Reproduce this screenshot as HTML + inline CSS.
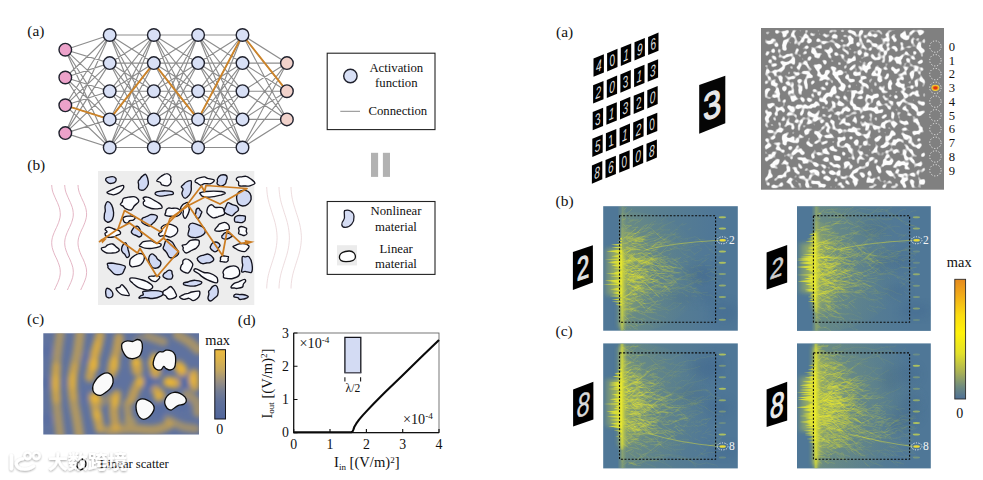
<!DOCTYPE html>
<html lang="en"><head><meta charset="utf-8"><title>Figure</title>
<style>
html,body{margin:0;padding:0;background:#fff;overflow:hidden}
svg{display:block;font-family:'Liberation Serif', 'DejaVu Serif', serif;fill:#111}
</style></head>
<body>
<svg width="983" height="480" viewBox="0 0 983 480">
<rect x="0" y="0" width="983" height="480" fill="#fff"/>
<text x="27.3" y="36.2" font-size="15.4">(a)</text>
<text x="27.3" y="170" font-size="15.4">(b)</text>
<text x="27" y="323.5" font-size="15.4">(c)</text>
<text x="237.8" y="324.9" font-size="15.4">(d)</text>
<text x="556" y="37" font-size="15.4">(a)</text>
<text x="555.6" y="205.6" font-size="15.4">(b)</text>
<text x="555.6" y="336.4" font-size="15.4">(c)</text>
<g id="net">
<path d="M65.3 49.7L109.7 35M65.3 49.7L109.7 63.1M65.3 49.7L109.7 91.2M65.3 49.7L109.7 119.4M65.3 49.7L109.7 147.5M65.3 77.5L109.7 35M65.3 77.5L109.7 63.1M65.3 77.5L109.7 91.2M65.3 77.5L109.7 119.4M65.3 77.5L109.7 147.5M65.3 105.3L109.7 35M65.3 105.3L109.7 63.1M65.3 105.3L109.7 91.2M65.3 105.3L109.7 119.4M65.3 105.3L109.7 147.5M65.3 133.1L109.7 35M65.3 133.1L109.7 63.1M65.3 133.1L109.7 91.2M65.3 133.1L109.7 119.4M65.3 133.1L109.7 147.5M109.7 35L153.8 35M109.7 35L153.8 63.1M109.7 35L153.8 91.2M109.7 35L153.8 119.4M109.7 35L153.8 147.5M109.7 63.1L153.8 35M109.7 63.1L153.8 63.1M109.7 63.1L153.8 91.2M109.7 63.1L153.8 119.4M109.7 63.1L153.8 147.5M109.7 91.2L153.8 35M109.7 91.2L153.8 63.1M109.7 91.2L153.8 91.2M109.7 91.2L153.8 119.4M109.7 91.2L153.8 147.5M109.7 119.4L153.8 35M109.7 119.4L153.8 63.1M109.7 119.4L153.8 91.2M109.7 119.4L153.8 119.4M109.7 119.4L153.8 147.5M109.7 147.5L153.8 35M109.7 147.5L153.8 63.1M109.7 147.5L153.8 91.2M109.7 147.5L153.8 119.4M109.7 147.5L153.8 147.5M153.8 35L198.1 35M153.8 35L198.1 63.1M153.8 35L198.1 91.2M153.8 35L198.1 119.4M153.8 35L198.1 147.5M153.8 63.1L198.1 35M153.8 63.1L198.1 63.1M153.8 63.1L198.1 91.2M153.8 63.1L198.1 119.4M153.8 63.1L198.1 147.5M153.8 91.2L198.1 35M153.8 91.2L198.1 63.1M153.8 91.2L198.1 91.2M153.8 91.2L198.1 119.4M153.8 91.2L198.1 147.5M153.8 119.4L198.1 35M153.8 119.4L198.1 63.1M153.8 119.4L198.1 91.2M153.8 119.4L198.1 119.4M153.8 119.4L198.1 147.5M153.8 147.5L198.1 35M153.8 147.5L198.1 63.1M153.8 147.5L198.1 91.2M153.8 147.5L198.1 119.4M153.8 147.5L198.1 147.5M198.1 35L242.5 35M198.1 35L242.5 63.1M198.1 35L242.5 91.2M198.1 35L242.5 119.4M198.1 35L242.5 147.5M198.1 63.1L242.5 35M198.1 63.1L242.5 63.1M198.1 63.1L242.5 91.2M198.1 63.1L242.5 119.4M198.1 63.1L242.5 147.5M198.1 91.2L242.5 35M198.1 91.2L242.5 63.1M198.1 91.2L242.5 91.2M198.1 91.2L242.5 119.4M198.1 91.2L242.5 147.5M198.1 119.4L242.5 35M198.1 119.4L242.5 63.1M198.1 119.4L242.5 91.2M198.1 119.4L242.5 119.4M198.1 119.4L242.5 147.5M198.1 147.5L242.5 35M198.1 147.5L242.5 63.1M198.1 147.5L242.5 91.2M198.1 147.5L242.5 119.4M198.1 147.5L242.5 147.5M242.5 35L286.9 63.1M242.5 35L286.9 91.2M242.5 35L286.9 119.4M242.5 63.1L286.9 63.1M242.5 63.1L286.9 91.2M242.5 63.1L286.9 119.4M242.5 91.2L286.9 63.1M242.5 91.2L286.9 91.2M242.5 91.2L286.9 119.4M242.5 119.4L286.9 63.1M242.5 119.4L286.9 91.2M242.5 119.4L286.9 119.4M242.5 147.5L286.9 63.1M242.5 147.5L286.9 91.2M242.5 147.5L286.9 119.4" stroke="#8d8d8d" stroke-width="1.15" fill="none"/>
<polyline points="65.3,105.3 109.7,119.4 153.8,63.1 198.1,119.4 242.5,35 286.9,91.2" stroke="#cc842a" stroke-width="1.9" fill="none" stroke-linejoin="round"/>
<circle cx="65.3" cy="49.7" r="6.3" fill="#eca2ca" stroke="#20222e" stroke-width="1.4"/>
<circle cx="65.3" cy="77.5" r="6.3" fill="#eca2ca" stroke="#20222e" stroke-width="1.4"/>
<circle cx="65.3" cy="105.3" r="6.3" fill="#eca2ca" stroke="#20222e" stroke-width="1.4"/>
<circle cx="65.3" cy="133.1" r="6.3" fill="#eca2ca" stroke="#20222e" stroke-width="1.4"/>
<circle cx="109.7" cy="35" r="6.3" fill="#d8e0f6" stroke="#20222e" stroke-width="1.4"/>
<circle cx="109.7" cy="63.1" r="6.3" fill="#d8e0f6" stroke="#20222e" stroke-width="1.4"/>
<circle cx="109.7" cy="91.2" r="6.3" fill="#d8e0f6" stroke="#20222e" stroke-width="1.4"/>
<circle cx="109.7" cy="119.4" r="6.3" fill="#d8e0f6" stroke="#20222e" stroke-width="1.4"/>
<circle cx="109.7" cy="147.5" r="6.3" fill="#d8e0f6" stroke="#20222e" stroke-width="1.4"/>
<circle cx="153.8" cy="35" r="6.3" fill="#d8e0f6" stroke="#20222e" stroke-width="1.4"/>
<circle cx="153.8" cy="63.1" r="6.3" fill="#d8e0f6" stroke="#20222e" stroke-width="1.4"/>
<circle cx="153.8" cy="91.2" r="6.3" fill="#d8e0f6" stroke="#20222e" stroke-width="1.4"/>
<circle cx="153.8" cy="119.4" r="6.3" fill="#d8e0f6" stroke="#20222e" stroke-width="1.4"/>
<circle cx="153.8" cy="147.5" r="6.3" fill="#d8e0f6" stroke="#20222e" stroke-width="1.4"/>
<circle cx="198.1" cy="35" r="6.3" fill="#d8e0f6" stroke="#20222e" stroke-width="1.4"/>
<circle cx="198.1" cy="63.1" r="6.3" fill="#d8e0f6" stroke="#20222e" stroke-width="1.4"/>
<circle cx="198.1" cy="91.2" r="6.3" fill="#d8e0f6" stroke="#20222e" stroke-width="1.4"/>
<circle cx="198.1" cy="119.4" r="6.3" fill="#d8e0f6" stroke="#20222e" stroke-width="1.4"/>
<circle cx="198.1" cy="147.5" r="6.3" fill="#d8e0f6" stroke="#20222e" stroke-width="1.4"/>
<circle cx="242.5" cy="35" r="6.3" fill="#d8e0f6" stroke="#20222e" stroke-width="1.4"/>
<circle cx="242.5" cy="63.1" r="6.3" fill="#d8e0f6" stroke="#20222e" stroke-width="1.4"/>
<circle cx="242.5" cy="91.2" r="6.3" fill="#d8e0f6" stroke="#20222e" stroke-width="1.4"/>
<circle cx="242.5" cy="119.4" r="6.3" fill="#d8e0f6" stroke="#20222e" stroke-width="1.4"/>
<circle cx="242.5" cy="147.5" r="6.3" fill="#d8e0f6" stroke="#20222e" stroke-width="1.4"/>
<circle cx="286.9" cy="63.1" r="6.3" fill="#f1d2cb" stroke="#20222e" stroke-width="1.4"/>
<circle cx="286.9" cy="91.2" r="6.3" fill="#f1d2cb" stroke="#20222e" stroke-width="1.4"/>
<circle cx="286.9" cy="119.4" r="6.3" fill="#f1d2cb" stroke="#20222e" stroke-width="1.4"/>
</g>
<g id="lega">
<rect x="327.2" y="53.2" width="107.8" height="76.4" fill="#fff" stroke="#222" stroke-width="1.1"/>
<circle cx="350.4" cy="76" r="6.7" fill="#d8e0f6" stroke="#20222e" stroke-width="1.4"/>
<text x="396.3" y="72.2" font-size="12.75" text-anchor="middle">Activation</text>
<text x="396.3" y="86.6" font-size="12.75" text-anchor="middle">function</text>
<line x1="340.3" y1="111.3" x2="360" y2="111.3" stroke="#8a8a8a" stroke-width="1"/>
<text x="397.8" y="114.8" font-size="12.75" text-anchor="middle">Connection</text>
<rect x="371" y="152.8" width="7.1" height="24.1" fill="#b2b2b2"/>
<rect x="382.9" y="152.8" width="7.1" height="24.1" fill="#b2b2b2"/>
</g>
<g id="legb">
<rect x="327.2" y="201.5" width="107.8" height="72.9" fill="#fff" stroke="#222" stroke-width="1.1"/>
<path d="M344.6 210.6C348.5 209.2 353.6 211.2 354 216.6C354.4 222.4 350.4 227.4 345.4 227.4C340.6 227.4 341.2 223 343.6 220.2C346 217.4 343.2 213.4 344.6 210.6Z" fill="#d5dcf3" stroke="#1c1c28" stroke-width="1.3"/>
<rect x="337" y="245.2" width="20" height="20.2" fill="#ebebeb"/>
<path d="M339.4 257.2C339.4 253.2 344 251.2 349 251C353.4 250.8 355.6 254.2 355.4 257.2C355.2 260.4 350.4 261.6 346 261.6C342.4 261.6 339.4 260.4 339.4 257.2Z" fill="#fff" stroke="#111" stroke-width="1.3"/>
<text x="396" y="215.4" font-size="12.75" text-anchor="middle">Nonlinear</text>
<text x="396" y="230.7" font-size="12.75" text-anchor="middle">material</text>
<text x="396.2" y="252.6" font-size="12.75" text-anchor="middle">Linear</text>
<text x="396" y="267.6" font-size="12.75" text-anchor="middle">material</text>
</g>
<g id="scat">
<rect x="98" y="171" width="156.3" height="134" fill="#ededed"/>
<polyline points="51.7,185 51.9,187.5 52.3,190 53,192.5 54,195 55.1,197.5 56.2,200 57.4,202.5 58.4,205 59.3,207.5 59.9,210 60.2,212.5 60.3,215 60,217.5 59.4,220 58.6,222.5 57.6,225 56.5,227.5 55.3,230 54.2,232.5 53.2,235 52.4,237.5 51.9,240 51.7,242.5 51.8,245 52.2,247.5 52.9,250 53.8,252.5 54.8,255 56,257.5 57.2,260 58.2,262.5 59.1,265 59.8,267.5 60.2,270 60.3,272.5 60.1,275 59.6,277.5 58.8,280 57.8,282.5 56.7,285 55.5,287.5 54.4,290" fill="none" stroke="#dfa9bb" stroke-width="0.85"/>
<polyline points="64.7,185 64.9,187.5 65.3,190 66,192.5 67,195 68.1,197.5 69.2,200 70.4,202.5 71.4,205 72.3,207.5 72.9,210 73.2,212.5 73.3,215 73,217.5 72.4,220 71.6,222.5 70.6,225 69.5,227.5 68.3,230 67.2,232.5 66.2,235 65.4,237.5 64.9,240 64.7,242.5 64.8,245 65.2,247.5 65.9,250 66.8,252.5 67.8,255 69,257.5 70.2,260 71.2,262.5 72.1,265 72.8,267.5 73.2,270 73.3,272.5 73.1,275 72.6,277.5 71.8,280 70.8,282.5 69.7,285 68.5,287.5 67.4,290" fill="none" stroke="#dfa9bb" stroke-width="0.85"/>
<polyline points="78,185 78.2,187.5 78.6,190 79.3,192.5 80.3,195 81.4,197.5 82.5,200 83.7,202.5 84.7,205 85.6,207.5 86.2,210 86.5,212.5 86.6,215 86.3,217.5 85.7,220 84.9,222.5 83.9,225 82.8,227.5 81.6,230 80.5,232.5 79.5,235 78.7,237.5 78.2,240 78,242.5 78.1,245 78.5,247.5 79.2,250 80.1,252.5 81.1,255 82.3,257.5 83.5,260 84.5,262.5 85.4,265 86.1,267.5 86.5,270 86.6,272.5 86.4,275 85.9,277.5 85.1,280 84.1,282.5 83,285 81.8,287.5 80.7,290" fill="none" stroke="#dfa9bb" stroke-width="0.85"/>
<polyline points="266.7,187 266.8,189.5 267,192.1 267.3,194.6 267.7,197.2 268.2,199.7 268.8,202.2 269.5,204.8 270.3,207.3 271.1,209.8 271.9,212.4 272.7,214.9 273.5,217.4 274.3,220 275,222.5 275.6,225.1 276.1,227.6 276.5,230.1 276.8,232.7 277,235.2 277.1,237.8 277,240.3 276.8,242.8 276.5,245.4 276.1,247.9 275.6,250.4 275,253 274.3,255.5 273.5,258.1 272.7,260.6 271.9,263.1 271.1,265.7 270.3,268.2 269.5,270.7 268.8,273.3 268.2,275.8 267.7,278.4 267.3,280.9 267,283.4 266.8,286 266.7,288.5" fill="none" stroke="#e9d3d6" stroke-width="0.8"/>
<polyline points="279,187 279.1,189.5 279.3,192.1 279.6,194.6 280,197.2 280.5,199.7 281.1,202.2 281.8,204.8 282.6,207.3 283.4,209.8 284.2,212.4 285,214.9 285.8,217.4 286.6,220 287.3,222.5 287.9,225.1 288.4,227.6 288.8,230.1 289.1,232.7 289.3,235.2 289.4,237.8 289.3,240.3 289.1,242.8 288.8,245.4 288.4,247.9 287.9,250.4 287.3,253 286.6,255.5 285.8,258.1 285,260.6 284.2,263.1 283.4,265.7 282.6,268.2 281.8,270.7 281.1,273.3 280.5,275.8 280,278.4 279.6,280.9 279.3,283.4 279.1,286 279,288.5" fill="none" stroke="#e9d3d6" stroke-width="0.8"/>
<polyline points="291,187 291.1,189.5 291.3,192.1 291.6,194.6 292,197.2 292.5,199.7 293.1,202.2 293.8,204.8 294.6,207.3 295.4,209.8 296.2,212.4 297,214.9 297.8,217.4 298.6,220 299.3,222.5 299.9,225.1 300.4,227.6 300.8,230.1 301.1,232.7 301.3,235.2 301.4,237.8 301.3,240.3 301.1,242.8 300.8,245.4 300.4,247.9 299.9,250.4 299.3,253 298.6,255.5 297.8,258.1 297,260.6 296.2,263.1 295.4,265.7 294.6,268.2 293.8,270.7 293.1,273.3 292.5,275.8 292,278.4 291.6,280.9 291.3,283.4 291.1,286 291,288.5" fill="none" stroke="#e9d3d6" stroke-width="0.8"/>
<path d="M116.1 180C116.1 180.7 115.7 181.3 115.1 181.9C114.5 182.4 113.7 183 112.7 183.2C111.7 183.5 110.2 183.6 109.2 183.4C108.3 183.2 107.6 182.4 107 181.8C106.4 181.3 105.7 180.6 105.6 180C105.6 179.4 105.9 178.5 106.5 178C107.2 177.5 108.4 177.3 109.5 177.1C110.5 176.9 111.7 176.5 112.7 176.7C113.7 176.8 114.9 177.4 115.5 178C116.1 178.5 116.2 179.3 116.1 180Z" fill="#d0d9f4" stroke="#12121e" stroke-width="1.35"/>
<path d="M148.3 184.1C147.8 185.9 146.1 188.2 144.9 189.2C143.7 190.2 142.2 190.3 141.1 190.2C140.1 190.1 139.1 189.3 138.7 188.4C138.3 187.4 138.7 185.6 138.6 184.5C138.5 183.3 137.9 182.3 138.2 181.4C138.4 180.5 139.4 179.8 140.1 178.9C140.7 178.1 141.1 177.2 142.1 176.4C143 175.6 144.7 174 145.6 174.3C146.5 174.6 147.1 176.6 147.6 178.2C148 179.8 148.7 182.3 148.3 184.1Z" fill="#d0d9f4" stroke="#12121e" stroke-width="1.35"/>
<path d="M170.6 179.1C170.7 180 171.6 180.8 171.2 181.9C170.8 183 169.7 185.1 168.2 185.6C166.7 186.1 163.5 185.4 162.1 184.9C160.8 184.3 161.1 182.9 160.2 182.3C159.4 181.6 157 181.6 156.7 181C156.5 180.4 157.8 179.3 158.5 178.5C159.3 177.7 159.9 177.1 161.2 176.3C162.5 175.5 164.9 173.6 166.5 173.6C168 173.5 169.9 175.1 170.6 176.1C171.3 177 170.5 178.1 170.6 179.1Z" fill="#fbfcfe" stroke="#12121e" stroke-width="1.35"/>
<path d="M214.3 180C214.8 180.9 212.3 183 210.7 183.6C209.1 184.2 206.2 183.4 204.5 183.7C202.9 184 201.9 185.2 200.8 185.2C199.7 185.2 198.9 184.1 197.9 183.5C197 182.9 195.3 182.4 195.1 181.7C194.9 180.9 195.6 179.7 196.5 179C197.3 178.3 199 178 200.3 177.6C201.7 177.2 203.3 176.8 204.5 176.9C205.7 177 206.1 177.8 207.7 178.4C209.3 178.9 213.8 179.1 214.3 180Z" fill="#fbfcfe" stroke="#12121e" stroke-width="1.35"/>
<path d="M227.2 177.4C227.4 178.3 226.7 179.4 226.4 180.4C226 181.4 226.2 182.7 225.4 183.7C224.5 184.6 222.3 185.9 221.1 186.1C219.9 186.3 218.9 185.3 218.2 184.8C217.5 184.4 217.1 183.9 217 183.3C216.9 182.7 217.4 182.1 217.5 181.4C217.6 180.7 216.9 179.9 217.5 178.8C218 177.8 219.5 175.9 220.8 175.2C222.2 174.6 224.3 174.7 225.4 175C226.5 175.4 227.1 176.5 227.2 177.4Z" fill="#d0d9f4" stroke="#12121e" stroke-width="1.35"/>
<path d="M255 183.2C254.8 184.3 251.6 185.3 249.9 185.8C248.1 186.3 246.1 186 244.3 186C242.5 186 239.9 186.3 239 185.6C238 185 239 182.9 238.6 182C238.1 181 236.6 180.6 236.4 179.9C236.2 179.1 236.6 178 237.4 177.5C238.2 177 239.8 177 241.3 176.8C242.8 176.6 244.7 176 246.3 176.4C247.9 176.7 249.4 177.9 250.9 179C252.3 180.2 255.1 182 255 183.2Z" fill="#fbfcfe" stroke="#12121e" stroke-width="1.35"/>
<path d="M123.7 187.5C123.6 188.3 122.9 189.1 122.1 190C121.4 190.9 120.5 192.1 119 192.9C117.6 193.7 114.9 194.6 113.5 194.8C112.1 195 111.5 194.4 110.6 194.2C109.8 194 109.1 194 108.5 193.6C107.9 193.3 106.6 192.7 107.2 192.1C107.8 191.4 110.6 190.4 112.1 189.7C113.6 188.9 114.6 188.3 116.3 187.5C118.1 186.8 121.6 185.3 122.8 185.3C124 185.3 123.8 186.7 123.7 187.5Z" fill="#fbfcfe" stroke="#12121e" stroke-width="1.35"/>
<path d="M173 194.2C172.3 194.8 169.2 194.9 167.8 195.1C166.4 195.4 165.9 195.6 164.5 195.7C163.2 195.9 161.2 196.3 159.7 196.1C158.2 195.9 156.2 195.1 155.5 194.5C154.8 194 155.1 193.2 155.5 192.7C155.9 192.2 157 191.9 157.9 191.6C158.8 191.4 159.8 191.4 161 191.2C162.3 191.1 163.6 190.7 165.4 190.8C167.3 190.9 170.9 191.2 172.2 191.7C173.5 192.3 173.8 193.7 173 194.2Z" fill="#d0d9f4" stroke="#12121e" stroke-width="1.35"/>
<path d="M191.2 190.4C190.9 191.8 190.5 193.6 189.4 194.9C188.3 196.2 186.1 198.4 184.9 198.2C183.6 198 182.2 195.1 181.9 193.6C181.6 192.1 183.2 190.4 183.1 189.3C183 188.1 181.3 187.6 181.3 186.8C181.4 185.9 182.7 185.3 183.5 184.5C184.3 183.7 184.9 182.6 186.2 182C187.4 181.4 190.2 180 191.1 180.8C191.9 181.5 191.2 184.7 191.2 186.3C191.2 187.9 191.5 188.9 191.2 190.4Z" fill="#d0d9f4" stroke="#12121e" stroke-width="1.35"/>
<path d="M225.2 193.2C225 193.8 222.4 194.6 220.6 195.2C218.7 195.7 216.7 196.2 214.2 196.6C211.7 196.9 207.9 197.4 205.8 197.2C203.7 197.1 202.6 196.2 201.8 195.8C200.9 195.3 201 195 200.7 194.5C200.4 194 199.2 193.4 200 192.9C200.9 192.4 203.7 191.8 206 191.5C208.2 191.2 211.1 191.1 213.7 191.1C216.3 191.1 219.6 191.2 221.5 191.5C223.4 191.9 225.3 192.6 225.2 193.2Z" fill="#fbfcfe" stroke="#12121e" stroke-width="1.35"/>
<path d="M251.1 199.3C250.7 201.2 249.2 203.2 247.8 204.3C246.5 205.4 244.3 206 242.7 206C241.1 205.9 239.4 205 238.4 204C237.4 203.1 237.2 201.3 236.9 200.1C236.6 198.9 236.5 197.9 236.6 196.8C236.8 195.6 237 194.3 237.7 193.4C238.4 192.4 239.5 191.5 240.8 191C242.1 190.5 243.9 189.9 245.5 190.3C247 190.7 249.1 191.9 250 193.4C250.9 194.9 251.4 197.5 251.1 199.3Z" fill="#d0d9f4" stroke="#12121e" stroke-width="1.35"/>
<path d="M138.8 201.2C138.7 202.7 135.7 204.3 134.4 205.8C133.1 207.3 132.7 209.6 131.2 210C129.7 210.5 126.7 209.1 125.4 208.5C124 207.8 123.9 206.8 123 206.1C122.2 205.5 120.5 205.2 120.3 204.4C120.2 203.7 121.7 202.9 122.2 201.9C122.7 200.9 122.4 199.3 123.4 198.5C124.4 197.7 126.3 197.5 128.2 197.2C130.2 197 133.3 196.2 135 196.9C136.8 197.5 139 199.7 138.8 201.2Z" fill="#fbfcfe" stroke="#12121e" stroke-width="1.35"/>
<path d="M162 207.8C161.5 208.6 159.2 208.6 157.5 208.8C155.7 208.9 153.7 209.1 151.4 208.5C149.2 207.9 145.3 206.4 144 205.3C142.7 204.2 143.3 202.7 143.4 201.9C143.6 201.2 144.8 201.5 144.7 200.8C144.7 200.2 142.7 198.6 143.1 198C143.6 197.4 145.5 196.8 147.4 197.2C149.2 197.5 152 199.1 154.2 200.3C156.3 201.4 158.9 202.8 160.2 204C161.5 205.3 162.4 207 162 207.8Z" fill="#fbfcfe" stroke="#12121e" stroke-width="1.35"/>
<path d="M113.6 212.5C113.8 214.8 113.1 217.5 112.5 219C111.9 220.5 110.8 221.2 109.9 221.7C109 222.2 108.1 222.4 107.1 222C106.2 221.6 104.8 220.7 104.4 219.3C103.9 217.9 104.4 215.1 104.5 213.7C104.7 212.4 105.2 212.4 105.3 211.1C105.4 209.8 104.7 207.6 105.1 206C105.5 204.5 106.5 201.8 107.6 201.6C108.7 201.4 110.6 203 111.6 204.8C112.6 206.6 113.4 210.1 113.6 212.5Z" fill="#d0d9f4" stroke="#12121e" stroke-width="1.35"/>
<path d="M189.3 210.1C189.1 211.5 188.5 213 187.9 214.4C187.2 215.8 186 218.3 185.2 218.3C184.3 218.4 183.3 215.9 183 214.6C182.7 213.4 183.7 211.8 183.3 210.8C182.9 209.8 180.7 209.5 180.6 208.6C180.5 207.6 181.8 205.8 182.5 205C183.2 204.1 184 203.9 184.9 203.5C185.7 203.1 187 202.1 187.6 202.6C188.2 203 188.4 204.9 188.7 206.2C189 207.4 189.4 208.7 189.3 210.1Z" fill="#fbfcfe" stroke="#12121e" stroke-width="1.35"/>
<path d="M181.3 212.3C181.3 213.6 178.8 215.6 177.2 216.2C175.6 216.9 173.2 216.2 171.7 216.2C170.2 216.2 169.4 216.4 168.3 216.2C167.2 216 165.5 215.7 165 215C164.6 214.4 165.6 213.1 165.7 212.3C165.9 211.5 165.7 210.9 166.1 210.2C166.5 209.5 167.2 208.4 168.2 208.1C169.1 207.7 170.3 208.2 171.8 208.3C173.3 208.3 175.6 207.8 177.2 208.4C178.7 209.1 181.3 211 181.3 212.3Z" fill="#fbfcfe" stroke="#12121e" stroke-width="1.35"/>
<path d="M224.4 214.1C223.6 215.6 219.7 216.1 217.9 216.8C216 217.4 214.7 218.1 213.3 217.9C211.9 217.7 210.6 216.3 209.5 215.5C208.5 214.6 207.4 213.8 207 212.8C206.6 211.8 206.9 210.6 207.2 209.5C207.4 208.4 207.6 207.2 208.5 206.4C209.3 205.6 211 204.6 212.1 204.8C213.2 204.9 213.5 206.8 215.2 207.3C217 207.9 221 206.7 222.5 207.8C224 209 225.2 212.7 224.4 214.1Z" fill="#fbfcfe" stroke="#12121e" stroke-width="1.35"/>
<path d="M238.5 210.1C238.2 211.2 236.2 212 235.1 213C234 213.9 233.2 215.6 232 215.8C230.7 216 228.7 214.9 227.5 214.3C226.2 213.6 224.9 212.9 224.4 212C224 211.1 224.6 209.8 224.8 208.9C225 207.9 225.3 207.4 225.9 206.4C226.4 205.3 226.9 202.9 228 202.6C229.1 202.4 230.9 204.1 232.4 204.6C233.8 205.2 235.8 205.2 236.8 206.1C237.8 207 238.7 208.9 238.5 210.1Z" fill="#d0d9f4" stroke="#12121e" stroke-width="1.35"/>
<path d="M200.9 214.3C200.6 215.1 200.5 216 200 216.7C199.5 217.4 198.4 218.6 197.8 218.6C197.1 218.6 196.4 217.4 196 216.8C195.6 216.1 195.3 215.4 195.3 214.6C195.3 213.9 195.8 213.3 195.9 212.5C196.1 211.6 195.8 210 196.3 209.3C196.8 208.6 198.2 208.1 198.9 208.3C199.5 208.5 199.8 209.9 200.3 210.4C200.8 211 201.8 211.1 201.9 211.8C202 212.4 201.2 213.5 200.9 214.3Z" fill="#d0d9f4" stroke="#12121e" stroke-width="1.35"/>
<path d="M245.3 218.5C245.3 219.3 245.4 220.1 244.9 220.7C244.4 221.4 243.2 222.2 242.2 222.5C241.2 222.7 239.8 222.5 238.6 222.3C237.4 222.2 235.8 222.2 235.1 221.8C234.4 221.3 234.4 220.2 234.4 219.5C234.4 218.7 234.4 217.9 235 217.2C235.6 216.6 236.9 216 237.9 215.7C239 215.4 240.2 215.5 241.4 215.6C242.6 215.7 244.4 215.6 245.1 216.1C245.8 216.6 245.4 217.8 245.3 218.5Z" fill="#d0d9f4" stroke="#12121e" stroke-width="1.35"/>
<path d="M135.1 217.2C135.4 217.9 134.1 219.5 133.2 220.1C132.3 220.7 130.6 220.2 129.7 220.7C128.8 221.2 128.5 222.7 127.7 223C126.9 223.3 125.4 222.8 124.7 222.4C124 222 123.7 221.1 123.4 220.3C123.2 219.5 122.7 218.5 123.1 217.8C123.6 217.1 125.2 216.6 126.1 216.3C127.1 216 127.9 216.1 128.8 216.1C129.7 216.1 130.4 215.9 131.4 216.1C132.5 216.3 134.8 216.5 135.1 217.2Z" fill="#fbfcfe" stroke="#12121e" stroke-width="1.35"/>
<path d="M155.1 221.2C154.3 222.4 153.4 222.9 152.5 223.7C151.5 224.5 150.6 225.8 149.5 226C148.3 226.2 146.8 225.3 145.5 224.7C144.3 224.1 142.6 223.5 142 222.5C141.4 221.5 141.5 219.8 142 218.9C142.5 218 144.1 217.6 145.1 217.1C146 216.6 146.5 216.5 147.6 216.1C148.7 215.6 150.1 214.3 151.7 214.3C153.3 214.4 156.7 215.3 157.3 216.4C157.8 217.6 155.9 220 155.1 221.2Z" fill="#d0d9f4" stroke="#12121e" stroke-width="1.35"/>
<path d="M120.5 233.7C120.1 234.5 118 234.8 116.8 235.4C115.6 236 114.8 236.8 113.2 237C111.6 237.3 108.5 237.4 107.1 236.8C105.7 236.2 104.9 234.5 104.9 233.6C104.9 232.8 107.1 232.5 107.1 231.8C107.2 231 104.8 229.9 105 229.2C105.3 228.4 107.1 227.2 108.6 227.1C110.1 227.1 112.2 228.4 113.9 229C115.7 229.6 118 229.8 119.1 230.6C120.2 231.4 120.9 232.9 120.5 233.7Z" fill="#fbfcfe" stroke="#12121e" stroke-width="1.35"/>
<path d="M141.9 234.7C141.7 235.6 140.2 236.9 139.3 237C138.3 237.1 136.9 235.8 136 235.3C135 234.9 134.2 235 133.4 234.5C132.6 233.9 131.4 232.9 131.3 232.1C131.2 231.2 132.1 230.1 132.6 229.3C133.1 228.5 133.6 227.6 134.5 227.1C135.3 226.6 136.8 225.9 137.7 226.3C138.6 226.6 139.3 228.1 139.8 229C140.2 229.9 140 230.5 140.4 231.4C140.7 232.3 142 233.7 141.9 234.7Z" fill="#d0d9f4" stroke="#12121e" stroke-width="1.35"/>
<path d="M177.5 228.5C178 229.8 177.8 231.9 176.7 233.4C175.6 234.8 172.8 236.8 170.8 237.1C168.8 237.5 166.6 235.6 164.8 235.5C163 235.3 161 236.5 160 236.2C159 235.9 158.4 234.4 158.7 233.5C159.1 232.7 161.6 232.2 162 231.1C162.4 230 160.5 228.2 161.4 227.1C162.3 225.9 165.4 224.5 167.4 224.2C169.4 223.9 171.8 224.7 173.4 225.4C175.1 226.1 176.9 227.2 177.5 228.5Z" fill="#fbfcfe" stroke="#12121e" stroke-width="1.35"/>
<path d="M204.8 233.1C204.3 234.4 202.6 235.4 201 236.2C199.4 236.9 197.3 237.8 195.1 237.7C193 237.6 189.3 236.6 188.2 235.5C187.2 234.3 188.7 231.8 188.9 230.7C189 229.6 189.3 229.6 189.3 228.9C189.2 228.2 188.3 227.2 188.7 226.3C189.1 225.3 190.2 223.4 191.7 223.2C193.3 222.9 196.1 223.9 198.2 224.8C200.3 225.6 203.3 226.9 204.4 228.3C205.5 229.7 205.4 231.8 204.8 233.1Z" fill="#d0d9f4" stroke="#12121e" stroke-width="1.35"/>
<path d="M229.2 226.7C229.3 227.5 229.9 228.6 229 229.2C228.2 229.8 225.7 229.9 224.1 230.3C222.5 230.6 221 231.2 219.5 231.2C218 231.2 215.5 230.9 214.9 230.4C214.3 229.8 215.6 228.5 216.1 227.8C216.5 227.2 217.2 226.9 217.7 226.3C218.2 225.7 218 224.9 219.1 224.2C220.3 223.6 222.9 222.3 224.5 222.3C226 222.3 227.5 223.6 228.3 224.4C229.1 225.1 229.1 225.9 229.2 226.7Z" fill="#fbfcfe" stroke="#12121e" stroke-width="1.35"/>
<path d="M246.2 231C246.2 231.9 247.2 233 246.9 233.7C246.5 234.5 245.2 235.3 244.3 235.5C243.4 235.7 242.3 235 241.3 234.7C240.4 234.4 239 234.2 238.6 233.6C238.3 233 239.1 231.9 239.1 231C239.1 230.1 238.3 229.1 238.6 228.3C238.9 227.6 240.1 226.7 241 226.5C241.9 226.3 243.1 226.9 244.1 227.2C245 227.5 246.3 227.8 246.6 228.4C247 229.1 246.1 230.1 246.2 231Z" fill="#fbfcfe" stroke="#12121e" stroke-width="1.35"/>
<path d="M232.4 236C232.3 236.5 230.9 237.1 230.2 237.5C229.5 238 229 238.4 228.1 238.7C227.2 238.9 226 239.2 225 239.1C224 238.9 222.8 238.4 222.2 237.9C221.7 237.4 221.7 236.6 221.9 236C222 235.4 222.7 235 223.2 234.5C223.7 233.9 224.1 233 224.9 232.8C225.8 232.6 227.2 233 228.2 233.2C229.1 233.5 229.9 233.8 230.6 234.3C231.3 234.7 232.5 235.5 232.4 236Z" fill="#d0d9f4" stroke="#12121e" stroke-width="1.35"/>
<path d="M119.3 249.9C119.3 250.8 117.2 252.1 115.9 252.6C114.5 253.1 112.6 253 111.1 253.1C109.5 253.1 108 253.3 106.7 253C105.4 252.7 104 251.9 103.1 251.1C102.2 250.3 101 249 101.4 248.3C101.7 247.6 104.4 247.4 105.4 246.9C106.5 246.3 106.4 245.4 107.6 245C108.8 244.5 111.2 243.7 112.6 244C114 244.3 114.8 245.8 116 246.7C117.1 247.7 119.3 248.9 119.3 249.9Z" fill="#fbfcfe" stroke="#12121e" stroke-width="1.35"/>
<path d="M128.1 249.7C128.5 251.3 129.6 254 129.4 255.3C129.2 256.6 127.7 257.8 126.9 257.6C126.2 257.4 125.3 255 124.7 254.2C124.1 253.4 123.8 253.7 123.3 253.1C122.7 252.4 121.8 251.4 121.6 250.3C121.4 249.2 121.8 247.6 122.2 246.6C122.5 245.6 123 245 123.6 244.3C124.1 243.7 124.9 242.4 125.5 242.7C126.2 242.9 126.8 244.8 127.3 246C127.7 247.2 127.8 248.2 128.1 249.7Z" fill="#d0d9f4" stroke="#12121e" stroke-width="1.35"/>
<path d="M160.8 243.9C161.6 244.5 161.2 245.8 159.7 246.6C158.2 247.3 154.4 248.1 151.9 248.3C149.5 248.6 146.6 248.4 144.9 248.1C143.1 247.9 142.5 247.3 141.6 246.9C140.7 246.5 139.5 246.2 139.3 245.7C139.2 245.3 140.1 244.8 140.8 244.1C141.5 243.4 141.7 242.3 143.5 241.7C145.2 241.2 149.4 240.8 151.3 240.9C153.3 241.1 153.6 242.2 155.1 242.7C156.7 243.1 160 243.2 160.8 243.9Z" fill="#fbfcfe" stroke="#12121e" stroke-width="1.35"/>
<path d="M175.1 246.8C176.2 248.6 178.8 251 178.7 252.8C178.6 254.5 176.1 256.4 174.5 257.2C173 258 170.8 258.1 169.5 257.4C168.3 256.7 167.6 254 166.9 253C166.3 252 166.2 252 165.6 251.3C165 250.5 163.4 249.6 163.2 248.6C162.9 247.6 163.6 246.7 164.2 245.2C164.7 243.7 165.3 240.1 166.6 239.6C168 239.1 170.7 240.8 172.1 242C173.5 243.2 174 245 175.1 246.8Z" fill="#d0d9f4" stroke="#12121e" stroke-width="1.35"/>
<path d="M198.9 244.8C198.4 246.2 197.1 247.4 195.9 248.4C194.6 249.3 193.1 249.7 191.5 250.5C189.9 251.3 187.5 253.1 186.1 253C184.7 252.9 183.6 250.9 183.1 250C182.6 249.1 183.4 248.4 183.3 247.6C183.1 246.8 181.7 245.8 182.2 245.3C182.7 244.7 185 245 186.3 244.2C187.7 243.4 188.5 241.1 190.5 240.4C192.5 239.8 197.1 239.4 198.5 240.2C199.8 240.9 199.3 243.4 198.9 244.8Z" fill="#fbfcfe" stroke="#12121e" stroke-width="1.35"/>
<path d="M218.5 247.9C218.1 248.7 218.4 249.6 217.8 250.3C217.2 250.9 216 251.8 215 251.8C214.1 251.8 212.8 250.8 212 250.1C211.2 249.5 210.4 248.5 210.2 247.7C210 246.9 210.6 246 211 245.2C211.3 244.4 211.6 243.7 212.3 243.2C213 242.6 214 242 215 242C215.9 241.9 217.4 242.3 218.2 242.9C219.1 243.5 220 244.7 220.1 245.6C220.1 246.4 218.8 247.1 218.5 247.9Z" fill="#d0d9f4" stroke="#12121e" stroke-width="1.35"/>
<path d="M248.5 247.9C248.2 248.5 247.8 248.8 247.1 249.5C246.5 250.1 245.9 251.4 244.5 251.6C243.1 251.7 240.2 250.9 238.7 250.4C237.2 249.9 236.5 249.2 235.6 248.5C234.6 247.9 232.8 247.1 232.9 246.6C233 246 235 245.6 236 245.1C237.1 244.7 237.9 244.1 239.4 243.9C240.9 243.7 243.4 243.5 245 243.9C246.6 244.2 248.3 245.2 248.9 245.9C249.5 246.6 248.8 247.3 248.5 247.9Z" fill="#fbfcfe" stroke="#12121e" stroke-width="1.35"/>
<path d="M124 270.4C123.5 271.6 123.4 273.1 121.9 273.8C120.4 274.4 116.9 275 114.9 274.3C113 273.6 111.2 270.8 110 269.7C108.9 268.6 108.3 268.3 108 267.7C107.6 267.1 108.1 266.8 108 266.1C107.9 265.4 106.8 264.1 107.4 263.6C107.9 263.1 109.7 263 111.3 263C112.8 263.1 114.2 263.4 116.5 263.9C118.8 264.4 123.8 265.2 125.1 266.3C126.3 267.3 124.5 269.1 124 270.4Z" fill="#d0d9f4" stroke="#12121e" stroke-width="1.35"/>
<path d="M143.9 255.4C144.6 256.6 144.4 258.5 143.9 260.1C143.4 261.6 142 263.6 140.7 264.7C139.3 265.7 137.1 266.1 135.7 266.4C134.2 266.8 133 267 132 266.8C131.1 266.6 130.4 265.9 130 265.2C129.6 264.5 129.6 263.6 129.7 262.6C129.8 261.6 129.7 260.4 130.4 259.2C131.1 258.1 132.6 256.7 134.2 255.8C135.7 254.8 138.2 253.4 139.8 253.3C141.4 253.3 143.2 254.3 143.9 255.4Z" fill="#fbfcfe" stroke="#12121e" stroke-width="1.35"/>
<path d="M160.7 261.7C161.1 262.8 160.6 265 159.9 266C159.1 267.1 157.5 268 156.3 268.2C155.1 268.4 153.6 268 152.6 267.5C151.6 266.9 151.1 265.7 150.5 264.7C149.9 263.7 149.4 262.9 149.1 261.7C148.8 260.4 148.4 258.6 148.9 257.4C149.3 256.1 150.8 254 152 253.9C153.2 253.8 154.9 255.7 155.9 256.6C156.8 257.4 156.7 258.3 157.5 259.1C158.3 260 160.3 260.5 160.7 261.7Z" fill="#d0d9f4" stroke="#12121e" stroke-width="1.35"/>
<path d="M191.3 268.7C190.6 270.1 189.7 272.4 188.4 272.9C187.1 273.4 184.8 272.5 183.5 271.9C182.2 271.2 180.8 270.2 180.5 269.2C180.1 268.1 181 266.3 181.3 265.4C181.7 264.5 182.4 264.5 182.7 263.7C183 262.9 182.4 261.3 183.1 260.5C183.7 259.7 185.2 258.8 186.4 258.9C187.5 258.9 188.8 259.7 189.9 260.5C190.9 261.4 192.5 262.7 192.8 264.1C193 265.4 192.1 267.2 191.3 268.7Z" fill="#fbfcfe" stroke="#12121e" stroke-width="1.35"/>
<path d="M213.7 259.8C213.5 260.9 211.3 262.1 210.1 262.6C208.9 263.1 207.5 262.8 206.2 263C205 263.2 203.8 263.9 202.6 263.7C201.4 263.5 200 262.7 199.1 261.8C198.2 260.9 197 259.3 197.3 258.3C197.5 257.3 199.5 256.4 200.6 255.9C201.7 255.4 202.7 255.5 203.8 255.2C205 254.9 206.3 253.9 207.6 254C208.8 254.1 210.4 255 211.5 256C212.5 256.9 213.9 258.7 213.7 259.8Z" fill="#d0d9f4" stroke="#12121e" stroke-width="1.35"/>
<path d="M228 258.7C228 259.3 228.5 259.8 228.2 260.4C227.9 261 227.1 261.9 226.3 262.1C225.5 262.4 224.2 261.9 223.2 261.8C222.2 261.6 220.7 261.8 220.2 261.4C219.8 261 220.6 260 220.6 259.3C220.7 258.7 220.2 258.2 220.5 257.6C220.8 257 221.5 256.1 222.4 255.8C223.2 255.6 224.4 256.1 225.4 256.2C226.4 256.4 228 256.2 228.4 256.6C228.8 257.1 228.1 258 228 258.7Z" fill="#fbfcfe" stroke="#12121e" stroke-width="1.35"/>
<path d="M252 264C252.4 266.6 252.4 270.8 251.6 272.1C250.7 273.5 248.2 272 247.1 271.9C246 271.8 245.8 271.4 244.9 271.4C243.9 271.4 242 272.8 241.6 271.8C241.2 270.8 242.6 267 242.7 265.3C242.8 263.7 242.2 263.4 242.2 261.9C242.1 260.5 241.9 257.5 242.4 256.7C242.9 255.8 244.1 256.7 245.2 256.8C246.3 256.8 247.9 255.6 249.1 256.9C250.2 258.1 251.6 261.5 252 264Z" fill="#d0d9f4" stroke="#12121e" stroke-width="1.35"/>
<path d="M172.1 273.6C172.3 274.4 172.9 275 172.8 275.9C172.7 276.7 172.4 278.2 171.6 278.7C170.9 279.3 169.2 279.2 168.2 279.1C167.3 279.1 166.5 278.7 165.7 278.3C164.9 277.9 163.6 277.5 163.3 276.8C162.9 276.1 163.1 274.8 163.6 274.1C164 273.3 165.1 272.8 165.9 272.2C166.7 271.6 167.5 270.5 168.4 270.3C169.4 270.1 171 270.4 171.6 270.9C172.2 271.5 171.9 272.8 172.1 273.6Z" fill="#d0d9f4" stroke="#12121e" stroke-width="1.35"/>
<path d="M158.7 279.1C158.3 279.7 157.9 279.9 157.4 280.3C156.8 280.8 156.3 281.5 155.4 281.6C154.6 281.7 153.2 281.3 152.3 280.9C151.4 280.6 150.8 280 150.1 279.3C149.5 278.7 148.4 277.9 148.5 277.3C148.6 276.8 150.1 276.2 150.9 276.1C151.8 275.9 152.7 276.3 153.6 276.2C154.6 276.1 155.6 275.3 156.6 275.4C157.7 275.6 159.5 276.4 159.8 277C160.1 277.6 159.1 278.5 158.7 279.1Z" fill="#fbfcfe" stroke="#12121e" stroke-width="1.35"/>
<path d="M152.7 286.6C153 288 150.7 290 148.3 290.1C146 290.3 140.9 288.5 138.6 287.6C136.2 286.7 135.2 285.3 134.1 284.5C133 283.7 132.8 283.3 132.1 282.6C131.4 282 130.3 281.3 130 280.6C129.7 279.8 129.5 278.5 130.3 278.1C131.2 277.7 133.5 277.9 135.1 278.1C136.8 278.3 138.3 278.7 140.3 279.3C142.2 279.9 144.8 280.4 146.9 281.7C149 282.9 152.5 285.2 152.7 286.6Z" fill="#fbfcfe" stroke="#12121e" stroke-width="1.35"/>
<path d="M217.7 280.1C217.7 281.2 217.9 283 216.2 282.9C214.4 282.8 209.4 280.7 207 279.6C204.5 278.5 202.9 277.3 201.7 276.4C200.4 275.5 200.5 275.1 199.2 274.1C198 273.1 194.5 271.5 194 270.6C193.5 269.7 194.5 268.5 196.2 268.8C197.8 269.1 201.7 271.8 203.9 272.5C206.2 273.2 207.5 272.3 209.6 273.1C211.7 273.8 215 275.6 216.3 276.8C217.7 277.9 217.7 279.1 217.7 280.1Z" fill="#fbfcfe" stroke="#12121e" stroke-width="1.35"/>
<path d="M239.4 270.4C239.8 271.9 240 274.2 238.9 275.5C237.8 276.9 234.6 278 232.7 278.5C230.8 279 228.9 278.6 227.4 278.5C225.9 278.3 224.3 278.2 223.6 277.5C223 276.9 223.7 275.5 223.6 274.6C223.5 273.7 222.8 273.1 223 272.2C223.2 271.3 223.7 270 224.8 269.1C225.9 268.1 227.6 267 229.6 266.5C231.5 266 234.6 265.6 236.2 266.3C237.9 266.9 238.9 268.8 239.4 270.4Z" fill="#fbfcfe" stroke="#12121e" stroke-width="1.35"/>
<path d="M200.7 284.1C200 284.7 198.5 284.9 197.3 285.3C196.2 285.6 195.3 286 193.9 286.1C192.4 286.2 190.4 286.2 188.7 285.9C187 285.7 184.6 285.1 183.8 284.6C183 284 183.5 283.1 184.2 282.7C184.8 282.3 186.9 282.3 187.8 282C188.8 281.8 188.7 281.5 189.9 281.2C191.1 280.9 193.2 280.2 195.2 280.3C197.1 280.4 200.6 281.2 201.5 281.8C202.4 282.4 201.3 283.5 200.7 284.1Z" fill="#d0d9f4" stroke="#12121e" stroke-width="1.35"/>
<path d="M245.6 281.3C245.4 282.1 243.9 283 243.4 284C242.8 285 243.5 286.4 242.4 287.1C241.3 287.9 238 288.3 236.7 288.5C235.3 288.6 235 288.1 234.2 288C233.3 287.9 231.8 288.2 231.4 287.9C230.9 287.6 230.9 286.8 231.4 286.1C231.9 285.3 233 284.2 234.2 283.4C235.4 282.7 236.9 282.4 238.6 281.8C240.3 281.1 243.2 279.4 244.3 279.4C245.5 279.3 245.8 280.5 245.6 281.3Z" fill="#fbfcfe" stroke="#12121e" stroke-width="1.35"/>
<path d="M112.6 292.7C112.9 293.6 113 294.9 112.7 295.7C112.4 296.5 111.6 297.2 110.9 297.5C110.2 297.8 109.4 297.9 108.7 297.8C107.9 297.6 106.9 297.4 106.4 296.7C106 296.1 105.9 294.8 105.8 293.9C105.7 293 105.5 292.1 105.7 291.2C105.8 290.3 106.2 288.8 106.8 288.4C107.4 288 108.6 288.6 109.3 288.9C110.1 289.3 110.6 289.9 111.1 290.5C111.7 291.2 112.4 291.8 112.6 292.7Z" fill="#d0d9f4" stroke="#12121e" stroke-width="1.35"/>
<path d="M129.3 295.3C128.9 296 126.5 295.4 125.2 295.3C123.9 295.1 122.6 295.1 121.4 294.5C120.2 293.9 118.8 292.6 117.9 291.6C117 290.6 115.9 289.2 116 288.6C116.1 287.9 117.6 287.8 118.2 287.6C118.8 287.4 119.1 287.7 119.8 287.2C120.4 286.7 121 284.4 122 284.6C122.9 284.8 124.6 287.2 125.6 288.3C126.6 289.5 127.1 290.4 127.7 291.5C128.4 292.7 129.7 294.7 129.3 295.3Z" fill="#fbfcfe" stroke="#12121e" stroke-width="1.35"/>
<path d="M163.2 292.8C163.6 293.7 162.8 295.2 161 296.1C159.2 297.1 155.1 298.3 152.5 298.5C150 298.8 147.9 297.5 145.7 297.5C143.5 297.4 140.1 298.5 139.2 298.2C138.3 298 139.8 296.6 140.5 296C141.2 295.4 142.9 295.4 143.3 294.6C143.7 293.9 141.8 292.3 143 291.6C144.3 291 148.4 290.9 151 290.7C153.6 290.6 156.7 290.4 158.8 290.8C160.8 291.1 162.8 291.9 163.2 292.8Z" fill="#d0d9f4" stroke="#12121e" stroke-width="1.35"/>
<path d="M175.2 292.2C175.7 293.4 176.9 295 176.5 296.1C176 297.2 173.8 298.3 172.4 298.7C170.9 299.2 168.9 299.2 167.9 298.7C166.8 298.2 166.7 296.6 165.9 295.9C165.2 295.2 163.6 295.1 163.2 294.4C162.8 293.6 162.8 292.1 163.3 291.2C163.9 290.4 165.3 290.1 166.5 289.3C167.7 288.5 169.3 286.5 170.5 286.5C171.7 286.5 172.8 288.5 173.6 289.4C174.4 290.4 174.7 291.1 175.2 292.2Z" fill="#fbfcfe" stroke="#12121e" stroke-width="1.35"/>
<path d="M199.6 295.2C199.3 296.4 198.5 297.5 197.4 298.4C196.3 299.3 194.5 300.6 193.1 300.6C191.7 300.6 190.5 298.5 189 298.3C187.4 298.1 185.3 299.6 183.7 299.3C182.2 299.1 179.5 297.8 179.6 296.9C179.7 296 183 294.8 184.4 294.2C185.8 293.6 187 293.7 188.2 293.4C189.5 293 190 292.4 191.8 292C193.6 291.6 197.8 290.7 199.1 291.2C200.4 291.7 199.9 294 199.6 295.2Z" fill="#fbfcfe" stroke="#12121e" stroke-width="1.35"/>
<path d="M217.7 294.9C217.1 296.4 215.3 297.5 214.1 298.5C212.9 299.5 211.5 301 210.5 301C209.5 301 208.3 299.6 208 298.5C207.7 297.3 208.8 295.3 208.9 294.1C209 293 208.4 292.3 208.6 291.6C208.9 290.8 209.7 290.4 210.4 289.6C211 288.7 211.5 287.3 212.5 286.6C213.4 286 215.2 285.1 216.1 285.6C217 286 217.7 287.8 218 289.4C218.3 290.9 218.4 293.3 217.7 294.9Z" fill="#d0d9f4" stroke="#12121e" stroke-width="1.35"/>
<path d="M248.3 296.7C248.3 297.2 246.5 298.1 245.5 298.5C244.5 298.9 243.5 299.1 242.5 299.2C241.5 299.4 240.1 299.6 239.4 299.4C238.7 299.1 239.1 298.3 238.2 297.8C237.3 297.4 234.4 297.3 233.9 296.7C233.4 296.1 234.2 294.6 235.2 294.3C236.1 293.9 238.6 294.5 239.8 294.6C241 294.6 241.3 294.5 242.2 294.5C243.1 294.6 244.1 294.7 245.1 295C246.1 295.4 248.2 296.1 248.3 296.7Z" fill="#d0d9f4" stroke="#12121e" stroke-width="1.35"/>
<polyline points="99,242 118,229 124.5,210.5 160,231.5 188,203.5 201.5,186 204.5,191.5 206,185.5 247,188.5 220,204 205,197 188.5,205.5 222.5,255.5 227.2,230.3 241,243.3 250,242.2" fill="none" stroke="#cc7d22" stroke-width="1.75" stroke-linejoin="round"/>
<polyline points="114.5,236.5 137.5,253 140,248.5 157,276.5 178.5,251.5 163.5,238 157,243.5 129.5,223 119,228.5" fill="none" stroke="#cc7d22" stroke-width="1.75" stroke-linejoin="round"/>
<polyline points="188.5,205.5 170,218.5 163.5,238" fill="none" stroke="#cc7d22" stroke-width="1.75" stroke-linejoin="round"/>
<path d="M107 238.6L100.6 239L102.2 243.4Z" fill="#cc7d22"/>
<path d="M254.6 241.7L244.6 239.9L245.4 244.9Z" fill="#cc7d22"/>
</g>
<g id="field">
<defs><clipPath id="fc"><rect x="43.3" y="333.2" width="155.7" height="101.3"/></clipPath>
<filter id="fb" x="-20%" y="-20%" width="140%" height="140%"><feGaussianBlur stdDeviation="2.7"/></filter></defs>
<g clip-path="url(#fc)">
<rect x="37.3" y="327.2" width="167.7" height="113.3" fill="#5f729f"/>
<g filter="url(#fb)" fill="none" stroke-linecap="round">
<circle cx="184.3" cy="379.5" r="8.4" fill="#4f68a6" opacity="0.8"/>
<circle cx="149.9" cy="383" r="7.8" fill="#4f68a6" opacity="0.6"/>
<circle cx="164.8" cy="365.8" r="6" fill="#4f68a6" opacity="0.5"/>
<circle cx="67.5" cy="383" r="5.4" fill="#4f68a6" opacity="0.35"/>
<circle cx="46.9" cy="383" r="6" fill="#4f68a6" opacity="0.4"/>
<circle cx="46.9" cy="350.9" r="6" fill="#4f68a6" opacity="0.3"/>
<circle cx="46.9" cy="419.6" r="6" fill="#4f68a6" opacity="0.3"/>
<circle cx="87" cy="396.7" r="5.4" fill="#4f68a6" opacity="0.35"/>
<circle cx="85.8" cy="357.8" r="5.4" fill="#4f68a6" opacity="0.3"/>
<circle cx="182" cy="403.6" r="7.2" fill="#4f68a6" opacity="0.4"/>
<circle cx="108.7" cy="383" r="4.8" fill="#4f68a6" opacity="0.3"/>
<circle cx="159.1" cy="410.5" r="6" fill="#4f68a6" opacity="0.4"/>
<path d="M60.2 332.6C59.9 334.9 58.9 341.4 58.3 346.3C57.7 351.3 56.9 356.2 56.5 362.4C56 368.5 55.6 376.5 55.6 383C55.6 389.5 56 395.2 56.5 401.3C56.9 407.4 57.7 413.9 58.3 419.6C58.9 425.3 59.9 433 60.2 435.7" stroke="#e8b036" stroke-width="9" opacity="0.5225"/>
<path d="M56.5 366.9C56.3 369.6 55.6 377.6 55.6 383C55.6 388.3 56.3 396.3 56.5 399" stroke="#e8b036" stroke-width="9" opacity="0.475"/>
<path d="M80.1 332.6C79.7 335.6 78.7 345.2 77.8 350.9C76.8 356.6 75.3 361.8 74.4 366.9C73.4 372.1 72.2 376.1 72.1 381.8C72 387.6 72.9 395.4 73.7 401.3C74.4 407.2 75.7 411.6 76.6 417.3C77.6 423.1 78.9 432.6 79.4 435.7" stroke="#e8b036" stroke-width="9.6" opacity="0.589"/>
<path d="M74.8 366.9C74.4 369.4 72.3 376.9 72.1 381.8C71.9 386.8 73.4 394.2 73.7 396.7" stroke="#e8b036" stroke-width="8.4" opacity="0.38"/>
<path d="M100 334.9C99.5 337.2 98 343.7 96.8 348.6C95.6 353.6 93.8 359.9 92.7 364.6C91.5 369.4 90.4 375.1 89.9 377.2" stroke="#e8b036" stroke-width="9.6" opacity="0.7124999999999999"/>
<path d="M93.1 396.7C93.6 399 95 405.1 96.1 410.5C97.3 415.8 99.4 425.7 100 428.8" stroke="#e8b036" stroke-width="9.6" opacity="0.7124999999999999"/>
<path d="M119 337.2C118.6 339.5 117.8 346.3 116.7 350.9C115.7 355.5 113.7 360.8 112.8 364.6C112 368.5 111.7 372.3 111.5 373.8" stroke="#e8b036" stroke-width="9.6" opacity="0.6649999999999999"/>
<path d="M116.7 394.4C116.2 396.7 113.9 402.8 113.8 408.2C113.6 413.5 115.3 423.4 115.6 426.5" stroke="#e8b036" stroke-width="9.6" opacity="0.6649999999999999"/>
<path d="M97.3 344C96.7 345.6 94.6 351.7 94.1 353.2" stroke="#e8b036" stroke-width="8.4" opacity="0.475"/>
<path d="M136.2 362.4C136.4 363.7 137.2 369 137.3 370.4" stroke="#e8b036" stroke-width="10.8" opacity="0.76"/>
<path d="M153.4 362.4C153.8 364.1 155.3 370.9 155.7 372.7" stroke="#e8b036" stroke-width="10.8" opacity="0.8075"/>
<path d="M178.6 365.8C179.1 366.7 181.4 370.6 182 371.5" stroke="#e8b036" stroke-width="10.8" opacity="0.76"/>
<path d="M168.3 381.8C169.4 382 174 382.8 175.1 383" stroke="#e8b036" stroke-width="10.8" opacity="0.8075"/>
<path d="M155.7 389.8C156.6 390.8 160.4 394.6 161.4 395.6" stroke="#e8b036" stroke-width="9.6" opacity="0.6649999999999999"/>
<path d="M193.9 373.8C194 375.9 194.5 384.3 194.6 386.4" stroke="#e8b036" stroke-width="9.6" opacity="0.76"/>
<path d="M138.9 381.8C138.3 383.2 136.3 387 135.1 389.8C133.8 392.7 132.2 397.5 131.6 399" stroke="#e8b036" stroke-width="9.6" opacity="0.6649999999999999"/>
<path d="M108.7 430.6C112.5 430.3 124 428.9 131.6 428.8C139.3 428.7 148.4 430.5 154.5 429.9C160.6 429.4 166 426.1 168.3 425.3" stroke="#e8b036" stroke-width="9.6" opacity="0.57"/>
<path d="M177.4 334.9C179.3 336 185.4 339.3 188.9 341.7C192.3 344.2 196.5 348.4 198 349.8" stroke="#e8b036" stroke-width="9.6" opacity="0.5225"/>
<path d="M147.7 336C150.3 337 161 340.8 163.7 341.7" stroke="#e8b036" stroke-width="8.4" opacity="0.475"/>
<path d="M186.6 394.4C188.1 395.6 193.8 398.2 195.7 401.3C197.7 404.3 197.7 410.8 198 412.7" stroke="#e8b036" stroke-width="9.6" opacity="0.475"/>
<path d="M168.3 419.6C170.6 420.8 177.4 425 182 426.5C186.6 428 193.5 428.4 195.7 428.8" stroke="#e8b036" stroke-width="8.4" opacity="0.475"/>
<path d="M127 403.6C127.2 405.5 128 413.1 128.2 415" stroke="#e8b036" stroke-width="8.4" opacity="0.5225"/>
<path d="M101.8 403.6C103 402.4 107.6 397.9 108.7 396.7" stroke="#e8b036" stroke-width="7.2" opacity="0.38"/>
<path d="M136.2 341.7C137 341 140 337.9 140.8 337.2" stroke="#e8b036" stroke-width="7.2" opacity="0.285"/>
<ellipse cx="93.9" cy="364.6" rx="5" ry="7" fill="#efb834" opacity="0.7124999999999999"/>
<ellipse cx="114.7" cy="364.6" rx="4.5" ry="8" fill="#efb834" opacity="0.6649999999999999"/>
<ellipse cx="136.4" cy="361.7" rx="4.5" ry="4.5" fill="#efb834" opacity="0.76"/>
<ellipse cx="154.5" cy="360" rx="4" ry="8" fill="#efb834" opacity="0.76"/>
<ellipse cx="181.9" cy="368.6" rx="5" ry="4.5" fill="#efb834" opacity="0.76"/>
<ellipse cx="170.1" cy="382.4" rx="5" ry="4" fill="#efb834" opacity="0.8075"/>
<ellipse cx="192.5" cy="379.5" rx="4" ry="6" fill="#efb834" opacity="0.76"/>
<ellipse cx="95.9" cy="398.3" rx="5.5" ry="5" fill="#efb834" opacity="0.855"/>
<ellipse cx="115.7" cy="401" rx="4" ry="7" fill="#efb834" opacity="0.6649999999999999"/>
<ellipse cx="140.4" cy="381.5" rx="4" ry="6" fill="#efb834" opacity="0.6649999999999999"/>
<ellipse cx="157.7" cy="396" rx="4" ry="6" fill="#efb834" opacity="0.6649999999999999"/>
<ellipse cx="96.9" cy="415.1" rx="4.5" ry="5" fill="#efb834" opacity="0.57"/>
<ellipse cx="56" cy="383" rx="4" ry="9" fill="#efb834" opacity="0.475"/>
<ellipse cx="73" cy="381" rx="4" ry="9" fill="#efb834" opacity="0.475"/>
<ellipse cx="130" cy="421" rx="7" ry="4" fill="#efb834" opacity="0.475"/>
</g></g>
<path d="M122.6 342.9C123.6 342.1 125.8 341.1 127.5 340.9C129.2 340.7 130.8 341.7 132.5 341.5C134.2 341.3 135.9 339.5 137.4 339.5C138.9 339.5 140.6 340.1 141.4 341.5C142.2 342.9 142.6 345.6 142.4 347.8C142.2 350 141.3 353.1 140.4 354.7C139.5 356.3 138.3 357 136.8 357.7C135.3 358.4 133.2 358.9 131.5 358.7C129.8 358.5 128 358 126.5 356.7C125 355.4 123.4 352.6 122.6 350.8C121.8 349 121.6 347.1 121.6 345.8C121.6 344.5 121.6 343.7 122.6 342.9Z" fill="#fafafa" stroke="#0c0c0c" stroke-width="1.3"/>
<path d="M159.2 351.8C160.3 351.4 161.9 352.1 163.1 351.8C164.2 351.5 164.8 350.4 166.1 350.2C167.4 350 169.6 350.1 171.1 350.8C172.6 351.6 174.2 352.9 175 354.7C175.8 356.5 175.7 359.5 175.6 361.7C175.5 363.9 175.3 366.2 174.4 367.6C173.5 369 171.5 369.8 170.1 370C168.7 370.2 167.2 369.2 166.1 368.6C165 368 164.5 366.2 163.7 366.4C162.9 366.6 162.4 369.1 161.2 369.6C159.9 370.1 157.5 370 156.2 369.2C154.9 368.4 153.5 366.4 153.2 364.6C152.9 362.9 153.6 360.4 154.2 358.7C154.8 357 155.8 355.3 156.6 354.2C157.4 353.1 158.1 352.2 159.2 351.8Z" fill="#fafafa" stroke="#0c0c0c" stroke-width="1.3"/>
<path d="M104.8 373.1C106.1 372.8 107.5 372.5 108.7 373.1C110 373.7 111.6 374.9 112.3 376.5C113 378.1 113.4 380.4 113.1 382.4C112.8 384.4 111.5 386.8 110.3 388.4C109.1 390 107.4 391.1 105.8 392.3C104.2 393.5 102.4 395 100.8 395.3C99.2 395.6 97.2 395.1 95.9 394.3C94.6 393.5 93.3 392 92.9 390.4C92.5 388.8 92.6 386.4 93.3 384.4C94 382.4 95.7 380.1 96.9 378.5C98.2 376.9 99.5 376 100.8 375.1C102.1 374.2 103.5 373.4 104.8 373.1Z" fill="#fafafa" stroke="#0c0c0c" stroke-width="1.3"/>
<path d="M138.4 400.2C139.3 399.6 140.9 398.9 142.4 398.9C143.9 398.9 145.7 399.4 147.3 400.2C149 401 151.2 402.3 152.3 403.6C153.5 404.9 154.2 406.6 154.2 408.2C154.2 409.8 153.3 411.6 152.3 413.1C151.3 414.7 149.8 416.4 148.3 417.5C146.8 418.6 144.9 419.5 143.4 419.4C141.9 419.3 140.5 418.3 139.4 417.1C138.3 415.9 137.4 413.9 136.8 412.1C136.2 410.3 136 407.9 136 406.2C136 404.5 136.4 403.2 136.8 402.2C137.2 401.2 137.5 400.8 138.4 400.2Z" fill="#fafafa" stroke="#0c0c0c" stroke-width="1.3"/>
<path d="M169.1 394.3C170.5 393.3 172.2 392.5 174 392.3C175.8 392.1 178.2 392.5 180 393.3C181.8 394.1 183.8 395.6 184.9 396.9C186 398.2 186.5 400 186.3 401.2C186.1 402.4 185.3 403.5 183.9 404.2C182.5 404.9 179.7 404.9 178 405.6C176.3 406.3 175.2 407.4 174 408.2C172.8 408.9 172.2 410.1 171.1 410.1C169.9 410.1 168.2 409.4 167.1 408.2C166 407 164.9 404.8 164.7 403.2C164.5 401.6 165 399.8 165.7 398.3C166.4 396.8 167.7 395.3 169.1 394.3Z" fill="#fafafa" stroke="#0c0c0c" stroke-width="1.3"/>
<defs><linearGradient id="fcb" x1="0" y1="0" x2="0" y2="1">
<stop offset="0%" stop-color="rgb(236,186,62)"/>
<stop offset="15%" stop-color="rgb(218,178,77)"/>
<stop offset="30%" stop-color="rgb(194,166,97)"/>
<stop offset="45%" stop-color="rgb(154,144,129)"/>
<stop offset="60%" stop-color="rgb(117,125,147)"/>
<stop offset="75%" stop-color="rgb(95,112,154)"/>
<stop offset="90%" stop-color="rgb(86,106,155)"/>
<stop offset="100%" stop-color="rgb(80,101,156)"/>
</linearGradient></defs>
<rect x="214.8" y="349.7" width="10.7" height="69.3" fill="url(#fcb)" stroke="#15151c" stroke-width="1"/>
<text x="217.6" y="344.8" font-size="14.4" text-anchor="middle">max</text>
<text x="219.8" y="433.6" font-size="14" text-anchor="middle">0</text>
<path d="M85.8 465.4C85.5 466.5 84.7 467.5 83.8 468.3C82.9 469 81.6 469.8 80.6 469.8C79.5 469.7 78.1 468.7 77.5 467.7C76.9 466.7 76.8 464.9 77.1 463.8C77.4 462.7 78.4 461.8 79.3 461.1C80.2 460.3 81.4 459.2 82.4 459.3C83.5 459.4 84.9 460.5 85.5 461.5C86 462.5 86.1 464.2 85.8 465.4Z" fill="#fff" stroke="#0c0c0c" stroke-width="1.4"/>
<text x="99.8" y="467.6" font-size="12.6">Linear scatter</text>
</g>
<g id="plotd">
<rect x="293.7" y="333" width="145.3" height="99.7" fill="none" stroke="#555" stroke-width="0.8"/>
<path d="M293.7 333V432.7H439" fill="none" stroke="#111" stroke-width="1.2"/>
<path d="M293.7 432.7v-3.8M330 432.7v-3.8M366.4 432.7v-3.8M402.7 432.7v-3.8M439 432.7v-3.8M293.7 432.7h3.8M293.7 399.5h3.8M293.7 366.2h3.8M293.7 333h3.8" stroke="#111" stroke-width="1.15" fill="none"/>
<text x="293.7" y="449.1" font-size="13.8" text-anchor="middle">0</text>
<text x="330" y="449.1" font-size="13.8" text-anchor="middle">1</text>
<text x="366.4" y="449.1" font-size="13.8" text-anchor="middle">2</text>
<text x="402.7" y="449.1" font-size="13.8" text-anchor="middle">3</text>
<text x="439" y="449.1" font-size="13.8" text-anchor="middle">4</text>
<text x="289" y="437.3" font-size="13.8" text-anchor="end">0</text>
<text x="289" y="404.1" font-size="13.8" text-anchor="end">1</text>
<text x="289" y="370.8" font-size="13.8" text-anchor="end">2</text>
<text x="289" y="337.6" font-size="13.8" text-anchor="end">3</text>
<polyline points="293.7,432.3 351.1,432.3 352.5,431.7 353.5,429.4 354.4,426.7 356.2,423.7 359.1,419.7 362.7,415.4 366.4,411.4 373.6,403.8 384.5,392.8 402.7,375.2 420.8,357.6 439,340" fill="none" stroke="#0a0a0a" stroke-width="2.1" stroke-linejoin="round"/>
<text x="299.6" y="348.4" font-size="14.2">×10<tspan dy="-5" font-size="9.2">-4</tspan></text>
<text x="403" y="423.8" font-size="14.2">×10<tspan dy="-5" font-size="9.2">-4</tspan></text>
<rect x="344.9" y="337.1" width="15.7" height="35.7" fill="#d3dbf3"/>
<path d="M344.9 372.8V337.3H360.8V372.8" fill="none" stroke="#14141c" stroke-width="1.3"/>
<path d="M344.3 372.8H361.4" fill="none" stroke="#3c3c48" stroke-width="1.3"/>
<path d="M344.9 377.2V381.4M360.6 377.2V381.4" fill="none" stroke="#1a1a1a" stroke-width="1.1"/>
<text x="352.9" y="391.5" font-size="11.6" text-anchor="middle">λ/2</text>
<text x="366.8" y="467.2" font-size="14.6" text-anchor="middle">I<tspan dy="2.5" font-size="9">in</tspan><tspan dy="-2.5"> [(V/m)</tspan><tspan dy="-4.5" font-size="9">2</tspan><tspan dy="4.5">]</tspan></text>
<text transform="translate(271.8,383.6) rotate(-90)" font-size="14.6" text-anchor="middle">I<tspan dy="2.5" font-size="9">out</tspan><tspan dy="-2.5"> [(V/m)</tspan><tspan dy="-4.5" font-size="9">2</tspan><tspan dy="4.5">]</tspan></text>
</g>
<defs>
<radialGradient id="hg_cloud" cx="0.15" cy="0.5" r="0.85" fx="0.05" fy="0.5">
<stop offset="0" stop-color="#dede30" stop-opacity="0.7"/><stop offset="0.3" stop-color="#d2d838" stop-opacity="0.42"/><stop offset="0.65" stop-color="#b4c050" stop-opacity="0.17"/><stop offset="1" stop-color="#9ab060" stop-opacity="0"/>
</radialGradient>
<radialGradient id="hg_core" cx="0.1" cy="0.5" r="0.9">
<stop offset="0" stop-color="#e4e42c" stop-opacity="0.75"/><stop offset="0.4" stop-color="#d8dc34" stop-opacity="0.4"/><stop offset="1" stop-color="#b0c050" stop-opacity="0"/>
</radialGradient>
<linearGradient id="hg_tint" x1="0" y1="0" x2="1" y2="0"><stop offset="0" stop-color="#a8bc58" stop-opacity="0.2"/><stop offset="0.7" stop-color="#90ac68" stop-opacity="0.07"/><stop offset="1" stop-color="#90ac68" stop-opacity="0"/></linearGradient>
<linearGradient id="hg_comb" x1="0" y1="0" x2="1" y2="0"><stop offset="0" stop-color="#d8dc38" stop-opacity="0.15"/><stop offset="1" stop-color="#e4e430" stop-opacity="0.8"/></linearGradient>
<filter id="hblur2" x="-30%" y="-30%" width="160%" height="160%"><feGaussianBlur stdDeviation="2.2"/></filter>
<filter id="hblur3" x="-50%" y="-50%" width="200%" height="200%"><feGaussianBlur stdDeviation="4"/></filter>
<linearGradient id="hg_band" x1="0" y1="0" x2="1" y2="0">
<stop offset="0" stop-color="#e6e62e" stop-opacity="0"/><stop offset="0.5" stop-color="#ecec2c" stop-opacity="0.85"/><stop offset="1" stop-color="#e6e62e" stop-opacity="0"/>
</linearGradient>
<filter id="hblur1" x="-10%" y="-10%" width="120%" height="120%"><feGaussianBlur stdDeviation="0.5"/></filter>
<linearGradient id="cbar" x1="0" y1="0" x2="0" y2="1">
<stop offset="0" stop-color="#e58a1e"/><stop offset="0.12" stop-color="#f0a81a"/><stop offset="0.3" stop-color="#fbdc10"/><stop offset="0.45" stop-color="#fff20a"/><stop offset="0.62" stop-color="#e2e02a"/><stop offset="0.78" stop-color="#a8b056"/><stop offset="0.9" stop-color="#6e8a80"/><stop offset="1" stop-color="#4e7096"/>
</linearGradient>
</defs>
<g id="dgrid" font-family="'Liberation Sans', 'DejaVu Sans', sans-serif">
<path d="M593.5 58.6L603.9 54.2L603.9 72.4L593.5 76.8Z" fill="#000"/>
<text transform="matrix(0.900 -0.378 0 1.450 598.7 65.5)" x="0" y="4" font-size="11.2" text-anchor="middle" fill="#dedede" font-style="italic">4</text>
<path d="M607.1 53.2L617.5 48.8L617.5 67L607.1 71.4Z" fill="#000"/>
<text transform="matrix(0.900 -0.378 0 1.450 612.3 60.1)" x="0" y="4" font-size="11.2" text-anchor="middle" fill="#dedede">0</text>
<path d="M620.8 47.7L631.2 43.4L631.2 61.6L620.8 65.9Z" fill="#000"/>
<text transform="matrix(0.900 -0.378 0 1.450 626 54.7)" x="0" y="4" font-size="11.2" text-anchor="middle" fill="#dedede" font-style="italic">1</text>
<path d="M634.5 42.3L644.9 37.9L644.9 56.1L634.5 60.5Z" fill="#000"/>
<text transform="matrix(0.900 -0.378 0 1.450 639.7 49.2)" x="0" y="4" font-size="11.2" text-anchor="middle" fill="#dedede" font-style="italic">9</text>
<path d="M648.1 36.9L658.5 32.5L658.5 50.7L648.1 55.1Z" fill="#000"/>
<text transform="matrix(0.900 -0.378 0 1.450 653.3 43.8)" x="0" y="4" font-size="11.2" text-anchor="middle" fill="#dedede">6</text>
<path d="M593.1 85.3L603.5 81L603.5 99.2L593.1 103.5Z" fill="#000"/>
<text transform="matrix(0.900 -0.378 0 1.450 598.3 92.2)" x="0" y="4" font-size="11.2" text-anchor="middle" fill="#dedede" font-style="italic">2</text>
<path d="M606.8 79.9L617.1 75.5L617.1 93.7L606.8 98.1Z" fill="#000"/>
<text transform="matrix(0.900 -0.378 0 1.450 612 86.8)" x="0" y="4" font-size="11.2" text-anchor="middle" fill="#dedede" font-style="italic">0</text>
<path d="M620.4 74.5L630.8 70.1L630.8 88.3L620.4 92.7Z" fill="#000"/>
<text transform="matrix(0.900 -0.378 0 1.450 625.6 81.4)" x="0" y="4" font-size="11.2" text-anchor="middle" fill="#dedede">3</text>
<path d="M634.1 69L644.5 64.7L644.5 82.9L634.1 87.2Z" fill="#000"/>
<text transform="matrix(0.900 -0.378 0 1.450 639.2 75.9)" x="0" y="4" font-size="11.2" text-anchor="middle" fill="#dedede" font-style="italic">1</text>
<path d="M647.7 63.6L658.1 59.2L658.1 77.4L647.7 81.8Z" fill="#000"/>
<text transform="matrix(0.900 -0.378 0 1.450 652.9 70.5)" x="0" y="4" font-size="11.2" text-anchor="middle" fill="#dedede" font-style="italic">3</text>
<path d="M592.7 112L603.1 107.7L603.1 125.9L592.7 130.2Z" fill="#000"/>
<text transform="matrix(0.900 -0.378 0 1.450 597.9 119)" x="0" y="4" font-size="11.2" text-anchor="middle" fill="#dedede">3</text>
<path d="M606.4 106.6L616.8 102.2L616.8 120.4L606.4 124.8Z" fill="#000"/>
<text transform="matrix(0.900 -0.378 0 1.450 611.5 113.5)" x="0" y="4" font-size="11.2" text-anchor="middle" fill="#dedede" font-style="italic">1</text>
<path d="M620 101.2L630.4 96.8L630.4 115L620 119.4Z" fill="#000"/>
<text transform="matrix(0.900 -0.378 0 1.450 625.2 108.1)" x="0" y="4" font-size="11.2" text-anchor="middle" fill="#dedede" font-style="italic">3</text>
<path d="M633.7 95.7L644.1 91.4L644.1 109.6L633.7 113.9Z" fill="#000"/>
<text transform="matrix(0.900 -0.378 0 1.450 638.9 102.7)" x="0" y="4" font-size="11.2" text-anchor="middle" fill="#dedede">2</text>
<path d="M647.3 90.3L657.7 85.9L657.7 104.1L647.3 108.5Z" fill="#000"/>
<text transform="matrix(0.900 -0.378 0 1.450 652.5 97.2)" x="0" y="4" font-size="11.2" text-anchor="middle" fill="#dedede" font-style="italic">0</text>
<path d="M592.3 138.8L602.7 134.4L602.7 152.6L592.3 157Z" fill="#000"/>
<text transform="matrix(0.900 -0.378 0 1.450 597.5 145.7)" x="0" y="4" font-size="11.2" text-anchor="middle" fill="#dedede" font-style="italic">5</text>
<path d="M605.9 133.3L616.3 129L616.3 147.2L605.9 151.5Z" fill="#000"/>
<text transform="matrix(0.900 -0.378 0 1.450 611.1 140.2)" x="0" y="4" font-size="11.2" text-anchor="middle" fill="#dedede">1</text>
<path d="M619.6 127.9L630 123.5L630 141.7L619.6 146.1Z" fill="#000"/>
<text transform="matrix(0.900 -0.378 0 1.450 624.8 134.8)" x="0" y="4" font-size="11.2" text-anchor="middle" fill="#dedede" font-style="italic">1</text>
<path d="M633.2 122.5L643.6 118.1L643.6 136.3L633.2 140.7Z" fill="#000"/>
<text transform="matrix(0.900 -0.378 0 1.450 638.5 129.4)" x="0" y="4" font-size="11.2" text-anchor="middle" fill="#dedede" font-style="italic">2</text>
<path d="M646.9 117L657.3 112.7L657.3 130.9L646.9 135.2Z" fill="#000"/>
<text transform="matrix(0.900 -0.378 0 1.450 652.1 123.9)" x="0" y="4" font-size="11.2" text-anchor="middle" fill="#dedede">0</text>
<path d="M591.9 165.5L602.3 161.1L602.3 179.3L591.9 183.7Z" fill="#000"/>
<text transform="matrix(0.900 -0.378 0 1.450 597.1 172.4)" x="0" y="4" font-size="11.2" text-anchor="middle" fill="#dedede" font-style="italic">8</text>
<path d="M605.5 160L615.9 155.7L615.9 173.9L605.5 178.2Z" fill="#000"/>
<text transform="matrix(0.900 -0.378 0 1.450 610.8 167)" x="0" y="4" font-size="11.2" text-anchor="middle" fill="#dedede" font-style="italic">6</text>
<path d="M619.2 154.6L629.6 150.2L629.6 168.4L619.2 172.8Z" fill="#000"/>
<text transform="matrix(0.900 -0.378 0 1.450 624.4 161.5)" x="0" y="4" font-size="11.2" text-anchor="middle" fill="#dedede">0</text>
<path d="M632.9 149.2L643.2 144.8L643.2 163L632.9 167.4Z" fill="#000"/>
<text transform="matrix(0.900 -0.378 0 1.450 638 156.1)" x="0" y="4" font-size="11.2" text-anchor="middle" fill="#dedede" font-style="italic">0</text>
<path d="M646.5 143.7L656.9 139.4L656.9 157.6L646.5 161.9Z" fill="#000"/>
<text transform="matrix(0.900 -0.378 0 1.450 651.7 150.7)" x="0" y="4" font-size="11.2" text-anchor="middle" fill="#dedede" font-style="italic">8</text>
<path d="M699.2 85L725.3 75.8L725.3 123.3L699.2 133.7Z" fill="#050505"/>
<text transform="matrix(1.000 -0.352 0 1.150 712.2 104.5)" x="0" y="11.7" font-size="33" text-anchor="middle" fill="#e8e8e8" stroke="#e8e8e8" stroke-width="1.0">3</text>
</g>
<g id="mask">
<defs><filter id="mblur" x="-2%" y="-2%" width="104%" height="104%"><feGaussianBlur stdDeviation="0.8" result="b"/><feComponentTransfer in="b"><feFuncA type="linear" slope="2.4" intercept="-0.66"/></feComponentTransfer></filter></defs>
<rect x="761" y="28" width="183" height="161.7" fill="#808080"/>
<path d="M775 30.5h3M786 30.5h3M792 30.5h6M799 30.5h3M805 30.5h3M817 30.5h3M830 30.5h7M840 30.5h5M847 30.5h5M860 30.5h4M869 30.5h5M877 30.5h3M883 30.5h2M889 30.5h7M904 30.5h2M912 30.5h11M765 31.5h1M769 31.5h1M775 31.5h14M793 31.5h2M800 31.5h1M805 31.5h3M818 31.5h1M829 31.5h4M834 31.5h3M841 31.5h3M848 31.5h7M859 31.5h4M873 31.5h8M887 31.5h4M904 31.5h1M911 31.5h4M917 31.5h8M766 32.5h4M775 32.5h4M782 32.5h7M792 32.5h3M806 32.5h1M811 32.5h1M815 32.5h1M829 32.5h2M848 32.5h8M859 32.5h4M868 32.5h3M880 32.5h2M888 32.5h1M898 32.5h1M903 32.5h3M909 32.5h5M918 32.5h6M766 33.5h2M776 33.5h2M782 33.5h3M787 33.5h1M791 33.5h3M805 33.5h1M810 33.5h2M815 33.5h1M819 33.5h1M824 33.5h1M852 33.5h4M859 33.5h4M868 33.5h3M880 33.5h2M886 33.5h3M901 33.5h5M909 33.5h3M919 33.5h4M767 34.5h1M783 34.5h4M791 34.5h3M804 34.5h3M810 34.5h5M818 34.5h3M823 34.5h3M828 34.5h1M833 34.5h3M853 34.5h3M859 34.5h2M868 34.5h4M873 34.5h5M881 34.5h2M885 34.5h4M893 34.5h3M900 34.5h6M910 34.5h2M918 34.5h4M770 35.5h1M783 35.5h4M791 35.5h4M799 35.5h1M803 35.5h5M811 35.5h4M822 35.5h8M832 35.5h6M843 35.5h4M849 35.5h2M855 35.5h6M863 35.5h15M885 35.5h4M893 35.5h2M900 35.5h6M908 35.5h2M912 35.5h1M919 35.5h1M769 36.5h2M782 36.5h4M791 36.5h5M799 36.5h2M804 36.5h5M825 36.5h2M828 36.5h1M832 36.5h6M843 36.5h4M848 36.5h3M855 36.5h2M859 36.5h2M864 36.5h3M870 36.5h1M873 36.5h4M887 36.5h2M891 36.5h3M900 36.5h3M905 36.5h5M783 37.5h1M789 37.5h2M794 37.5h2M800 37.5h1M802 37.5h7M825 37.5h2M831 37.5h6M848 37.5h4M860 37.5h1M864 37.5h2M875 37.5h1M881 37.5h1M887 37.5h2M891 37.5h4M901 37.5h8M913 37.5h1M765 38.5h1M772 38.5h1M788 38.5h2M794 38.5h2M802 38.5h3M808 38.5h2M817 38.5h2M833 38.5h1M836 38.5h1M848 38.5h6M859 38.5h2M864 38.5h1M867 38.5h1M880 38.5h3M884 38.5h5M892 38.5h4M902 38.5h7M912 38.5h3M917 38.5h3M924 38.5h1M765 39.5h1M771 39.5h5M779 39.5h1M786 39.5h3M795 39.5h2M801 39.5h3M808 39.5h4M817 39.5h3M836 39.5h2M841 39.5h1M848 39.5h6M859 39.5h3M867 39.5h2M883 39.5h7M893 39.5h4M904 39.5h5M911 39.5h3M916 39.5h3M923 39.5h2M765 40.5h1M767 40.5h1M771 40.5h5M779 40.5h1M783 40.5h6M795 40.5h2M801 40.5h3M807 40.5h5M816 40.5h5M830 40.5h3M840 40.5h4M849 40.5h4M859 40.5h3M867 40.5h4M882 40.5h8M893 40.5h4M911 40.5h2M916 40.5h2M923 40.5h2M765 41.5h1M767 41.5h6M775 41.5h1M783 41.5h5M795 41.5h2M799 41.5h5M805 41.5h1M807 41.5h5M816 41.5h4M821 41.5h7M829 41.5h6M841 41.5h3M849 41.5h4M860 41.5h2M866 41.5h6M883 41.5h1M887 41.5h2M894 41.5h2M911 41.5h2M920 41.5h1M922 41.5h3M765 42.5h8M777 42.5h1M783 42.5h4M789 42.5h3M794 42.5h3M798 42.5h2M801 42.5h2M807 42.5h4M821 42.5h8M833 42.5h2M849 42.5h5M857 42.5h2M861 42.5h2M866 42.5h2M870 42.5h2M883 42.5h2M894 42.5h1M900 42.5h3M905 42.5h1M911 42.5h3M918 42.5h3M923 42.5h2M767 43.5h6M774 43.5h4M783 43.5h4M790 43.5h1M794 43.5h2M798 43.5h2M808 43.5h1M822 43.5h3M835 43.5h3M847 43.5h7M856 43.5h4M861 43.5h2M871 43.5h2M874 43.5h2M883 43.5h2M887 43.5h3M900 43.5h3M905 43.5h2M911 43.5h3M918 43.5h3M924 43.5h1M775 44.5h3M782 44.5h5M795 44.5h1M798 44.5h2M820 44.5h1M824 44.5h1M829 44.5h1M834 44.5h5M843 44.5h2M847 44.5h3M856 44.5h4M862 44.5h2M871 44.5h7M880 44.5h3M886 44.5h4M901 44.5h2M914 44.5h1M917 44.5h4M768 45.5h1M774 45.5h5M782 45.5h4M798 45.5h2M806 45.5h1M819 45.5h2M830 45.5h1M835 45.5h6M842 45.5h7M857 45.5h3M862 45.5h2M872 45.5h6M879 45.5h4M886 45.5h3M901 45.5h2M913 45.5h2M917 45.5h4M775 46.5h3M782 46.5h4M792 46.5h2M805 46.5h4M811 46.5h1M816 46.5h6M830 46.5h1M836 46.5h5M843 46.5h2M847 46.5h2M857 46.5h2M862 46.5h3M873 46.5h4M879 46.5h3M887 46.5h1M892 46.5h4M901 46.5h2M907 46.5h5M913 46.5h2M917 46.5h4M769 47.5h2M783 47.5h3M792 47.5h1M804 47.5h5M811 47.5h2M815 47.5h7M830 47.5h1M837 47.5h3M854 47.5h1M861 47.5h5M870 47.5h2M877 47.5h5M887 47.5h2M891 47.5h6M901 47.5h2M905 47.5h6M916 47.5h5M773 48.5h1M779 48.5h1M782 48.5h5M796 48.5h2M802 48.5h2M805 48.5h3M812 48.5h3M820 48.5h2M829 48.5h3M837 48.5h2M842 48.5h2M849 48.5h2M854 48.5h1M860 48.5h2M864 48.5h3M869 48.5h3M876 48.5h8M887 48.5h3M892 48.5h5M901 48.5h4M916 48.5h7M772 49.5h3M778 49.5h2M782 49.5h5M796 49.5h3M802 49.5h1M812 49.5h3M824 49.5h2M829 49.5h4M842 49.5h3M849 49.5h3M865 49.5h2M868 49.5h4M877 49.5h1M880 49.5h4M887 49.5h3M895 49.5h3M900 49.5h4M918 49.5h6M765 50.5h1M771 50.5h4M778 50.5h2M784 50.5h2M796 50.5h3M811 50.5h5M824 50.5h9M843 50.5h4M857 50.5h4M869 50.5h2M881 50.5h3M886 50.5h3M895 50.5h3M900 50.5h1M919 50.5h6M767 51.5h2M771 51.5h4M778 51.5h3M795 51.5h3M804 51.5h3M811 51.5h6M825 51.5h8M844 51.5h4M854 51.5h2M858 51.5h4M865 51.5h1M878 51.5h4M883 51.5h4M895 51.5h2M900 51.5h1M905 51.5h2M913 51.5h3M919 51.5h6M766 52.5h4M772 52.5h3M778 52.5h2M795 52.5h2M804 52.5h3M811 52.5h5M827 52.5h5M835 52.5h2M846 52.5h3M853 52.5h3M858 52.5h4M864 52.5h2M884 52.5h3M905 52.5h3M913 52.5h4M920 52.5h2M923 52.5h1M766 53.5h3M791 53.5h2M795 53.5h2M802 53.5h5M812 53.5h5M818 53.5h5M827 53.5h2M834 53.5h4M847 53.5h2M854 53.5h1M857 53.5h5M864 53.5h5M872 53.5h1M878 53.5h2M884 53.5h3M905 53.5h3M913 53.5h3M921 53.5h1M765 54.5h3M779 54.5h2M786 54.5h7M795 54.5h2M798 54.5h2M803 54.5h1M815 54.5h6M828 54.5h2M834 54.5h5M840 54.5h3M847 54.5h2M858 54.5h3M864 54.5h5M871 54.5h2M877 54.5h4M884 54.5h3M902 54.5h8M914 54.5h2M921 54.5h2M766 55.5h2M772 55.5h1M779 55.5h2M785 55.5h8M799 55.5h2M814 55.5h6M823 55.5h1M828 55.5h3M835 55.5h3M840 55.5h5M854 55.5h1M859 55.5h1M864 55.5h4M871 55.5h3M878 55.5h2M883 55.5h2M889 55.5h2M901 55.5h3M908 55.5h2M911 55.5h1M921 55.5h2M771 56.5h5M779 56.5h10M792 56.5h1M799 56.5h2M809 56.5h2M814 56.5h3M818 56.5h2M823 56.5h2M828 56.5h3M842 56.5h2M853 56.5h3M864 56.5h2M868 56.5h1M871 56.5h4M880 56.5h5M888 56.5h5M896 56.5h1M900 56.5h3M911 56.5h3M921 56.5h2M772 57.5h4M778 57.5h2M782 57.5h4M792 57.5h3M808 57.5h4M815 57.5h5M829 57.5h3M842 57.5h2M853 57.5h2M861 57.5h2M864 57.5h1M868 57.5h1M871 57.5h4M877 57.5h4M883 57.5h2M889 57.5h4M895 57.5h8M911 57.5h4M773 58.5h3M783 58.5h2M792 58.5h3M802 58.5h2M807 58.5h4M818 58.5h1M830 58.5h1M841 58.5h3M847 58.5h3M852 58.5h4M861 58.5h2M872 58.5h9M883 58.5h2M889 58.5h4M894 58.5h8M906 58.5h3M911 58.5h4M769 59.5h2M774 59.5h3M791 59.5h4M801 59.5h2M808 59.5h3M821 59.5h1M835 59.5h1M844 59.5h1M848 59.5h8M874 59.5h6M883 59.5h2M889 59.5h4M894 59.5h8M906 59.5h4M913 59.5h3M921 59.5h1M769 60.5h3M775 60.5h1M790 60.5h5M805 60.5h1M808 60.5h2M822 60.5h4M831 60.5h2M844 60.5h2M848 60.5h8M859 60.5h1M874 60.5h1M883 60.5h2M889 60.5h3M895 60.5h5M906 60.5h4M920 60.5h3M768 61.5h4M780 61.5h4M788 61.5h7M804 61.5h3M823 61.5h4M831 61.5h3M844 61.5h1M847 61.5h5M859 61.5h2M864 61.5h1M870 61.5h2M881 61.5h4M888 61.5h3M896 61.5h5M907 61.5h3M918 61.5h5M768 62.5h4M780 62.5h15M798 62.5h3M803 62.5h4M823 62.5h4M838 62.5h2M842 62.5h1M846 62.5h5M860 62.5h2M863 62.5h3M868 62.5h5M882 62.5h2M889 62.5h1M896 62.5h6M908 62.5h2M917 62.5h6M774 63.5h2M781 63.5h9M792 63.5h3M799 63.5h2M802 63.5h6M824 63.5h2M838 63.5h3M847 63.5h2M864 63.5h1M868 63.5h4M886 63.5h1M896 63.5h2M899 63.5h3M904 63.5h3M910 63.5h1M918 63.5h3M771 64.5h7M782 64.5h6M793 64.5h2M799 64.5h2M803 64.5h1M805 64.5h3M814 64.5h1M817 64.5h4M824 64.5h2M838 64.5h3M854 64.5h2M863 64.5h2M867 64.5h4M877 64.5h1M885 64.5h3M900 64.5h1M904 64.5h2M910 64.5h2M765 65.5h3M771 65.5h6M783 65.5h2M798 65.5h4M806 65.5h3M813 65.5h9M845 65.5h2M853 65.5h3M858 65.5h1M862 65.5h3M867 65.5h3M877 65.5h2M886 65.5h1M900 65.5h1M910 65.5h3M914 65.5h2M765 66.5h3M772 66.5h1M774 66.5h1M783 66.5h2M790 66.5h2M797 66.5h4M807 66.5h2M814 66.5h8M831 66.5h2M844 66.5h3M851 66.5h4M858 66.5h3M862 66.5h4M867 66.5h3M875 66.5h1M883 66.5h1M892 66.5h1M901 66.5h1M903 66.5h2M908 66.5h1M911 66.5h1M913 66.5h6M924 66.5h1M772 67.5h1M781 67.5h4M790 67.5h3M796 67.5h4M807 67.5h3M815 67.5h7M830 67.5h6M844 67.5h2M851 67.5h4M859 67.5h2M863 67.5h8M875 67.5h4M884 67.5h3M891 67.5h3M903 67.5h6M914 67.5h1M916 67.5h3M920 67.5h2M767 68.5h1M780 68.5h5M791 68.5h2M797 68.5h3M808 68.5h2M811 68.5h1M815 68.5h6M831 68.5h6M844 68.5h2M849 68.5h4M856 68.5h1M859 68.5h3M863 68.5h9M875 68.5h6M883 68.5h4M891 68.5h4M898 68.5h2M904 68.5h4M914 68.5h1M916 68.5h2M920 68.5h3M766 69.5h3M774 69.5h1M778 69.5h6M787 69.5h1M798 69.5h2M809 69.5h3M816 69.5h3M832 69.5h4M849 69.5h4M855 69.5h2M860 69.5h8M875 69.5h7M884 69.5h5M891 69.5h5M897 69.5h3M905 69.5h2M914 69.5h4M920 69.5h4M766 70.5h3M774 70.5h9M799 70.5h1M810 70.5h1M817 70.5h2M825 70.5h5M832 70.5h3M838 70.5h4M850 70.5h1M856 70.5h1M861 70.5h1M864 70.5h3M874 70.5h2M878 70.5h4M892 70.5h8M905 70.5h2M912 70.5h1M914 70.5h4M921 70.5h2M766 71.5h4M771 71.5h8M780 71.5h2M789 71.5h1M794 71.5h1M802 71.5h7M817 71.5h3M825 71.5h5M833 71.5h2M837 71.5h6M845 71.5h2M854 71.5h1M860 71.5h1M865 71.5h3M873 71.5h3M878 71.5h3M894 71.5h5M904 71.5h2M911 71.5h3M915 71.5h1M918 71.5h2M766 72.5h4M771 72.5h5M788 72.5h2M792 72.5h4M797 72.5h2M802 72.5h8M818 72.5h2M825 72.5h5M833 72.5h3M837 72.5h6M844 72.5h3M853 72.5h4M858 72.5h3M865 72.5h2M872 72.5h3M878 72.5h3M894 72.5h3M903 72.5h3M910 72.5h4M918 72.5h3M765 73.5h2M768 73.5h1M774 73.5h2M780 73.5h2M788 73.5h2M794 73.5h6M801 73.5h9M818 73.5h3M825 73.5h4M832 73.5h11M853 73.5h8M866 73.5h1M872 73.5h4M878 73.5h3M887 73.5h2M894 73.5h3M901 73.5h6M909 73.5h5M918 73.5h3M765 74.5h2M774 74.5h3M788 74.5h1M795 74.5h5M808 74.5h3M817 74.5h4M824 74.5h4M832 74.5h11M847 74.5h2M853 74.5h8M871 74.5h9M886 74.5h3M898 74.5h6M905 74.5h2M910 74.5h4M919 74.5h1M766 75.5h2M774 75.5h3M780 75.5h1M784 75.5h2M796 75.5h2M806 75.5h1M808 75.5h5M816 75.5h11M834 75.5h4M846 75.5h3M854 75.5h4M859 75.5h1M871 75.5h9M886 75.5h3M898 75.5h4M906 75.5h1M910 75.5h4M921 75.5h1M767 76.5h3M774 76.5h1M777 76.5h5M785 76.5h2M791 76.5h4M806 76.5h7M819 76.5h8M834 76.5h3M845 76.5h4M861 76.5h5M879 76.5h4M886 76.5h3M902 76.5h1M910 76.5h4M920 76.5h2M768 77.5h3M778 77.5h5M786 77.5h10M806 77.5h7M822 77.5h7M835 77.5h4M845 77.5h4M860 77.5h7M878 77.5h4M884 77.5h4M900 77.5h4M911 77.5h2M920 77.5h2M768 78.5h3M779 78.5h4M787 78.5h8M805 78.5h2M816 78.5h1M820 78.5h10M835 78.5h5M845 78.5h4M861 78.5h6M871 78.5h1M877 78.5h4M884 78.5h4M897 78.5h7M911 78.5h2M917 78.5h1M920 78.5h3M768 79.5h3M774 79.5h2M779 79.5h3M788 79.5h2M798 79.5h4M805 79.5h2M819 79.5h5M826 79.5h5M837 79.5h3M848 79.5h7M861 79.5h2M870 79.5h3M877 79.5h5M885 79.5h1M890 79.5h1M896 79.5h4M901 79.5h3M911 79.5h2M916 79.5h8M765 80.5h1M769 80.5h1M772 80.5h4M779 80.5h3M797 80.5h5M804 80.5h3M813 80.5h1M819 80.5h3M831 80.5h2M838 80.5h3M848 80.5h7M859 80.5h3M869 80.5h2M878 80.5h5M889 80.5h3M897 80.5h2M903 80.5h1M915 80.5h2M920 80.5h5M765 81.5h3M771 81.5h3M780 81.5h3M787 81.5h2M792 81.5h1M797 81.5h5M804 81.5h3M811 81.5h4M818 81.5h1M831 81.5h2M838 81.5h3M849 81.5h6M858 81.5h4M869 81.5h2M875 81.5h1M878 81.5h4M889 81.5h2M897 81.5h2M909 81.5h2M914 81.5h4M920 81.5h5M765 82.5h4M771 82.5h4M781 82.5h2M785 82.5h5M791 82.5h2M798 82.5h3M804 82.5h3M811 82.5h4M825 82.5h4M831 82.5h2M839 82.5h3M850 82.5h1M859 82.5h4M869 82.5h1M874 82.5h2M879 82.5h1M888 82.5h4M897 82.5h3M908 82.5h3M915 82.5h3M923 82.5h2M765 83.5h2M771 83.5h7M781 83.5h1M785 83.5h5M792 83.5h2M799 83.5h1M804 83.5h3M811 83.5h2M825 83.5h3M832 83.5h1M840 83.5h4M861 83.5h5M871 83.5h1M875 83.5h1M884 83.5h2M888 83.5h5M895 83.5h6M904 83.5h1M909 83.5h1M915 83.5h3M923 83.5h2M765 84.5h1M771 84.5h8M787 84.5h3M792 84.5h2M798 84.5h1M804 84.5h4M811 84.5h2M825 84.5h3M841 84.5h4M849 84.5h1M856 84.5h1M862 84.5h6M871 84.5h1M874 84.5h3M888 84.5h4M895 84.5h10M915 84.5h3M924 84.5h1M771 85.5h2M774 85.5h3M788 85.5h6M797 85.5h3M801 85.5h1M805 85.5h3M826 85.5h2M834 85.5h1M841 85.5h5M848 85.5h3M855 85.5h3M862 85.5h6M874 85.5h3M880 85.5h1M883 85.5h1M888 85.5h3M896 85.5h9M911 85.5h2M915 85.5h3M922 85.5h2M774 86.5h2M783 86.5h3M791 86.5h2M798 86.5h5M805 86.5h2M822 86.5h1M833 86.5h3M841 86.5h5M848 86.5h3M860 86.5h1M863 86.5h1M866 86.5h3M879 86.5h2M883 86.5h2M888 86.5h3M898 86.5h6M907 86.5h2M910 86.5h4M916 86.5h2M922 86.5h2M776 87.5h2M782 87.5h5M791 87.5h2M799 87.5h3M805 87.5h3M819 87.5h1M821 87.5h3M832 87.5h4M838 87.5h7M848 87.5h3M860 87.5h3M866 87.5h3M879 87.5h2M883 87.5h2M888 87.5h3M898 87.5h1M901 87.5h3M907 87.5h2M910 87.5h4M916 87.5h1M767 88.5h3M776 88.5h3M782 88.5h5M792 88.5h2M799 88.5h3M805 88.5h3M819 88.5h1M821 88.5h5M831 88.5h5M838 88.5h7M861 88.5h3M867 88.5h2M871 88.5h2M875 88.5h2M879 88.5h5M888 88.5h4M902 88.5h4M911 88.5h2M765 89.5h6M776 89.5h3M782 89.5h4M792 89.5h2M798 89.5h5M806 89.5h1M813 89.5h3M822 89.5h5M831 89.5h5M839 89.5h6M862 89.5h1M871 89.5h1M876 89.5h1M879 89.5h5M889 89.5h3M903 89.5h3M911 89.5h1M765 90.5h5M776 90.5h3M783 90.5h3M789 90.5h1M792 90.5h2M798 90.5h4M812 90.5h5M831 90.5h5M841 90.5h3M847 90.5h2M850 90.5h3M854 90.5h3M860 90.5h3M868 90.5h1M871 90.5h1M882 90.5h2M900 90.5h1M903 90.5h2M916 90.5h2M920 90.5h2M765 91.5h3M774 91.5h5M784 91.5h1M788 91.5h6M799 91.5h3M813 91.5h5M819 91.5h3M830 91.5h7M842 91.5h1M847 91.5h2M851 91.5h6M859 91.5h4M868 91.5h1M871 91.5h2M882 91.5h6M895 91.5h3M900 91.5h4M913 91.5h1M915 91.5h4M765 92.5h3M774 92.5h6M788 92.5h6M798 92.5h1M800 92.5h1M818 92.5h3M826 92.5h1M830 92.5h7M845 92.5h1M852 92.5h12M872 92.5h1M881 92.5h7M895 92.5h2M901 92.5h3M911 92.5h4M916 92.5h2M924 92.5h1M765 93.5h3M777 93.5h3M788 93.5h2M792 93.5h2M798 93.5h4M812 93.5h1M817 93.5h4M826 93.5h10M844 93.5h2M851 93.5h4M857 93.5h6M877 93.5h1M902 93.5h5M910 93.5h5M916 93.5h2M924 93.5h1M765 94.5h2M772 94.5h1M774 94.5h1M777 94.5h3M788 94.5h2M794 94.5h1M800 94.5h2M811 94.5h3M817 94.5h4M825 94.5h8M851 94.5h4M866 94.5h2M873 94.5h6M890 94.5h1M903 94.5h5M909 94.5h3M914 94.5h5M923 94.5h2M765 95.5h2M772 95.5h8M783 95.5h2M788 95.5h1M791 95.5h1M794 95.5h2M811 95.5h3M818 95.5h2M824 95.5h8M836 95.5h1M844 95.5h1M852 95.5h3M866 95.5h4M873 95.5h6M883 95.5h2M889 95.5h3M894 95.5h3M903 95.5h5M909 95.5h3M915 95.5h5M923 95.5h2M765 96.5h2M772 96.5h7M783 96.5h1M790 96.5h3M794 96.5h2M805 96.5h1M812 96.5h2M823 96.5h5M830 96.5h3M835 96.5h5M843 96.5h3M851 96.5h4M859 96.5h4M866 96.5h13M882 96.5h3M889 96.5h2M894 96.5h4M904 96.5h4M910 96.5h1M918 96.5h2M924 96.5h1M765 97.5h6M773 97.5h3M778 97.5h2M790 97.5h6M800 97.5h3M807 97.5h1M813 97.5h2M820 97.5h1M823 97.5h4M831 97.5h1M835 97.5h6M843 97.5h4M851 97.5h3M857 97.5h6M866 97.5h12M883 97.5h2M894 97.5h4M904 97.5h4M916 97.5h1M924 97.5h1M768 98.5h3M778 98.5h2M791 98.5h8M800 98.5h4M807 98.5h4M819 98.5h3M823 98.5h3M838 98.5h1M844 98.5h4M851 98.5h2M857 98.5h6M865 98.5h3M871 98.5h3M884 98.5h5M895 98.5h2M904 98.5h1M778 99.5h2M784 99.5h2M791 99.5h7M801 99.5h4M807 99.5h5M819 99.5h3M823 99.5h2M838 99.5h1M844 99.5h2M851 99.5h2M865 99.5h2M871 99.5h2M884 99.5h4M902 99.5h3M913 99.5h1M778 100.5h2M783 100.5h3M791 100.5h3M801 100.5h4M807 100.5h6M819 100.5h8M831 100.5h1M838 100.5h1M847 100.5h2M851 100.5h2M865 100.5h2M871 100.5h2M878 100.5h2M885 100.5h1M889 100.5h1M901 100.5h4M912 100.5h3M918 100.5h1M765 101.5h1M778 101.5h3M782 101.5h4M792 101.5h3M802 101.5h2M808 101.5h3M815 101.5h2M820 101.5h8M831 101.5h3M838 101.5h3M846 101.5h2M850 101.5h3M865 101.5h2M871 101.5h2M877 101.5h3M888 101.5h6M897 101.5h1M900 101.5h3M904 101.5h3M917 101.5h5M924 101.5h1M783 102.5h2M790 102.5h1M803 102.5h1M815 102.5h3M825 102.5h3M832 102.5h3M838 102.5h4M850 102.5h3M866 102.5h2M871 102.5h2M876 102.5h4M889 102.5h4M896 102.5h6M904 102.5h5M918 102.5h2M921 102.5h4M767 103.5h1M770 103.5h5M814 103.5h5M825 103.5h3M832 103.5h4M837 103.5h7M850 103.5h3M867 103.5h3M871 103.5h1M876 103.5h5M885 103.5h2M890 103.5h3M896 103.5h6M908 103.5h5M918 103.5h2M921 103.5h4M767 104.5h8M783 104.5h2M797 104.5h1M800 104.5h1M804 104.5h2M810 104.5h10M825 104.5h2M832 104.5h3M837 104.5h8M847 104.5h1M850 104.5h6M865 104.5h5M876 104.5h6M883 104.5h5M891 104.5h2M897 104.5h4M908 104.5h7M919 104.5h6M767 105.5h7M783 105.5h2M788 105.5h2M796 105.5h7M804 105.5h3M810 105.5h7M818 105.5h2M833 105.5h2M838 105.5h6M847 105.5h1M851 105.5h5M865 105.5h3M878 105.5h5M886 105.5h2M892 105.5h2M898 105.5h2M905 105.5h2M912 105.5h4M922 105.5h2M768 106.5h4M775 106.5h2M781 106.5h1M787 106.5h4M792 106.5h2M796 106.5h20M819 106.5h1M822 106.5h2M832 106.5h4M846 106.5h1M853 106.5h3M862 106.5h1M865 106.5h3M875 106.5h2M887 106.5h4M898 106.5h2M904 106.5h2M911 106.5h6M768 107.5h4M775 107.5h3M780 107.5h3M787 107.5h7M795 107.5h6M803 107.5h9M814 107.5h2M822 107.5h3M826 107.5h2M831 107.5h5M845 107.5h3M853 107.5h7M862 107.5h6M870 107.5h2M875 107.5h3M887 107.5h4M899 107.5h1M903 107.5h3M911 107.5h7M769 108.5h1M776 108.5h8M788 108.5h6M796 108.5h4M802 108.5h2M806 108.5h2M810 108.5h2M822 108.5h2M826 108.5h2M830 108.5h2M842 108.5h8M853 108.5h8M863 108.5h15M888 108.5h3M896 108.5h1M902 108.5h4M912 108.5h6M766 109.5h1M776 109.5h9M789 109.5h6M802 109.5h2M830 109.5h2M842 109.5h9M853 109.5h8M863 109.5h15M881 109.5h3M889 109.5h2M895 109.5h2M902 109.5h6M914 109.5h4M765 110.5h3M776 110.5h3M782 110.5h3M790 110.5h5M802 110.5h2M808 110.5h1M818 110.5h2M828 110.5h3M832 110.5h2M842 110.5h3M846 110.5h4M860 110.5h7M871 110.5h7M879 110.5h4M896 110.5h2M905 110.5h4M915 110.5h3M924 110.5h1M765 111.5h2M770 111.5h1M776 111.5h2M782 111.5h3M791 111.5h4M801 111.5h3M808 111.5h2M818 111.5h2M827 111.5h3M832 111.5h2M837 111.5h2M841 111.5h3M847 111.5h3M860 111.5h2M868 111.5h1M874 111.5h9M892 111.5h1M907 111.5h2M916 111.5h2M920 111.5h5M765 112.5h7M775 112.5h2M783 112.5h1M788 112.5h2M800 112.5h4M808 112.5h3M817 112.5h2M836 112.5h8M852 112.5h5M860 112.5h2M875 112.5h8M891 112.5h3M898 112.5h4M917 112.5h8M766 113.5h6M774 113.5h4M787 113.5h6M800 113.5h3M807 113.5h6M816 113.5h3M834 113.5h6M841 113.5h2M851 113.5h6M861 113.5h1M870 113.5h2M875 113.5h3M891 113.5h3M897 113.5h3M907 113.5h3M917 113.5h6M767 114.5h5M775 114.5h3M787 114.5h9M800 114.5h3M807 114.5h12M822 114.5h3M830 114.5h2M834 114.5h2M837 114.5h3M850 114.5h2M858 114.5h2M867 114.5h2M870 114.5h2M885 114.5h2M892 114.5h3M897 114.5h2M907 114.5h5M916 114.5h6M767 115.5h4M775 115.5h3M786 115.5h3M791 115.5h1M794 115.5h3M800 115.5h2M808 115.5h7M816 115.5h2M822 115.5h4M829 115.5h3M838 115.5h1M842 115.5h2M845 115.5h6M862 115.5h2M866 115.5h1M870 115.5h2M883 115.5h4M891 115.5h3M905 115.5h1M908 115.5h4M917 115.5h4M765 116.5h5M782 116.5h2M795 116.5h2M810 116.5h7M824 116.5h2M827 116.5h4M838 116.5h1M846 116.5h3M854 116.5h2M861 116.5h4M870 116.5h2M882 116.5h5M891 116.5h3M898 116.5h2M905 116.5h1M913 116.5h2M924 116.5h1M765 117.5h4M773 117.5h2M783 117.5h2M789 117.5h1M795 117.5h2M803 117.5h2M807 117.5h2M815 117.5h3M819 117.5h3M828 117.5h3M838 117.5h1M854 117.5h2M860 117.5h4M870 117.5h2M875 117.5h2M881 117.5h4M891 117.5h3M898 117.5h2M902 117.5h1M913 117.5h2M924 117.5h1M765 118.5h4M773 118.5h3M783 118.5h2M788 118.5h2M802 118.5h4M807 118.5h2M813 118.5h9M838 118.5h2M843 118.5h3M854 118.5h2M861 118.5h2M871 118.5h1M874 118.5h3M882 118.5h2M892 118.5h2M899 118.5h1M913 118.5h1M916 118.5h2M924 118.5h1M765 119.5h3M774 119.5h2M781 119.5h4M787 119.5h2M796 119.5h2M801 119.5h2M805 119.5h1M808 119.5h2M812 119.5h7M823 119.5h1M831 119.5h1M838 119.5h3M842 119.5h4M848 119.5h1M853 119.5h4M869 119.5h2M875 119.5h2M889 119.5h1M893 119.5h1M910 119.5h1M913 119.5h1M915 119.5h3M765 120.5h4M774 120.5h2M781 120.5h4M787 120.5h2M795 120.5h4M800 120.5h3M808 120.5h3M813 120.5h4M820 120.5h5M830 120.5h3M842 120.5h3M852 120.5h5M869 120.5h3M876 120.5h1M885 120.5h2M888 120.5h3M899 120.5h2M906 120.5h1M913 120.5h5M766 121.5h4M787 121.5h2M794 121.5h5M800 121.5h3M808 121.5h4M814 121.5h2M820 121.5h4M830 121.5h5M841 121.5h4M852 121.5h2M855 121.5h2M860 121.5h2M864 121.5h2M872 121.5h1M876 121.5h1M885 121.5h6M892 121.5h3M899 121.5h5M905 121.5h3M913 121.5h6M767 122.5h2M778 122.5h2M786 122.5h3M795 122.5h3M800 122.5h3M807 122.5h6M820 122.5h3M826 122.5h2M830 122.5h5M840 122.5h6M848 122.5h1M855 122.5h2M860 122.5h2M864 122.5h2M873 122.5h1M882 122.5h6M891 122.5h5M900 122.5h8M913 122.5h1M916 122.5h3M765 123.5h2M778 123.5h3M786 123.5h7M800 123.5h2M806 123.5h5M821 123.5h1M825 123.5h3M832 123.5h2M839 123.5h3M844 123.5h6M855 123.5h2M861 123.5h1M864 123.5h8M881 123.5h5M891 123.5h7M901 123.5h8M916 123.5h4M765 124.5h2M770 124.5h3M779 124.5h2M786 124.5h8M798 124.5h3M807 124.5h1M813 124.5h3M825 124.5h4M832 124.5h2M838 124.5h3M845 124.5h6M861 124.5h4M866 124.5h3M870 124.5h3M881 124.5h4M891 124.5h7M904 124.5h2M907 124.5h2M917 124.5h3M924 124.5h1M765 125.5h3M771 125.5h3M779 125.5h2M784 125.5h3M792 125.5h2M798 125.5h3M803 125.5h2M814 125.5h1M824 125.5h1M826 125.5h3M832 125.5h3M846 125.5h1M848 125.5h3M861 125.5h4M866 125.5h3M872 125.5h4M881 125.5h4M892 125.5h4M904 125.5h1M919 125.5h1M766 126.5h2M779 126.5h1M784 126.5h3M792 126.5h2M798 126.5h2M803 126.5h3M823 126.5h2M827 126.5h3M833 126.5h2M853 126.5h1M863 126.5h1M866 126.5h4M873 126.5h7M881 126.5h4M893 126.5h2M911 126.5h1M914 126.5h1M918 126.5h3M767 127.5h2M779 127.5h1M791 127.5h4M798 127.5h2M803 127.5h1M821 127.5h4M828 127.5h3M833 127.5h2M852 127.5h3M866 127.5h3M873 127.5h8M882 127.5h4M888 127.5h2M893 127.5h2M905 127.5h1M914 127.5h1M918 127.5h5M774 128.5h2M779 128.5h4M791 128.5h3M798 128.5h2M807 128.5h1M811 128.5h1M814 128.5h1M821 128.5h3M827 128.5h3M832 128.5h4M840 128.5h1M848 128.5h2M852 128.5h9M865 128.5h4M873 128.5h3M877 128.5h3M884 128.5h2M888 128.5h3M894 128.5h1M902 128.5h5M914 128.5h1M920 128.5h3M777 129.5h7M785 129.5h1M792 129.5h2M798 129.5h2M806 129.5h6M813 129.5h1M822 129.5h1M826 129.5h3M832 129.5h1M834 129.5h8M844 129.5h2M848 129.5h9M858 129.5h3M865 129.5h3M874 129.5h2M901 129.5h7M919 129.5h3M767 130.5h6M776 130.5h7M785 130.5h1M798 130.5h2M804 130.5h7M819 130.5h3M826 130.5h3M836 130.5h6M843 130.5h3M848 130.5h9M865 130.5h2M869 130.5h2M875 130.5h1M878 130.5h2M891 130.5h2M902 130.5h1M904 130.5h2M908 130.5h2M919 130.5h4M767 131.5h7M776 131.5h6M788 131.5h1M804 131.5h4M814 131.5h4M819 131.5h2M826 131.5h3M839 131.5h4M844 131.5h10M855 131.5h2M869 131.5h2M878 131.5h3M885 131.5h1M891 131.5h3M909 131.5h1M912 131.5h12M768 132.5h6M775 132.5h2M780 132.5h2M788 132.5h1M792 132.5h3M804 132.5h5M814 132.5h5M827 132.5h3M838 132.5h4M852 132.5h1M855 132.5h5M868 132.5h3M878 132.5h2M884 132.5h2M890 132.5h5M902 132.5h1M912 132.5h8M923 132.5h1M774 133.5h3M785 133.5h4M792 133.5h2M805 133.5h5M814 133.5h6M830 133.5h1M838 133.5h2M844 133.5h1M855 133.5h6M867 133.5h3M885 133.5h1M890 133.5h6M901 133.5h3M913 133.5h7M766 134.5h1M775 134.5h1M783 134.5h5M799 134.5h2M805 134.5h2M815 134.5h1M817 134.5h5M830 134.5h2M843 134.5h2M856 134.5h10M867 134.5h3M890 134.5h6M901 134.5h5M913 134.5h3M919 134.5h1M768 135.5h2M773 135.5h2M782 135.5h5M799 135.5h2M805 135.5h1M817 135.5h6M824 135.5h9M857 135.5h4M863 135.5h7M879 135.5h1M886 135.5h1M889 135.5h3M893 135.5h2M903 135.5h6M913 135.5h1M920 135.5h1M769 136.5h1M772 136.5h3M782 136.5h4M792 136.5h2M799 136.5h5M817 136.5h5M824 136.5h9M844 136.5h1M850 136.5h2M864 136.5h5M878 136.5h4M885 136.5h2M888 136.5h4M903 136.5h8M771 137.5h5M782 137.5h5M791 137.5h4M797 137.5h1M799 137.5h5M809 137.5h1M818 137.5h3M825 137.5h10M837 137.5h4M842 137.5h4M849 137.5h4M865 137.5h4M870 137.5h2M876 137.5h6M885 137.5h7M903 137.5h9M766 138.5h2M770 138.5h5M782 138.5h12M796 138.5h3M808 138.5h2M819 138.5h2M834 138.5h1M837 138.5h9M849 138.5h4M866 138.5h2M870 138.5h1M875 138.5h5M886 138.5h5M897 138.5h2M904 138.5h4M910 138.5h2M918 138.5h2M765 139.5h4M771 139.5h2M782 139.5h12M796 139.5h3M808 139.5h2M820 139.5h1M838 139.5h7M850 139.5h1M856 139.5h2M874 139.5h6M885 139.5h5M893 139.5h2M897 139.5h5M905 139.5h3M910 139.5h2M917 139.5h4M765 140.5h4M782 140.5h12M796 140.5h3M817 140.5h4M827 140.5h1M839 140.5h3M843 140.5h2M855 140.5h3M867 140.5h1M874 140.5h5M885 140.5h4M893 140.5h10M909 140.5h3M917 140.5h4M766 141.5h3M783 141.5h4M789 141.5h10M801 141.5h2M807 141.5h2M815 141.5h5M824 141.5h4M832 141.5h3M837 141.5h4M854 141.5h5M863 141.5h6M876 141.5h2M892 141.5h7M901 141.5h3M908 141.5h3M912 141.5h1M917 141.5h1M768 142.5h1M775 142.5h1M778 142.5h2M783 142.5h3M792 142.5h7M806 142.5h4M814 142.5h4M821 142.5h7M832 142.5h2M837 142.5h3M853 142.5h6M863 142.5h4M885 142.5h4M893 142.5h4M902 142.5h2M908 142.5h3M912 142.5h1M768 143.5h2M772 143.5h9M782 143.5h5M806 143.5h4M814 143.5h3M821 143.5h5M837 143.5h2M845 143.5h3M854 143.5h4M863 143.5h4M874 143.5h2M884 143.5h12M909 143.5h1M911 143.5h3M919 143.5h2M767 144.5h4M775 144.5h5M783 144.5h4M807 144.5h6M822 144.5h1M837 144.5h2M845 144.5h4M855 144.5h3M863 144.5h8M875 144.5h1M884 144.5h5M891 144.5h5M904 144.5h2M911 144.5h3M918 144.5h4M765 145.5h6M778 145.5h1M785 145.5h1M797 145.5h2M808 145.5h5M822 145.5h1M833 145.5h1M837 145.5h3M844 145.5h8M856 145.5h2M860 145.5h2M864 145.5h2M869 145.5h2M876 145.5h2M881 145.5h7M891 145.5h1M895 145.5h1M900 145.5h1M904 145.5h4M912 145.5h10M924 145.5h1M765 146.5h7M777 146.5h2M789 146.5h3M796 146.5h3M810 146.5h3M831 146.5h3M837 146.5h13M853 146.5h2M859 146.5h3M876 146.5h2M880 146.5h7M891 146.5h1M895 146.5h1M906 146.5h2M913 146.5h8M924 146.5h1M765 147.5h4M776 147.5h4M788 147.5h5M796 147.5h3M821 147.5h1M826 147.5h1M829 147.5h5M841 147.5h3M847 147.5h3M859 147.5h2M875 147.5h3M880 147.5h5M891 147.5h1M906 147.5h3M917 147.5h3M924 147.5h1M765 148.5h3M775 148.5h6M788 148.5h4M795 148.5h2M800 148.5h2M804 148.5h2M808 148.5h1M820 148.5h2M825 148.5h2M829 148.5h5M848 148.5h4M859 148.5h1M874 148.5h3M891 148.5h1M899 148.5h2M906 148.5h3M917 148.5h3M765 149.5h1M776 149.5h5M783 149.5h1M789 149.5h2M795 149.5h2M799 149.5h3M808 149.5h1M814 149.5h2M823 149.5h4M830 149.5h7M848 149.5h6M858 149.5h1M869 149.5h2M874 149.5h3M890 149.5h3M895 149.5h3M903 149.5h2M907 149.5h5M779 150.5h6M790 150.5h1M793 150.5h9M814 150.5h1M822 150.5h5M831 150.5h7M848 150.5h3M852 150.5h1M857 150.5h2M868 150.5h2M873 150.5h4M886 150.5h2M889 150.5h3M893 150.5h5M902 150.5h4M909 150.5h4M765 151.5h1M772 151.5h1M775 151.5h1M781 151.5h4M793 151.5h11M814 151.5h1M822 151.5h6M835 151.5h2M842 151.5h1M849 151.5h2M852 151.5h1M858 151.5h2M861 151.5h2M872 151.5h6M879 151.5h1M882 151.5h1M885 151.5h5M893 151.5h7M903 151.5h1M905 151.5h2M909 151.5h4M765 152.5h2M772 152.5h5M782 152.5h2M792 152.5h5M800 152.5h5M813 152.5h3M817 152.5h3M823 152.5h6M842 152.5h3M849 152.5h4M855 152.5h1M858 152.5h5M871 152.5h3M875 152.5h2M879 152.5h1M882 152.5h1M885 152.5h3M893 152.5h3M898 152.5h2M903 152.5h4M910 152.5h3M924 152.5h1M765 153.5h2M772 153.5h4M788 153.5h1M791 153.5h5M800 153.5h5M812 153.5h2M816 153.5h6M824 153.5h6M842 153.5h4M851 153.5h2M855 153.5h1M859 153.5h4M871 153.5h2M878 153.5h1M882 153.5h2M886 153.5h1M893 153.5h3M902 153.5h4M911 153.5h3M918 153.5h1M922 153.5h3M768 154.5h3M772 154.5h3M780 154.5h1M784 154.5h1M787 154.5h3M791 154.5h4M801 154.5h3M811 154.5h3M817 154.5h6M828 154.5h2M842 154.5h3M852 154.5h1M860 154.5h3M864 154.5h2M867 154.5h1M877 154.5h3M882 154.5h1M887 154.5h2M900 154.5h1M903 154.5h3M912 154.5h2M921 154.5h4M768 155.5h4M773 155.5h2M784 155.5h2M787 155.5h3M811 155.5h3M818 155.5h1M822 155.5h1M833 155.5h3M843 155.5h2M852 155.5h2M860 155.5h1M865 155.5h4M879 155.5h1M881 155.5h2M886 155.5h4M900 155.5h2M904 155.5h2M912 155.5h5M921 155.5h4M769 156.5h4M774 156.5h1M784 156.5h1M788 156.5h1M791 156.5h2M811 156.5h4M833 156.5h7M852 156.5h2M859 156.5h2M867 156.5h1M885 156.5h5M904 156.5h3M912 156.5h1M915 156.5h2M921 156.5h3M765 157.5h3M769 157.5h4M774 157.5h2M784 157.5h1M790 157.5h3M797 157.5h2M800 157.5h2M804 157.5h2M812 157.5h3M825 157.5h3M834 157.5h7M848 157.5h3M852 157.5h2M858 157.5h5M870 157.5h5M885 157.5h4M891 157.5h1M904 157.5h4M909 157.5h3M765 158.5h7M790 158.5h3M797 158.5h9M812 158.5h2M820 158.5h1M824 158.5h5M834 158.5h7M848 158.5h2M852 158.5h3M857 158.5h7M869 158.5h5M885 158.5h2M890 158.5h2M904 158.5h8M765 159.5h4M776 159.5h4M785 159.5h1M791 159.5h1M798 159.5h8M807 159.5h2M820 159.5h1M823 159.5h6M834 159.5h7M852 159.5h3M857 159.5h2M862 159.5h4M869 159.5h4M875 159.5h2M883 159.5h3M891 159.5h2M905 159.5h3M910 159.5h4M765 160.5h3M775 160.5h5M784 160.5h2M802 160.5h10M822 160.5h7M835 160.5h2M838 160.5h2M857 160.5h2M869 160.5h3M875 160.5h3M883 160.5h3M890 160.5h4M898 160.5h2M906 160.5h2M910 160.5h4M766 161.5h1M773 161.5h6M783 161.5h3M803 161.5h5M810 161.5h2M825 161.5h3M845 161.5h1M847 161.5h2M857 161.5h2M868 161.5h2M874 161.5h4M880 161.5h1M883 161.5h10M897 161.5h3M902 161.5h3M911 161.5h4M920 161.5h2M773 162.5h6M783 162.5h6M803 162.5h5M811 162.5h5M829 162.5h3M842 162.5h1M844 162.5h6M857 162.5h2M866 162.5h3M874 162.5h3M883 162.5h10M896 162.5h9M907 162.5h2M912 162.5h3M920 162.5h2M772 163.5h7M781 163.5h8M798 163.5h2M802 163.5h3M807 163.5h2M813 163.5h5M829 163.5h4M844 163.5h6M857 163.5h2M865 163.5h4M872 163.5h1M875 163.5h1M883 163.5h9M895 163.5h14M913 163.5h2M917 163.5h5M924 163.5h1M770 164.5h4M775 164.5h3M781 164.5h2M786 164.5h2M798 164.5h2M813 164.5h6M820 164.5h3M830 164.5h4M835 164.5h4M844 164.5h7M865 164.5h4M872 164.5h1M882 164.5h10M895 164.5h14M915 164.5h7M924 164.5h1M769 165.5h5M798 165.5h3M814 165.5h5M821 165.5h5M832 165.5h8M844 165.5h4M850 165.5h3M866 165.5h3M876 165.5h2M881 165.5h3M894 165.5h3M898 165.5h3M905 165.5h2M914 165.5h8M771 166.5h5M786 166.5h4M799 166.5h3M815 166.5h3M822 166.5h4M828 166.5h1M833 166.5h8M844 166.5h3M850 166.5h3M859 166.5h2M863 166.5h2M866 166.5h2M876 166.5h3M881 166.5h3M893 166.5h4M899 166.5h1M905 166.5h2M914 166.5h1M920 166.5h1M771 167.5h7M786 167.5h4M792 167.5h5M799 167.5h4M823 167.5h3M828 167.5h2M833 167.5h1M837 167.5h4M845 167.5h2M849 167.5h3M859 167.5h7M876 167.5h4M891 167.5h1M893 167.5h3M905 167.5h4M914 167.5h1M924 167.5h1M765 168.5h1M776 168.5h2M787 168.5h3M792 168.5h5M800 168.5h2M806 168.5h2M824 168.5h2M828 168.5h2M842 168.5h4M849 168.5h3M856 168.5h6M863 168.5h1M876 168.5h5M897 168.5h1M904 168.5h6M914 168.5h1M923 168.5h2M765 169.5h1M769 169.5h2M787 169.5h3M795 169.5h2M805 169.5h3M813 169.5h2M849 169.5h1M855 169.5h4M877 169.5h4M897 169.5h2M905 169.5h1M908 169.5h2M919 169.5h1M922 169.5h3M768 170.5h3M787 170.5h3M794 170.5h3M804 170.5h3M809 170.5h9M822 170.5h2M831 170.5h2M838 170.5h3M853 170.5h5M864 170.5h1M869 170.5h1M877 170.5h4M886 170.5h2M890 170.5h1M896 170.5h4M917 170.5h3M921 170.5h4M769 171.5h2M776 171.5h1M785 171.5h6M794 171.5h5M809 171.5h10M821 171.5h4M828 171.5h6M837 171.5h4M852 171.5h6M864 171.5h1M868 171.5h3M878 171.5h3M885 171.5h7M895 171.5h4M917 171.5h2M921 171.5h1M769 172.5h2M776 172.5h1M784 172.5h3M795 172.5h5M810 172.5h3M815 172.5h4M822 172.5h4M829 172.5h7M837 172.5h3M845 172.5h2M852 172.5h5M860 172.5h2M868 172.5h3M878 172.5h4M886 172.5h6M895 172.5h3M913 172.5h1M916 172.5h3M921 172.5h2M768 173.5h3M784 173.5h2M797 173.5h3M815 173.5h5M822 173.5h4M829 173.5h7M837 173.5h3M845 173.5h1M851 173.5h3M859 173.5h5M867 173.5h4M879 173.5h1M887 173.5h5M893 173.5h1M896 173.5h2M904 173.5h3M910 173.5h5M917 173.5h2M768 174.5h4M783 174.5h3M798 174.5h1M810 174.5h1M812 174.5h7M831 174.5h4M836 174.5h5M850 174.5h3M860 174.5h5M867 174.5h5M888 174.5h6M898 174.5h10M909 174.5h6M917 174.5h2M768 175.5h5M778 175.5h8M795 175.5h1M803 175.5h1M809 175.5h4M817 175.5h2M827 175.5h1M837 175.5h3M846 175.5h1M850 175.5h3M857 175.5h1M861 175.5h4M869 175.5h3M889 175.5h5M898 175.5h6M905 175.5h3M910 175.5h5M918 175.5h1M767 176.5h6M777 176.5h6M784 176.5h3M794 176.5h3M799 176.5h6M809 176.5h3M818 176.5h2M824 176.5h4M841 176.5h2M845 176.5h10M857 176.5h1M861 176.5h4M878 176.5h2M890 176.5h1M893 176.5h2M898 176.5h5M907 176.5h1M913 176.5h3M766 177.5h6M777 177.5h6M785 177.5h1M790 177.5h1M795 177.5h1M798 177.5h7M809 177.5h2M823 177.5h7M836 177.5h1M840 177.5h7M850 177.5h5M862 177.5h2M867 177.5h3M874 177.5h1M877 177.5h3M894 177.5h2M902 177.5h2M906 177.5h2M918 177.5h2M765 178.5h4M775 178.5h3M781 178.5h1M789 178.5h3M800 178.5h2M803 178.5h3M809 178.5h2M823 178.5h3M827 178.5h4M835 178.5h2M841 178.5h5M852 178.5h5M867 178.5h3M873 178.5h3M877 178.5h3M894 178.5h2M902 178.5h6M918 178.5h2M765 179.5h3M774 179.5h3M788 179.5h7M805 179.5h6M821 179.5h1M824 179.5h1M826 179.5h5M835 179.5h2M853 179.5h6M867 179.5h8M879 179.5h1M902 179.5h6M910 179.5h2M919 179.5h1M922 179.5h3M765 180.5h2M774 180.5h2M788 180.5h4M796 180.5h1M802 180.5h2M805 180.5h3M812 180.5h1M820 180.5h1M826 180.5h4M834 180.5h4M846 180.5h2M854 180.5h5M867 180.5h7M879 180.5h2M884 180.5h2M889 180.5h1M900 180.5h8M910 180.5h4M919 180.5h6M786 181.5h5M795 181.5h3M806 181.5h2M811 181.5h9M835 181.5h2M845 181.5h3M851 181.5h5M866 181.5h8M880 181.5h2M883 181.5h3M888 181.5h3M900 181.5h5M910 181.5h5M919 181.5h6M765 182.5h1M767 182.5h2M781 182.5h2M786 182.5h5M806 182.5h2M811 182.5h9M840 182.5h2M845 182.5h4M853 182.5h5M866 182.5h3M870 182.5h4M883 182.5h1M887 182.5h5M900 182.5h4M910 182.5h2M913 182.5h1M919 182.5h6M765 183.5h1M767 183.5h3M780 183.5h3M789 183.5h3M798 183.5h3M805 183.5h4M811 183.5h10M838 183.5h4M846 183.5h4M854 183.5h4M863 183.5h1M887 183.5h1M891 183.5h2M895 183.5h2M901 183.5h4M910 183.5h4M919 183.5h6M767 184.5h3M773 184.5h1M779 184.5h4M790 184.5h3M798 184.5h3M805 184.5h4M818 184.5h8M837 184.5h5M848 184.5h2M854 184.5h3M863 184.5h1M874 184.5h3M884 184.5h3M895 184.5h3M902 184.5h4M911 184.5h3M919 184.5h1M922 184.5h2M767 185.5h2M772 185.5h4M777 185.5h1M779 185.5h4M784 185.5h1M791 185.5h2M800 185.5h1M805 185.5h4M819 185.5h8M838 185.5h1M841 185.5h2M854 185.5h2M873 185.5h4M883 185.5h3M896 185.5h3M903 185.5h3M912 185.5h2M918 185.5h2M771 186.5h8M780 186.5h2M791 186.5h3M800 186.5h1M806 186.5h3M811 186.5h1M819 186.5h6M830 186.5h2M835 186.5h1M841 186.5h4M855 186.5h1M869 186.5h5M882 186.5h4M891 186.5h5M903 186.5h3M911 186.5h3M919 186.5h1M771 187.5h7M787 187.5h2M791 187.5h7M799 187.5h3M806 187.5h7M817 187.5h3M823 187.5h2M830 187.5h2M834 187.5h3M840 187.5h5M847 187.5h1M855 187.5h1M861 187.5h1M863 187.5h2M868 187.5h6M882 187.5h4M890 187.5h7M903 187.5h4M912 187.5h6M919 187.5h3" stroke="#fdfdfd" stroke-width="1.12" fill="none" filter="url(#mblur)"/>
<circle cx="935.4" cy="46.6" r="5.7" fill="none" stroke="#ececec" stroke-width="1" stroke-dasharray="1.2 1.75"/>
<text x="952" y="50.8" font-size="12.6" text-anchor="middle">0</text>
<circle cx="935.4" cy="60.3" r="5.7" fill="none" stroke="#ececec" stroke-width="1" stroke-dasharray="1.2 1.75"/>
<text x="952" y="64.5" font-size="12.6" text-anchor="middle">1</text>
<circle cx="935.4" cy="74.1" r="5.7" fill="none" stroke="#ececec" stroke-width="1" stroke-dasharray="1.2 1.75"/>
<text x="952" y="78.3" font-size="12.6" text-anchor="middle">2</text>
<circle cx="935.4" cy="87.8" r="5.7" fill="none" stroke="#ececec" stroke-width="1" stroke-dasharray="1.2 1.75"/>
<text x="952" y="92" font-size="12.6" text-anchor="middle">3</text>
<circle cx="935.4" cy="101.6" r="5.7" fill="none" stroke="#ececec" stroke-width="1" stroke-dasharray="1.2 1.75"/>
<text x="952" y="105.8" font-size="12.6" text-anchor="middle">4</text>
<circle cx="935.4" cy="115.3" r="5.7" fill="none" stroke="#ececec" stroke-width="1" stroke-dasharray="1.2 1.75"/>
<text x="952" y="119.5" font-size="12.6" text-anchor="middle">5</text>
<circle cx="935.4" cy="129" r="5.7" fill="none" stroke="#ececec" stroke-width="1" stroke-dasharray="1.2 1.75"/>
<text x="952" y="133.2" font-size="12.6" text-anchor="middle">6</text>
<circle cx="935.4" cy="142.8" r="5.7" fill="none" stroke="#ececec" stroke-width="1" stroke-dasharray="1.2 1.75"/>
<text x="952" y="147" font-size="12.6" text-anchor="middle">7</text>
<circle cx="935.4" cy="156.5" r="5.7" fill="none" stroke="#ececec" stroke-width="1" stroke-dasharray="1.2 1.75"/>
<text x="952" y="160.7" font-size="12.6" text-anchor="middle">8</text>
<circle cx="935.4" cy="170.3" r="5.7" fill="none" stroke="#ececec" stroke-width="1" stroke-dasharray="1.2 1.75"/>
<text x="952" y="174.5" font-size="12.6" text-anchor="middle">9</text>
<ellipse cx="935.4" cy="87.8" rx="4" ry="3.1" fill="#f4d23a"/>
<ellipse cx="935.4" cy="87.8" rx="3.1" ry="2.3" fill="#f09a20"/>
<ellipse cx="935.4" cy="87.8" rx="2.2" ry="1.6" fill="#df3410"/>
</g>
<g id="heat1">
<defs><clipPath id="hc1"><rect x="603.2" y="206.2" width="134.6" height="124.5"/></clipPath></defs>
<rect x="603.2" y="206.2" width="134.6" height="124.5" fill="#4f7797"/>
<g clip-path="url(#hc1)">
<ellipse cx="699" cy="274.1" rx="15.4" ry="8.8" fill="#456c92" opacity="0.55" filter="url(#hblur3)"/>
<ellipse cx="701.7" cy="276.7" rx="9.5" ry="9.1" fill="#456c92" opacity="0.55" filter="url(#hblur3)"/>
<ellipse cx="707.7" cy="296.1" rx="8.8" ry="7.8" fill="#456c92" opacity="0.55" filter="url(#hblur3)"/>
<ellipse cx="681.3" cy="297.7" rx="13.5" ry="6.3" fill="#456c92" opacity="0.55" filter="url(#hblur3)"/>
<ellipse cx="724.9" cy="312.4" rx="13.2" ry="9.7" fill="#456c92" opacity="0.55" filter="url(#hblur3)"/>
<rect x="621.9" y="206.2" width="93.7" height="124.5" fill="url(#hg_tint)"/>
<clipPath id="hr1"><rect x="620.9" y="206.2" width="116.9" height="124.5"/></clipPath>
<g clip-path="url(#hr1)">
<ellipse cx="632.1" cy="272" rx="71.4" ry="59.8" fill="url(#hg_cloud)" opacity="0.6"/>
<ellipse cx="619.9" cy="272" rx="32.3" ry="44.8" fill="url(#hg_core)" opacity="0.8"/>
</g>
<rect x="604.7" y="248.3" width="17.2" height="47.3" fill="url(#hg_comb)" opacity="0.9" filter="url(#hblur2)"/>
<path d="M621.9 237.6L619.1 238.7L621.9 239.9ZM621.9 240.8L617 241.5L621.9 242.2ZM621.9 243.5L611 244.7L621.9 246ZM621.9 246.4L611.4 247.5L621.9 248.7ZM621.9 249.6L606.3 251.3L621.9 253ZM621.9 251.6L614.4 252.5L621.9 253.4ZM621.9 254.5L611.3 256.2L621.9 257.8ZM621.9 258.5L604.3 259.3L621.9 260ZM621.9 260L609.5 261.9L621.9 263.7ZM621.9 261.2L607.3 262.7L621.9 264.3ZM621.9 263.3L611.4 265.5L621.9 267.6ZM621.9 267.5L612.6 268.2L621.9 269ZM621.9 270.8L613.5 272.4L621.9 274ZM621.9 272.4L605.9 273.8L621.9 275.1ZM621.9 275.2L610.2 276.3L621.9 277.3ZM621.9 279.3L604.9 280.8L621.9 282.4ZM621.9 280L610.6 281.9L621.9 283.8ZM621.9 283.3L602.3 284.3L621.9 285.3ZM621.9 287.5L612.4 288.5L621.9 289.4ZM621.9 288.5L609.7 289.7L621.9 290.8ZM621.9 291.2L612.3 293L621.9 294.7ZM621.9 295.3L609.3 296.1L621.9 296.9ZM621.9 298.6L611.4 299.5L621.9 300.4ZM621.9 300.9L611.5 301.8L621.9 302.7ZM621.9 303.8L615.2 304.8L621.9 305.8Z" fill="#ecec2e" opacity="0.8" filter="url(#hblur1)"/>
<rect x="617.4" y="206.2" width="9" height="124.5" fill="url(#hg_band)" opacity="0.2"/>
<rect x="616.9" y="252.8" width="10" height="74.9" fill="url(#hg_band)" opacity="0.6" filter="url(#hblur2)"/>
<rect x="619.6" y="249.8" width="4.6" height="80.9" fill="url(#hg_band)" opacity="0.4" filter="url(#hblur1)"/>
<path d="M654.6 232.8l1.9 -1.8l3 -1.8l2.6 -2.8l3.3 -1.5M665.4 224.9l3.5 -1.6l2.7 -1.3l3.4 -1.1M654.2 302.3l3.2 2.2l2.9 1.1l3.4 1.7l1.9 1.5M665.6 308.8l2.1 0.9l2.2 0.5l2 -0.9l2.8 -1.2M674.7 308.1l2.8 -1.7l2.6 -2.3l1.5 -1.7M680.6 273.1l2.4 -0.4l4 0M676.2 282.5l1.8 1.8M683.9 279.5l2.5 -1.8l2.5 -1.1l2.6 0l2.3 0M693.8 276.6l3.5 -0.9M673.7 278.4l3.7 0.6l4 -0.1l2.5 0.6l3.4 0.9M687.3 280.4l2.6 0.8l3.5 1.4M655.5 232.8l3.6 1.4l2.8 2.2l2.5 1.9l3.2 1.9M667.6 240.2l3.2 2M661.3 308l3.1 0.1l2.4 -0.4l3.3 -1.9l1.7 -1.5M671.8 304.3l2.2 -1.7M662.5 240.4l3.2 -2.3l2.6 -1.6l3.5 -1.6l3.7 -0.8M660.5 241.6l2 -1.2l2.7 -0.9l2.5 0.3l3.2 0.9M665.6 238.7l3.1 -1.5l2.3 -1.4l2.3 -1l3.1 -2.4M665.8 241.9l3.1 1.8l1.8 1.3l3.2 2.1l3 1.3M670.3 241.7l2.7 0.6l3.6 0.8l3.4 -0.8l2.4 -2.1M670.3 241.7l2.2 -1.1l2.7 -2l2.9 -1.9l3.2 -0.5M662.2 243.1l2.1 -0.9l3.2 -0.8l3.5 -1.2l2.1 -0.8M673.1 239.4l1.7 -1.8M670.4 285.2l3 0.3l2.6 0.6l3.8 0.1M675.5 230.1l1.8 -1.9l1.6 -1.7l2.4 -2.1l2.1 -1.6M668.3 236.2l2.1 -2.1l1.8 -1.9l3.3 -2.1l2.9 -1M665.5 242.5l3.3 1.5l2.7 1.1l2.6 1.1l3.2 1.8M677.3 248l3.3 0.8l3.1 1.2l3.5 0.6l3.7 -1.4M672.6 243l2.1 2.3l2.1 2l2.1 1.8l2.5 2.6M681.4 251.7l2 2.2l3 1.5l2.5 1.2l2.6 0.8M661.9 242.6l3.6 -0.1l3.6 0.6l3.5 -0.1l3.7 1.2M676.3 244.2l2.3 0.7M674.9 235.4l1.7 1.8l2.9 2.7l2.2 2.3l1.9 1.8M683.6 244l1.8 1.8l2.3 1.4l2.2 -0.1l3.8 -0.9M693.7 246.2l2.2 -0.7l2 -1l2.7 -1l2.5 -0.9M699.4 239.6l3.1 1.2l2.3 1l2.6 1.2l2.9 1.1M710.3 244.1l2.7 1l3.9 0.8M697.6 237.8l1.8 1.8l1.7 1.8l2.1 1.3l2 2.2M705.2 244.9l2.5 2.4l1.9 2l1.7 1.8l3.1 2.4M714.4 253.5l3.1 1.5l3.2 0.7M652.8 235l3.6 -0.5l3.8 -0.3l3.1 0.1l3.2 0M666.5 234.3l3.4 0.2l2.8 0.2l2.2 0.7l2.3 1.5M677.2 236.9l3.2 1.2l2.8 1.2l2.9 -0.6l2.4 -0.5M688.5 238.2l3.5 -0.6l3.1 -1l2.5 1.2l2.5 2.2M647.9 224.5l2.7 -0.4l3.1 0.3l3.6 -0.7M665.6 240.3l2.8 1.8l2.1 1.4l3.2 2M656.1 309.6l2.7 0.7l2.3 -0.1l2.1 -0.9l2.8 0.1M666 309.4l3.2 1.3M683.2 268.1l2.5 1.8l3.5 1.6M672 288.1l3.9 -0.7l2.8 0.6l2.2 0.6l3.4 1.1M684.3 289.7l2.4 1l3.1 1.8M668.9 288.6l3.1 -0.5l3.1 -0.3l2.1 -0.6l2.2 -0.5M674.4 283.5l2.3 -2.1l2.8 -1.4l2.6 -0.3l3.3 -0.4M685.4 279.3l3.1 0.4l3.8 1l3.6 0.5l3.6 0.6M691.1 287l2.6 2.8l1.7 1.6l2 1.8l1.9 1.7M699.3 294.9l2.1 2.2M675.9 283.2l2.9 0.3l3.2 1.4l2.6 0.6l3.9 0.4M688.5 285.9l2.6 1.1l3.5 1.4l2.2 0.9M681.9 276.6l2.8 -0.7l2.2 -0.9l3.8 -0.5M662.2 236.5l3.1 -1.2l3.7 -0.4M659.3 239.1l1.6 -1.7l2.8 -2.4l2.1 -1.9M710.4 295l2.4 1.6l2.3 2.4l2.1 1.4l2.3 2.5M683.2 287.7l3.3 1.3l3 0.5l3.8 0.7l2.2 0.8M695.5 291l3.5 1.2l3.5 1.9l3.3 1l2.3 0.2M708.1 295.3l2.3 -0.3M673.3 288.6l2.8 -0.3l3.3 0l3.8 -0.6l3.3 -0.4M686.5 287.3l3.2 -0.6l2.4 -0.3M668.1 245.8l2.3 -1.4l3.6 -1.7M680.1 243.9l2.8 1.5l2.4 1.5l2.4 2.5l2.2 0.8M689.9 250.2l2.6 2.3l2.4 1.8M675.2 247.4l2.8 -2.3l2.1 -1.2l3.6 -1.1l3 0.2M675.8 264.6l2.8 2.6l2.3 1.6l1.7 1.8l2.4 2.1M685 272.7l2.3 1.4l3.3 1l2.3 -0.5l3.8 -1.2M651 231.3l2.3 -0.7l2.2 -0.5l3.4 -0.7l2.8 -1.4M661.7 228l2.8 -1.9M655.3 319.3l2.4 0.3l3.7 1.7l1.8 1.5M691.2 292.2l3.9 0.3l2.2 0.6l3.1 -0.1l3.8 -0.4M704.2 292.6l3.7 -0.3M670.7 292.7l2 -2.1l1.7 -1.8l3.3 -1.5l3.9 0.1M681.6 287.4l2 1.3l2 1.5l3.2 1.1l2.4 0.9M691.2 292.2l3.2 -0.2l2.5 0.1l3.4 -0.1M688.9 285l2.3 -0.5l2.9 -1.4l2.1 -1.7l2.3 -1.9M698.5 279.5l3.1 -1.3M716.6 277.8l2.3 0.3l2.6 0.2M683.6 287.3l2.3 -0.5l3 -1.8l2.5 -2.1l2.8 -0.8M694.2 282.1l3.5 0.8l3.9 -0.6l2.8 -0.6l2.3 0M706.7 281.7l3.5 -1.2l2.9 -1l3.5 -1.7M664.2 298.5l1.6 -1.7l2.5 -2.4l2.4 -1.7l2.7 -1.5M673.4 291.2l3 -1.3l3.6 -1.2l3.6 -1.4l2.4 -1.3M686 286l3.2 -2.1l3.7 -0.8M689.6 287.7l2.2 0.4l2.7 0.4l3.7 0.8M681.5 225l2.5 -0.3l2.5 -1.3M672.9 290.9l2.4 1.3l3.7 -0.8M684.4 254.8l2.4 -1.7M686.7 300.4l2.3 2.4M684.9 295.7l3.4 0.4M692.8 277.2l2.6 1.4l3.6 1.3M693.5 254.9l3.2 -2l2.9 -2l2.1 -1.2M685.6 243.6l3.1 0.4l3.4 0.5M671.8 287l3.1 1.7l3 1.6M685.7 257.5l3.6 -0.6M700.1 279.8l2.3 0.5l2.1 -0.7M685.6 276.7l2.9 -0.6l3.3 -1l3.1 0.6M684.5 273.8l2.5 0.5l2.8 -0.3l3.9 -0.4M691.4 296.1l2.6 -0.2l2.9 0.6M690.9 259.3l3.8 -0.4M657.5 224.8l2.5 -1.1l2.9 -1M697.8 266.4l2.6 -2.6l3.1 -1.8l2.6 -2.1M672.6 238.1l3.5 -0.4M693 289l3.5 -1.5M678.9 262.8l3.9 -0.4l2.9 -1l2.5 0.1M706.3 275l2.7 1.3l3.6 1.2l3.6 0.5M670.5 249.7l2.3 -0.3l2.5 -0.4l2.7 -0.6M688.3 230l2.9 -2.1M716.1 248.7l1.9 -2M659.8 229.5l4 0.3l2.6 0.2l3.3 -0.3M714.2 267.7l3 2.1l2.5 2M680.2 248.2l2.8 0.4M660.9 221l1.9 -2l2.2 -1.6l3.3 -1.1M647.4 324l2.9 0.8l3 2.5M713.4 268.2l2.5 0.6l3 -0.7M701.3 262.3l3.5 -1.9l2.4 -1.2l2.1 -1.8M712.6 278l2.8 2.4l2.5 2.7M704.8 274.2l2.6 -1.1l3.2 -1.5M686.6 282.6l2.3 0.3M670 232.5l2 1l3 1l3.9 -0.8M683.1 271.3l1.7 1.6l2.7 2.9l3 1.7M668.3 230.8l1.7 -1.6M679.1 245.9l3.3 1.7l3.3 1.8M685.5 278l3.8 0.3l3.5 0.4M672.8 284.6l2.5 0.4l3.1 -0.1M695.4 280.3l3.4 0.6l3.1 0.6M696.2 267.8l1.6 1.6l2.4 2l2.4 2.6M683.4 260.2l2.6 1.4l2.4 1M674.3 305.1l1.9 1.3M710.2 271.1l3.1 1.4M715.5 264.8l3.2 0.2l3.5 0M690.5 267.7l3.9 -0.1M701 297.9l1.9 2M650 223.5l3.5 -1.7l2.5 -0.9M673.5 302.8l3.2 0.2l3 0.5l2.2 0.1M713.6 272.6l3.8 0.7l3.7 0.9M715.3 260.5l3.3 -0.2M656.1 314.6l3.4 1l3.2 0.5l3 1.5M697.3 247.8l2.8 0.3l2.2 1M706.8 269l3.5 0.3l3.1 0.2l3.1 0.3M678.1 292.5l2.5 0.1l2.4 -0.5M709.8 260.3l2.6 -0.2M682.7 245.7l3.1 -1.3M669.7 296.9l3.7 1l3.1 -0.6M710.3 243.1l3.7 -0.2M712.7 239.1l2.2 -2.3l2.4 -1.8l2.3 -1.7M685.7 264.4l2.9 0.2M705.1 265.5l3.9 -0.2l2.9 0.1M693.9 260.2l3.1 0.5l3.4 -0.8l3.1 -1.7M680.1 310.3l2.5 -1.9l2.3 -2.4M681.8 292.2l3 2.2l2.8 2.1M704.4 256l3.2 -1.1l2.2 -0.6M692.1 274.2l2.4 -0.1l2.5 0.1M693.1 266.2l3.9 -0.2l3.5 -0.5l2.3 -0.4M699.9 280.4l2.2 1.4M693.1 292.7l2 -1.7M685.6 240.8l2.6 -1.6M709 250.1l2.8 -1M680.6 266.9l3.2 0.4M690.7 243l2.7 1.1l3.3 0.7l3.3 1.1M669.4 294.9l3.3 -0.1l3 -0.3l2.6 -1.1M679.6 278.3l2.6 -1.1l2.9 -1.2l3.2 -1.2M665.5 312.1l2.8 1.4M697.2 283.2l3.7 0.9l1.5 1.6M704.7 258.9l2 -2M657.4 233.8l3.2 -2l3.5 -2M665.2 298.3l3.6 0.7l3.7 0.9M684.2 258.5l3 2.5M673.8 234.4l2.1 -2.3M711.2 270.9l3.2 1.6l2.4 1.5l2.8 1.7M664.2 242.6l3 -2.4l3 -2M658.4 228.3l2.8 -1.5l2.2 -1.7l2.3 -0.3M677.3 258.4l2.5 -0.1M694.2 272.7l3.1 -1.1l2.7 -0.2l3.8 -0.6M677.8 273.9l3.1 1.7M695 240l3.8 -0.4l2.3 -0.2l3.6 -0.2M682.5 245.3l2.7 -0.4l4 0.3M698.1 281.8l3.2 -0.4" fill="none" stroke="#e8e832" stroke-width="0.7" opacity="0.1"/>
<path d="M628.2 326.7l3 2.1M648.4 239.7l2.9 -0.7l2.5 -0.4l3 -1.1M642.4 238.5l3.3 -1.2l3.1 -2.3l2.9 -1.4l2.9 -0.8M634.6 328.6l3.2 0.5M625.2 318.8l2 2l2.2 2.3l2.5 2.6l2.7 2.9M642.6 294.7l1.7 1.5l3.2 2.1l3.5 1.9l3.2 2.1M649.6 280.3l2.7 2.5l2.3 1.9l1.9 1.1l3.8 1M654.7 277.8l2.4 -2.6l2.2 -1.2l2.1 -1.4l2.6 -1.9M661.4 291.9l1.9 -1.9l1.8 -1.9M648.6 286.3l2.4 2.5l2.6 1.7l3.9 1l3.9 0.4M655.3 293.1l2.4 2.6l1.6 1.7M650.7 288.3l2 2.1l2.6 2.7l2.1 2.3l2.4 1.9M655 292.8l2.5 2M652.4 257.4l1.8 -1.5l2 -1.3M654.4 259.6l2.5 1.2l3.3 1.1l2.4 0.5l2.8 0.1M665.4 262.5l2.5 -0.1M654.4 259.6l3.4 -0.3l3.6 1.5M658.8 267.9l2.3 0.8l3.2 1.6l2.4 0.8l3.6 0.6M670.3 271.7l2.8 -0.8M657.2 266.2l1.6 1.7l2.2 1.7l2.8 1.5l3.4 0.6M667.2 271.7l3.4 -0.6l3.6 0.2l2.9 1.6l3.5 0.2M668.3 274.9l1.8 1.8l1.9 1.8l2.4 2.1l1.8 1.9M663.2 269.5l2.7 2.8l2.4 2.6l2.5 2.6l2.9 0.9M653.9 264.7l3.3 1.5l2.6 1.3l3.4 2l2.7 0.1M665.9 269.6l2.1 -1.3l3.7 -0.3l2.4 -0.1l3 -0.2M658.9 266l2.9 0.5l2.6 0.2l3.9 0.3l2.6 0.2M670.9 267.2l3.2 0l2.7 0.6l2.6 0.3l2.8 -0.2M633 230.9l3 -2.6l1.9 -2.1M642.8 236.4l3.4 -0.7l2.4 -1l2.9 -1.2l4 -0.7M640.1 304.7l2.3 -1l2.4 -0.1l2.8 -0.1l2.3 0.1M649.9 303.6l3 1.8l2.3 0.7l3.5 1.5l2.6 0.4M651.3 247.4l2.2 -2.3l2.3 -1.4l2.1 -1.1l2.6 -1M654.6 245.5l2.2 -1.6l2.6 -2.7l2.7 -1l3.5 -1.5M659.8 243.9l2.5 -1l3.5 -1l2.2 0.1l2.3 -0.3M651.3 247.4l3.3 -1.9l2.2 -0.9l3 -0.7l2.4 -0.8M641.4 229l2.8 -1.7l2.8 -1.9M643.6 307.4l2.3 2.3l1.7 1.9M654.6 287.5l2.5 -0.2l2.9 -0.2l2.9 -0.2l3.7 -1M666.6 285.9l3.8 -0.7l3.2 -0.9M652.2 289.2l2.4 -1.7l2 -1.6l2.5 -1.5l3.3 -1.2M648.4 250.5l2.7 0.1l2.6 0.1l2.8 0.5l2.7 1.6M658.7 242.6l2.6 -0.5l2.3 -1l2 -2l2.7 -2.9M648.5 244.1l3.9 -0.3l2.5 -1l3.8 -0.2l3.2 0M640.7 237l2.9 -0.4l2.7 0.1l3.1 -1.3l3.4 -0.4M634.6 234l3 -1.1l3 -0.6l3.4 -0.8l2.9 -0.8M646.9 230.7l1.6 -1.8l2.6 -2.7l2.9 -2.5M637.9 231.9l1.9 -1.9l2.5 -2.8l2.2 -1.6l3.4 -1.1M656.5 233.5l2.5 2.7l2.1 1.6l2.3 1l2.2 1.5M637.9 231.9l1.9 -1.3l3.4 -1.6l2.8 -0.8l3.3 -0.5M649.3 227.7l2.3 1.2l2.7 2.5l2.2 2.1l2 1.8M658.5 235.3l2.4 2.2l1.7 1.6l2.2 2.1M659.4 264.1l1.9 1.7l2 1.3M659.4 264.1l3.8 1.2M659 259.9l3.4 2l1.9 1.6l2.6 1.2l2.6 1.4M669.5 266.1l3.7 1.4M661.4 262l1.7 1.6l2.2 1.5l1.6 1.7l2.7 1.3M669.6 268.1l2.1 1.1M655.4 259.9l3.6 0l2.4 2.1M644.3 311l3.7 -0.6l2.4 -0.4l3.5 -0.5l2.2 0.1M654.6 270.5l2.5 2.7l2.6 0.7M673.9 259.7l2.6 1.5l2.6 2.7l2.2 2.2l1.9 2M658.1 257.9l3.6 -0.3l3.9 0.5l2.8 0.7l2.9 0.3M671.3 259.1l2.6 0.6M653.2 281.6l2.1 -0.9l3.5 -1.7M655.9 285.3l4 0.4l3.3 0.6l2.2 1l3.5 1.3M650.9 289.6l2.9 0.7l3 0l3.9 0.6l3.7 0.1M664.4 291l2.2 -1.6l2.9 -2l3.1 -2.4l1.8 -1.5M670.6 266.2l3 1.6l3.7 0l2.4 0.9l2.5 0.6M657 265.3l3.8 0.7l3.5 1l2.5 -0.3l3.8 -0.5M651.9 282.5l3.7 -1.3l2.6 -1l1.8 -1.4l2.7 -1.7M662.7 277.1l2.2 -1.4M663.2 278.5l3.2 2.4l3.5 0.9l3.6 1.1l2.4 0.3M661.3 277.3l1.9 1.2l3.2 1l3.2 0.2l2 1.1M671.6 280.8l2.5 0.6l2.8 -1.2l1.9 -2l3.1 -1.6M654 240.8l3 -1.7l2.5 -1l2.7 -1.6M642.3 244.5l3.7 -1.2l2.1 -0.8l3 -1.2l2.9 -0.5M654 240.8l2.2 -0.6l3.1 -1.1l2.1 -1.6M656 258.3l2.2 0.6M668.5 283.2l2.3 -1l1.9 -1.5l3 -1.1l3.5 -0.4M654.1 285.7l3.5 -1.6l3.8 -0.8l3.1 -0.4l4 0.3M668.5 283.2l3.3 -0.1M651.7 293.1l2.3 0l2.3 -0.1l2.7 -0.6l3.2 -0.9M662.2 291.5l3.5 -1.1l2.2 -0.6l2.4 -0.7l3 -0.5M660.7 253.5l2.6 -2.7l1.7 -1.9l1.6 -1.6l1.5 -1.5M652.4 258.3l2.5 -2.1l2.4 -1.1l3.4 -1.6l3.1 -1.5M663.8 252l2.8 -1.4l2.9 -0.2l2.6 -1.5l3.1 -1.5M652.4 258.3l3.2 -0.2l2.4 0.2l3.6 0.9l2.9 0M664.5 259.2l3.3 0.8l2.4 1.3l2.4 1.4l3.2 1.9M652.5 270.4l2.1 2.3l2.5 1.9l2.4 2.1l2.2 1.3M661.7 278l2.6 1.3l3.5 0.8l2.4 0.6l2.9 1M658.2 271.2l3.3 0.2l3.2 -0.7l3.4 0.1l2.9 0M671 270.8l2.8 -0.5M646.3 245.9l3.3 -0.4l2.8 -0.5l3.6 -0.3l2.2 0M658.2 244.7l2.3 -0.4l2.7 -0.8l3.1 -2.1M634.9 317.6l2.2 1l2.3 0.8l3.9 -0.5M639.2 239.2l3.2 -2.2l2.6 -1.5l3 -2l3 -2.2M662.9 283.5l2.2 2.2l2.6 2.8l3.3 1M655.8 280.1l1.7 1.4l2.1 1.4l3.3 0.6l3.2 0M666.1 283.5l3.1 -0.6l3.5 -0.5l3.2 -0.6M653.5 279.6l2.3 0.5l2.6 1.2l2.3 1.1l2.4 1.9M663.1 284.3l1.9 2l2.4 2.6l2.7 2.4M643.2 314.2l2 0.8l3.3 1.9l3.5 1.6l3.3 0.8M640.8 305.8l2.9 -2.1l3.2 -0.5l2.7 -0.3l2.4 -0.7M652 302.2l3.4 -0.6l3.4 -0.4l3.7 -1.2l1.7 -1.5M648.8 308.1l1.9 -1.2l2.1 -2M653.8 304.3l1.7 -1.7l2.5 -2.7M644.5 312.6l2.4 -2.6l1.9 -1.9l2.9 -2.6l2.1 -1.2M653.8 304.3l2.6 -0.1M639.3 310.9l2.1 0.7l3.1 1l2.4 -0.1l3.1 0M650 312.5l2.5 0.2l2.2 -0.1l2.2 0.6M631.7 228.1l3.1 -0.7l3.7 0.2M650.9 298.5l2.6 2.7l2.7 2.1M668.6 283.5l2.8 0.1M654.7 247.2l3.4 -1.6l3.1 -1.3M652.3 246.8l1.7 -1.5l2.2 -2.1l2.9 -2.2M670.4 283.8l2.4 -0.2l2.7 -1.9M653.6 287.5l2 -1M656.3 304.8l2.6 -0.4l2.3 -1M670.9 274.7l2.8 -1.7l2.6 0l2.4 -0.3M662.1 290.7l3.2 -1.7M653.3 259.7l2.9 0.4l1.8 1.8l1.8 1.9M651.3 250.9l2.9 -1.5M635.4 324.5l2.4 1.9M654.9 268.3l2.2 -1.3l2.2 -2.2l2.1 -1.7M656.4 274l3 -0.5l2.9 0.2l3.6 -0.8M654.8 257.8l2.3 0.3l2.7 -0.2l2.4 -0.6M663.1 264l3.3 -1.2l2.1 -1.6M659.5 277l3.4 0.4M626.8 325.2l2.7 0.1l3.7 1l3.4 0.8M662.8 269.7l3.6 0.1l2.7 0.8M640.7 319.1l2.9 2.2l1.9 2M650 246.4l2.6 0l2.7 0.5l3.3 1.4M675.2 259.1l2.2 -1.6M658.4 265.6l2.7 1.2l3.2 1.3M651 246.1l3 0.2l2.6 -0.8M643.6 231.5l2.3 -2.3l2.7 -2.7l2.4 -2.6M652.2 281.8l3.7 -0.4l2.8 -0.5M646.5 295.2l3.2 0.9M671.6 276.4l2.9 1.3l3.6 1.3l3.3 0.3M660.6 258.7l1.9 1.7l2.8 0.9M661.5 273l2.5 0.7l3.2 0.1M673 272.2l3 0.6l2.5 -0.3l2.9 -0.7M657.7 267.3l3.3 -0.3l3.7 -0.2l3.7 0.1M665.4 279.8l2.8 2.8M633.1 322.5l1.7 1.7l2.9 1.9M659.7 289.8l2.6 -1.4l2.3 -1l2.9 -0.5M661.1 295.1l2.1 1.3M661.5 254.9l2.4 1.3l2.2 0.8M656.5 247.8l2.5 -2.6l3.1 -0.8M656.4 285.8l2.4 0M656.9 280.9l3.1 1.5M658.4 284l2.5 2.2l1.7 1.8M665.4 266.5l2.7 1.9l3.1 1l2.6 0.1M645.5 307.6l3.6 1.1l2.1 2.3M658.3 286.7l3.4 0.7l2.9 -0.2l2.7 0.4M655.2 291.9l2.3 0.5l3.4 1.9l2.1 1.4M629.4 220.6l3.2 -0.7l2.4 0.3l3.7 -0.3M665.1 284.6l2.4 0.2l2.3 0.2l3.4 1.2M667.3 292.5l1.6 1.6M642.8 318.2l3 1.8M634.7 224.6l2.2 -2.3l2.9 -1.1l2.6 -2.7M647 308.1l3 0.6l2.8 1.4M666.9 257.6l2.6 1.3M672.5 278.7l2.4 2.6l2.2 1.9M631.4 319.1l2.3 1.9l2.6 2.8l1.9 1.9M644.7 305.7l3.4 1.4l3.8 1.2l3.4 1.9M658.8 255.2l3.1 -0.9M664.6 288.4l2.9 1.2l2 1.5l2.5 1.6M669.4 248.1l2.2 1M654.6 276.2l3.9 -0.3l2.6 -0.3l3.4 -0.3M669.8 262.5l3.2 1.3l3.7 0.7M671.8 261.6l3.4 -1.3l2.9 -1.2l3.1 -1.9M628.1 218.2l2.3 1M654.1 262.7l2.1 -0.8l2.4 -0.9M641.7 237.7l2.9 -1.1l2.2 0.7l2.3 0.1M647 247.1l3.6 0.8l3.4 1.7l2.6 0.2M667 277.9l2.6 -2.8l1.6 -1.6M654.1 295.5l3.2 -1l3.2 -1.3M647.7 232.9l2.7 -0.5l3.9 -0.8M662.6 257.3l2.9 -0.7l2.9 0.3M661.5 293.1l3 1.1l3.4 1.3M627.7 222.5l3.4 -1l2.5 -1.5M663.1 275.5l2.8 1.3l2.5 0.5M646.5 299.1l3.5 -0.3l2.8 0.5M671.4 257.9l2.3 1.1l2.7 1.2M647.2 294.3l2.5 -1.1l3.1 -2.4M651.8 297.7l2.8 -0.6M647.5 308.4l2.3 1.2l1.8 1.4l2 1.8M624.5 215.8l2.8 -2.8l2.6 -1.8l2.3 -2.4M660.4 270.1l2.4 -0.7l3.8 -0.6M651.8 246.9l1.8 -1.4l2.7 -2.5M652.3 281.2l3.2 1l3.5 0.8l2.6 0.2M669.2 265.4l2.7 1.2l2.4 1.5M628 216l3.4 0M668.6 272.6l1.9 2.1l1.6 1.6M660.6 268.6l2 1M653.4 295.7l2.5 -0.1l3.2 0.6M648.8 257.5l3.9 -0.7l2.7 0l2.9 0.3M657.9 263.8l2.7 -1l2.6 -1.1M663.2 286.6l3.1 -0.5M651.7 255.8l3.3 0l3.2 -0.5l3.4 1.3M675.6 262.5l2.9 -1.5M667.7 264.4l2.3 1.7l2.2 1.2M663.5 285.1l2.4 1l2.9 1.3M650.9 253.8l3.2 -1.3l2.7 -1.3M662.4 267l2.3 2.4l3.2 1.3M659.6 258.8l3.2 1.8l2.9 1.6M670 275.8l3.6 0M662.9 292.1l3.7 -0.6l3.4 -0.3M646.5 311.6l2.3 0.1l3.5 0.4M651.3 248.2l1.6 -1.7l1.8 -1.8M641.1 310.6l2.8 2.9l1.6 1.5M668.5 261.2l2.3 -0.1M650 252.7l2.7 -1.9l2.8 -1.2l2.7 -0.2M656.9 234.4l2.3 -1.7M637 306.9l3.3 0.3l2.5 0.4l2.6 0M649.4 289.6l2.2 -0.1l4 -0.5M649.4 298.9l2.8 -0.4M660.4 267.6l1.8 -1.3l2.3 -0.8l2.3 -0.7M670.9 271.8l2.7 -0.5M672.7 268.6l3.1 -2l2.2 -2.2M666.2 271.1l2.4 0.6l3 0.5l3.6 1.1M659.6 273.2l2.7 0.6l2.9 -0.5M659.1 258.8l2.9 0.5l2.3 0.8l1.8 1.5M623.8 210l2.9 -2.7M664.1 286.4l2.7 -0.1M653.1 251.8l2.2 -2.4l2.9 -1.8l3.4 -0.8M631.6 323.2l2.3 1.2M658.9 263.1l2.2 -1.8M657 247.5l2.1 -1l3.1 -1.2l2.3 -1.7M654.3 272.3l3 1l3.7 0.5l2.7 -0.1M664.7 275.8l3.2 0.5l2.9 -0.4l2.9 -0.4M662 277.8l2.6 -0.6l3.9 -0.6M668.5 254.7l2.1 -1M638.6 324.9l3.7 -0.4l2.7 -1M658.3 253.3l3.1 0M660.8 245.2l2.8 -0.1l2.2 -0.4M660.1 265.5l2.5 0.5l3.9 0.6l3.2 2.2" fill="none" stroke="#e8e832" stroke-width="0.7" opacity="0.2"/>
<path d="M639 261.6l3.3 1l3.2 0.7M643 276.6l3.4 -0.8M636.2 282l3.3 0l3.6 -1.5l2.9 -0.5l3 -0.6M649 279.4l3.7 -0.3l2.5 0.3l2.7 0.1M642 239.9l1.8 1.6l2.1 2.2l2.3 2.4M636.5 238l2.7 0.8l2.8 1.1l3.9 0.4l2.5 -0.6M629.3 240.6l3.6 -1.5l3.6 -1.1l3.6 0.1l2.3 0.4M633.3 288.4l2.4 1.2l2.3 2.3l2 1.4l2.6 1.4M643.8 280.7l3.4 -0.9l2.4 0.5l3 -1l2.1 -1.5M639.7 278.4l1.7 1.8l2.4 1.4l2.4 2.5l2 2M637.7 276.4l2 2l2.2 1.7l2 1.6l2.1 1.8M646 283.5l2.6 2.8l2.1 2l2 2.2l2.3 2.3M641.7 263.6l2.4 -1.1l3.8 -1.1l2.5 -2.6l2 -1.4M641.9 264.2l3.3 0.9l3.5 0M637.7 258.6l3.5 -0.5l2.6 -1.6l2.2 -1.1l1.9 -1.5M647.9 253.9l2.5 -1.2M641.2 258.1l3.2 0l2.7 0.9l3.6 0.1l3.7 0.5M642.7 261.9l3.3 1.6l2.5 0.3l2.2 0.6l3.2 0.3M646.5 261.9l2.6 1l3.2 1.4l2.7 1l3.9 0.7M630.6 233.1l2.4 -2.2l3.2 -1.9M628.2 233.3l2.4 -0.2l2.5 0.2l3 0.5M633.4 241.8l2.3 -1.1l2.1 -1.5l2.6 -1.6l2.4 -1.2M641.5 260.4l2.1 -1.3l2.4 -2.6M639.8 250.1l3.8 0.2l2.8 0l2.9 -1.5l2 -1.4M629.7 235.3l3.3 -1.1l3.4 -1l2.7 -2.1l2.3 -2.1M638.2 301.7l2.3 1.8l1.7 1.7l2.8 2.7M634.5 298.2l2.1 1.8l1.6 1.7l2.7 2.8l2.7 2.9M640.7 295.2l3.4 -1.3l2.7 -1.8l2.7 -1.4l2.7 -1.5M639.5 244.7l2.6 1.8l1.8 1.6l2.5 1l2 1.4M636.7 245.9l2.8 -1.2l3.1 -0.1l3.6 -1l2.3 0.5M628.9 239.7l2.2 -0.7l2.6 -0.7l3.9 -0.7l3.1 -0.6M626.5 238.6l3.2 -1.1l2.5 -1.4l2.4 -2.1l3.3 -2.1M649.9 257.6l2.5 2.7l1.8 1.4l2.8 1.4l2.4 1M633.6 254.7l2.1 -0.8l3.2 -0.4l2.9 -0.2l3.4 1.2M645.2 254.5l2.9 1.8l1.8 1.3l2.4 2l3.1 0.3M637.8 300.2l2.8 0.9l2.4 1.3l2.2 1.5M637.8 300.2l2.9 -0.7l2.1 -0.5M638.1 285.4l3.8 0.3l2.1 -1.1M636.8 288.9l2.8 -0.3l2.9 -0.5l3 -1.6M639.2 290.3l3.6 1.6l3.6 1.2l2.2 1.3M638.7 237.7l2.5 1l2.3 0.5l2.9 0.2M633.4 240.2l2.6 -1.6l2.7 -0.9l2.7 -1.7M637.3 287.9l2 1.4l3.2 1.7l1.8 1.8M642.4 291.7l2.6 2.8l3.3 1.2l2.8 2.6M645.2 262.6l3.3 -2l1.9 -1.1l3 -2.4M636.3 266.8l3.1 -1.4l2.4 -1.1l3.4 -1.7l2.7 -0.7M647.9 261.9l2.4 -0.6l2.8 -0.9M652.1 267.9l1.7 1.9l2.4 2l2.8 2.7M645.3 262.5l1.8 1.6l2.3 1l2.7 2.8l2.5 2.6M645.3 262.5l3.2 -1.6l2.6 -0.9l3.8 -1.3l3.2 -0.8M642.5 279.1l2.5 1.4l2.4 1.5l2.9 0.3l2.9 -0.7M645.1 289.1l2.7 -0.9l2.5 -1l3.5 -0.9l2.1 -1M639.2 286.9l2.3 0.8l3.6 1.4l3 0.5l2.8 0M643.9 270.4l3.7 -1.3l3.3 -1.7l2.6 -1.1l3.5 -1M634.3 291l3.3 -1.8l3.5 -1.9l2.1 -1.3l2.6 -1.6M645.8 284.4l3.4 -1.2l2.7 -0.7l2.4 -1.1M648 275l3.5 0.2l3.3 -0.3l2.9 0.7l3.6 1.7M626.5 313.7l2.6 0l3 1.8l2 2M644.9 259.5l2.5 -0.1l3.8 -0.2l2.5 -0.5l2.3 -0.4M631.9 238.4l1.9 -1.2l3 -1.9l1.9 -1.2M634.2 239.8l2.3 2.4l2.1 2.2l1.9 2M625.5 238.7l4 -0.3l2.4 0l2.3 1.4l3 1.6M637.2 241.4l3.1 0.4l3 -0.4M642.2 291.7l2.4 -1.4l3.4 -0.6l3.1 -1.6l3 -2.4M639.5 291.7l2.7 0l3.8 0.3l2.5 0.8l3.2 0.3M644.5 278.3l3.2 2.5l2.2 1.1M640.3 258l3.4 0l2.6 0.9l3 -0.1l3.1 -0.5M634.3 241.2l3.4 -0.1l2.9 0.4l2.5 0.2M647.6 269.2l2.4 0.7l2.5 0.5l2.5 0.1l3.2 0.7M635.8 248.3l2.7 -0.5l2.5 -0.6l2.4 -1l2.9 -0.3M628.9 245.8l2.9 -1.4l2.7 -1.5l3 -2l1.7 -1.7M639 277.6l2.5 -0.4l3.8 -0.2l2.8 -0.4l3.3 -0.5M643 273.2l3.6 -1.3l2.9 -0.3M639.8 276.2l2.8 1.4l3.4 2l3.3 2M651 278.6l2.2 2.2l2 1l2.8 1M644.9 277.2l2.6 -0.2l3.5 1.6l3.3 2M641.4 277.8l2.9 0.5l3.4 0.5l3.1 0.4l2.7 0.4M632.9 308l2.4 1.6l2.6 2.5l2.3 1.1l3 1M629.7 307.9l3.2 0.1l2.3 -0.2l2.6 -0.8l3 -1.2M645.6 274l3.2 2l2.2 0.5M640.9 271l2.2 1l2.5 2l1.8 1.2M628.8 307.1l2.2 1.8l2.9 1.3l2.6 0.7l2.8 0M631.8 308.6l2.6 0.1l2.7 0.3M644.3 269.6l1.7 -1.8M637.3 310.3l2 1.1M651.4 260.1l2.6 -1.6M642.3 267.1l2.3 -2.1M648.2 282.5l2.4 0.1l3.3 1.3M643.3 274l3.4 -1.7M638.5 260.5l3 1.1l3.5 1l3.9 0.3M631.4 243.2l3.3 0.7l3.3 0l3.3 0.4M642.5 278.4l2.3 0.5M622.5 327.4l2.6 2.8M645.6 283.5l1.7 1.7l1.5 1.7M644.5 275.1l2.6 1.7M624.8 319.8l3.5 -1.6l3.8 -0.7l3.4 -0.3M640.4 282.7l2.8 0l2.8 0.4M638.2 253.1l2.9 2.2M648 262.5l2.9 0.2l3.6 0.4M632.9 240.5l3.1 -1.1l3 -1.5M643 273.6l3.2 -0.3l2.8 -0.1M631.8 243.7l2.9 -0.2l2.3 0M630.4 309.3l2.8 -0.4M644.3 261.8l3.3 0.4M637.9 253.6l3.1 -0.8l2.1 -1l2.2 -1.6M642.5 266.9l2.9 -1.1l2.8 -1.8l3.4 -1M642.2 287.7l3 0.6M624.9 227.7l2.1 1.2M652 277.4l3.5 0.2M622.3 220l3.6 -1.4M637.8 260.1l3.2 0.5l2.8 0.2l3.7 0.3M643.4 262.8l2.2 0.6l3.4 0.3l3.9 -0.4M641.7 281l3.7 -0.3M628.8 311.6l2.2 0.2l2.2 -0.7l3 -0.7M650 260.1l2.5 -1.8M635.1 240l2.3 0.4l3.9 -0.5l3.3 -1.2M639.5 252.8l2.3 0.3l3.4 0.6l2.8 1.4M624.2 315l1.7 1.9l2.7 2.8l2.3 2.4M638.4 287l2.9 1l2.6 0.2M630.7 240l3.5 -0.2l2.6 0.5M640 261.2l3.5 -0.1l3.3 -0.2M637.7 261.6l3.2 -0.8l2.7 -0.9l2.3 -1.3M646.1 259.6l1.6 1.7l1.9 1.8M625.7 225.2l3.8 0.7l2.4 -0.3M645.4 270.2l3.5 1.6l2.6 1.9l2.7 2.7M643 254.5l2.3 -0.4M637.1 232.3l3.1 1M642 260.5l2.3 0.3l3.9 -0.4l3.3 -0.2M637.2 286.3l2.2 1.6l2.4 1.9l3.2 2.2M639.1 242l2.1 -1l2.6 -1.5M642.9 283.3l2.3 -0.7l3.1 -0.8M646 256.8l3.1 0.2l2.8 0.9M635 239.7l3.8 -0.7M638.8 302.2l3.3 0.8l3.6 1.1M646.3 265.2l1.5 -1.7l1.9 -2M630.7 308.6l2.9 1.3l2.8 2.2M644.5 252.3l3.1 0.4l3 1.4l2.8 2M632.7 299.7l2.2 -0.7l3.5 -0.1l2.2 0.1M648.2 262.3l3.3 -1.3l3.8 -0.8M649.6 267.8l3.2 1.4M641 302.4l2.7 -2.8M644.2 264.8l2.8 -0.2l3.2 -0.8l2.7 0M639.2 278.5l2.6 2.7l2.6 2.6M650.6 271.1l2.4 -1.6M647 277l2.4 1.5l3.4 1.1l3.6 1.1M642.5 288.2l1.8 1.9M645.6 253.4l3.5 -0.2l2.5 0.2M641.2 298.8l2.6 2M645.8 263.5l1.9 -1.5l1.9 -1.7M640.6 247.5l2.8 0.7l2.7 1.4l3.5 1M625.4 308.7l3.1 0.1l3.3 2M642.1 276.6l2.4 1.4M648.8 269.8l3.7 0.3l3.6 0.1l3.6 0.8M645.2 273.5l2.3 2.5M639.8 267.7l2.3 1.2l3.1 1.4l3 1.6M637.7 286.6l2 1.1l2.9 1.8M637.9 266.1l2.6 -2.3l3.5 -1.5l3.5 -0.9M644.6 271.8l3.5 -0.8M651.4 265.5l2.2 -1M644 256.1l2.2 -0.7M635.2 290l2.9 0.8l3.4 0.6M627.3 234.5l2.8 0.3M647.5 259.7l2.3 0.9M629.3 238.8l3.7 -1.4M646.9 280.5l2.6 -2.8l2.6 -2.7M638.3 241.9l3.1 -1.8l3.7 -1.1M636.2 254.4l3.1 0.9l3 1.5l2.9 1.1M651.5 262.6l3.4 -2.1l2.5 -1.3M635.1 299.5l3.3 2.1M648.4 263.5l3.1 2.5l3.3 1.9l2.4 2.2M650.4 275.3l2.9 -0.8l2.9 -1.2M648.4 253.8l2.3 -0.8M651.2 257.2l2.6 2.6l2.2 2.2l2.3 2M638.4 239.8l2.1 -1.1l2 -1.6l2.2 -1.1M635 241.5l2.7 -1.5l3.2 -0.1l2.4 -1.2M644.6 286.7l3.1 0.5l3.4 1.5M646.7 259l2.8 -1.1M638.7 296.6l2.6 0.5M636 256.9l3.3 0.1l3.6 -0.2l2.5 -0.8M627.9 227.3l2.8 -2.1M648.1 262.7l3.3 -0.3l2.2 -0.7M627.3 239.8l2.4 -2l2 -1.6l2.2 -0.7M639.3 259.9l2.5 0.9l2.3 1.4M623.4 224.4l2.6 2.4l2.2 0.9M649.9 273.2l3.5 -0.9l2.6 -1.9M644.1 299.2l2.4 1.7" fill="none" stroke="#e8e832" stroke-width="0.7" opacity="0.3"/>
<path d="M633.9 257.3l2 1.7l3.1 2.6M626.7 254.1l2.4 1.1l2.3 1.5l2.5 0.6M631.1 279.1l3.5 1.7l3.3 1.3M627.2 278.8l3.9 0.3l3.7 -1.2l3.4 -1.7l2.5 -2.6M640.7 273.6l2 -2.1M639.6 278.3l1.9 -1.8l2.3 -2.4M630.1 280.2l2.9 -0.2l3.1 -0.9l3.5 -0.8l3.4 -1.7M634.5 288.5l2.1 -1.5l1.7 -1.8l2.3 -2.4l3.2 -2.1M623.6 310.2l2.8 -0.4l2.9 0.1l2.9 0.5M623.7 309.2l2.5 -0.2l2.9 0l3.9 0M631.7 257.8l3.5 0.7l2.6 2.4l1.9 1.5l2.2 1.8M628.1 256.5l3.1 1.1l2.8 0.4l3.7 0.6l3.5 -0.5M631.4 258l3.7 1l2.4 1.1l2.8 0.8l2.4 1M634.9 260.4l2.8 -0.9l2.4 0.3l3.1 0.6l3.3 1.5M638 263.8l1.9 -1.7l1.6 -1.7M629.4 269.6l3.4 -1.8l2.6 -1.1l2.6 -2.9M625.9 248.8l3.8 0.1l3.8 0.5l3 0l3.3 0.7M627.1 298.9l3.5 -0.2l3.9 -0.5l3.5 -1.7l2.7 -1.3M624.5 250.3l3.6 -1.1l2.9 -1.1l2.2 -0.8l3.5 -1.4M626.3 304l2.4 -1.3l2.7 -1.2l2.8 -0.5l3.6 -0.8M632.7 294.2l2.6 2.1l2.4 0.2M624.3 296.2l3.2 -0.9l2.9 -1l2.3 -0.1l2.6 0.3M635.3 294.5l2.2 0.6M631 285.9l3.9 -0.2l3.2 -0.3l3.6 -0.1M628.8 283.9l2.2 2l2.8 1.2l3 1.8l2.4 1.4M622.3 244l3 -1l2.2 -0.5l3 -1.5l2.9 -0.8M631.4 286.9l2.4 -0.2l3.5 1.2l2.7 1.6l2.4 2.2M629.6 270.2l2.6 0.9l2.3 1.2l2.2 1.6l2.9 2.4M639.6 276.3l2.9 1.6M634.5 268.7l1.8 -1.9l2.6 -2.8l3.1 -0.6l3.3 -0.9M630.5 274.5l3.6 0.4l2.4 1.1l2.4 1.7l3.6 1.4M627.7 278.5l2.8 2.6l3 1.9l2.9 1.8l2.8 2.1M623.1 297.3l3.2 -1.2l2.4 -1.7l2.3 -1.5l3.3 -1.9M635.3 279l3.4 -1.9l3.6 -1.8l2.5 -0.3l3.2 0M637.3 270.5l3.6 -0.3l2.2 0l2.7 -0.7M632 261l3.9 -0.9l2.5 -0.3l2.7 0.5l3.8 -0.8M632.7 276.3l3.8 -0.1l3.2 0.5l2.6 0.6l2.2 1M635.9 266.6l2.9 2.2l2.5 1.2l3.4 1.3l3.8 0.7M628.4 260.3l2.4 0.1l3.7 -0.7l2.5 -1l3.3 -0.7M635.1 268.2l2.9 0.2l3.6 0.2l3.1 0.4l2.9 0.2M626.6 252.5l2 -1.8l2.1 -1l2.8 -0.7l2.3 -0.7M626.3 276.7l3.9 0.5l2.9 0.3l2.4 0.9l3.5 -0.8M632.7 276.6l2.9 -0.7l3.1 -0.8l2.1 -1l2.2 -0.9M633.1 276.7l3.7 -0.4l3 -0.1l2.8 0.4l2.3 0.6M630.8 276.3l2.3 0.4l2.6 0.5l2.8 0.2l2.9 0.4M632.9 282.6l3.7 0.2l2.8 0M630.5 260.6l3.2 0.2l2.7 0.2M626.4 239.3l2.6 1.8l3.2 1.1M629 255.4l3.4 -0.5M625.7 295.7l2.5 -1.1l2.6 -1.3M633.2 295.2l2.1 -2.2M628.5 306.9l2.2 -0.4M631.8 248.4l2.6 -0.1M629.3 289.5l2.8 0.8l3.4 -0.1l2.9 -0.7M628.2 261l3.9 0.2l2.5 0.4M625.9 247.5l3.2 0.3l2.4 -0.1M625.9 237l3.8 -0.2M625.6 299.6l3 0l3 0.7l3.3 1.3M631 258.4l2.8 1.2l1.8 1.8M634.7 270.5l2.6 -0.1l2.3 -0.3M625.4 247.4l3.1 -1M630.8 254.4l2.5 -1.1M631.7 280.5l2.4 -0.5l2.7 -0.3l3 -1.2M626.5 247.9l3.3 0.1M633.7 286.1l2.9 0.3l2.3 -0.5M634.3 287.8l2.9 0.2l3.3 0.6l3 2M629.2 259.6l2.2 1.4l1.9 2l1.6 1.8M632.9 275.2l2.3 -2.4M637.8 266l2.9 0.6M624.9 243.3l3.7 0.8M630.3 256.1l3.4 0.4M638 269l2.4 0.7M630.7 273.9l1.7 -1.6l2.6 -2.7l2.2 -2.3M631.3 274.4l3.3 -0.6M629.9 292.5l3.8 1l3.5 0.6M634.4 287.9l2.8 -0.6M621.9 240.4l1.7 -1.5l2.3 -2.3l2.6 -2.1M635 265.8l3.4 0.7M637.5 283.8l3.4 -1.8M636.1 261.7l3.5 1M627.5 284.3l3.7 1.1l2.8 1.1l2.5 1.4M630.4 288l1.8 1.5l1.8 1.9l2.1 2.2M631.8 276.9l3.7 -1.2l2.4 -0.2M635.4 285.2l2.2 -0.7M635.2 270.1l1.5 1.6l2.6 2.7l2.6 2.8M631.5 278.9l2.8 -0.6M627.8 295.1l2.5 -2l2.6 -2.5l3 -2.2M638.3 271.1l1.6 -1.8l2.2 -2l2.5 -2.6M637.4 287l2.4 -0.9l2.2 -2.4M635.1 274.1l2.3 -1l2.3 -2l2.3 -1.2M635.8 288.6l2.1 1.6M631.5 245.1l2.4 1l2.4 1.1M635 278.2l2.8 -0.5l2.1 -1.3M629.8 250l3.4 0l3.6 -0.4l3.7 -0.1M632.3 282.4l2.1 -1.3M635.1 272.8l2.5 0.2l3 -0.1l3.1 0.1M634.8 280.9l2.8 1.2l2.6 0.1l3.1 0.5M628.2 253.7l3.6 1.8l3.7 -0.9M630.8 271.8l3 -0.5l3.1 -0.3l3.6 -0.5M631.5 297.2l2.9 0.2M624.4 233.1l2.5 -0.3l3.8 0.4M638.5 260.9l2.3 1.5l2 1.4M629.3 295.9l3.7 -1.2l2.4 -0.5l2.5 -0.4M624 306.1l3.4 -0.4l2.4 -1.5l3.6 -1.3M631.6 262.6l2 1M631.5 287.3l2.5 0l3.1 -0.3l3.7 -0.2M623.7 301.5l2.7 1.1l2.5 0.8l3.3 0.7M630.1 257.2l2.6 -1.8l2.4 -2.5M637 278.3l2.8 -0.5l2.2 -0.5l2.7 -0.6M622.8 297.1l3.2 1.1l3.3 0.9l3.4 1.2M625.4 299.1l1.7 1.6M624.2 237.3l3.9 -0.1l2.3 -0.3l2.1 -0.8M630.1 277.6l2.7 2.9l2.6 1.3M637.2 281.7l2.7 -0.4M634.9 274.1l2.6 0.6l2.5 0.7M624.1 297.4l3.1 1.6l3.1 1M629.6 292.2l3 -1.6" fill="none" stroke="#e8e832" stroke-width="0.7" opacity="0.4"/>
<path d="M624 276.4l3.2 2.4l2.9 1.4l2.3 1l3.8 0.8M622.1 251.8l1.8 1.5l2.5 1.6l1.7 1.6l3.3 1.5M625.4 281.9l3.4 0.3l2.9 -0.2l3.4 -0.1M623.3 279.7l3.4 0.2l3 -0.4l2.4 0l3.2 -0.5M625.6 261.6l3.4 1.3l2.5 1.4l2.4 1.3l2 1M624.5 269.9l2.5 0.1l2.4 -0.6l3.4 -0.8l2.3 -0.4M624 275.2l3.3 -1.8M627.2 280.4l3.2 0.1l3.7 0.4M623.4 250.3l2.2 -1.1M627.9 279.1l1.6 -1.7l2.6 -2.8l3.8 -0.3M625.9 261.5l1.5 -1.6l2.7 -1.5M628.1 288.3l3.2 -0.6M625.4 273l2.1 0.4l3.8 0.9l2.2 0.4M625.1 252.2l2.7 -0.3l2.9 -1.1M628 260.8l3.6 -1.1M623.6 273.2l3.6 0.5M622.3 264.9l2.4 -0.3M624.9 261.9l3.7 -0.2l3.3 -0.4M628.4 279.5l2 -2l2.4 -2.6l2.1 -1.9M623.6 292l1.7 -1.8l2 -1.7M623.2 263.8l3.2 0.3M627.3 268l3.4 -1.2l3.5 -1.5M628 262.3l2.6 -0.1M628 275.8l3.1 0.2M624 270.7l3.2 1.7l2.2 2.2M622.1 303.2l2.7 0.6M626.4 274.7l2.5 1.3l2.1 1l3 0.3M625.1 271.6l2.8 -0.6l2.7 -0.6M630.1 271.3l2.1 -2.2M628 274.5l3.1 -0.3l3.4 1.5M627.1 284.9l2.2 -2l1.8 -1.9M625.5 265.8l2.5 -0.1M623.1 259.6l2.4 -0.4M623.2 267.3l3.2 2.3l2.6 1.8M624.8 265.4l2 -1.5l2.8 -1l2.9 0M630.6 271.1l2.2 1M627.5 259.9l2.9 -1.4l3.2 -0.7M622.5 262.7l2.7 -2.4M622.8 271.1l2.3 1.5M626.1 263.3l2.1 -1.5l1.9 -1.1M622 262.4l3 -1.1M625.8 261.3l3.7 -1.2l2.6 -0.7l2.6 0M628.5 273.9l2.4 -0.2M623 263.4l3 0M626.2 270.5l2.4 -1.6M625.3 260.6l3.7 0.3l2.3 -0.8M630 272.3l3 -1.1M625.9 265.5l3.5 0.6l2.2 0.7l3 1.8M626 253.9l1.8 -1.8l2.9 -2.4M627.6 285l3.1 -0.2" fill="none" stroke="#e8e832" stroke-width="0.7" opacity="0.5"/>
<path d="M645.7 249.8Q672.9 242.8 718.6 240.3" fill="none" stroke="#e4e432" stroke-width="0.9" opacity="0.5"/>
<ellipse cx="722.4" cy="217.2" rx="3.6" ry="1.0" fill="#d4e04a" opacity="0.7" filter="url(#hblur1)"/>
<ellipse cx="722.4" cy="228.6" rx="3.6" ry="1.0" fill="#d4e04a" opacity="0.7" filter="url(#hblur1)"/>
<ellipse cx="722.4" cy="251.4" rx="3.6" ry="1.0" fill="#d4e04a" opacity="0.7" filter="url(#hblur1)"/>
<ellipse cx="722.4" cy="262.8" rx="3.6" ry="1.0" fill="#d4e04a" opacity="0.7" filter="url(#hblur1)"/>
<ellipse cx="722.4" cy="274.1" rx="3.6" ry="1.0" fill="#d4e04a" opacity="0.4" filter="url(#hblur1)"/>
<ellipse cx="722.4" cy="285.5" rx="3.6" ry="1.0" fill="#d4e04a" opacity="0.5" filter="url(#hblur1)"/>
<ellipse cx="722.4" cy="296.9" rx="3.6" ry="1.0" fill="#d4e04a" opacity="0.5" filter="url(#hblur1)"/>
<ellipse cx="722.4" cy="308.3" rx="3.6" ry="1.0" fill="#d4e04a" opacity="0.2" filter="url(#hblur1)"/>
<ellipse cx="722.4" cy="319.7" rx="3.6" ry="1.0" fill="#d4e04a" opacity="0.5" filter="url(#hblur1)"/>
</g>
<rect x="619.5" y="215.8" width="96.1" height="106.5" fill="none" stroke="#0a0a0a" stroke-width="1.1" stroke-dasharray="2 1.6"/>
<ellipse cx="722.6" cy="240.3" rx="3.3" ry="1.25" fill="#ecdc38"/>
<ellipse cx="722.6" cy="240.3" rx="5.4" ry="3.5" fill="none" stroke="#f6f6f6" stroke-width="1" stroke-dasharray="1.1 1.4"/>
<text x="731.8" y="244.1" font-size="11.5" fill="#f6f6f6" text-anchor="middle">2</text>
</g>
<g id="heat2">
<defs><clipPath id="hc2"><rect x="797" y="206.2" width="133.8" height="124.7"/></clipPath></defs>
<rect x="797" y="206.2" width="133.8" height="124.7" fill="#4f7797"/>
<g clip-path="url(#hc2)">
<ellipse cx="915.2" cy="311" rx="15.1" ry="6.5" fill="#456c92" opacity="0.55" filter="url(#hblur3)"/>
<ellipse cx="899.2" cy="261.3" rx="12.2" ry="6.8" fill="#456c92" opacity="0.55" filter="url(#hblur3)"/>
<ellipse cx="880" cy="263.3" rx="9.8" ry="8.7" fill="#456c92" opacity="0.55" filter="url(#hblur3)"/>
<ellipse cx="872" cy="229.3" rx="13.7" ry="8.5" fill="#456c92" opacity="0.55" filter="url(#hblur3)"/>
<ellipse cx="895.4" cy="290.7" rx="10.9" ry="6.3" fill="#456c92" opacity="0.55" filter="url(#hblur3)"/>
<rect x="815.8" y="206.2" width="93.8" height="124.7" fill="url(#hg_tint)"/>
<clipPath id="hr2"><rect x="814.8" y="206.2" width="116" height="124.7"/></clipPath>
<g clip-path="url(#hr2)">
<ellipse cx="826.6" cy="268" rx="75.6" ry="62.8" fill="url(#hg_cloud)" opacity="0.6"/>
<ellipse cx="813.8" cy="268" rx="34.2" ry="47.1" fill="url(#hg_core)" opacity="0.8"/>
</g>
<rect x="798.5" y="243.1" width="17.3" height="49.8" fill="url(#hg_comb)" opacity="0.9" filter="url(#hblur2)"/>
<path d="M815.8 232.9L808.9 234.2L815.8 235.5ZM815.8 235.7L809.6 237.1L815.8 238.5ZM815.8 237.9L806.6 238.9L815.8 239.8ZM815.8 239.9L805.2 241.2L815.8 242.5ZM815.8 243.2L809.5 244L815.8 244.9ZM815.8 246.2L808.8 246.9L815.8 247.7ZM815.8 246.4L807.6 247.9L815.8 249.4ZM815.8 249.9L805.7 251L815.8 252ZM815.8 253.5L802.3 254.4L815.8 255.3ZM815.8 255.4L800.1 257L815.8 258.5ZM815.8 257.1L797.1 259L815.8 260.9ZM815.8 259.8L796.3 260.8L815.8 261.7ZM815.8 260.9L798.6 263L815.8 265.1ZM815.8 265L796.7 267.1L815.8 269.2ZM815.8 267.6L805.1 269.5L815.8 271.4ZM815.8 269.7L808.8 270.9L815.8 272.2ZM815.8 274L796.7 274.9L815.8 275.8ZM815.8 274.9L807.5 276.6L815.8 278.4ZM815.8 276.8L804 278.6L815.8 280.4ZM815.8 279.3L797.5 281.3L815.8 283.3ZM815.8 282.8L805 284.5L815.8 286.3ZM815.8 285.9L807.8 287L815.8 288.1ZM815.8 288.3L804.9 289.8L815.8 291.2ZM815.8 289.8L804.6 290.9L815.8 292.1ZM815.8 293.4L809.6 294.9L815.8 296.5ZM815.8 296L807.5 296.9L815.8 297.8ZM815.8 297.9L809.1 299.3L815.8 300.6ZM815.8 300.8L807.5 301.6L815.8 302.4Z" fill="#ecec2e" opacity="0.8" filter="url(#hblur1)"/>
<rect x="811.3" y="206.2" width="9" height="124.7" fill="url(#hg_band)" opacity="0.3"/>
<rect x="810.8" y="234.1" width="10" height="75.1" fill="url(#hg_band)" opacity="0.6" filter="url(#hblur2)"/>
<rect x="813.5" y="231.1" width="4.6" height="81.1" fill="url(#hg_band)" opacity="0.4" filter="url(#hblur1)"/>
<path d="M875.7 256l2.6 1.1l3.4 0.6M881.1 256.6l3.7 1.4l2.7 0.9l2.5 1l3.5 1.1M893.5 261l3.1 0.3l2.2 0.5M875.2 256.1l3 0.9l2.9 -0.4l3.6 0.6l3 -0.2M877.9 261l2.7 2.6l2.6 1.5l2.7 2.8l2.2 1.3M896.8 277l2.5 2.5l1.9 2l2.6 2.5l2.6 2.6M906.4 286.6l2.4 2.5l2.5 2.5M878.6 264.7l2 1l2.1 1.3l2.5 2.6l2.4 2.1M887.6 271.7l3.1 2l2.9 1.3l3.2 2l1.7 1.9M908.7 250l2.2 2.3l2.3 1.7l2.8 1.6M873.4 260.3l3.3 -2.1l2.1 -2.2l3.2 -2.5l2.2 -0.7M884.2 252.8l2.5 -1.8l3.1 -0.6l4 0.5l3.5 0.6M897.3 251.5l3.5 -0.5l2.2 -0.6l2.9 -0.8l2.8 0.4M876.7 260.8l2.2 -1l2.6 -2.5l3.3 -0.4l2.4 -0.6M887.2 256.3l3.5 -1.9l2.9 -1.6l3.4 -0.8l2.8 -0.8M899.8 251.2l2.7 -0.7l2.3 -0.4l3.2 -1.7l3.8 0M873.4 260.3l3.3 0.5l2.5 1l2.5 1.6l2.9 1.6M877.2 249.1l3.8 -1.4l3.8 -1M874 251.7l1.9 -2l2.2 -2.4l2.6 -2l2.2 -2.3M882.9 243l3.7 -1l2.9 -0.3l2.6 -0.4l3.4 0.1M879.1 255.7l3.4 1.4l2.6 -0.3l2.7 -0.5l2.9 0.3M890.7 256.6l3.5 0.1l3.7 1.2M891.4 257.3l2.4 1l3.8 0.6l3.1 1.1l2.5 0M903.2 260l3.6 -0.6l3 -0.3M894.2 255.8l2.9 0.3l2.3 -0.6l2.5 -0.4l2.7 0.1M904.6 255.2l2.8 0.5l3.4 0.1M896.4 254.4l1.7 -1.5l1.9 -1.3l2.1 -1.3l2.2 -1.4M904.3 248.9l2.9 -1.4l2.4 -0.5M879.1 255.7l2.5 -0.1l3.7 0.6l3.2 1.3l2.9 -0.2M891.4 257.3l2.8 -1.5l2.2 -1.4l2.5 -0.9l2.2 -1M870.3 253.4l2.2 -2.3l1.8 -1.9l2.3 -2.4l2.4 -2.6M860.8 294.5l2.3 0.6l2.5 1.1M860.6 293l2.5 2.6l1.6 1.5l2.4 2.5l3.4 1.4M872.8 299.8l2.8 -0.1l3.8 -1l3.2 -0.7M863.1 297.2l3.4 1.4l3.6 0.6l2.7 0.6l3.7 0.6M876.5 300.4l2.1 1.1l2.8 2l2.5 2.7M856.3 296.4l3.3 0.9l3.5 -0.1l3.4 -0.2l2.2 1.1M868.7 298.1l2.7 1.9l2.3 1.4l1.9 1.3M897.2 217.3l2 2.1l2.7 1.1l3.5 1.4l3.2 1.6M908.6 223.5l3.1 1.8l2.1 0.6M885.3 210l3 1.9l2.6 2.4l3 1.3l3.3 1.7M897.2 217.3l2.6 0.6l2.2 0.5l2.9 -0.5l2.2 -2.3M907.1 215.6l2.3 -2.4l1.5 -1.6l2.6 -0.6l2.7 -0.2M842.8 218.5l2.6 -1.5l2.5 -2.2l2.8 -2l3.5 -1.8M854.2 211l2.9 -1.5l3.3 -0.8l2.6 0l3.3 0.4M866.3 209.1l2.2 0.4l2.3 0.2l2.7 0.3l2.3 0.2M875.8 210.2l4 -0.6l3.2 -0.1l2.3 0.5l3.4 0.4M877.7 272.7l2.2 0.8l3.3 1M875 234.5l2.5 -1.9l3.1 -2.1l2.9 -1.4l2.7 -1.4M886.2 227.7l2.8 -1.8l2.2 -1.2M867 240.1l2.7 -2.5l2.4 -2.3l2.9 -0.8l2.1 -0.6M877.1 233.9l2.6 -0.9l1.9 -1.2l3.4 -2.1l2.9 -1.7M887.9 228l3.1 -0.9l3 -0.9l3.4 0.1l3.2 0.7M869.7 239.1l2.1 -1.6l1.9 -1.7l2.8 -0.4l2.5 -0.4M867.2 285.9l3.4 0.9M881.9 287.5l3.2 1.4l2.4 0.7l2.8 0.6l3.7 1.4M894 291.6l3 1.8l2.2 0.6l3 0.8M876.1 284.1l3.2 1.3l2.6 2.1M834.7 324.8l2.7 2.1l1.9 1.8l1.6 1.7M881.8 262.5l3.9 0.1l3.3 -0.6l2.3 -0.6l2.9 -1.3M879.7 274.6l2.8 0.3l2.3 -0.2l2.5 -0.5l3.9 0.3M891.2 274.5l3.8 0.5l2.9 1.4l2.7 1.9l2.3 0.9M902.9 279.2l2.4 0.9l2.2 1.5l2.3 1.4l2.4 2.5M902.6 267.3l2.4 0l3 0.6l2.6 0.1l2.2 -0.3M912.8 267.7l4 -0.2M909.8 267.9l1.9 2l2.8 2.1M882.1 273.9l2.6 -2.8l3 -0.7l3 -0.5l3.1 0M893.8 269.9l3.1 -0.7l2.8 -1.4l2.9 -0.5l3.5 0.3M906.1 267.6l3.7 0.3l2.4 0.1l3.8 -1M870.3 276l2.5 -0.1l2.2 -0.5l2.2 -0.1l2.5 -0.7M879.7 274.6l2.4 -0.7l3.8 -0.4l3 -0.8l2.6 -1M874.9 241.2l2 2l2.4 2.4l2 1.1l3.2 1.5M869.3 239.2l2.5 0.4l3.1 1.6l2.7 1.3l3.1 2.4M880.7 244.9l2.5 2.2l3.1 1.8l2.8 2.5l3.1 1.7M892.2 253.1l2.9 1.7M867.5 240.8l1.8 -1.6l3.5 -1.3M851.2 224.5l3.3 1l3.5 1.2l2.6 0.2l2.9 -0.6M863.5 226.3l2.3 -0.8M849 313.8l2.5 0.2l3 0.9l3.1 1.6l2.7 1M860.3 317.5l2.1 1.3M866 236.6l3.6 -1.3l2.3 -1.8l2.5 -1.8l3.2 -1.8M854.6 233.2l3.7 0.4l2.7 0.8l2 0.9l3 1.3M866 236.6l2.8 1.9l2.1 1.7l2.2 1.6l2.5 1.4M875.6 243.2l2.5 0.9M854.6 233.2l3.3 -1.8l2.3 -1l3.1 -0.4l3.8 0.6M867.1 230.6l2.2 -0.7l2.5 -0.6l3.5 -0.9M855.1 328.7l3 1.5M845.5 321l2.5 1.5l2.8 1.7l2.6 2.8l1.7 1.7M855.1 328.7l1.8 2M851.8 208.3l2.1 -2.2M837.7 208.9l3.6 0.4l3.2 0l3.8 -0.3l3.5 -0.7M851.8 208.3l2.6 -1.6M835.8 217.7l3 -1.2l2.9 -2.3l2.4 -2.4l2.6 -2.3M846.7 209.5l1.9 -2M850.3 221.4l2.4 2.6l2.5 2.6l2.8 1.7l2.7 2.8M860.7 231.1l2.6 2.8l3.2 2.1M856.6 224.4l2.4 2.5l2.6 1.6l2.8 1.5l2.2 2.1M866.6 232.1l2.2 2.3l3.5 2M844.5 216.8l3 2.5l2.8 2.1l3.6 1.7l2.7 1.3M856.6 224.4l1.9 1.1l1.8 1.5l2.9 2.1l2.6 1.7M865.8 230.8l2.7 1.8l2.4 1.6l2.9 1.5l3.4 2M860.3 221.5l3.8 -0.5l3.7 -1.2l3.8 -0.4l3.4 0.5M875 219.9l2.3 1.2l2.8 2.6M849.2 215.6l3.9 0.9l2.8 1.3l2.7 2l1.7 1.7M860.3 221.5l2.4 1l2.7 2l2.3 0.5l2.7 -0.3M870.4 224.7l2.4 -0.3l3.4 1.2l3.9 0.2l2.9 1M871 218.9l2.1 2.1l1.9 1.7l2.9 2.2l2 1.1M879.9 226l3.2 1.3l2.9 1M890.3 219.4l2.4 -2.6l1.9 -1.6l2.6 -1.6l2.7 -2.6M899.9 211l3.2 -1.3l2.9 -0.5M858.3 212.6l2 1.6l1.8 1.9l3.8 0.6l2.7 1.9M868.6 218.6l2.4 0.3l2.3 0.1l2.7 0l4 -0.3M880 218.7l3.1 0.6l3.6 0.7l3.6 -0.6l2.2 0.1M875.9 217l3 0.1l2.3 0.7l2.3 1.1l3.6 -0.1M887.1 218.8l3.8 -0.8l2.6 -0.7M892.2 229.7l1.9 2l2.2 1.7l3.8 0.9l3.6 0.7M903.7 235l2.9 0.2l3 0.1M864.5 214l3.2 0.7l3.1 0.7l2.3 0.2l2.8 1.4M875.9 217l1.8 1.9l2.3 1.8l2.4 2l3.4 1.5M885.8 224.2l2.7 1.7l1.6 1.6l2.1 2.2l2.1 2.2M870.4 213.8l2 -1.3l3.1 -2.1l2 -1.9l2.3 -0.9M887.9 213.3l3.7 -0.2l2 1.4l1.9 1.1l1.9 1.4M897.4 217l2.7 2.7l2.5 2.6M904.9 223.9l3 0.7l2.9 0.3l2.7 0.7l3.6 1.2M885.5 210.8l2.4 2.5l1.7 1.7l3.1 1.1l3.5 1.7M896.2 217.8l3.4 1.8l2.5 1.8l2.8 2.5l3.8 1.3M908.7 225.2l2.4 0.2l2.3 0l2.7 1.2M838.3 217.7l3.2 -0.6l3 -0.3l2.4 -0.5l2.3 -0.7M849.2 215.6l3.7 -0.7l2.7 -1.5l2.7 -0.8l2.4 0.2M860.7 212.8l3.8 1.2l2.5 0.9l3.4 -1.1l2.7 -1.1M873.1 212.7l2.6 -1l3.2 0l3.4 -0.4l3.2 -0.5M885.5 210.8l3.2 -2.3l3.3 -1.2M868.5 287.9l2.4 1l3.2 0.6l2.2 1l3.2 1.3M879.5 291.8l3.4 0.8l2.4 0.5l3.2 1.7l2.1 1.5M890.6 296.3l2.9 2.3l2.8 1.2l2.5 1.3l2.5 1.4M885.5 250.6l2.4 -0.3M874.1 294.7l2.6 1.8l3.4 1.5l2.6 0.8M909.3 260.7l2.2 -0.5l3 -1.4M868.7 292.5l2.7 -0.5l3.9 -0.3l3 0.2M884.9 251.6l2.5 1.3l2 1.2M895.6 261.6l2.4 1.8l2.3 1.5M879.8 295l3.7 -0.2l2.9 -1.2l2.1 -1.3M871.2 293.5l1.7 1.8M876.9 238.3l3 0.3M903.8 250.4l3.2 0.4l2 1.2l2.4 1.4M873.4 292.9l2.3 0.5l2.7 0.4M890 256.8l3.9 0l3.3 0l2.3 -1.1M839.2 323.9l3.6 1.2M909.1 254.1l3.5 -0.2l3.9 -0.7M901 265.4l2.7 1.6l2.2 0.9l3.5 0.4M910.5 262.4l1.7 -1.8l2.4 -1.4M906.9 267.4l3 0.3l2.8 1.2M868.7 241.2l3.5 -1.9l2.5 -0.5M906.6 279.3l1.6 1.6l3 1.4l2.9 0.4M902.1 279.1l3.1 -0.6l2.3 -1.7l1.7 -1.8M897.7 236.4l3.1 -0.9l2.8 0.7M876.5 213.6l3.1 -2.4l3.2 -1.9M871.3 236.2l2.6 0.1l2.9 -0.1l2.7 0.7M909.9 258.6l2.6 0.6M868.4 235.2l2.5 -2.6l2.5 -1.8l2.7 -2.8M848.9 326.4l2.7 1.5l2.7 2M866.5 230.9l3.5 -1.1l2.8 -1.1M875.7 273.3l2.4 1l3.2 0.9M899.4 282.4l2.6 0.9l3.3 1.4M875.6 260.3l3.7 0.5M876.4 261.6l3.4 -1.2l3.1 0.2l2.9 0.1M869 291.8l3.5 -0.7l2.2 -0.5l2.3 -0.9M879.8 250.6l2.2 2.2M899.5 267.2l2.4 0.4l2.4 -0.3M890.5 254.5l3.6 -1M868.8 286.4l3 -0.4l3.7 -0.2M898.8 239.7l2.5 -1.9l2.6 -1.9l2.9 -2.7M865.3 243.3l2.1 -1.9l2.6 -1.1M896.3 251l2.6 0.4M876.1 273.1l3.4 0.6l3.5 0.1l3.2 -0.3M902.4 260.6l3.2 -0.5M890.4 252.6l3.2 0.3l2.4 0.6l3 0.6M891.6 262.5l2 -1M868.9 305.6l3.9 1l3 0.7l2.2 0.5M896.9 277l3.4 0l3.3 -0.7M887.9 242.7l2.9 -2.8M871.4 293.9l3.3 -0.7l3.9 0.2l2.6 -0.4M891.3 246.5l3.2 -1.4M902.8 235.2l2.5 1.2M901.9 258.6l3.6 -0.9l3.9 -0.3l3.7 -0.9M887.6 277l2.6 1.8M855.2 223.7l2.6 -2.7l2.7 -2.8M848.9 317.9l3.2 1.6l4 0.1l3.7 0.3M888.1 254.2l2.8 1l3.6 -0.1l3.3 -0.4M874 291.1l2.3 1l3.3 1.1M846 212.9l2.3 -2.4l2.5 -1.7l2 -2M871.8 307.8l1.8 2l2.4 2.1l1.8 1.8M872.1 282.1l2.2 0l3.3 -1.4l1.7 -1.8M850.3 309l2.4 2.5M866.3 225.8l3.1 0.5l2.3 0.1M856.2 223.5l2.9 -2.5l2.7 -2.8l2.3 -1.9M878.7 254.2l2.3 -0.2l3.3 -2.1M866.5 307.9l3.1 2.3l3.1 1l2.7 0.8M875 279.1l3.9 0.4l2.5 -0.1l3.3 -0.5M854.6 307.5l2.5 1.7M871.4 253l3.7 0.2l3.3 0.2M906.9 239.1l3.3 1M879.5 254.9l2 -2.1l1.7 -1.8l2.5 -1.8M882.1 260l2.2 -2.3l2.1 -2.2M866.3 236.9l3.2 -1.8l3.9 -0.8M882.9 235.9l3.9 -0.4l2.8 0l2.4 0.2M900.1 258.3l2.2 2.3l2 2.1M861.1 290.9l2.6 0.1l2.9 0.9l2.9 0.1M878 234.4l2.4 -0.4l2.5 -0.4l3.4 -0.2M871 284.6l2.2 2.2l2.6 2.8M873 257l3.4 -1.8l2 -1.2l2.1 -2.1M873.8 287.8l2.1 2.2l2.7 2.8M905.3 249.9l3.9 0l2.9 -1.2l2.6 0.1M897.6 251l2.9 0.9M898.2 242.5l3 -0.1l2.6 0.1l2.5 -0.1M904.4 273.2l2 2.1M878.3 250.6l2.3 0.3M885.2 240.7l2.2 0.7M886.3 258.1l3 -0.3M890.4 271.5l3.7 0.3l3.4 1.5M856.5 227.2l3.1 -2l3.1 -1.2l2.2 -1.2M876.7 306.3l2.5 0.8l3.6 1.2l3.4 0.3M886.8 267.6l2.6 0.9M900.2 287.4l2.7 -2.4l1.8 -1.5l2.1 -2.2M877.4 218.8l1.7 -1.7M883.1 262.8l3.8 -0.2M854.7 221l3.2 0.5l2.8 0.7l3.1 0.5M857.7 312.2l3.3 1.7M883.2 289l2.2 -0.1l3.2 -1.2M872.9 244.4l2.2 1.3M887.5 273.3l3.7 -0.1l2.7 -1.2M879.3 248.6l2.3 -0.3l3.3 -0.8M904 291.2l2 1.6l2.8 2.5l3.2 2.2M885.2 258.6l3.3 0.1l3.3 0.5M883.8 244.4l1.8 -1.8l1.7 -1.6l2.8 -1.2M869.9 279.7l3.3 1.2l3.7 0M865.5 288.7l3.9 -0.4M903.9 273.5l3.7 -1l2.4 -0.6M881.8 242.5l2.6 -0.6M861 232.1l3.5 -1.3l2.8 -0.9l2.5 -2.5M870.8 299.4l3.4 0.5" fill="none" stroke="#e8e832" stroke-width="0.7" opacity="0.1"/>
<path d="M863.6 252.1l3.4 1.4l2.4 1l3.2 0.7l3.1 0.8M854.4 243.8l3 2.6l2.3 2.5l2.3 1.5l1.6 1.7M863.6 252.1l2.1 1.8l3.9 0.4l3.5 0.9l2.1 0.9M856.5 246l3.1 1.6l3.4 0.3l3.3 1.9l2.4 2.5M868.7 252.3l2.1 2.2l2.4 2.5l2.9 2.1l1.8 1.9M868.2 257.9l1.8 1.9l3.5 2l2.9 2l2.2 0.9M845.9 237.3l2.4 1.2l2.2 1.3l2 2l1.9 2M854.4 243.8l2.1 2.2l2.5 2.6l1.7 1.8l2.3 2.5M863 252.9l2.5 2.2l2.7 2.8l2.7 1.8l2.5 0.6M851.9 275.6l2.3 0.1l2.7 0.9l2.7 0.9l3.2 1.1M866.4 256.9l3 -1.9l2.8 -2.6l3.1 -2.3l1.9 -1M864 259.4l2.4 -2.5l2.6 -1.5l2.2 -2.1l2.8 -1.6M867.7 256.1l3.2 -0.3l2.3 0l2.6 -0.2l3.3 0.1M852.1 268l2.7 -2.6l1.9 -1l3.1 -2.5l2 -1.5M861.8 260.4l2.2 -1l2.1 -1.6l1.6 -1.7l2.6 -2.7M847.4 290.7l3.2 1.2l3.1 0.3l3.4 0.9l3.7 1.4M848 291.5l3 0.4l4 0l3.4 0.5l2.2 0.6M844.6 292.4l3.9 0.1l2.5 0.9l2.7 1.9l2.6 1.1M836.3 311.9l1.9 2M823.6 326.9l2.1 0.7l2.3 1l3 2.3M842.7 284.3l3.4 1.9l2.5 0.7l2.3 0.3l2.2 0.2M853.1 287.4l3.3 -2l2.9 -1.1M846.7 283.6l3.6 -0.4l2.6 0l3.7 0.2l2.6 -1.6M833.1 225.4l1.8 -1.3l2.1 -2.1l3.4 -1.5l2.4 -2M869.1 264.7l2 2.1l2 2.1l2.7 1.8l1.9 2M850.2 249.4l3.3 1.5l2.1 0.7l1.8 1.6l2.8 2.7M860.2 255.9l2.9 2.5l2 2.1l2.1 2.1l1.9 2.1M869.1 264.7l2.8 2.7l3.7 0.9l3 1.7l1.8 1.4M850.2 249.4l2.9 0l3.1 -1.3l2.1 -1.2l2.1 -1.6M860.4 245.3l2.6 -2.2l2.1 -1.6l1.9 -1.4l2.7 -1M854.4 285.9l3.2 -1.3l2.7 0.2l3.6 -0.1l3.3 1.2M851.1 285.9l3.3 0l2.4 -0.3M862.3 283.1l3.9 1l2.6 1.6l1.9 1.6M844.2 281.7l2.4 0.7l3.8 1.1l3.8 -0.1l2.6 -0.7M856.8 282.7l2.7 0.7l2.8 -0.3l3.1 0.8M872.9 272.9l2.2 -1.6l2.4 -2.1l1.8 -1.8M857.6 282l2.4 -2.5l1.7 -1.7l2.3 -1.6l2.8 -1.2M866.8 275l3.4 -1.4l2.7 -0.7l3.3 -1M850.5 282.6l3.9 0.2l3.2 -0.8l3.3 -1.4l3.3 -0.1M864.2 280.5l3.6 0.8l3.5 0.8l2.3 0.6l2.5 1.4M854.1 271.7l3.6 0.5l2 1.1M851.6 275.6l2 1.1l1.6 1.7l3 1.4l3.3 1.9M861.5 281.7l2.3 1.1l2.7 1.4l2.4 1.4l2.6 0.8M861.2 273.9l2.3 -1.6l3.3 -1.5l3.1 -1l1.8 -1.5M871.7 268.3l1.9 -1.5l1.9 -2l2.8 -2.4l3.5 0.1M847.1 269.9l2.9 0.2l3.6 0.3l3.4 0.7l1.6 1.7M858.6 272.8l2.6 1.1l2.9 1.6l3.3 0.2l2.9 0.3M832.2 221l2.7 0.5l2.7 -0.2l2.9 -0.1l3.3 0.6M843.8 221.8l3.7 1l3.5 1.1l2.2 0.7M847.9 255.7l3.1 -1.8l2.6 -0.8l2.1 -1.4l2.7 -2.6M858.4 249.1l2.6 -2.7l2.8 -1.7l2.1 -2.3l1.6 -1.6M853.3 255.7l2.4 -1.6l2.1 -0.9l2.4 -0.9M835.2 223.6l3.1 0l2.9 0.4M833.1 224.4l2.1 -0.8l2.3 -0.6l2.9 0.1l3 0.4M843.4 223.5l2.3 -0.2M830 211.8l2.3 0.1l3.6 0.4l3.1 1.4l1.8 1.3M840.8 215l2.8 2.5l2.6 2.7l2.9 2.8l2.1 1.5M846.5 243.1l3.5 1.1M835.5 312.1l3.3 1.1l3.8 0.7l3.1 0.2l3.3 -0.3M843.9 239.5l3.2 -1.2l2.8 -1.2l2.2 -1.4l2.5 -2.5M836.8 312.2l2 2.1l2.5 2.5l1.7 1.8l2.5 2.4M831.5 209.2l2.4 2.2l2.4 2.6l3.1 2.6l2.7 1.3M825.8 210.2l2.8 -0.7l2.9 -0.3l2.5 0.1l3.7 -0.4M828 218l2.5 -0.8l3.1 0l2.2 0.5l2.5 0M843.1 249.6l2.4 -0.1l2.5 -0.1l3.3 -0.9l2.8 -2M852.7 255.2l2.6 -0.1l3.3 -0.1l2.5 -0.2l2.4 -0.5M863.5 254.3l3.9 -0.4l3.7 -0.1l3.6 1.4l2.4 0.8M849.4 252l2.4 1.1l2.5 0.7l2 0.9l2.6 0.8M858.9 255.5l3.4 0.9l2.3 0.5l2.9 1.7l2.7 2M870.2 260.6l3 1.2l2.6 0.1l3.8 0.6l3.6 1M844.1 247.4l1.9 -1.5l2.9 -1.7M851.3 244.1l2.7 -0.6l2.5 -0.7M846.5 247.3l2.5 -1.4l2.3 -1.8M846 287.5l2.6 -0.5l3.8 -0.6l2.2 0.2l2.9 -0.2M857.5 286.4l2.9 -0.2l2.4 0.6l3 0.1l2.7 1M850.4 256.4l3.2 -1.8l3.5 -0.9l3.1 0.3l2.9 0M843.5 290.2l2.3 -1.5l1.9 -1.2l3.6 -1.1l2.4 -1.1M853.7 285.3l3.1 -2.1M843.5 290.2l3.2 -0.5l2.9 -0.8M843.4 237.2l2.2 -1.8l2.5 -1M842.8 295.5l3.7 0.3l3.9 0.5M842.1 236.4l2.9 0.1M855.3 286.5l2.7 -0.9l3.2 -1M847.3 245.5l3.2 -1M840.7 237l2.6 -1.3l2.4 -1.1l3.9 -0.4M835 310.3l2.1 0.9M823.6 212.1l2.2 0l3.7 0.9M838.7 319.1l3.3 0.6M854 254.7l2.1 -2.3M833.3 214.9l2.3 0.1l2.5 -0.5l2.7 -1.5M862.3 283.8l3 0.6l3.2 1.2l3.8 0.8M832.1 307.9l2.9 0.7M851.4 284.3l2.4 1l3 -0.5l2.7 1.4M856.9 274.3l3.1 0.6M859.5 287.4l3.7 1.5M848.3 303.1l2.7 -1.8l3.1 -1.5l2.3 -1.1M829.3 316.4l2.6 -0.2l2.5 0.5M867 278.9l3.6 -0.3l2.9 -0.2l3.8 -0.8M861.1 262l2.9 0.3l3 0.7l3.4 1.1M858.5 272.4l3.3 0l2.6 -0.3M859.5 261.9l1.8 1.9l1.7 1.8l1.5 1.6M839.8 305.9l3.7 -1.4M851.3 269.2l3.3 -0.2l2.5 -0.4M857.9 234.4l2.8 -0.4M870.7 263.5l3.4 -0.4M845.4 244.6l3.1 -1l2.5 -1.7M849.1 302l1.9 1.9l1.7 1.7l2.1 1.8M853.8 273.6l2.9 0.3l2.5 0.5M844.2 281.1l3.3 0l3.1 -0.3l3.9 -0.2M841.9 294.2l2.8 1.3l2.7 1.4l2.2 1.4M852 274.2l3.9 -0.4l2.4 0.9l2.1 1.1M858.4 248l1.8 1.8l2.4 2.2l3.5 1.2M826.4 317.8l1.7 -1.9l3.2 -1.8l3.6 -0.8M864.8 244l3.2 -0.4M855.1 291.2l3.9 -0.1l2.9 -0.3M841.3 303.8l3.4 1.1l2.6 1.5l2.6 1.7M855.7 279.2l2.9 1.2M850.6 264.6l2.2 -2.2l1.8 -1.9M847 242.5l1.7 -1.5l1.8 -1.9l3.2 -1.8M830.7 224.5l2.2 -0.5l4 -0.3l2.2 -0.4M867 255.1l2.5 2.7l2.8 2.8l2.7 2.9M853.6 278.9l2.5 0.9l3 0.7l2.7 0.7M860.3 259.7l3.3 1.2l3.2 1l2.7 0.9M854.6 293l3.2 -0.3l2.5 -2.3l1.5 -1.6M852.1 263l2.2 -0.1l3.1 0.2M859.5 272.5l2.8 -0.5M835 316.3l2.6 1l3.9 0.3l2.6 1.4M849.5 288.9l3.7 1.3M856.5 290.1l2.8 0.6M852.9 258.3l3.7 -0.2M855.9 256.3l2.3 -0.4M869.2 264.3l2.9 -2.1l3.6 -1.2l2.7 -1.1M859.2 290.8l3.1 0l2.7 -0.5l3.5 -1.9M853.1 233.7l3 -1l3.4 -0.9M857.6 270.1l2.3 2.3l2.3 1.9l2.6 2.4M841.4 235.9l3 -0.4M851 283.1l2.6 0.9l3.4 1.2M857.9 249.5l3.1 -0.7l3.5 -1.8M842.9 306.2l3.2 -0.7l3.1 -0.8M849.2 269.2l2.6 -2.7l2.1 -0.8l2.6 -0.4M852.8 234l2.7 -0.4l2.3 -0.5M838.4 217.9l2.8 -2.6l2.3 -1.1l2.3 -0.8M834 305.8l3 -0.4l3.6 -1.5M850.3 229.7l2.3 1l3.1 0.2M864.3 270.4l2.1 1.1l2.3 2.4M838.5 308.5l2.1 -0.7M831.6 224.7l2.9 -1.1l3 -1.1l2.1 -1M867.4 269.7l3 -0.1M866.2 281.9l2.3 -1.4M858.5 247.6l3.2 2.3M855.8 274l1.8 1.8l2.5 2.7M838.6 301.7l3.6 -0.9l3.7 -1.2l2.4 -1.2M845.6 281.6l3.2 0.9l2.8 0.6l3.4 0.1M847.3 254.5l3.1 -1.8l3.3 -1.4M865 259.3l2.2 -0.8l1.8 -2l1.7 -1.7M829.2 212.8l3.4 0.2M859.4 289.2l2.5 2l2.7 1.4l2.7 2.9M841.1 291.4l1.9 1.3l2.8 1.6l1.8 1.5M851.5 288.8l1.6 1.7M847.8 278.4l3.6 1.4l2.5 0.7M868.2 248.1l3.4 -1.4M859.6 274.7l2.3 1.4M845.4 292.4l3.6 0.6M852.2 254.9l3.1 1.1l2.7 0.6M833.7 306.5l2.4 0.9l3.7 0.8l2.1 0.8M863.1 258.7l2.8 0.1l3.2 0.5l3.2 -0.2M853.1 242l2.5 0.4l2.4 2.3l3.6 0.8M854.8 291.6l3.2 0.6l2.2 0.4l4 -0.5M860.8 251.7l2.4 2M849.2 233l3.9 0l2.9 -0.8l2.7 -1.1M871.4 260.2l1.8 1.9M829.6 312.6l3 2.3l1.7 1.7l2 2.1M868.6 261.4l2.4 -0.2M849.9 234l2.6 -1.3l2.1 -1.1M851.7 301.6l2.9 1.1M854.4 260l2.2 1.6l1.9 1.9l1.6 1.6M858.2 258.2l2.7 -2.4l1.7 -1.8l2.2 -2.2M838.5 300l2.4 1.2M816.6 326.9l3.6 1.1l3.4 -0.3l3 -0.7M822.3 314.4l3.3 2.2l2.5 2.6l2.1 2.2M833.6 316.4l3.7 0.7l3.5 -0.1M861.5 247.1l2.3 -1.4l2.5 -1.9M844 223.4l2.8 -2.2l1.8 -1.5M860.3 246.9l3.7 1l3.2 0.2M869.3 271.5l3.5 0.2M849 249.8l2.3 0.5l3 1M858.9 282.1l1.6 1.7l2.5 2.6l2.4 1.9M844.8 307l3.2 1.3M851.1 275l3.3 -1l2.9 -1.6l2.2 0.1M862.6 250.9l2.9 2.7M845.7 229.9l1.8 -1.9l2.2 -1.3M840.2 229l3.8 -0.8l2.8 -0.7M852.6 273.7l2.3 -0.2l3.4 0.2M865.8 256.8l3 1.3l3 0.5l2.6 0.8M853.5 256.6l3.3 -1.8l2 -1.2l1.8 -1.9M852.6 264l2.7 -1l3 -1.7M860.4 274.5l2 -2.1M846.1 247.6l2.1 -2.3M834.7 312.2l2.9 0.7l2.9 1.4M850.5 228.6l3.3 -1l3.7 -1.2M845.5 249.9l3.4 -0.4l2.3 -0.2l3.3 0.6M866.5 266.3l2.2 -0.5l2.9 -1.2M845.4 248.7l2.6 -1.6l2.8 -0.9l2.4 -1.2M853.5 260.2l2.8 0.5l3.1 0.7M864 276l3.5 1.1M850.9 256.9l3.9 0.6l3.5 -1.5M867.9 259.7l3.5 -1.6l2.6 -0.4M849.1 234.2l3.4 0.7M854.9 234.2l2.7 0.3" fill="none" stroke="#e8e832" stroke-width="0.7" opacity="0.2"/>
<path d="M831.4 280l2.2 0.8l3.2 0l3.1 0.2l3.8 0.4M843.7 281.4l3.1 0.2l2.7 -0.3M821.2 234.8l2.9 -0.3l3 0.3l2.4 0.2l2.6 0.6M832.1 235.6l3 0.4l3.2 0.4l3.6 0.8l4 0.1M840.3 276.8l3.8 0.7l2.5 -0.3l3.1 -1.2l2.2 -0.4M840.7 273.9l3.4 -1.5l2.8 -1l3.5 -1.7l1.7 -1.7M835.2 287.1l3.2 0.8l2.5 0.5l3.1 1.4l3.4 0.9M826.9 297.6l2.6 -1.3l2.1 -0.8l1.9 -1.4l3 -1.7M836.5 292.4l2.2 -0.4l2.4 -0.1l3.6 -0.2l3.3 -0.2M833.8 291.9l2.7 0.8l2.4 0.3l2.6 -0.4l3.1 -0.2M825.5 295.6l3.4 -0.9l3 -0.4l2.3 -1.2l2 -1.1M825.5 305.2l3.6 0.7l3.1 2.1l2.4 2.2l1.7 1.7M836.9 281l3.8 0.2l3.1 0.1l2.7 -0.1M832.2 301.1l3.2 0.6l2.3 -0.6M831.9 286.7l2.9 1.4l2.1 1.3l2 1.5M838.5 287.8l3 0.3l2.8 -0.4M835.1 284.6l2.5 0.3l2.5 -0.1l2.6 -0.5l4 -0.7M834.8 289l3.2 -1.1l2.5 -1.2l2.6 -1.4l2.8 -0.2M820.5 227.6l3.8 -0.6l2 -0.9l3 0.3l3.8 -1M829 246.4l2.6 0.6l2.5 0.9l2.5 0.9l2.6 1M839.2 249.8l2.5 0.7l2.9 -0.2l3.1 -1l2.5 0.1M842.4 286.5l3 0.6l3 0.5M831.3 286.8l2.5 0.3l3.7 0.6l2.2 -0.4l2.7 -0.8M824.3 310.7l3.1 1.6l2.7 2.4l3.2 1.6M836.5 290l2.6 2M839.2 280.3l2.7 0.5l3.2 0.6M834.3 283.6l1.9 -1.8l3 -1.5l2.1 -0.9l3.5 -1.5M844.8 277.9l3.1 -0.7M837.4 283.9l3.9 0.3l3.9 0.2l2.8 0.5l3.1 1M836.1 263.8l2.7 -0.1l3.3 -0.4l3.5 0.2M834.7 266.9l3.2 0.8l3 1.7M832.7 287.3l2.2 -1.5M835.9 248.6l2 0.9l2.1 0.7l3.1 0.9l3.8 1M846.9 252.1l3.6 0.5M839.2 283.2l2.7 -1l2.3 -0.5l3.3 0.8l3 0.1M831.1 238.5l3.4 -0.9l3.9 0.4l3.7 0.5M842.3 272l3 -0.6l3 -0.2l2.8 -0.2l3 0.7M839.8 270.8l2.5 1.2l2.3 0.9l3.7 1.4l3.3 1.3M833.7 270.5l3.3 0.3l2.8 0l3.9 -0.2l3.4 -0.7M836.7 264.4l3 -2.1l2.4 -1.8l2.5 -2.7l3.3 -2.1M842.6 261.8l3 0.9l2.2 0.5l2.7 1.7M837.1 257.9l2.7 2.1l2.8 1.8l2.7 1l2.7 1.4M848 264.2l2.3 2.1l1.7 1.7l2.2 1.1M841 257.6l2.9 0l3.1 -0.3l2.7 -0.4l3.6 -1.2M831.4 242.4l2.7 0.3l3.3 0.8M836 265.2l2.9 0l2.4 -0.3M842.7 274.6l3.7 -0.9l2.4 -0.2M835.1 240.5l2.8 0.7l2.9 1.4l2.5 0.3l3.2 0.2M825.5 303.2l2.3 2.5l1.8 1.8l3 2.7l2.9 1.9M832.4 242l2.4 -0.7l3.1 -0.5l2.8 -0.7l3.2 -0.6M833.6 280.9l2.5 0.7l3.1 0.8l2.4 0.9l2.2 0.7M841 269.3l3 -1.3M831.2 248.8l3.8 0.4l2.3 0.3l2.9 0.1l2.9 0M840.3 249.4l2.3 2.4l3.1 2l3.7 0.7l3.3 0.7M827.1 243.7l3 -0.2l3.5 0.6l1.8 1.4l2 2M837.4 247.5l2.9 1.9l3.3 1.3l2.7 0.3l3.1 1M840.3 247.1l3.8 0.3l2.4 -0.1l2.2 0.6l3.2 0.6M833.7 288.9l3.2 -0.2l3.4 -0.6l3.4 -0.1l2.3 -0.5M837.5 257.7l2.8 -0.1l3.9 0.3l3.5 -0.6l2.7 -0.9M830.8 290.8l3.5 -0.4l2.5 -0.9l2.9 0l3.8 0.7M826.9 307.6l2.1 -1.1l1.6 -1.6M818.5 212.8l2.9 1.6M826.1 306.2l2.5 0.3l2.4 0.1M837.4 248.3l2.6 -0.3l2.3 -1.1M822.2 310.3l2.9 0.2M843.9 271.8l2.6 1.7M839.7 245.7l2.4 -0.3M824.2 230.2l3.3 -0.4l2.4 -0.7l2.6 -1.2M836.4 272.2l3.1 1.4l2.7 0.6l3.4 1.7M846.2 263.8l2.9 -0.2l2.4 0.6l3.4 0.9M831.8 302.4l2.2 1.7l1.9 1.9l3 0.9M838 255.8l3.9 -0.7M830.6 290.3l2.5 -1l2.3 -1M846.7 251.2l3.1 -1.9M833.7 244.3l2.4 -1.7M841.5 243.2l2.5 1.8l2.1 2.2M826.4 297.9l4 0.3M838.3 271.3l3.9 0l2.6 1.7M829.7 297.9l2.8 0.8M827.5 236.9l2.3 -2.4l2.2 -1.3l2.6 -1.4M821.8 302l2.8 -0.1l3.3 0l3.2 0.2M838 286.2l2.5 1.7l2 1.5l2.8 2.2M839.4 277.4l2.4 2.6M817.7 213.8l3.8 -0.3M828.6 239.6l2.9 -0.8M831.7 247.1l2.4 -1.6l2.3 -0.7l2.1 -1.3M832 283l2.6 2.8l1.7 1.8M845.7 280.6l2.4 -0.4l2.5 -1.2M847.3 261.2l2.3 0.2l2.4 0.1l3.5 -0.5M832 298.2l2 -1l3.5 -1.3M827.7 309l2.8 0.1M837.5 286.7l2.3 -0.4l3.3 1.1M839.6 267.6l2.1 -1.4l3.2 -1.4M837.7 247.7l3.8 1l3.9 -0.1M848.6 277.5l3.3 -2.3M842.3 259.6l2.5 0.5l3 0.2l2.6 1.2M818.2 218.2l2.4 0.7M835.2 269.7l3.9 -0.5l2.4 -0.5M817.4 325.4l3.4 2M835.3 250.5l2.5 -0.5l3.5 -1.2l3.9 -0.1M845.8 261.4l1.6 -1.6M818.8 316.3l3.1 -0.2l3.2 0.6l2.7 0.8M836.4 278.8l2.8 -1.8l3.2 -2.2M839.6 251.6l2.4 -0.2M842.4 267.4l3 1.8l2.6 2.6M844.7 258.9l3.8 1.2l2.6 0.7M835.1 284.2l2.5 2.6l2.8 2.2l3 0.9M845.3 252.4l3.7 0l3 -1M839.6 252.6l2.5 0.4l2.2 1l2.2 -0.3M838 253.4l3.3 1.4l2.1 1.5M831.4 291.6l2.5 0.1l2.6 0.1l4 0.1M841.3 259.7l2.7 0.2M838.2 246.4l2.4 -0.3M837.2 286.2l2.6 -0.6l2.6 -1.6M845 285.2l2.7 -0.5l2.5 -1.6M844.1 269.8l3.1 0.2l3.8 0l2.4 0M844.8 270.1l2.8 0.4M840 259.2l2.1 -0.4l3.9 0.2M824.9 307.3l2.2 2.1l2.6 1.4l2.2 1.1M837.3 257.4l2.7 2.1l2.4 2.4l3 1.2M840.6 241.2l2 -2.2M828.4 231.7l2.3 0.4M837.2 294.4l1.7 1.8l2.3 2.1l2.7 2.9M827.1 307.5l3.3 1.4l2.5 2.2l3.5 0.5M839.9 249.9l3.4 -0.9l2.4 0l3.3 0M823.5 309.3l2.9 -0.1M845.9 254.3l2.7 1.2l2.3 2.4M829.6 295.4l2.9 0.2l3.8 0.3M843.8 270.9l3.5 1.1l3.7 0.6M831.5 232.6l2.3 0.6l2.8 0.1l2.3 -0.1M837.3 289l3.9 0.2l3.7 0.7M827.8 293.5l2.6 -0.5l3.3 0.4l2.1 0.5M827.9 303.2l3.1 1.2l2.7 0.2M832.4 282.8l3.2 -2.2l3.1 -0.7M830.9 242.1l3 -1.6l2.5 -1.9l1.6 -1.7M844.6 264.5l2.9 -0.2l3.3 -0.5l4 0.5M838.7 242.8l2.3 0.9l3.2 1.7M834.5 296.3l3.6 1.5M839.2 273.1l3.8 -0.4l2.7 0.3M841.4 252.9l2.8 1.3M819.2 214l2.8 -2.5l2.4 -2M816.6 312.1l3.2 1l2.4 1.3l3 0.9M815.8 317l3.4 1.2l1.6 1.7M835.3 262l2.7 -2l2.5 -1.1l2.9 -1.1M833.4 259.1l3.5 -0.1l2.3 -0.4l2.7 -0.1M837.8 267l3.6 0.8M840.9 271.9l2.6 -0.8l2.9 -2.6l3.1 -2.4M834 273.9l3.9 -0.6l2.7 0M846.5 274.6l1.9 2l1.6 1.6l2.4 2.5M840.2 278.6l3.8 -0.8l2.3 -0.9M824.5 227.9l3.2 1M827.7 307.8l3.7 -0.8M842.9 275l2.3 1.9M837.6 273.4l3.2 -0.3l2.9 -0.4M848.3 274.3l2.9 0.6M847.4 268.4l3.4 -0.1M822 228.6l3.7 0M816.5 315.2l1.5 1.6M835 285.5l3.9 -0.9l2.2 -0.9M825.2 223.3l3 -0.4l2.9 -1.1M847.1 276.6l2.9 0.3l2.4 -0.2M843 272.3l2.4 0.9l3.3 2M824.8 300.5l3.3 0.4l3.1 0.3M835.5 244.7l1.8 -1.9l2.6 -1.8l1.8 -1.6M835.9 256.8l2.9 -0.3l2.5 0.1M822.3 228.4l3.1 -2.4l2.4 -0.2l2.3 -0.6M842.8 269.5l3.8 0.9l3.6 0.4M835.5 258.5l2.9 -1.8l2.2 -2.1M824.8 298.4l2.6 0.4l2.5 0.3l3.7 0.5M827.9 310l3.4 -0.1l2.2 -1.4M839.5 252l2.1 -1.7M826 302.1l3.5 0.9M840.8 291l2.3 0.3l2.9 1M824.2 304.7l2.7 0.2l3.3 0.5M821.4 230.5l2.3 0.2l3.2 0.5l2.9 1.2M832.7 305.4l2.4 2.6" fill="none" stroke="#e8e832" stroke-width="0.7" opacity="0.3"/>
<path d="M830.3 278.4l2.3 -0.1l2.4 -0.6l2.4 -0.6l2.9 -0.3M830.3 278.4l3 -1.7l2.3 -1.3l2.9 -1.2l2.2 -0.3M823.8 286.4l3.2 -0.8l2.4 0.6l2.4 0.5l3.4 0.4M825.7 283.4l3.6 0l2.8 -0.4l2.1 -1.5l2.7 -0.5M818.3 298l3.6 1.1l2.9 1.4l3.9 0.7l3.5 -0.1M828.6 271.6l2 1.3l2.4 1.4l3.1 1.1l3.3 1.2M827.5 274.7l3.1 1.8l2.5 1.7l2.4 2.2M824.9 285.4l3.5 0.2l3.5 1.1l3.3 0.7l3.3 0.4M828.4 268.7l2.5 -0.2l2.5 -0.1l2.2 -1.8M827 280.9l2.5 1.1l2.5 -0.1M833.9 280.7l2 -2.1l2.6 -2.7M831.6 282.7l2.3 -2l2.9 -1.4M824.1 279.8l2.9 1.1l2.3 1.1l2.3 0.7l2.9 2.1M822 281.8l3.1 0.7l3.8 0.6l3.2 0.5l3 1M824.5 292.6l3.9 -1l3.2 -0.5l2.5 -1.7l2.2 -0.8M822.3 291.9l2.2 0.7l3.2 -0.6l3.4 -1.5l3.7 -1.5M817 243.6l3.7 1l2.5 0.3l2.7 0.4l3.1 1.1M826.8 267.6l2.7 -0.8l3.6 -0.3M827.7 281.1l2 2.1l2.5 2.3l1.9 1.9l2.4 2.6M824.8 279.8l2.9 1.3l2.8 1.4l3.8 1.1l3.1 0.3M830 265.8l2 -1.5l2.6 -0.9l3.5 -0.2l2.7 0.8M826.9 270.8l2.5 -1.2M816.8 229.7l2.5 -0.2l3.5 0.1l3.4 0l3.1 -0.6M832.4 267.4l2.3 -0.5M820.4 292.9l3.8 -0.4l3.3 -1.7l2.1 -1l3.1 -2.5M822.8 245.2l3 1.9l2.5 1.3l3.7 -0.3l3.9 0.5M819.5 294.9l3.3 -1.4l2.7 0.1l3.7 -0.3M830 255l2.1 -2.1l2.3 -2.4l1.9 -1.8M823.3 243.3l3 0.1l2.3 0.4l3.9 0.2l2.5 -0.4M821.8 269.5l3.5 0l4 -0.2l2.2 0.7l2.2 0.5M825.9 269.6l2.8 -0.9l3.2 -1.5l2 -1.5l2.8 -1.3M829.1 256.1l3 0.5l2.3 1.1l2.7 0.2l3.9 -0.3M825.7 241l3.4 -2.1M818.4 242.5l3.6 -1l2.4 0.1l3.3 0.3l3.7 0.5M832.6 266.1l2.4 -0.5l2.1 -1.3l3.8 -0.5M822.8 264l2.3 0.3l3.7 1.5l3.8 0.3l3.4 -0.9M828 274.7l2.6 -1.7l2.4 -1.6M828.5 274l3.9 -0.1l2.8 0.5l3.9 0.3l3.6 -0.1M818.9 242.9l3.8 -0.6l3.8 -0.2l3.3 0.1l2.6 -0.2M818.6 294.4l2.2 -0.8l2.4 0.4l3.1 0.7M818.1 284.4l2.9 2.4l2.2 2.3l3.2 1.4l2.6 1.4M822 278.3l2.1 0.5l3.2 0.7l3.1 0.6l3.2 0.8M829 272.7l2.3 -2.5l2 -2.1M832.7 271.7l2.9 -1.6l2 -1.5M826.7 274l2.3 -1.3l3.7 -1l2.6 -1.2l2.2 -0.6M830.1 273.8l3.1 -1.1l2.3 -0.9l3.4 -1.3l2.1 -1.2M818.9 245.6l2.3 1l3.1 0.6l3.4 1l3.5 0.6M822.3 294.2l3.3 -0.5l2.9 -1.4l2.3 -0.3l2.5 0.7M828.1 263.2l3.7 1.1l3.6 -1.7l2.2 -0.2M826.1 257.2l2.7 0.2l3.9 0.6l2.5 -0.2l2.3 -0.1M817.7 292.7l3.3 0.1l3.5 -1.3l2.7 -0.9l3.6 0.2M826.6 262.5l2.4 0.7l3.1 1.4l2.2 1.8M822.1 240.7l2.2 0.3l3.2 -0.5l3.3 -1.3M822.9 257.5l2.8 0.1l3.8 0.5l2.1 1M819.3 296.3l1.7 1.8M828.4 246l3 0.5l2.2 1.8l2.3 2.4M828.2 276.2l2.3 -0.7l3.7 -0.8M827.6 270.6l3 0.9l2.5 0.9l2.6 0.6M825.1 243.4l3.3 -0.6M824.6 267.3l2.6 -1l3.7 0l3.3 0.5M826.5 287.3l1.9 -2M823.5 237.9l2.6 2.7l2.2 2.4M824.1 270.5l3.9 0.5l2.8 1.6M818.6 294.2l2.5 1l3.3 0.7M823.6 246.2l2.8 1.5M829.5 283l2.8 1.4l2.7 0.8M827.3 248.8l3.4 -0.5M832.4 260.6l1.8 -1.8l3.1 -2.3M829.6 272.1l1.6 -1.7M821.1 288.4l2.2 -2.4l1.9 -1.1l3.3 -1.3M825.6 257.5l3.8 -0.1l2.6 -0.3l3.3 -0.8M832.7 251.2l2.3 0.7M820.9 249.2l3 -0.5l3.7 -1l2.4 -0.9M824 247.5l2.7 -2.8l3.3 -2M824.2 288.6l2.6 0.2l2.1 -1.1l3.1 -0.8M833.1 271.1l3.7 -1.4M816.4 305.6l2.4 1.1l2.8 1.7l2.2 0.3M828.7 275.4l3.1 0M821.8 242.7l3.7 0.8M827.8 252.5l2.7 -0.5l3.2 -1.3l2.8 -2M827.3 265.8l3.1 -1l3 -0.4l4 -0.4M822.7 296.1l2.8 0.5l2.1 1.1l2.7 1.1M829.4 264.6l3.3 0.8M824.8 287.5l3.5 0.8l2.1 1.3l2 1.3M831 277.8l1.7 1.8l2.2 0.8l2.4 0.9M829.4 248.2l2.9 -0.9M827.8 272.5l3.6 0.2l3.7 0.7M827.2 249.9l2.3 -2.3M818.9 294.3l1.8 1.2l2.6 1.6M828.7 257l3.1 0.8l3.1 0.5l2.7 0.5M821.6 281.5l3.1 -0.1l3.2 0.8l3.4 1.8M828.4 279.5l1.8 2M825.2 260.8l3 -1.1M830.6 263.5l3.8 -0.9l3.3 -0.8l2.7 -0.1M823.5 264.6l3.3 1.5l3.1 2.2l2.8 1.1M822 250.3l2.5 -0.2l3.1 -0.8l2 -1.5M824.2 266.2l3.3 -1.5l3.2 -1.2M832 255l2.8 0.5M823 297.4l2.5 2.7M822.8 244.1l1.9 -1.3M825.1 246.4l2.8 -1M821.3 300l3.2 1.3l3.3 0.4l3.1 0.3M829.4 260.4l2.4 0.2l3.6 0.2l3 0M823.9 257.3l3.5 0.1l3.4 0.5l3.9 0.6M825.3 253.4l1.5 -1.6l3.2 -1.9l2.9 -1M817.2 234.2l2.8 -2.9l3.6 -1.5M834.6 262.4l2.3 1.6l2.5 0.8M834.7 253.6l1.7 1.7M824.5 255.9l3.5 1.2l2.6 0.4l3.2 2.2M825.2 293.7l3.6 -1.6l2 -1.4M819.8 290.1l3.8 1.2l3.8 0.7M823.3 292.2l2.7 2.9l2.7 1.9M825.7 255.1l2.9 0.4M832.3 271.4l2.6 -0.8l2.1 -0.4M820.1 228.3l3.6 -1.7M816.6 303.7l3.1 -1.8l3.3 -1.9l1.9 -1.2M830.2 269.6l2.2 1.5l3.1 1.8M825.1 247.8l2.5 -1M829 267.8l2.3 -1l2.4 -0.5l3.8 0.1M830 259.6l3.2 0.1M826.5 276.6l3.7 -0.4M823.2 283l3.4 1.7l2 0.9M824.7 263.5l2.6 -0.2l3.7 0.1l3.2 -0.2M826 257.2l1.7 -1.8M825.9 248.5l3.3 0.8M824.5 281.1l3 1l3.1 0.2M823.9 296.9l2.7 0.4l3.4 -0.2" fill="none" stroke="#e8e832" stroke-width="0.7" opacity="0.4"/>
<path d="M816.7 280.2l3.7 1.5l3.4 -0.9l3.1 -0.8l3.4 -1.6M817 271.8l3.1 -1.1l2.5 -0.9l3.1 0.4l2.9 1.4M816.9 269.8l2.1 1l3.3 2l2.6 0.6l2.6 1.3M817.3 275.6l3.3 -0.6l2.7 -1.9l3.5 -0.2l2.4 -0.8M824.7 266.8l2.1 0.8l3.3 0M817.7 269.6l3.9 -0.9l3.1 -1.9l2.6 -1M818 278.1l1.6 -1.7l2 -2l2.7 -2.5l2.6 -1.1M819.6 265.7l2.8 0.6l3 1l3.4 0.3l3.6 -0.2M818 258.2l2.3 -0.4l3.6 -0.3l3.1 -1l3 -1.5M817.6 258.2l2.7 -0.2l3.7 -0.4l2.9 -1l2.2 -0.5M816.3 247.4l2 -1.5l1.8 -1.5l2.5 -1.6l3.1 -1.8M816.9 279.1l3 -1.7l2.8 -1.2l2 -1l3.3 -0.5M818.4 274l3 0l2.7 0.2l2.6 -0.2l3.4 -0.2M816.7 246.6l2.2 -1l2.3 -0.8l2.4 -0.7l3.5 -0.4M821.4 264.3l2.5 -2.4l3.5 -1.4l3.9 -0.1M816.6 263.4l2.3 0.6l2.5 0.3l3.4 0.1l3.3 -1.2M823.3 279.1l2.5 -0.1M816.4 294.8l3.4 -0.9l3.6 -0.5M823.8 259.5l3.8 0.2M817.9 269.9l2.2 -1.3M818.1 255.5l2.7 -1.4l2.5 -2.1l1.9 -1.6M817.7 268.4l3 0.8l2.3 0.2M816.6 259.7l2 -2.1l3.6 -0.6l3.4 0.2M824 264.3l2.3 -1.4M817.1 264.4l2.6 1.9l2.2 2.3M816 256.5l2.8 -0.8l3.1 -1l3 1.1M816.1 247.2l2.9 -1.3M816 295.4l2.3 2.1M818 253.6l3.8 0.6l2.5 0.1M824.6 259.1l2.5 0.3M819.7 255.3l3.2 2.4l2.1 2.2l2.3 2.5M820.8 263l3.4 1.2l3.5 1.9M823.1 256.6l3.4 1.7M821.8 279.1l3.5 0.7l3.9 0.2M818 268.9l2.4 2.5l1.7 1.8l2.3 2.4M816.1 293.8l1.7 1.8M815.9 255.5l2.4 -0.6M818 264.4l2.9 -0.1M815.9 287.1l3.5 -0.4M816.2 244l3 -1.2l3.1 -0.4l2.2 -0.1M815.8 277.4l2.7 -0.8l3.3 1l2.2 1.2M816 274.9l2.1 1.9M816.3 258l3.4 -0.3l2.5 0.5l2.4 -0.6M819.1 260.6l3.3 1.4l3.3 1.2M818 254.6l2.6 2.2l2.9 2.1M819.3 250.8l3.3 1l3.1 0.1M821.8 280.1l3.1 -1.1M820.4 278.1l2.9 -1M817.2 271.3l3.1 2.3M816.4 290.9l2.6 -1.6M816.3 266.3l2.3 -2.4M817.9 290.7l2.4 0.7M819.4 285.7l3.4 -1.2l3.4 -0.5M818.5 248l2.3 -1.6M816.5 265.9l2.3 -1.5M816.2 275.3l3.3 -1.4M818.9 270.7l1.8 1.8M820.5 279.1l2.2 0.6l2.6 1.8l1.9 2M825.5 267.8l3.2 0.6M817.6 258l2.8 1.7M820.3 284.8l2.9 0l2.7 -1.6M817 287.7l3.4 -2M816.8 271.3l2.5 -0.6M816.4 290.3l2.5 0.4l3.8 0.7l3.7 0.2M819.3 282.2l2.6 0.9l3.2 0.5l3.9 0.5M818.4 275.2l3.5 -0.7l3 0.5l3.1 0.9M815.8 292.8l2.9 1.5l3.9 -0.6l2.6 -0.4M822.2 263.4l3.8 1M816.3 261.3l1.6 1.6l2.7 2.5l2.7 2.2M816.2 250.9l3.7 -1.3l2.8 0.2M819.3 276.2l2.4 -0.9l3.8 -0.7l3.7 -1.1M816.5 266.8l2.7 -1.1M819.2 249.1l4 0.7M824.3 260.2l3.1 -1.2M821.6 257.8l2.9 -1.3M821.3 256.6l2.6 1.5M819.9 264.3l3.7 1.3M819.5 260.5l2.7 0.5l3 0.9M820 278.8l3.6 0.3M822.2 275.4l1.7 1.8l2.3 0.8M820.6 274.9l2.6 -0.3M816.8 258.5l3.9 -1l3.2 -2.3" fill="none" stroke="#e8e832" stroke-width="0.7" opacity="0.5"/>
<path d="M841 248.6Q869.8 242.5 912.6 240.3" fill="none" stroke="#e4e432" stroke-width="0.9" opacity="0.5"/>
<ellipse cx="916.4" cy="217.2" rx="3.6" ry="1.0" fill="#d4e04a" opacity="0.5" filter="url(#hblur1)"/>
<ellipse cx="916.4" cy="228.6" rx="3.6" ry="1.0" fill="#d4e04a" opacity="0.5" filter="url(#hblur1)"/>
<ellipse cx="916.4" cy="251.4" rx="3.6" ry="1.0" fill="#d4e04a" opacity="0.2" filter="url(#hblur1)"/>
<ellipse cx="916.4" cy="262.8" rx="3.6" ry="1.0" fill="#d4e04a" opacity="0.2" filter="url(#hblur1)"/>
<ellipse cx="916.4" cy="274.3" rx="3.6" ry="1.0" fill="#d4e04a" opacity="0.5" filter="url(#hblur1)"/>
<ellipse cx="916.4" cy="285.7" rx="3.6" ry="1.0" fill="#d4e04a" opacity="0.3" filter="url(#hblur1)"/>
<ellipse cx="916.4" cy="297.1" rx="3.6" ry="1.0" fill="#d4e04a" opacity="0.3" filter="url(#hblur1)"/>
<ellipse cx="916.4" cy="308.5" rx="3.6" ry="1.0" fill="#d4e04a" opacity="0.4" filter="url(#hblur1)"/>
<ellipse cx="916.4" cy="319.9" rx="3.6" ry="1.0" fill="#d4e04a" opacity="0.2" filter="url(#hblur1)"/>
</g>
<rect x="813.4" y="215.8" width="96.2" height="106.5" fill="none" stroke="#0a0a0a" stroke-width="1.1" stroke-dasharray="2 1.6"/>
<ellipse cx="916.6" cy="240.3" rx="3.3" ry="1.25" fill="#ecdc38"/>
<ellipse cx="916.6" cy="240.3" rx="5.4" ry="3.5" fill="none" stroke="#f6f6f6" stroke-width="1" stroke-dasharray="1.1 1.4"/>
<text x="925.8" y="244.1" font-size="11.5" fill="#f6f6f6" text-anchor="middle">2</text>
</g>
<g id="heat3">
<defs><clipPath id="hc3"><rect x="603.2" y="343.4" width="134.6" height="125"/></clipPath></defs>
<rect x="603.2" y="343.4" width="134.6" height="125" fill="#4f7797"/>
<g clip-path="url(#hc3)">
<ellipse cx="710.3" cy="367.1" rx="12.9" ry="11.1" fill="#456c92" opacity="0.55" filter="url(#hblur3)"/>
<ellipse cx="717.7" cy="407.3" rx="13" ry="8.2" fill="#456c92" opacity="0.55" filter="url(#hblur3)"/>
<ellipse cx="702.7" cy="368.6" rx="13.5" ry="9.6" fill="#456c92" opacity="0.55" filter="url(#hblur3)"/>
<ellipse cx="690.7" cy="394.4" rx="13.9" ry="8.7" fill="#456c92" opacity="0.55" filter="url(#hblur3)"/>
<ellipse cx="723.8" cy="450.7" rx="14.7" ry="6.5" fill="#456c92" opacity="0.55" filter="url(#hblur3)"/>
<rect x="621.9" y="343.4" width="93.7" height="125" fill="url(#hg_tint)"/>
<clipPath id="hr3"><rect x="620.9" y="343.4" width="116.9" height="125"/></clipPath>
<g clip-path="url(#hr3)">
<ellipse cx="633.3" cy="403" rx="79.8" ry="60" fill="url(#hg_cloud)" opacity="0.6"/>
<ellipse cx="619.9" cy="403" rx="36.1" ry="45" fill="url(#hg_core)" opacity="0.8"/>
</g>
<rect x="604.7" y="379.2" width="17.2" height="47.5" fill="url(#hg_comb)" opacity="0.9" filter="url(#hblur2)"/>
<path d="M621.9 368.4L617.4 369.4L621.9 370.4ZM621.9 371.9L614.3 373.3L621.9 374.6ZM621.9 373.3L614.3 374.1L621.9 375ZM621.9 375L612.3 376.5L621.9 378ZM621.9 379L617.3 380L621.9 381ZM621.9 381.4L608.9 383L621.9 384.5ZM621.9 383.6L608.3 385.1L621.9 386.6ZM621.9 385.8L612.8 387.3L621.9 388.9ZM621.9 388L607.8 388.9L621.9 389.9ZM621.9 390.7L616 392L621.9 393.3ZM621.9 393.2L611.3 394.6L621.9 396ZM621.9 394.6L613.8 395.9L621.9 397.2ZM621.9 397.5L609.5 399.2L621.9 400.9ZM621.9 399.5L613.1 401.2L621.9 402.9ZM621.9 403.1L603.4 404L621.9 404.9ZM621.9 404.8L615.2 406.5L621.9 408.2ZM621.9 406.8L613.3 408.4L621.9 410ZM621.9 409.8L606.3 411.8L621.9 413.8ZM621.9 411.8L608.4 413.3L621.9 414.9ZM621.9 415.3L606.9 416.7L621.9 418.1ZM621.9 416.9L616.2 418L621.9 419.2ZM621.9 418.7L609.3 419.9L621.9 421.1ZM621.9 421.8L610.4 423.7L621.9 425.6ZM621.9 424.8L608.2 426.4L621.9 428ZM621.9 425.7L613.4 427.2L621.9 428.7ZM621.9 430L613.5 430.8L621.9 431.6ZM621.9 431.3L617.4 432L621.9 432.7ZM621.9 435.5L615.3 436.2L621.9 436.9Z" fill="#ecec2e" opacity="0.8" filter="url(#hblur1)"/>
<rect x="617.4" y="343.4" width="9" height="125" fill="url(#hg_band)" opacity="0.3"/>
<rect x="616.9" y="346.4" width="10" height="100.2" fill="url(#hg_band)" opacity="0.7" filter="url(#hblur2)"/>
<rect x="619.6" y="343.4" width="4.6" height="106.2" fill="url(#hg_band)" opacity="0.5" filter="url(#hblur1)"/>
<path d="M642.5 354.6l2.4 0l3.7 0.3l3.2 0.3l3.1 -0.1M637.9 459.1l2 1.1l2.1 0.8l3 2l2.9 1.4M647.9 464.4l3 0.7l2.4 1.3l2.8 1.1M671.6 375.1l2.5 -2.6l2.6 -2.8l2.5 -1.9l2.1 -2.3M681.3 365.5l2.3 -2.3l1.9 -2.1M664.1 376.9l2.5 0.1l2.4 -0.6l2.6 -1.3l2.9 -2.2M674.5 372.9l2.9 -1.8l3.3 -2.1l3.7 0.5l2.3 0.2M686.7 369.7l3.9 -0.7l3.3 -0.7l3.8 -1.2l2.6 -1M693.6 360.7l2.7 -1.4l3.5 -1.3l2.9 -0.3l2.6 -0.2M705.3 357.5l2.8 -1.1l2.3 -0.3l2.2 0.3l2.7 -1M715.3 355.4l3 -1.5l3 -2.2M664.1 376.9l2.1 -2.3l2.3 -1.7l2.6 -2.1l1.7 -1.7M672.8 369.1l2.4 -2.5l2.6 -2.8l2.4 -1.2l3 -0.7M683.2 361.9l2.9 -0.7l3.6 -0.9l3.9 0.4l2.5 -0.3M678.9 397.9l3.5 0.6l2.9 0.7l3.3 0.5l2.4 0M691 399.7l2.8 0.6l2.1 0.9M681.3 396.3l2.1 -2.2l2.7 -2.8l2 -2.1l1.7 -1.6M689.8 387.6l2.3 -2.3l1.7 -1.9M705.6 390.3l2.5 1.2l1.8 1.9l1.7 1.6l2.2 1.4M713.8 396.4l3.6 0.9l3.7 0.8M673.3 401.6l3 -2l2.6 -1.7l2.4 -1.6l2.6 -2.1M683.9 394.2l2.7 -0.5l3.5 -1l2.3 -0.5l3.6 -1.1M696 391.1l3.2 -0.3l3.4 -0.6l3 0.1l3 0.5M681.4 397l2.9 -0.8l3.6 -1.1l3.6 -1.2l2.5 -0.6M639.3 345.8l2 -1.1M659.8 444.2l1.8 1.9l2.7 2l2.5 0.6l2 1.1M668.8 449.8l3.1 1.5M666.3 446.8l2.7 -1.5l3.2 -2.2l2.3 -1l3 -0.5M677.5 441.6l2.4 0M656.9 442.9l2.9 1.3l2.1 1.3l2.3 0.8l2.1 0.5M666.3 446.8l3.3 1.2l2.6 0.9l2.9 0.8l3.5 0M678.6 449.7l3.9 -0.1l2.5 -0.7M656.7 364.5l3.5 -0.5l2.1 -0.7l2.1 -0.7M656.7 364.5l2.5 -1l2.5 -1.5l3.3 0M661.4 378.5l3 2l3.4 1.2l3.1 1.6M662 388.6l3.6 -0.7l2.2 0.2l3.5 -0.2l3.3 -0.3M674.6 387.6l3.4 -0.6l3.2 0.2M671.8 436.2l2 2.1l2 1.2M678.1 396.3l3.4 1.7l1.9 1.6l1.6 1.6l2.6 2M687.6 403.2l2.9 1.2l2.8 0.6M693.5 403.7l3 -0.4l3.7 -1.4l2 -2.1l3.4 -1.6M705.6 398.2l3 -2.3l2 -1.2M669.9 394.5l2.8 0.6l3 1l2.4 0.2l2.7 0.2M680.8 396.5l3.1 2.2l3.4 1.7l3.5 1.7l2.7 1.6M693.5 403.7l2.2 1.7l1.8 1.8l2 1.2l3.2 0.7M683.3 386.5l2 -1.4l2.2 -2.2l1.6 -1.7l1.6 -1.7M690.7 379.5l2.6 -2.7l2.7 -2.9M672.8 393.9l2.2 -2.3l1.8 -1.9l3.5 -1.9l3 -1.3M683.3 386.5l3.2 -2.2l2.7 -0.9l2.5 -1l3.7 -0.5M695.4 381.9l3.1 -0.7l3.7 -1l3 -1l3.3 -1.6M705.3 407.1l1.9 1.9l2.9 2.2l3.2 1.4l2.9 1.5M716.2 414.1l3.2 0.7l3.6 0.4M675.2 393.7l2.9 1.4l2.8 2l2.4 0.9l2.4 1.1M685.7 399.1l3 1.7l2.8 0.9l1.9 1.1l2.2 1.2M695.6 404l3.4 0.2l3 1.6l3.3 1.3l1.8 1.8M707.8 389.9l1.6 1.8l1.9 2l2.6 2.6l2.1 2.2M716 398.5l2.6 2.4l2.2 2.3M669.9 394.5l2.9 -0.6l2.4 -0.2l3.4 0.1l3.6 -0.3M682.2 393.5l3 -1.1l2.4 -0.7l2.5 -0.1l3.9 -0.5M694 391.1l3.1 -0.7l3.6 -0.3l3.9 -0.7l3.2 0.5M687.3 404.6l3.1 -0.7l3.6 -0.1l3.7 -0.3l2.1 -0.8M699.8 402.7l2.2 -0.4M689.8 403.8l2.6 -1.9l2.8 -1.8l3.2 -1.3l2.2 -1.8M700.6 397l3.6 -0.6M681.7 407.7l3.3 -2l2.3 -1.1l2.5 -0.8l3.1 -0.7M692.9 403.1l3.1 -1.2l2.4 -1.1l2.9 -0.4l3.9 -0.6M705.2 399.8l3.3 -0.5l2.7 -0.4l2.9 0.1M678.2 407.4l3.5 0.3l3.8 0.6M654.8 451.4l2.6 -2.7l1.7 -1.8l1.9 -2M647.4 453.1l2.6 -0.4l2.3 -0.3l2.5 -1M681.9 443.6l2.7 -1.1l2 -0.9l2.8 -0.5M664.7 444l2.3 0.5l2.8 0.5l2.6 0.7l2.2 -0.1M674.6 445.6l3.6 -0.9l3.7 -1.1l3.7 -0.3M661 444.1l3.7 -0.1l2.5 -1l3.3 -1.1M682.3 434.1l2.4 0.9M658.2 368.4l3.3 -0.2l3.1 0.2M655.9 368.4l2.2 -0.5M662.8 366.6l2.2 1.8l2.5 1.4l3.9 1l3.2 0.7M674.6 371.5l2.2 1.3M648.1 371.4l2.7 -2.8l3.2 -1.9l2.6 -0.5l4 -0.2M660.6 366l2.2 0.6l3.4 1.2M667.4 373.1l2.8 -0.9l2.4 0.1l3.6 -0.6l3.5 -0.2M679.7 371.5l2.2 0M673.8 375.7l2.6 -1.2l2.7 -1.3l2.1 -0.8l3.1 -1.1M684.3 371.3l2.2 -0.3M649.8 369.1l2.8 0l3.9 1l2.3 0.8l3.3 0.9M662.1 371.8l2.5 0.2l2.8 1.1l2.6 1.8l3.8 0.8M673.8 375.7l3.6 0.3l3 0.1M653.2 365.5l2.6 -2.2l2.1 -1.6l3.4 -1.7l2.4 -0.5M663.7 359.5l2.9 -0.1l2.4 -0.1l3.1 -0.2l1.8 -1.5M673.9 357.6l2.3 -1.7l2.3 -0.5l2.5 -1.2l3.3 -0.7M673.2 400.2l3 -0.8l2.4 0.1l3.4 0.1M637.8 346.6l3.3 1.7l2.6 1.2l3 0.8l3.7 0.3M650.4 350.6l2.7 -0.8l1.9 -1.2l1.7 -1.7M650.8 359l2.5 2.6l2.8 1.9l2.8 2.8l2.7 1.4M661.6 367.7l2.8 0.7M648.1 356.1l2.7 2.9l2.8 2.9l2.1 1.8l1.7 1.9M657.4 365.6l2.3 2.4l2.3 2.3l2.6 2.8l3 1.7M667.6 374.8l3.3 1l2.6 1l3.1 0.1M643.1 355.3l2.5 0.2l2.5 0.6l3.5 1.5l2.4 1.6M654 359.2l2.4 0.8l3 0.4l3.6 0.6l2.9 1.4M665.9 362.4l3.3 1.7l3.4 -0.1l2.3 0.8l2.6 0.2M677.5 365l3.5 0.5l2.3 -0.3l2.2 -0.2M651.1 461l1.9 -1.2l2.4 -2.2l3.7 -1.1l3.6 -0.8M662.7 455.7l2.9 0.3l3.1 -0.1M647.5 460.1l3.6 0.9l2.7 -0.3l2.2 0.2l2.5 0M658.5 460.9l3.2 1.3l2.8 1l2.6 1.6l2 1.2M669.1 466l3.1 1.4M677.1 457l3.8 1.3l3.8 0.5l2.9 0.4l3.5 1.9M691.1 461.1l2.9 2.3l2 2.1M690.2 460.7l2 2l1.8 1.9l2.1 2.3M706.7 462.8l2.5 0.8l2.7 0.6l3.6 0.9l2.2 1.5M668.6 454.5l2.3 1.6l2.8 0.4l3.4 0.5l3.6 1M680.7 458l3.8 1.1l2.2 0.5l3.5 1.1l3.5 1.9M693.7 462.6l3.3 1.4l2.6 0.5l3.7 -0.9l3.4 -0.8M700.6 454.2l3.3 -0.6l3.4 -0.7l3.2 -0.6l2.6 0.2M713.1 452.5l3.8 -1.1l3.9 0M711.7 444.5l2.6 -0.6l3.6 -1.6l3.6 -1.1M696.1 458.1l1.8 -1.9l2.7 -2l2.5 -1.8l2.1 -2.2M705.2 450.2l2.4 -2.5l1.8 -1.9l2.3 -1.3l3 -0.5M714.7 444l2.5 -1.8l1.9 -2l1.8 -1.9M640.7 463l3.3 -1.5l3.5 -1.4l3.1 -1.4l2.6 -1.4M653.2 457.3l3.7 -0.3l2.6 -1l3.1 -0.8l2.4 -0.3M665 454.9l3.6 -0.4l2.3 0.2l2.3 0.6l3.7 -0.2M676.9 455.1l3.6 1.1l3.5 1.1l3 1l3.6 0.5M690.6 458.8l2.6 -0.8l2.9 0.1l3.9 -0.2l2.9 0.3M673.5 391.7l2.5 -2.7l2.2 -1.1l2.5 -0.7M675 407.4l3 0l3.5 0.4l2.8 -0.5l2.2 0.7M678.7 407.9l2.6 0.4l2.7 -0.3l3 -1.6l2.4 -1.9M690.9 405.7l2.5 -0.7l2.8 -1.4l3 -2.5l2.4 -1.6M676.8 405.3l3.6 1.5l2.5 0.1l2.3 0.7l3.7 -0.6M688.9 407l2 -1.3l2.1 -2.2l2.4 -2.5l2 -1.7M684.2 405.2l2.5 -0.5M666.5 384.5l2.2 -1.3M698.7 421.2l2.6 2.4l2.9 2l2.8 0.7M691.5 433.2l2.8 -2M690.9 422.4l3.3 -0.5M714.1 444.5l3.1 -1l3.5 0.5M702.2 434.3l3 -1.4l2.6 -0.7l3.5 -1.1M639.7 462.1l2.7 2.3M679.6 404.8l2.1 -1.8l2.2 -0.7M699 401.8l2.9 0.3l2.2 0.4M684 432.4l2.5 1.2l1.9 1.1l3.1 2.5M685.2 423.6l3 -1.3l1.9 -2M672.5 436.4l3.2 1.8M693.1 415.6l3.2 -0.8l3.5 -1.4l3 -2.1M695.5 421.1l2.4 -0.3M676.5 389.2l3.8 -0.5l3.4 0.1M691.6 424.9l1.9 1.2l2 1M684.5 414.9l3.2 -2.3l2.3 -1.5l3.7 0.1M688.8 430.5l1.7 -1.7M683.1 431.6l2.4 0M677.1 401l3 -1.4M695.9 428.7l2 1.4M703.7 419.1l3.4 0.4M675.2 385.1l1.7 -1.5l2.4 -1.7M657 373.2l2.6 -2.7l2.4 -1.8l2.7 -2.4M714 443l3 0.4M705 424.3l2.6 -2.8l2.5 -2.5l1.7 -1.9M713 428.6l2.4 -2l1.9 -1.7M688.9 415.6l3.3 -1.9M691.8 397.7l2.3 -0.1l3.7 0.5l4 -0.5M652.6 369.2l2.8 -0.3l2.8 -0.6M676 397.5l1.9 -2.1M693.4 411.2l3.7 -0.6l3.5 1.4l2.9 1M658.8 456.9l2.6 2.7l3.5 1.7M687.1 417.3l3.2 -1.6l2.3 -0.4M694.8 425.4l3.7 0.5l3.6 -0.8M714.3 447.1l2.8 1.2M660.4 384l2.6 -1.1l3.5 -0.7l4 0.3M713.4 440.8l3.7 -1.3l2.2 -1l2.9 -1.3M644.9 454.4l1.9 2l1.8 1.5M701 420.5l3.2 -0.9M686 426.6l2.9 -0.2l3.4 -0.5M686.7 376.2l2.1 -2M643.2 351.7l3.7 1M714 424.8l3.2 1.8l3.7 0.7M669.2 443.7l2.4 -1.1M641.3 463.7l2.8 -2.5M674.1 450.1l1.8 1.4M679.5 381.6l2.9 -1.3l3.2 0.6l2.7 -0.1M705 444.1l2.8 0.9l2.2 0.6l3.3 -0.3M653.3 449.9l3 0.8M700.6 437l2.4 0.6M658 356.6l3.7 0.8l2.9 1.5l2 1.4M652.3 358.3l2.2 -2.3l3.2 -2l2.5 -1.3M655.7 451.1l2.7 0.8l3.1 0.9M655.2 457.4l2.8 0.6l2.2 -0.3l2.9 -0.7M667.4 381.1l3.3 -1.9l2.6 -2.1M715.3 425.7l2.2 -1.1M677.3 395.5l3.7 0.2l2 1.1M693.2 423.5l2.1 2.1l3.2 0.8M669.9 364.9l1.8 -1.2l2 -1.7M694.3 449.5l1.8 1.8M643.2 456.2l3.5 0.7l2.6 1.2M654 460.4l2.8 0.1l2.4 0.5M700.7 425l3.7 -1.2l2.7 -0.6M660.6 457.7l2.7 0.4l2.9 0.7l3.5 0.7M685.6 417.4l2.4 0M705.1 432l2.4 -2.5l2 -1.4M705 420.3l3.2 -1.2l2.3 -0.8M691.5 413.1l3 0.8l2.7 0.4M710.4 434.6l2.6 0.7l2.4 0.6l3.2 0.5M680 452l1.5 1.7M681.1 429l2.5 1.2l2.2 0.4M716.9 435.6l2.9 -2M707.2 441l2.7 -0.4M649.3 455.5l2.5 1.1l2.7 1.1M650.6 460.2l3.5 0.4l2.9 0.5M694.7 402.7l3.9 0.2M701.4 419.9l2.5 -0.6l2.6 -0.3l2.6 -0.5M684.1 409.4l3.8 -0.6l3 -0.1M702.4 437l2.2 0.4l2.6 1.1M687.1 421.7l1.7 -1.4l1.5 -1.6l2.6 -2.4M683.3 411.8l2.8 -0.1M695.4 422.3l2.6 -0.1l3.8 -0.8M673.7 380.4l2.7 2.7M679.3 440.6l2.5 -0.8l2.3 -0.7l2.5 0.2M669.7 437.6l2.3 0.9l3.3 0M684.5 417.7l2.5 0.6l3.3 1.2M690.2 442.5l2.6 0.3M699.5 452l2.9 2.3l3.2 1l2.3 1M679.3 399.5l2.5 -2.1l3.1 -1.8M699.2 445.6l2.8 2.2l2.1 2l1.9 1.5M660.8 445.3l1.7 1.8l1.9 1.2M654.5 455.3l2.9 -0.8l3.6 0.1l3 0.5M646.7 455.8l1.6 1.6l2.6 2.7l3.1 2M685.4 415.4l3.4 0.8l2.8 0.7l3.3 0.8M694.7 438.6l3.1 1.4l2.7 1.3M684.3 415.3l2.3 0.5M690.1 403.9l3.2 0l3.8 0.5M694.9 433.2l3.4 -1.7l3.4 -0.6M686.2 440.1l2.7 -0.7M707.4 434l3.4 0.5M672.8 444.1l3.6 0.4l3.6 1.1M674.8 398.4l3.1 -0.2l2.8 -0.1l2.3 0.4" fill="none" stroke="#e8e832" stroke-width="0.7" opacity="0.1"/>
<path d="M633 360.2l1.9 -1.5l2.1 -2.1l2.8 -1.7l2.7 -0.3M665.5 401.4l3.1 2.1l3.3 1.7l2.9 2.3M659.5 399.8l2.9 1.1l3.1 0.5l2.6 -0.6M649.4 425.8l2.7 2.7l2 1.6l3.6 0.2l3.1 0.4M660.8 430.7l2.9 0.1l3.9 -0.3l3 1.1l3.2 0.9M653 394.3l3.2 0.7l2.8 -0.2l3.5 -1.8M629.4 453.2l2.1 1.2l2.3 1.6l2.2 1.7l1.9 1.4M655.4 385l2.2 -1.8l2.2 -1.9l2.3 -2.4l2 -2M659.9 404.6l2.2 0.2l3.8 -1l2.7 -0.7l2.7 -0.4M671.3 402.7l2 -1.1l2 -1.4l2.6 -1.6l3.5 -1.6M643.2 439.5l3.7 0.3l3.9 -0.2l3.6 -0.5l3.6 0M654.4 431.6l2.6 0.9l3.3 0.4l2.4 0.7l3.1 1.2M660.5 418.5l2.1 -1.8M626.5 347.4l2.5 -0.5l3.7 -0.6l3.6 0.6l3 -1.1M656.6 413.2l2.5 -0.7l3.9 -0.6l2.5 0.5l2.6 1M668.1 413.4l2.5 1.3l2.2 0.6M649.1 440.2l3.2 1l2.2 0.2l3.6 0.3l3.8 0.4M654.1 428.7l2.7 2.1l2.2 1M652.6 429.4l3.1 2.5l2.4 0.8M640.1 443.4l2.4 2l2.6 1.8l3.3 2l3.4 1.8M645.6 369.9l1.9 -1.9l3.3 -1.9l3.4 -1.3l2.5 -0.3M649.8 374.3l3.2 1.2l2.6 0.7l2.7 1.2l3.1 1.1M641.1 369l2.3 0.4l2.2 0.5l1.6 1.6l2.6 2.8M649.8 374.3l2.6 2.7l2.7 2.6l2.1 1.9l1.7 1.8M658.9 383.3l3.2 1.8l3 1.5M650 388.2l2.3 -2.3l2.1 -1.6l2.1 -1.8l2.7 -2.4M659.2 380.1l2.2 -1.7M652.1 396.1l3.2 -1.7l2.5 -2l1.8 -1.8l2.4 -2M663.4 429.3l2.4 2.5l1.9 2l2.1 0.9l2 1.5M650.6 428.3l3.2 0.4l3.3 -0.2l3.6 -0.4l2.7 1.2M638.9 434.7l3.8 0.2l3.1 1.3l3.5 1.8l2.9 2.3M652.2 440.3l2.9 2.2M658.7 396.6l2.4 0.6l2.8 0l2.5 -1.1l3.5 -1.6M666.3 412l3.3 0.1l2.3 1l1.8 1.5M655.8 406.5l3.2 -0.3l2.2 -0.9l2.7 -0.2l2.4 0.7M666.3 405.8l2 1.3l2.2 0.6l3.9 -0.6l3.8 0.3M636.9 459.8l2.6 -2l1.7 -1.9l3.2 -2.2l3 -0.6M667.3 440.2l2.6 -2.7l3.3 -1.9l1.8 -1.6M655.4 447.1l1.9 -2.1l2.6 -0.5l2.9 -1.6l2.3 -1.1M665.1 441.8l2.2 -1.6l1.9 -1.8l2.6 -2.7M629.1 463l3.2 -0.4l2.9 -1.1l1.7 -1.7l2.3 -2M639.2 457.8l3.4 -1l2.1 -1.3l2.8 -2.5l2.4 -2M649.9 451l3.2 -2.2l2.3 -1.7l2.5 -1.8l3.1 -1.2M627.9 461.9l2.3 0.9l3.8 1.1l3.8 1.4l3 0.4M647.9 432.3l3.2 1.4l2 1.9M653.9 434.6l2.3 1.6M670.8 429.7l2.9 1.5l2.7 1.3l2.7 0.8l3.2 0.8M651.3 433.2l3.1 0.5l3.2 -0.3l3.3 -0.1l3.5 -1.1M664.4 432.2l2.9 -1.8l3.5 -0.7M647.5 373.4l2.2 -2.2l2.7 -2.7l2.3 -0.8l3.5 0.7M644.6 375.1l2.7 -2.9l2.7 -1.3l2.9 -0.9l3 -1.6M644.8 373.6l2.2 -2.1l2.8 -2.4l1.6 -1.8l1.8 -1.8M655.1 406.2l2.6 -2.7l2.5 -2.6l1.8 -1.9l2.4 -1.3M664.4 397.7l3.2 -1.3l2.9 -1.7l3 -0.9M661 403.6l3.3 -0.7l2.5 -2.2l2.9 -0.5l3.5 0M642.8 443.6l3 2.3l2.7 0.8M645.9 434l3.1 0l3.3 -0.6l3.3 -0.2l3.2 0M658.8 433.2l3.4 0l2.5 -0.4l3.6 -1l2.2 -0.5M650.7 382.4l2.3 1.6l3 1.6l2.5 1.5l3.7 1.3M662.2 388.4l3 1.5l2.5 1.9l3.5 1.4M629.6 348.3l2.2 -2.3l3 -1.3M635.4 346.7l2.8 -1.6M626.9 349.8l2.7 -1.5l2.6 -1.4l3.2 -0.2l2.4 -0.1M632.6 352.5l2.2 1.5l2.7 1.4l3.1 0.1l2.5 -0.2M628 464.4l3.3 -0.8l3.4 0.5l2.3 -0.2l3.7 -0.9M656.1 402.3l3.3 -0.9l3.1 -1.5l2.5 -0.7l3.2 -1.9M660.9 397.6l2.3 -1.8M664.7 398l1.9 -1.4l2.8 -1.8l2.3 -1.2l1.8 -1.9M629.5 463.4l2.4 0.2l2.8 1.1l2.3 1.1M665.5 406.9l3.1 0.1l3 0.4l3.4 0l3.7 0.5M668 406.8l2.6 1.1l2.8 1.3l2.5 0.2l2.2 0.5M678.1 409.9l2.7 2.2l1.8 1.9l2.2 1.9l2.7 2.9M657.9 407.5l3.7 -0.3l3.9 -0.3l2.5 -0.1l3.1 -0.6M671.1 406.2l2.2 -1l3.5 0.1l3.9 0.7l3.5 -0.8M647.4 382.7l3.6 -1.5l3.7 -0.8l2.5 -0.6M654.2 383.8l2.2 1.1l3.6 1.3M665.6 422.2l3.4 -0.1M678.2 424.1l2.3 1.4l2.2 0.6l2.3 0.6M653.8 436.8l2 1.8l2 2.1l2.5 2.7M645.3 371.2l2.8 0.2M680.6 414.9l2.7 1.4l2.5 1M651 386.5l2.4 -1.4l2.1 -1l3.5 -1.4M658.9 385.7l2.6 -0.6M656.7 389.5l3 0.2l3 0.6M649.6 380.8l3.7 -0.7l3.6 -1.1l2.5 -2M662.9 424.9l3.1 -0.4l3.5 -0.6l2.5 -0.1M655 434.2l1.8 -1.9l2.1 -1.6M661.1 423.9l2.7 0l3.4 0.4l2.6 0.6M648.6 382.1l3.1 1.5l4 0.4l3.5 -0.6M642.4 454.4l3.2 0.7M684.5 417.8l3.2 2.4M645.3 436.4l3.1 1.9l2.4 0.4l3.2 0.3M622.8 347.6l3.3 -0.8l3.2 -0.9M652.2 373.8l3.8 -0.2M674.6 419.6l2.6 2.3l2.3 1.4M666.9 433.5l2.5 -0.5l3 -1.2M658 398.6l3.3 2.1l3.2 2.2M662.2 424.1l2.5 2.2l3.1 1.9l3.3 1.8M681.3 418.8l2.7 -1.6M639.3 454.5l2 1.6l2 2.2l2.8 2.1M632.8 462.6l3.2 1.7M647.6 376.5l3.5 -1.1l2.8 -0.9M676.1 416.4l3.2 -1.5l3.4 -0.6l2.4 0.6M668.2 431.8l3.5 0l3.9 -0.2M676.2 415.1l2.9 -0.7l3.3 0.9M656.3 430.7l3.5 1l2.7 -0.2M661.4 421.7l2.7 0M667.3 399.8l2.9 -0.3l2.4 -0.1l2.9 0M623.4 464.5l3.5 -1.8M650.2 431.1l3.3 1.6l3.3 1.3M653.6 427l3.2 0.8M671.7 422.5l3.9 -0.8l2.2 -0.9l3.5 -1.4M671.2 436l3.3 0l2.9 -1.2M674.6 426.9l2.8 -0.3M630 357.2l2.2 -0.8l3 -0.6l3.6 -0.3M639.7 439.4l2.2 1l2.9 1.7l3.5 1M661.4 403.5l3.4 1.7l2.3 0.9M632.8 360.6l3.9 0.6l3.6 0.1M657 441l2.7 2.9l2.4 1.7M669.2 432.7l2.5 2.7l2.8 2.7M664.2 410.3l3.3 -1.1l3.5 -1.2l2.5 -0.6M660.1 397.7l3.4 0.2l2.6 0.9l2.4 -0.2M671.7 432.6l3.5 1.1M683.6 425l3.6 0.3M663.9 418.6l1.6 1.7l2.8 2.8M643.3 440.8l2.7 1.3l3.9 -0.2l2.6 -0.1M661.5 430.1l1.9 1.3l3.1 2.4M660.3 406.2l3 -0.8M631.4 452.8l2.6 -2.3M640.4 447.4l2 -1.5l2.7 -0.8M684 420l3.4 0.7M654.4 397.9l2.9 -2l3.5 -1.3M665.2 414.7l3.4 0.4M653.1 421.9l2.9 2.1l2.5 2.7l2.4 2.3M667.6 419.9l2.9 1.1M661.3 420.2l2.7 -2.8l2 -2.2l2.1 -2.1M646.3 371.6l3.8 0M667.7 421.9l3.6 -0.5l2.3 0.1l2.9 0.2M671.3 423.6l3.1 -1.3l2.7 -2.2M656.4 437.2l2.8 1.1M656.7 420.8l2.5 1l3.9 0.7M661.2 439.5l2.2 -1.4M663.4 391.9l2.7 0.2l3.5 1.2l2.3 2.4M673.3 428.1l3.2 -1.6M677.2 429.5l2.3 2l3.3 2.1M649.1 384.8l1.6 -1.5l3.3 -1M661.7 409.8l3.9 -0.4l3.1 -0.5l2.8 0.4M679.8 419.3l3.6 -0.7l2.3 0l3.2 -0.6M649.6 382.9l3.4 -1l2.2 -1M661.2 403.7l3.1 2l2.2 1.5l3.8 0.4M673.3 421.2l2.8 -0.7l2.5 -0.3l2.3 -1.4M658.4 411.1l3.3 0.2l2.9 0.5l3.8 0.6M652.2 376.6l3.9 -0.1l2.2 0.4M652.7 389.1l2.4 0.7l3.6 0.2l2.2 -0.7M660.6 400.8l2.8 -0.7l3 0M675.1 411.7l1.8 -1.9l3 -2.6M663.2 410.6l3.1 -0.5M660.8 383.2l3 1.2M675.9 428l2.9 2.6l3.9 0M630.6 462.1l2.3 2l1.6 1.7M635.8 452.4l2.4 1.5l3.4 0.4M630.9 351.9l2.7 -2.1l2.3 -2.1M673 414.7l3 1.6M674.6 424.3l3.3 2.2l3 2.7l2.9 1.6M662.8 391.2l2.7 1l2.7 1.8l2.6 2M650.1 385.2l3.7 1.4l3.1 0.7M656.6 427l2.7 0.7l2.6 0.9M652 374.3l3.4 0l2.3 -0.3M665.3 412.3l2.9 0.8M634.2 444.6l3 2.5l2.1 1.8l2.5 1.4M661.9 404.2l2.8 0l3.2 0M654.7 390.8l2.2 0.4M663.6 420.4l2 1.4M644.5 437.1l2.1 0.7M656.4 413.1l3.1 -0.8l1.9 -1.2l2.7 -0.1M657.2 394.6l3 1.9l3 1.3l3.1 1.2M670.5 413.9l3.2 -1.5l2.9 -1l2 -0.9M639.1 363.1l2.7 0.4M640.3 365.7l2.4 -2.1l2.6 -1.2M636.2 361.8l1.9 -1.6M664.8 434.1l2.7 2.9l2.8 2.7M659.9 406.9l2.4 -2.4M666.6 395.6l3.1 2.1l2.6 2.3M680.8 419.9l2.6 -0.7l3.1 -2.2M662.2 417.5l2.8 -0.2l3.1 -1l2.4 -1.1M647.4 376.6l3.2 -2.3l3.5 -1.6M678.5 418.3l3.9 -0.2l2.5 0.9M643.5 445.4l3.4 1.4M671.1 410.1l2.8 0.3M663.1 397l2.8 -0.5l3.9 -0.9l2.6 0.6M630.1 349.2l2.4 1M675.5 412.1l2.7 -2.8l3 -2M665.3 396.5l1.9 -2M649.9 444.3l3.6 0.4l3.7 0l2.5 -0.7M656.8 397.5l3.6 1l2.8 -0.7M645.9 441.4l2.3 0.1l2.3 0.5M656.6 395.6l2.2 0.3l2.9 0.6l2 1.1M658.3 418.8l2 -1.1M640.2 363.3l2.6 -0.1l3.2 -0.1M634.2 360l2.7 -2.3l2.2 -0.9M659.5 382.9l3.1 -1.2l2.3 -0.2M675.2 410l3.5 0.1l3.8 -0.5M649.6 377.2l4 0.3l3.8 -0.1M656.4 398.5l3.4 0.4l3.3 1l3.6 1.4M641.7 366.5l2.2 -2M664.3 403.5l2 1M666.2 412.6l3.7 0l2.8 -0.2M668.9 420.8l2.5 -0.7l2.2 0.5M662.5 432.2l2.8 2.9l3 1.5l3.1 1.9M664.3 429.8l3 0.3M654 445.5l3.5 -1.5l2.1 -1.2l3 -1.4" fill="none" stroke="#e8e832" stroke-width="0.7" opacity="0.2"/>
<path d="M652.6 421.8l2.9 -1.8l2.2 -0.7M646.3 420.9l2.8 0.4l3.5 0.5M637.8 421.9l2.2 -1.5l3.3 -0.2l3 0.7l3.6 1.4M647.4 401.6l2.7 -0.4l2.9 -1.6l3.2 -0.5l3.3 0.7M639.6 417.4l2.5 2.5l2.4 2.4l1.9 2l3 1.5M641.9 395.7l2.3 0.7l2.1 -0.7l3.3 -0.5l3.4 -0.9M645.5 404.4l3.4 1l3.6 0.6M643.5 386.9l3.4 0.1l2.9 -0.3l2.5 -0.4l3.1 -1.3M639.5 409.1l2.6 0.3l3.3 0.3l2.3 -0.6l2.5 -1M650.2 408.1l2.4 -1.4l2.1 -1.3l2.5 -0.4l2.7 -0.4M639.7 424.6l2.5 -2.6l3.3 -1.9l3.8 -0.5l2.3 -0.7M632.4 430.5l2.6 -1.8l3.8 -0.9l3.4 -1.1l3.8 -1.1M646 425.6l3.3 -2.2l3 -1M643.2 425.1l3.2 -0.1l2.6 0.2l2.6 0.1M638.3 429.6l2.7 -2.6l2.2 -1.9l2.8 -1.7l3.6 -1.6M649.6 421.8l2.1 -1l1.9 -1.6M641.4 429.6l3.8 0.1l3.7 -0.1l3 0.4l2.5 1.6M639.4 427.1l2.2 -0.6l2.4 -0.3l2.9 -0.9l2.1 -1M649 424.3l3.1 -1.5l3.7 -0.9l2.3 -1.6l2.4 -1.8M642.2 415.6l2.4 0.1l2.5 -0.6l3.7 -0.2l3.8 -0.4M654.6 414.5l2 -1.3l2.8 -0.9l3.6 0l3.7 0.8M647.6 426.6l2.9 1.5l3.6 0.6l3.1 0.4M641.5 423.7l3.3 2.2l2.8 0.7l2.5 1.5l2.5 1.3M640.7 425.3l2.6 -0.7l2.7 -2.2l2 -1.9M635 430.4l2.7 -1.3l2.9 -1.5l3.3 -1.7M644 400.4l2 -2.2l2.6 -2.6M651.5 396.5l1.8 -2l2.8 -2.1M641 402.3l3 -1.9l3.1 -2.2l2 -1l2.4 -0.7M628.3 370.3l2.8 -0.7l3 -0.2l3.1 -0.5l3.9 0.1M641.6 395.5l2.7 -2.3l2.4 -1.6l1.7 -1.7l1.6 -1.7M641.6 395.5l2.8 0.3l3.3 1.3l2.3 0.3l2.1 -1.3M644.6 425.4l2 2.1l2.1 2.3l2.5 2.6l2.1 2.2M639.5 422.6l2.2 0.8l2.9 2l3.3 1.8l2.7 1.1M638.9 434.7l3 -0.4l3.6 -0.5l2.7 0.2l3.1 0.4M628.3 435l3.4 -1.2l2.7 0.3l2.2 0.4l2.3 0.2M638.7 381l2.3 1l2.9 2.8l1.8 1.6l2 2.2M647.7 388.6l2.8 2.9l2.7 2.3l3.2 1.6l2.3 1.2M644.3 405.4l3.7 -0.9l2.7 -0.1l2.9 0.7l3.4 1.6M657 406.7l2 1.7l2.1 0.7M649.3 405.2l2.5 1.8l2.1 1.6l1.8 1.9l2 1.7M657.7 412.2l3 1.7M644.4 401.6l1.9 2l3 1.6l2.1 0.9l1.9 2M653.3 408.1l2.8 1.9l3.3 1.6l3.8 0.1l3.1 0.3M644.4 401.6l3.2 1.6l1.8 1.3l3.2 1.4l3.2 0.6M630.6 439.9l2.9 -0.3l3.4 0.3l2.4 1M628 376.6l3.3 -0.2l3 -0.3l3.7 -0.4l3.6 0.5M636.8 382.5l2.7 -0.3l3.1 -0.7M639.8 381.4l2.2 -1.6M650.1 418.8l2.5 0.5l2.2 0.9l3.7 0.6l3.4 0.2M644.4 419.3l3.1 -0.4l2.6 -0.1l3.7 0l3.3 -1.3M657.1 417.5l2.6 -2.1M643.2 427.4l2.4 2.4l2.3 2.5l2.6 1.4l3.4 0.9M640 425.9l3.2 1.5l2.7 2.8l2.1 1.4l3.3 1.6M642.8 407.8l3.6 0.2l3.6 -1.1M637.3 381.3l2.1 -2.2l2.5 -1.8l3 -2.1l2.6 -1.8M639.9 378.7l2.2 -1l2.5 -2.6l1.5 -1.7l2 -2M634.9 383.2l2.4 -1.9l2.6 -2.6l2.4 -2.5l2.5 -2.6M650.6 409.2l2.4 -2.1l2.1 -0.9l3.4 -1.6l2.5 -1M643.3 405.8l3.5 -1.5M630.3 442.4l2.6 -0.7l3.9 0.6l2.5 0.5l3.5 0.8M644.8 430.8l3.5 0.1l2.2 1.4M638.4 424.1l2.7 2.8l2.2 2.3l1.5 1.6l2.5 2.7M644 427l2.8 1.1M634.1 427.9l3.2 2.2l2.6 1l3.3 2.1l2.7 0.8M638.6 379.2l3.9 0.1l3.1 0.5l2.4 1.1l2.7 1.5M622.2 347.4l2.2 1l2.5 1.4l3.2 1.6l2.5 1.1M639.8 411.1l3.7 -0.6l3.5 -1.7l3.1 -1.1l2.2 -1.9M652.3 405.8l2.1 -1.9l1.7 -1.6l2.4 -2.2l2.4 -2.5M639.8 411.1l3.2 -2.1l2.5 -0.7l3.3 -1l3.4 -2M652.2 405.3l2.9 -2l3.1 -2.4l3.1 -1.3l3.4 -1.6M645.8 406.5l2.7 0.8l2.8 0.1l3.5 0.5l3.1 -0.4M646.2 397l2.4 2.5l2.4 2.5M643.3 396.3l2.9 0.7l3.2 -0.8l3.1 1.6M641.5 381.2l2.6 0.3l3.3 1.2l3.9 0.7l2.9 0.4M626.4 436.3l3.8 0.7l2.4 0.9l3.4 2M647.5 406.6l2.3 -0.8l3.5 -1.2l3.2 -0.6M646.1 412.3l2.8 -0.4M637.6 373.1l3.3 0.7M646 392.7l2.9 -0.2l3.1 0.2l3.1 0M632.7 365.3l2.6 0.2l3.5 -0.2l3.4 -0.7M643.5 377.2l2.5 -2.6M634.6 379.9l2.4 -0.7l2.4 -0.5l3.2 -2.2M641.4 433.8l3.3 -0.5l3.8 -1l3.1 -1.3M647.6 421.9l2 1.2l2.1 2.2l2.5 1.3M631.7 372.3l2.9 2.3l3.3 2.2l2.6 1.1M640.5 421.7l2.7 0.9l2.2 1.2M637 427l2.7 2.7l2.4 1.5M629.3 435.3l2.6 0.8l3.2 2.1l2.2 1.6M654.1 398.5l2.3 0.7M647.5 424.9l3.6 0.1M649.8 417.5l2.7 0.5l2.8 0.7l3.5 1.2M649.1 398.3l2.7 0.1l3.1 -0.2M634 434.4l3.6 0.7l2.2 0.1M649.6 394.7l2.4 1.5M654.5 399.8l3.1 -0.5l2.8 -0.3M638.1 423.5l2.7 0l3.7 0.7l3.8 0.4M644.2 417.4l3.1 -0.2l2.9 0.4M625.4 361.8l2.9 0l2.8 0.2l3 0.8M631.8 371.8l3.3 2.1l3.2 0.6l3.5 0.6M643.9 400.3l2.7 1.6M629.1 447.9l3.3 -0.2l3.4 0.6l3.1 1M637.2 433.6l3.4 0.5M626.1 451.7l3.6 -1.5l2.8 -0.8M645.5 405.7l2.3 -1.7l1.8 -1.3M653.7 411.6l2.8 -1.4l2.3 -0.6M639.9 423.9l3.9 -0.2l2.8 -0.4M651 406.5l2.3 -1.7l2 -1.4M636.8 378.6l2.1 -1.3M635.8 436.1l3.5 0.7M636 439.3l2.8 -0.5M645.3 401.5l3.3 1.1M647.7 410.2l3.2 1.4l3.3 1.7M655.9 412.1l3.2 1.9l2.2 1.1M638 433l3 -0.7M624.6 355.7l2.3 -2.4M648.1 404.1l3 1.6l2.7 1.8M651.4 425.3l3.5 0l3.2 0.9M634.9 442.7l2.1 1.3l3.3 0.7l2.4 0.6M652.3 397.6l3.4 0.6M646.4 414l2.3 -0.3M654.8 403.9l2.3 2.4M640.7 428.3l2.6 1M627.7 443.4l3.1 -1.3l3 -1.6M627.8 355.2l3 2.1l1.9 2.1M633 368.2l3.1 -0.4M636 379.5l2.2 1.1l2.2 1.4l2.1 1M641.1 396.5l2.6 -2.7l2.2 -0.9l3 -0.9M635.6 375.6l3.1 2M634.2 429.4l3 0.3l2.8 0.9M651 421.2l3.4 1l2.8 0.7M645.4 432.3l3.6 1.2M643.5 412.9l2.5 -1.4l2.7 -2.9M639.3 417.4l3.7 0.5l3.5 0.7M644.1 391l3 1.2l2.5 0.4l3.8 0.1M633.9 433.1l3.5 0.4l3 -0.3l2.3 -0.4M641.8 424.9l3.4 1.4M633.9 430.4l2.9 1.1l2.4 -0.2M648.7 423.1l3 2.1l3.1 0.9M652.8 424.7l3.2 0.5M624 355.2l3.3 -0.1l2.9 -0.4l3.6 0.8M642.3 416.3l3.5 -1.3l3.2 0l2.5 -0.8M641 403.4l2.4 1.3l2.5 -0.1l3.6 0.9M656.4 410.5l2.2 2M634.7 368.3l2.8 -0.7l3 -1.4M644.8 429.1l2.3 -1.2M627.7 443.7l2.1 -1.1M634.2 426l2.2 1.1l3.2 1.7l2.4 2.6M636.2 386.3l3 0.8l3.6 0.6l3.6 0.3M644.4 383.9l3.3 -0.3l3.6 -0.6l3.3 0.4M648.6 401.5l3.1 -1M649.1 422.6l2.3 0.3M631.1 372.6l2.6 2.8l2.6 2.8l2.5 2.1M644.2 395.2l3.2 1l2.7 0.7M646.1 405.9l2.3 1.6l2.5 2.1M641.8 391.6l3.2 -0.9l2.2 -0.7M643.8 410l3.5 0.6l3.2 0.4l2.8 1.5M638.9 418.4l3.4 1.6l3.6 1l3.4 0.5M640.5 393.1l3.9 -0.4l2.3 -0.2M640.8 387.7l2.9 -0.5l3 1l3.4 0.1M643 388.9l3.2 0.8M648.6 404.9l2.5 -0.7l3.5 -1.5l2.2 -1.3M653 421.2l2.5 1.5l2.3 0.2M633.4 376.9l2.6 1.1l3.4 1.8M635.9 368.8l2.9 0.8l2.6 0.8M634.4 373.9l2.7 -2.8l1.7 -1.8l1.6 -1.7M643.2 393.9l3 -1.3l3.1 -1.8l1.7 -1.7M640.8 403.6l3.7 1.2l2.8 0.5l2.6 0.1M639.3 387.1l2.6 -1.6M643.5 411.5l2.7 2.9M629.7 438.5l3.7 1.2l2.9 -1.1l2.1 -0.3M634.6 426.6l2.9 2.2l3.1 2.4M653.3 414.2l3 2.1l2.6 0.6l2.8 0.1M654.4 413.3l1.8 -1.5M649.2 391l2.1 -2l3.3 -1.2M632 375.7l3.6 0.5l3.2 0.3l3 -0.8M649.1 394.3l3.4 -2l2.9 -0.8l3.4 -0.6M640.9 419.2l2.7 2.7l3.1 1.8l2 1.2M647.6 423l2.6 -0.7l2.7 -0.7l3.7 -0.3M636.8 430.4l2.8 -0.6l3.3 0.3l3 0.5M643.2 424.5l1.7 1.8l1.9 1.8M648.5 409.4l2.2 0.7l2.5 0.9l3 1.1M642.2 425.9l2.7 1.7l2.5 2.7l1.9 1.4M635.8 383.7l3.3 1.1l2.3 0.7l2.7 -0.1M640.8 384.1l3.6 0.8l2.8 0.7l2.9 0.7M631.3 431.9l3.3 -1.1l3 -0.4l2.9 -0.3M651 416.9l2.1 0.6l3.3 0.6M644.4 403.8l1.8 1.7l2.6 2.7" fill="none" stroke="#e8e832" stroke-width="0.7" opacity="0.3"/>
<path d="M627.4 417.9l3.5 -1.4l2.2 -0.6l3.2 -0.5l3.3 2M636.5 401.8l2.7 2.8l2.7 2M630.2 400.1l3 0.4l3.3 1.3l3 0.8l3.1 1.3M642.6 403.9l2.9 0.5M632.3 390.3l2.4 -0.5l2.9 -1.5l2.3 -0.8l3.6 -0.6M631.9 407.7l3.8 -0.1l3.4 -0.1l3.2 -0.2M628.7 431.5l3.7 -1l2.6 -0.6l3.3 -0.3l3.1 0M630.1 412.2l3 1.6l2.3 0.6l3.1 0.7l3.7 0.5M627.9 427l3.8 0l2.1 -0.9l3.9 -0.3l3 -0.5M631.6 402.1l3.1 0.8l3.7 0.6l2.6 0.8l2.3 1.4M627.5 397.3l3.8 -0.3l3.9 -0.3l3.8 -1l2.6 -0.2M636 395.5l2.3 1.4l3.1 1.2l2.1 1.3M636 395.5l2.7 0l3.3 -0.6l2.7 0.2M638.1 418.8l2.4 0.7l3.6 1.2M635.1 418.8l3 0l2.7 -0.2M634.5 400.9l1.7 -1.9l2.3 -1.8l1.6 -1.7M624.9 426.9l3.1 -0.4l2.3 -1.1l2.8 -1.2l3.1 -1.5M635.1 399.2l2.3 -0.1l2.2 0.4l2.1 1.6l2.7 0.5M631.3 428.5l2.4 2.4l2.5 1.4M635.2 384.3l2.5 1.5l3 1.3M631.7 384l3.5 0.3l3.3 0.8M629 385.3l2.7 -1.3l2.6 -0.7l2.5 -0.8l3 -1.1M631.9 415.9l3 1.7l3.1 1.3l2.6 1l3.8 -0.6M633.9 404.9l2 1.7l2.3 1.2l2.3 0.3l2.3 -0.3M640.9 411.7l2.8 2.6l2.4 2.5M634.1 411.4l3.2 0.7l3.6 -0.4l3.9 -0.5M637.5 414.3l3.6 -1.4l3.2 -1.2l3.1 -1.4l3.2 -1.1M629.5 422.3l2.5 0.9l3.5 0.7l3.5 -0.8M635.8 406.6l3 0.1l3.8 -0.6M630.1 406.1l3.1 0.9l2.6 -0.4l3.8 0l3.7 -0.8M635.9 424.3l2.2 -0.5l3.2 -1.6M627.3 420.1l1.8 1.9l1.8 1.7l2 1.1l3 -0.5M634.2 421.9l2.1 1.1l2.1 1.1l2.7 1.1l2.9 1.8M625.3 378.6l3 0.9l3.8 0.8l3.9 -0.7l2.6 -0.4M638.4 404.4l3.7 1.4l1.8 1.9l2.1 2.3M635.8 404.2l2.6 0.2l2.7 0.6M628.6 409.2l3.5 -1.4l3.3 -1.7l2.1 -1.4l2.4 -0.7M639.9 404l3.2 -1.1l2 -1.3M626 414.7l3.6 0l3.7 -1.1l3.5 -0.8l3 -1.7M632.5 396.5l3.2 0.4l2.5 1.4l3.6 1.8l2.5 0.6M634.9 403.7l2.3 1l3.2 0.4l2.8 0.8l2.6 0.6M632.9 403.9l2.2 -0.8l3.9 -0.4M635.3 419.8l2.3 0.7M632.2 424.8l2.9 -0.5M623.3 372.6l3.3 -0.7l2.6 0.5M636.2 414.9l3.5 -0.6l2.3 -0.2M626.3 439.8l3.1 -1.7l2.7 -2.4M633.3 408.2l2.1 2.2l3.2 2.3l1.9 1.4M637.1 412.7l2.8 2.9M629.6 428.3l2.9 -1.1M637.4 399.9l2.3 1.9l3.7 1M632.6 428.5l2.5 -2.6M631 410.9l3.4 1.3l3.6 1.4l3.5 0.8M624 367l2 -1.3l2.4 -2.5l2.5 -1.2M634.5 412.7l3.4 0.7l2.5 0.2M634.1 381.5l3.7 -0.3M635.3 389.2l3.2 -2.4l2.3 -0.9l3.3 -1.9M630.6 414.4l3 -0.4l3.3 -0.4M633.4 381.9l3.3 0.4l3.7 -0.3M622.5 443.3l1.9 1.4l2.3 1.4l1.9 1.8M628 421.6l2.6 2.4l2.6 1.3l3 2.1M630.8 388.2l3.2 -0.7l3.2 -0.5M635.1 392.6l2.5 1.9l2.2 0.8l3.7 -0.8M632 403.7l3.1 2.5l1.6 1.6M637.9 424.4l2.4 -1M632 428.1l3.3 0M625.3 436.6l1.8 1.9M626.7 426.3l2.3 0.4l2.8 0.6l2.2 2.1M632.6 382.5l3.1 0.5l2.9 0.7l2.4 -0.3M631.3 421l3 0.3l2.7 -0.1M631.8 428.4l2.8 2.7M624.6 371.8l3.3 0M635.5 399.4l2.3 1l2.7 0.1l2.5 0.1M639.2 396l3.3 -0.4M630 388.7l2.5 -1.6M625.1 377.8l2.8 0.2l3.8 -0.7l3.4 -0.3M625.8 372.1l3.7 0.2M633.3 431l2.3 1.8M638.7 416l2.3 0.2M637.7 390.8l2.3 1.1l2.3 2l3.5 1.5M633.1 405.2l2.3 -0.4l4 -0.2l2.5 -0.3M631.4 435l3 -1.5M632.1 404.7l3.2 1.1l3.5 0.9M635.6 381.9l2.4 -1.7M624 376l2.3 -2.5l2.4 -2.5l2.6 -2M629.9 414.7l3.7 0.3l3 -0.9M640.6 406.8l1.6 1.6l1.9 2.1l2.5 2M634 405.3l2.5 0.8l3 -1.1M626.1 387.4l2.4 -1.7l2.6 -2.6l2.3 -1.7M640.6 394.7l3 0.3M632.8 403.3l2.9 -2.8l2.6 -2.7M633.9 391.5l3.6 0.9l2.8 0.1l2.2 0.9M624 437.7l2.2 2.3l2 2.1l2.4 2.5M625.6 421.8l3.5 -0.2l2.5 0.3l3.1 0.4M630.8 399.8l3.4 -0.2l2.1 -0.5l3.5 0M633.7 390l2.6 0.8l3.6 -0.2M632.2 418.7l3.1 1.4l2.6 2.5l2.1 0.9M626.2 373.6l1.8 -1.9l3.1 -1.8M626.5 376.4l2.2 -2.3l3.5 -1.4M633.8 419.1l2.6 1.1l3.4 1.9l2.3 1.7M640.2 399.6l2.5 -1l3.1 -1.2M639.3 393.2l3.8 -0.9M631.6 412.1l3.4 -0.5l3.9 0.4M637.6 402.8l3.7 1.2l3.3 0.6M631.5 383.2l3.6 -0.3l3.2 0.1l2.4 0.5M632.6 382.3l3.1 0.3l3.9 0.4l2.9 0.2M631.2 406.8l2.6 -2.4l3.3 -2l3.8 -0.7M634.5 408.5l2.3 -0.3M631.2 428.2l3.8 1l3.2 1.3M628.6 377.4l3 -1.4l2.6 -0.9M635.4 401.7l2.7 0.4l2.8 -0.5M635.8 387.7l3.3 -0.9l3.8 1.1M642.5 413.2l3.1 -1.1M632.4 391.1l2.7 -0.1M627.4 433.8l3.4 0.4M633.9 388.7l2.5 0.3l3 -0.3M636.4 408.9l3.9 -0.3M622.7 366.3l2.5 -1.7l2.9 -0.9l3.2 -0.9M634.1 426.1l2.3 2.5l2.3 2.4M628.9 380.4l2.5 0.4l3.2 0.7l3.5 -0.1M637.6 416.3l3.3 0.2M635.2 409.9l2.9 -2.3M636.1 399l3.7 1.2M625.3 428.3l3.1 1.9l1.6 1.7M629.6 395.7l4 -0.4l3.4 -1.2l2.8 -1.5M642.8 404l2.4 -0.2M628.4 424l3.5 1.6l3.4 1l3 -0.6M624.6 375.1l3.6 1l3.4 0.5M628 428.1l2.2 0.8l2.5 0.3M626.6 431.5l2.4 -1.9M633.7 390.4l3.2 -0.9l3 0.1M623.5 361.8l2 -0.9M628.6 373.4l3.8 -1.1M630.8 383.4l3 0.4l3.3 1.9M631.5 400.1l2 2.1l1.7 1.7l2.4 2M637.4 393.5l2.9 -0.8l2.3 -1.4M633.5 396.6l3.3 -1.7l2 -2.1l2.4 -2.6M626.4 380.5l2.5 -1.5l3.1 -1.6l2.5 -2.7M625.6 368.7l3.3 -0.7l3.6 -1.8M629.3 429.4l2.6 -0.3l3.1 -1.8l1.9 -2" fill="none" stroke="#e8e832" stroke-width="0.7" opacity="0.4"/>
<path d="M625.2 407.3l3.7 0.7l3.5 0.2l3.7 0.5l3.4 0.4M625.2 409.7l2.8 0.9l3.8 1l2.5 1.6l2.6 1.2M624 391.8l3.3 0.9l2.7 1l3.3 1.9l2.7 -0.1M625.2 418.9l3.7 0.2l3.1 0l3.1 -0.3M623.1 381.9l2.6 0.8l3.6 0.6l2.3 0.6M625.3 408.2l3.6 -1.7l2.1 -1.9l2 -2.1l1.5 -1.6M622.5 400.1l3.4 -0.3l3 -0.3l2.3 -0.4l3.9 0.1M622.4 421.1l2.2 1.5l2.7 1.7l2.1 2.3l1.9 1.9M625.4 398.6l2.1 1.1l2.5 1.8l2.3 1.7l1.6 1.7M622.7 419.1l2.2 0.2l2.4 0.8l3.1 1l3.8 0.8M624.4 405.5l2.4 0.1l3.1 0.3l2.9 -1.3l3 -0.4M623.7 386.8l2.4 0l3.4 0.4l3.6 0.8M622 388.4l2.8 -1.4l2.9 -1.4l3.7 -0.8M622.9 424.5l2.4 -1.2M622.8 381.1l2.3 0.6M626.5 388.6l2.2 2.1l1.6 1.7M623.3 393.9l2.2 1.6l2 1M626.9 399.4l2.3 -2.4l2.7 -2.8l2.3 -2.4M623 388.4l1.9 -1.4l2.5 -1.7M625.7 392.5l2.4 -0.1M623.6 400.8l2.3 0.9l2.9 0.2M622.3 379.3l3.1 -1.1M624.2 397.6l2.5 1.1M626.2 388.2l2.7 0.3l3.4 2l2.4 1.9M622.8 403.6l3.1 -0.3l3.3 2M625 406.3l3.1 -0.7M627.7 402l3.3 -2.1l2.6 -0.7M623.5 421.7l2.9 0.3l2.6 0.4l3.8 -0.2M631.3 412.2l1.7 -1.8M624.8 409.4l2.1 -2.1M627.4 390.4l2.7 -1l3.7 -1.4M625.5 388.2l2.2 0.4l3.3 1.1M630 398.4l3 -0.4M626.3 398l1.9 1.3M622.9 381.7l3.9 -0.5M627.7 397.3l1.6 -1.6M629.8 401.3l3.8 -0.5M628.5 402l3.6 -0.5M627.6 392l2 -1.5M623 395.7l3.3 -0.5M625.8 384.5l2.5 0.4l2.9 -0.1M624.2 404.4l1.7 -1.7l2.8 -1.7M627.8 400.1l3.5 0.2l2.6 -0.2l2.9 0.5M625 378.8l3.1 -2.4M624.5 426.3l2.6 1.1l2 1.4M626 395.2l3.4 -2.1l1.9 -1.4l2.5 -0.9M626.5 412.8l3 0.7l3 0.9M628.5 414.8l3.4 -0.8l3.6 -1.1M622.1 381.9l2.6 -1.4l3 -0.4M624.4 424.1l2.7 0.6l2.9 1l2.6 0.6M624.8 392.1l3.6 -1.5l3 1.1l2.2 2.3M623 386.8l2.7 1.2l3 2.3l1.7 1.8M626.3 391.4l3.8 0.2l2.9 -0.5l1.9 -1.1M626.5 392.8l2.2 -1.5l1.8 -1.4M625.4 382.7l3.4 -1.9M623.4 406.3l2.8 1.4l3.1 1.3" fill="none" stroke="#e8e832" stroke-width="0.7" opacity="0.5"/>
<path d="M648.5 433.4Q678.9 442.9 718.6 446.4" fill="none" stroke="#e4e432" stroke-width="0.9" opacity="0.5"/>
<ellipse cx="722.4" cy="354.4" rx="3.6" ry="1.0" fill="#d4e04a" opacity="0.7" filter="url(#hblur1)"/>
<ellipse cx="722.4" cy="365.8" rx="3.6" ry="1.0" fill="#d4e04a" opacity="0.3" filter="url(#hblur1)"/>
<ellipse cx="722.4" cy="377.3" rx="3.6" ry="1.0" fill="#d4e04a" opacity="0.4" filter="url(#hblur1)"/>
<ellipse cx="722.4" cy="388.7" rx="3.6" ry="1.0" fill="#d4e04a" opacity="0.7" filter="url(#hblur1)"/>
<ellipse cx="722.4" cy="400.2" rx="3.6" ry="1.0" fill="#d4e04a" opacity="0.5" filter="url(#hblur1)"/>
<ellipse cx="722.4" cy="411.6" rx="3.6" ry="1.0" fill="#d4e04a" opacity="0.3" filter="url(#hblur1)"/>
<ellipse cx="722.4" cy="423.1" rx="3.6" ry="1.0" fill="#d4e04a" opacity="0.2" filter="url(#hblur1)"/>
<ellipse cx="722.4" cy="434.5" rx="3.6" ry="1.0" fill="#d4e04a" opacity="0.7" filter="url(#hblur1)"/>
<ellipse cx="722.4" cy="457.4" rx="3.6" ry="1.0" fill="#d4e04a" opacity="0.2" filter="url(#hblur1)"/>
</g>
<rect x="619.5" y="352.9" width="96.1" height="106.4" fill="none" stroke="#0a0a0a" stroke-width="1.1" stroke-dasharray="2 1.6"/>
<ellipse cx="722.6" cy="446.4" rx="3.3" ry="1.25" fill="#ecdc38"/>
<ellipse cx="722.6" cy="446.4" rx="5.4" ry="3.5" fill="none" stroke="#f6f6f6" stroke-width="1" stroke-dasharray="1.1 1.4"/>
<text x="731.8" y="450.2" font-size="11.5" fill="#f6f6f6" text-anchor="middle">8</text>
</g>
<g id="heat4">
<defs><clipPath id="hc4"><rect x="797" y="343.4" width="133.8" height="125"/></clipPath></defs>
<rect x="797" y="343.4" width="133.8" height="125" fill="#4f7797"/>
<g clip-path="url(#hc4)">
<ellipse cx="889.1" cy="380.3" rx="9.3" ry="11.5" fill="#456c92" opacity="0.55" filter="url(#hblur3)"/>
<ellipse cx="898.5" cy="424" rx="12.4" ry="8.3" fill="#456c92" opacity="0.55" filter="url(#hblur3)"/>
<ellipse cx="905.9" cy="413.2" rx="14.2" ry="10" fill="#456c92" opacity="0.55" filter="url(#hblur3)"/>
<ellipse cx="911.1" cy="400.1" rx="9.2" ry="6.9" fill="#456c92" opacity="0.55" filter="url(#hblur3)"/>
<ellipse cx="905.5" cy="374.3" rx="13.2" ry="9.7" fill="#456c92" opacity="0.55" filter="url(#hblur3)"/>
<rect x="815.8" y="343.4" width="93.8" height="125" fill="url(#hg_tint)"/>
<clipPath id="hr4"><rect x="814.8" y="343.4" width="116" height="125"/></clipPath>
<g clip-path="url(#hr4)">
<ellipse cx="829.6" cy="404" rx="96.6" ry="69" fill="url(#hg_cloud)" opacity="0.8"/>
<ellipse cx="813.8" cy="404" rx="43.7" ry="51.8" fill="url(#hg_core)" opacity="1"/>
</g>
<rect x="798.5" y="376.7" width="17.3" height="54.6" fill="url(#hg_comb)" opacity="1" filter="url(#hblur2)"/>
<path d="M815.8 364.6L808.2 365.3L815.8 365.9ZM815.8 367.1L811.1 368.5L815.8 369.9ZM815.8 368.5L807.5 369.4L815.8 370.2ZM815.8 371.5L803.8 372.3L815.8 373ZM815.8 373.1L806.4 374.1L815.8 375.1ZM815.8 375.5L808.6 376.5L815.8 377.4ZM815.8 376.6L804.6 377.8L815.8 379ZM815.8 377.8L809.8 379.2L815.8 380.5ZM815.8 380.3L802.2 381.8L815.8 383.3ZM815.8 383.4L806.5 384.1L815.8 384.9ZM815.8 383.3L799.5 385.2L815.8 387ZM815.8 386L801.3 387.3L815.8 388.5ZM815.8 388.6L799.5 390.1L815.8 391.6ZM815.8 391.3L796.5 392.4L815.8 393.6ZM815.8 392.9L800.4 394.2L815.8 395.6ZM815.8 395.2L806 396.6L815.8 398ZM815.8 395.8L797.4 397.5L815.8 399.2ZM815.8 397.6L797.6 399.6L815.8 401.6ZM815.8 400.6L807.6 401.4L815.8 402.2ZM815.8 402.7L809 404.1L815.8 405.5ZM815.8 403.8L805.3 405.2L815.8 406.7ZM815.8 405.3L796 407.2L815.8 409ZM815.8 407.5L803 409.9L815.8 412.2ZM815.8 410.3L809.4 412.3L815.8 414.2ZM815.8 412.6L802.7 414L815.8 415.4ZM815.8 415.1L799 416.1L815.8 417.1ZM815.8 416L805 417.9L815.8 419.8ZM815.8 419.1L805.9 420.4L815.8 421.6ZM815.8 420.3L799.5 421.9L815.8 423.5ZM815.8 422.1L806.8 423.8L815.8 425.6ZM815.8 424L804.8 425.3L815.8 426.6ZM815.8 426.3L805.6 427.2L815.8 428.1ZM815.8 429.5L803 430.4L815.8 431.3ZM815.8 431.2L804.8 432L815.8 432.8ZM815.8 432.2L804.3 433.2L815.8 434.2ZM815.8 434.1L804.5 435.1L815.8 436.1ZM815.8 436.3L811.2 437.7L815.8 439ZM815.8 438L806.4 438.9L815.8 439.7ZM815.8 441.1L808.3 442L815.8 443Z" fill="#ecec2e" opacity="0.8" filter="url(#hblur1)"/>
<rect x="811.3" y="343.4" width="9" height="125" fill="url(#hg_band)" opacity="0.3"/>
<rect x="810.8" y="346.4" width="10" height="119" fill="url(#hg_band)" opacity="0.8" filter="url(#hblur2)"/>
<rect x="813.5" y="343.4" width="4.6" height="125" fill="url(#hg_band)" opacity="0.5" filter="url(#hblur1)"/>
<path d="M861.4 454.3l2.6 0.8l2.3 1.3M864.8 462.4l2.7 2.8l2.7 2.8M853.1 450.8l1.6 1.7l2.9 2.3l1.7 1.8l1.5 1.6M860.8 458.2l1.7 1.7l2.3 2.5l2.4 2.5l2.4 1.2M875.2 463.5l3.1 1.3l2.5 2.1M861.9 455.2l2.3 1.2l3.2 2.3l2.5 2.5l2.8 1.6M872.7 462.8l2.5 0.7l2.3 1.1l2.6 0.4l2.7 1.5M864.4 383.7l3.2 -1.4l3.7 -0.8l3 -2l3.2 -1.7M877.5 377.8l2.8 -2.9l3.2 -1.7l2.2 -1.6l3.5 -1.7M855.4 450.4l2 1.6l1.7 1.5l2.2 0.2l2.4 0M877.4 405.4l3.5 0.1l3.8 -0.2l2.2 0.3l3.8 0.8M890.7 406.4l3.7 -0.4l3 0.5M873.4 397.1l3.5 -0.1l3.8 0.7l3 0.5M883.3 435.2l2.8 1.5l3.4 1.8l2.8 1.4l3.1 1.9M895.4 441.8l3.8 0.9l3.1 0.2M897.5 447.5l2.6 2.5l2.4 2.5l2.5 2.7l2 1M907 456.2l2.6 1.6l1.8 1.4M905.6 451.1l3.7 1.3l3.1 0.6l2.9 0.6M882.5 442.4l3.7 1.3l2.4 0.2l3 1.2l3.4 1.2M895 446.3l2.5 1.2l2.2 1.5l3.4 1l2.5 1.1M893.1 423.1l2.3 -2.1l3 -1.7l2.7 -2.1l2.4 -1.9M903.5 415.3l3.7 -0.8l2.9 -1.9M896.3 421.1l2.9 -2.7l1.9 -1.4l3.4 -0.1l3.8 0.8M908.3 417.7l2.9 0.7l2 1M911.6 417.7l2.2 -2.4M896.3 421.1l3.8 -0.7l3.3 -0.8l2.7 0.4l2.7 -0.4M908.8 419.6l2.8 -1.9l3.4 -2.1M894.6 425.4l2.8 -0.7l2.8 -0.6l3.2 -1.1l3.1 -1.3M906.5 421.7l3.3 -1.4l3.2 -2l2.7 -2M896.7 424.6l1.5 -1.6l3.5 -1l2.3 -0.9l3.2 -0.3M907.2 420.8l3 -1.5l3.1 -0.8l3.5 -0.4M899.1 423.9l2.4 0.8l2.7 1.2l3.4 -0.1l3.6 0.6M911.2 426.4l3.6 1.6M891.3 427.6l3.3 -2.2l2.1 -0.8l2.4 -0.7l2.2 -1.1M890 418.1l2.7 0.1M894.3 421.8l2.2 -0.7l2.9 -0.8M886.3 420.4l3.3 0.1l2.9 0.1l3.3 0l2.9 0.7M862.6 450.9l2.9 1.6M886.5 438.3l3.2 -0.1l2.4 0.1l3.2 0.4l2.3 0M897.6 438.7l3.4 0.9M867.5 380l3.2 -0.7l2.7 0l2.3 -0.6l2.9 -0.2M863.9 379.4l3.7 -0.7l2.5 -0.4l2.3 -0.3l2.2 -0.3M874.6 377.7l2.7 0.3l2.1 0.6l3 1l3.4 0.5M865.9 377.3l2.2 -2.1l3.2 -2.3l2.9 -2l1.6 -1.7M875.8 369.2l1.6 -1.5M843.7 352.1l3.2 1.4l2.7 2.2l3.2 1.5l3.3 0.7M856.1 357.9l3.7 0.3l3 0.7l2.7 0.3M842.8 363.5l3.1 -1.6l3.8 -0.8l3.5 -0.2l2.7 -0.8M855.9 360.1l3.1 -0.5l2.5 0.3l3.3 -1.1l2.3 -0.7M867.1 358.1l2.3 -0.6l2.4 0.2l2.5 -0.7l3.7 -0.7M878 356.3l3.1 -1.5M875.7 353.6l2.6 2.7l1.9 2l2.5 2.6l2.5 2.6M871.6 349.3l2.4 2.5l1.7 1.8l2.8 2.4l1.7 1.6M880.2 357.6l3 1.8l2.2 0.6l2.4 1l2.8 1.7M890.6 362.7l3.4 1.8M886.1 346.8l2.2 0.9l2.3 2.4l2.3 2.3l2.5 2.6M882.9 347.5l3.2 -0.7l2.5 0l2.6 0.1l2.6 0M893.8 346.9l2.7 -1.6M839.5 353.3l2.2 -1.4l2 -1.9l2.1 -1.1l3.6 -0.1M849.4 348.8l3.6 -1.5l2.7 0l2.8 -0.2l3.4 0.6M861.9 347.7l3.8 -0.1l3.2 1l2.7 0.7l2.5 0.2M874.1 349.5l3.5 -0.5l2.9 -1.1l2.4 -0.4M860.1 376.1l3.7 -1.1l3.7 0.7l3.7 1.5l1.9 1.2M873.1 378.4l2.4 1.2l3.5 0.8l3.2 1M862.9 376.5l3.6 1.6l2.1 1M848.3 370.9l2.2 -2.2l3.2 -2l3.1 -1.8l2 -1.2M858.8 363.7l2.2 -1.2l3.1 -0.6l3.8 -0.7M853.7 366.4l2 -2.1l3.7 -1.3l2.8 2M884.1 453.4l2.5 2.2l1.8 1.8l1.6 1.7l2.4 2.5M892.4 461.6l3 2.5l3 1.8M877 450.6l3.5 1.7l3.6 1.1l2.7 0.4l3.7 1.5M890.5 455.3l3.9 -0.2l3.5 0.6l2.1 0.6l3 0.3M903 456.6l3 0.7l2.4 -0.6l3.6 0.2l3.7 -1.3M908.1 450.3l2.2 -1.2l3 -1.5l3.1 -2.2M862 449.8l2.8 -0.2l3 0l3.6 1.3l2.6 0.4M874 451.3l3 -0.7l3.8 -0.1l2.5 -0.5l3.4 0.1M886.7 450.1l3.4 0.5l3 0.9l3.9 -0.3l4 -0.2M901 451l3.2 -0.8l3.9 0.1l2.5 0.4l3.4 0.7M863.4 380.6l2.2 0.1M869.5 390.6l2.3 1M876 395.9l3.9 -0.7M875.7 398.8l2.7 -0.9l2.1 -1l3.7 -1.3l2.7 -1.2M886.9 394.4l3.4 -2l3.2 -1l2.1 -1.1l3.6 -1.7M899.2 388.6l2.2 -2M878.9 397.5l2.7 0.1l4 0.2l2.3 0.6M897.4 428.1l1.7 1.8l2.4 2.5l2.9 1.8l3.1 1.9M907.5 436.1l2.2 1.4l2.5 2.3M900.3 427.9l3.5 1l4 0.1l3.8 0.4l3.5 0.6M897.4 428.1l2.9 -0.2l3.3 -0.3l2.3 -0.9l3.3 -0.1M909.2 426.6l3.6 0.2l2.2 0M869.7 367.5l2.6 2.6l1.6 1.7l1.9 2l2.8 1.3M858.1 363.8l3.8 -0.1l1.9 1.5l2.6 1l3.3 1.3M869.7 367.5l2.5 0.5l4 0l2.3 0.5l3.5 -0.6M894.5 352.6l3.1 0.3l3.7 -0.2l2.3 -2.5l1.9 -2M872.1 355.5l2.1 -2.3l3.8 -1l3.7 -0.8l2.9 -0.5M884.6 350.9l2.5 -0.2l2.8 -0.2l2.3 1l2.3 1.1M855.8 366.2l2.3 -2.4l2.7 -2.6l2.9 -1.5l2.8 -0.7M866.5 359l2.9 -2l2.7 -1.5l3.5 -1.4l2 -1M877.6 353.1l3.3 -0.6M881.9 404.8l2.4 -2.6l2.6 -1.6l3.3 0.4M885.5 394.1l2.8 -0.9l1.7 -1.8M865.3 384.7l3.3 -0.1l2.5 0.6M868.1 387.4l3.4 0.9M891.3 461.3l3.4 0.9l3.4 0.2l3.3 -0.1M895.9 420.3l2.9 0.1M886 406.8l2.8 1.4l2.9 1.7M908.6 426.6l2.7 0.7l2.8 1.2M903.2 443.7l2.7 0.7l3 0.5l2.6 1.3M886.4 420l3.3 -1.4l3.1 1l3.4 1.4M893.9 420.2l3.2 1M895.9 421.2l3.5 1.1M908.2 442.3l3.4 -1.5l2.2 -1.5M886.4 447.4l2.8 -0.5l3.7 -0.1M898.1 430.2l3.2 -1.3l2.7 -1.1l2.8 -0.9M907.9 437.1l2.6 0.3M906.5 435.7l2.2 -1.1l3.2 -0.6l2.6 -0.8M879.3 404.3l2.8 -1.8l3.6 -0.3M900.9 419.4l3 0.2l3.2 0.6l2.9 -0.3M878.1 396.6l3.1 -1.7l2.8 -1.9l2.6 -0.9M892.1 451.1l2.3 2.5l3 1.9M875.1 399.1l3.3 -0.7M884.3 411.3l2 -1.7M897.7 426.2l3.1 0.7l2.5 0.2l3 0.5M856.5 453.8l2.8 0.9l3.5 1.1l2.4 -0.2M889.5 446.4l3 1l2.4 0.6l3.1 1.6M888.3 437l2.8 0.7l3.1 0.5l2.7 -0.2M883.2 448.6l2.2 0.9l2.2 1M884.1 436.9l3.1 0.1l2.9 1.5l1.9 1.5M908.7 439.5l3.3 1.2M897.4 451.5l2.8 0l3 0.2M869.5 389.2l2.9 -0.1l3 -0.6l3.8 0M870.5 452.8l2.4 2.5l2.7 1M866.9 449.7l2.1 1.5l1.6 1.6l2.2 2.3M887.6 444.1l2.4 2.5l2.5 1l2.7 0.5M868.9 376.3l3.3 1.5M902.1 429.2l3.4 -2l2.1 -0.7M849.6 359.1l3.4 -1.6l3.1 -1.2l2.8 -0.3M892.1 419.9l2.4 -1.4M894.5 430.9l2.9 -0.5l2.8 0.6l3 0.6M891.6 447.1l2.5 -0.3l2.8 -1.3M892.1 432.8l3.8 1.2M890.8 434.4l3.1 -1.3l3.2 -0.3M868.3 445.9l2.4 0.6M882.3 454.7l3.9 0.9M904.4 445.2l2.7 0.7l3.2 0.2l2.6 -0.6M873.7 391.9l2.3 -1.8l2.8 -1.6l2 -1.9M891.9 414.4l3.7 1.5M901.1 435.2l3.5 -0.6l3.1 -0.6l3.7 -0.7M886 414.6l3.8 0l2.8 0.6M873.4 397.1l3.8 -0.7l3.2 0.5l3.6 0.6M901.3 443.1l2.4 1.1M867.1 385.6l2.3 -1.6M905.6 444.5l2.9 0.4l3 1.5l3.1 1.9M862.3 448.3l3.3 -0.2l3.6 -0.9l3 -1M895.2 461l3 1.7l2.9 0.9l3.2 0.3M875.8 396.7l1.7 -1.8l1.9 -1.2M910.5 445.5l3.8 0.8M859.5 455.3l2.4 0.4l3.4 -0.6l3.2 -0.5M844.9 357.3l2.3 -0.2l2.1 -0.5l3.6 -1M894.5 419.2l2.7 0l3.1 1M887.7 450.7l1.6 1.5l2.2 2.1l2.1 2.3M864.7 386.6l3.2 0.2l2.9 1.8M896.1 409.6l3.9 -0.7l2.6 -0.3l2.6 0.3M910.2 429.8l3.1 -0.9l3.8 -1M878.5 399.5l3.6 -0.9M899 415.1l2.7 0.6l2.2 0.5l2.7 0.5M855.5 366.1l3.2 -2M898.6 437l3.6 -0.7l2.2 0.3l3.1 -0.2M889 406.6l2.6 1l3.9 0.4M848.8 358.9l3.1 -2l3.7 -1.5M895.8 437.3l2.6 0.1l2.7 0M899.7 430.6l3.6 -0.9M863.8 373l2.1 -2.3M874.6 440.7l3.2 0.6l3.3 0.6l3.9 0.9M864.2 462.2l1.6 1.7l2.1 2.2M885.6 405.6l2.1 -1.6l1.7 -1.8l3.3 -2.1M877.1 453.8l2.4 -2.6M854.1 362.7l3.5 0.8l3.2 1.8l2.3 2.4M895.5 407.9l2.3 1.2l1.9 2.1l2.2 2.2" fill="none" stroke="#e8e832" stroke-width="0.7" opacity="0.1"/>
<path d="M832.1 361.8l3.2 1.5l2.7 1.2l3.6 1l3.5 1.1M832.1 361.8l3.8 0.2l3.8 0.5l3.8 0l3.6 1.5M842.6 366.2l3.1 1.7M825 461l1.9 2l2 0.7M822.9 459.2l2.1 1.8l2.2 1.3l3 0l2.2 0.6M832.4 462.9l2.5 0.5M849.6 447l2.1 2.3l3.6 1.2l2.9 2.5l3.2 1.3M845.2 442.5l2.1 2.2l2.3 2.3l1.8 2l1.7 1.8M842.8 439.9l2.4 2.6l1.7 1.7l2.6 1.6l2.4 1.6M851.9 447.4l2.5 1.7l2.5 1.7l2.6 2.8l2.4 1.6M854.8 388.9l1.5 -1.6l2.9 -1.8l2.5 -1.4l2.7 -0.4M840.5 377.4l3.9 0l3.1 0.5l3.4 0.7M845.8 447.2l1.7 1.8l2.9 1l2.6 2l2.7 2.7M843.6 446.7l2.2 0.5l3 0.4l3 1.9l3.6 0.9M855.4 450.4l3.4 0.8M863.1 430.4l2.8 0.6l2.3 -0.1l2.5 -0.6l3.5 -0.3M874.2 430l2.4 0.2M857.5 427.2l2.3 1.5l3.3 1.7M864.7 402.9l2.5 -1.6M867.2 412l2.4 0.9l2.9 0M859 411.3l3.6 1.2l3.2 1.4l3.3 1l2.7 -0.3M871.8 414.6l2.5 -0.5l3.4 -1.1M866.4 415.6l2.2 0.9l2.3 -0.1l2.7 0.4l3.5 -1.9M877.1 414.9l3.1 -0.8l3.1 -1.5M872.2 407.3l3.3 0.4l2.4 0.4l3 1.9l2.2 1.3M883.1 411.3l2.2 0.7M865.7 410.7l3 -1.9l3.5 -1.5l2.1 -1.3l3.1 -0.6M862.1 410.7l3.6 0l3.5 -0.1l2.8 -0.1l3.7 1.1M875.7 411.6l2.4 0.5M861.6 398.5l3.4 0l3 -0.7l3.1 -0.4l2.3 -0.3M866.6 436.6l2.5 -1.6l2.2 -1.6l2.6 -1.3l3.5 0M877.4 432.1l3.4 -0.5l2.6 -0.3M861.9 437.1l2.5 0.1l2.2 -0.6l3.7 -0.1l3.5 -0.2M873.8 436.3l3.1 -0.3l2.8 0.1l3.6 -0.9l2.6 0M885.9 435.2l2.2 -0.2l3.5 -1.4l3 -1.3l2.8 -2.1M870.3 438.4l3.5 1.1l3 1.1l3.2 1l2.5 0.8M885.9 429.8l2.1 -2.2l2.7 -2.8l2.4 -1.7l3.2 -2M849.2 429.3l2.6 2.4l2.1 2.1l2.9 1.1l2.4 0.8M859.2 435.7l2.7 1.4l3.2 0.4l2.9 0.9l2.3 0M870.3 438.4l3.9 0l2.1 -1l2.2 -1l2.2 -1.3M880.7 435.1l2.7 -2.8l2.5 -2.5l2.6 -1.4l2.8 -0.8M832.5 362.1l2.2 0.9l2.4 0.9l2.7 0.6l3.1 -0.4M836.8 368.3l2.5 -0.2l2.8 -0.1l2.4 -0.1l2.4 0.5M842.8 457.9l1.6 1.7l2.6 2.7M834.7 451l3 2.1l2.6 2.8l2.5 2M878 422l3 -1l2.4 -0.8l3.1 -1l3.5 -1.1M871.4 415.9l2.1 2.2l1.5 1.6l3 2.3l3.2 0.5M881.2 422.5l3.9 0.5l3.4 -0.2l3 -0.5l2.8 -0.5M863.5 415l3.5 0.5l2.1 0.4l2.3 0l3.3 -0.2M874.7 415.7l3 0.9l3.3 1.2l2 1.1l3.3 1.5M853.6 441.5l2.2 2.3l2.3 2.4l2 2.1l2.5 2.6M856.6 442.5l3.2 -1.8l2.5 -1l3.8 -0.4l3.1 0.3M869.2 439.6l3.6 -1M847.7 436.5l2.1 1.7l1.6 1.6l2.2 1.7l3 1M856.6 442.5l2.4 -0.1l2.2 2l2.3 2.4M874.2 438l3.5 -0.9l2.8 0.4l2.4 0.5l3.6 0.3M856.1 429.3l2.3 1.3l3.1 1.5l2.5 0.6l3 1M867 433.7l3.3 1.6l1.8 1.5l2.1 1.2M842.2 370l3 0.6l2.8 0.6l3 0.1l3 1.5M854 372.8l3 0.6M856.3 384.5l3.2 -1.3l3.3 -1.3l2.6 -0.9l2.1 -1M856.3 384.5l2.9 -0.8l2.5 -2l2.2 -2.3l2 -2.1M847.8 382l3.2 1.2l3 1.5M845.1 379.1l2.7 2.9l2.1 2.1l2.8 0.6l2.9 0.6M855.6 385.3l2.5 0.9M849 379.6l2.9 1.3l3.1 0.2l2.3 0.1l2.4 0.9M859.7 382.1l2.5 1.4M851.9 379.5l2.4 0.4l3.8 0.6l3.2 0.5M830.4 353.2l3.6 -1.3l2.9 -0.3l3.7 -0.1l3.1 0.6M852.2 379.8l2.1 -1.3l2.4 -1.2l2.4 -1M853.6 382.4l2.2 -2.3l2.1 -1.5M846 444.2l3.9 0.7l3.9 0.4M841.8 441.6l3.1 -1.4l3.6 -1.7l3 -1.4l3.9 -1M855.4 436.1l3.3 -0.7M841.8 441.6l3.1 1l2.1 0.9M861.9 436.3l2.1 1.2l3 0.8l3.2 0.7M851.5 431l3.7 0.6l2.2 1l2.8 2.1l1.7 1.6M861.9 436.3l3.5 1.5l3.9 0.3M850.2 392.3l3.8 0.6l2.7 -0.9l2.3 -0.2l2.5 0M861.5 391.8l3 -0.9l3 0M854.8 396.5l2.6 2.1l3.1 2.2l2.4 1l3.4 1M838.7 374.5l2.3 -2.4l1.6 -1.7l3.2 -1.4M848.1 373.3l2.9 -1.2l3.8 -0.4M856.2 387.3l3.2 -0.5l3.2 -2.2l2.3 -1.3M845.3 381.5l2.5 0.8l2 1.9l3.4 1.1l3 2M856.2 387.3l3.4 1.3l3.4 1.5M850.6 383.2l3 1.2l2.7 1.7l3 2.6l2.6 2M861.9 390.7l3 1.4M829.7 355.8l2.9 0.3l2.2 -0.4l2 -1.4l2.7 -1M851.8 440.3l2.1 0.8M872.8 417.8l2.9 0l3.3 1M858.4 425.9l2.9 -1.8l1.6 -1.5l3.2 -1.7l3.6 -1.6M869.7 419.3l3.1 -1.5M831.6 359l3.5 1.4l2.2 1.6l2.6 1.4l1.8 1.4M846 382.8l2.4 0.2l2.3 -0.2l3 -0.2l2.3 0.7M856 383.3l3.4 0.6M854.8 383.3l2.2 2.4l2 2l2.2 1.9M844.3 382l3.5 1.4l3.8 -0.1l3.2 0l3.8 0.3M858.6 383.6l3 0.7l2.6 0.4l3.2 0.6M851.7 380.3l2.7 -1.8l3.1 -2.1l2.6 -0.3l2.8 0.4M846.7 382.1l3 1.3l1.8 1.7l3.5 1.7M832.5 347.4l2.6 -0.5l3.4 -1l2.9 -2.5M832.3 448.4l3.5 -0.5l3 -0.3l3.7 -0.3l3.7 0.6M837.5 446.2l2.4 0.1l2.8 -0.3l2.6 -0.5l2.9 -1.9M840.1 446l3.1 -1l2.2 -0.2l2.7 -0.2l3 -0.1M842.3 373.9l2.9 -1.9l3.1 -1.1l2.9 -1.9l2.5 -2.6M840.8 438.8l1.8 1.6l2.2 2.3l1.8 2l2.1 2.1M848.7 446.8l2.5 1.7l3.2 0.9l3.8 -0.1l3.8 0.5M853.3 426.8l3.4 1.9l3.7 1l2.7 1.2l2.6 0.2M865.7 431.1l3.8 0.9l2.2 1.4M832.1 352.9l2.4 2.5l2.1 2.3l1.8 1.9M835.4 354.3l3.9 0.6l3.6 1.5l2.3 0M835.4 354.3l2.4 0.8l2.2 0.8l1.9 1.8M851.5 380.4l3.9 -0.2l2.4 -0.1l2.7 0.3l2.9 0.2M847.3 387l3 1.8l3.3 1.7l2.4 -0.1l2.4 -0.2M850.7 387.5l2.7 0l3 1l3.3 0.9l3.1 0.7M856.7 388.9l3.5 0.6l2.7 0.8l3.7 0.3l2.9 0M864 395.5l2.1 -1.5l3.9 -0.8l3.7 -0.2l3.6 -0.1M852.3 389.8l2.6 1.5l3.2 2.1l2.8 2l3.1 0.1M864 395.5l3.4 0.9l2.7 0.1l3.1 -0.7l2.8 0.1M857.1 392.1l1.9 1.2l2.4 1.4l2.1 1.3l2.9 2.1M866.4 398.1l2.4 0.7l3 -0.1l3.9 0.1l3.2 -1.3M855.8 426.1l2.8 1.3l2.6 2.8M857.6 412.2l2.9 -0.9l3.5 -1.6l3.4 -0.4l3.8 -0.6M862.4 423.9l2.2 1.5l2.2 0.5l3.2 0.3l2.5 -0.2M856.8 425l2.9 1.5l3.1 2l3.2 2l2.3 1.7M868.3 432.2l3.4 1.8l3.1 1l3 1.3l3.2 1.5M884.9 432l3.5 -1.1l3.8 -1.2l2.1 -1l3.1 -0.6M858.4 430.8l2.1 1.4l2.4 0.4l2.7 0l3.7 1.2M869.3 433.8l3.7 -0.3l2.9 -1.1l2.7 -0.3l3.2 0M881.8 432.1l3.1 -0.1l3.4 0l2.3 0.2l2.6 -0.3M844.7 370l3.1 -0.4l3 -0.9l2.3 -0.9l2.7 -1.6M834.4 351l3 0.1M873.9 426.5l2.8 -1.5l2.7 0.4l3.3 0.9M842.3 440.6l3.5 1.9l1.8 1.9l3 1.7M851 449.9l1.8 1.9M880.2 438.6l2.3 -1.5l3.6 -0.6M868.8 431.8l3.7 1.1l3.3 1.6l3 1.1M857.5 407.1l3.6 0.7l2.4 0.4l3.5 1.7M864.2 419.8l2.4 -0.7M865.2 398.6l3.3 -0.2l3.9 0.1M828 353.6l3.2 1.6l2.9 1.9l1.9 1.4M856.2 431.3l2.7 -0.8l2.9 -0.9l3.6 -1.2M847.1 435l2.8 2.5l2.6 2.7l2.9 2.7M879.1 427.3l2.3 1.3M848.4 444.9l3.5 -0.3M844.8 376.4l2.5 -2l2.6 -2l2.1 -1.9M886.8 424.4l3.5 -0.3l3.6 -1.6M873.9 406.4l2 -2.1M861.4 420.5l2.1 -0.7M874.7 432.5l2.9 0.3l3.2 1.5M876.7 416.7l3.5 0M881.3 421l3.2 0.7l2.8 -0.8M854.8 393l2.7 -0.3M878.5 437.2l2.4 2.2M862.3 422.9l2.1 -0.9l2.8 -1l3.3 -1.5M866.7 438.6l2.2 0.5l3 2.2l3 1M870.8 425.9l3.2 0.8l3.8 1.1l2.2 0.8M836.2 454.1l3.1 -0.2l2.7 -0.3l2 1M853.8 382.7l3.2 -1.5l2.7 -2.5l2.3 -1M856.4 448.8l2 -0.9l3.7 -0.3l3.4 -1.3M860.7 430.8l2.3 2.4l3.2 1.5l3.3 2.2M853.8 432.4l2.8 -0.2l3.3 -0.7M853.9 436.2l2.6 0.7l2.9 1.3M871.3 432.7l3.2 2.3l2.8 2.4M839 358.7l2.8 0.9M851.6 438.7l2.6 -0.1M879.7 425.8l2.2 -1.2l2.5 -2M865.7 430.1l2.7 1.9l2.7 1M871.5 416.9l2.2 -2.2M862 422.5l3.1 1l1.5 1.6M834.2 362.8l2.8 -1.4M859.2 433.4l2.7 0.1l2.5 0.2M864.7 432.1l1.5 1.6M831.3 451.5l3.9 0.3l3.6 0.9M843.2 377.2l1.9 -2l2.7 -2.8l2.5 -2.6M841.2 452.6l2.4 0.6M862.4 408.8l1.6 -1.7l3.3 -2.2M853.9 378.7l2.1 -2.2M883.5 433l2.9 -1l2.6 -1.8l1.8 -1.8M871.7 411.3l2.9 -0.5l3.4 0l2.5 -0.6M857.3 409.2l2.3 -0.7l4 -0.4l3.6 0.7M842.9 454.7l3.7 0.8l3.4 1M858.1 431.8l3.4 0.9M873.1 430.5l2.3 0.5M880.6 424.3l2.3 -1.7M846.3 441.4l2.1 2.1l2 1.3M855.4 443.9l3.8 -0.9l3.6 -0.3M836.9 445.8l2.5 -0.3l3.3 -0.7l2.9 -0.2M841.4 364.6l2.1 1.1l1.9 1.1l3.2 1.9M825.9 347.8l2.3 -2.5M869.3 417.4l1.7 1.9l2.6 1.2M878.8 418.3l2.4 -2.5l2.8 -1.6l2 -1.1M836.6 455.7l2.2 2l3.7 0.9M848.9 378.7l2.8 0.2l3.9 -0.8l2.6 -0.2M859.5 399.3l2.8 -1.3l2.2 -0.9l2.6 -1.5M861.2 433l2.4 1.3l2.6 1.3M838.2 361.3l1.5 -1.7l1.8 -1.8M855.1 445.4l3.2 2.3M871.1 435.4l3.2 0.4M861.7 395.4l3.4 1.9l2.2 2.4l2.1 1.6M863.4 397.1l2.5 -1.6l2.7 -2.7M886.3 419.9l2.5 -0.9l2.7 -1.4M863.8 430.9l2.5 0.3l2.5 0M877.6 434.8l3.4 0.1M841.3 443.1l3.3 -1.1l3.6 0.8M834.5 457.9l1.6 1.7M878.1 423.5l2.2 1.1l2.5 0.7M863.7 440.5l2.9 1.2l2.4 0.8l3.2 1.4M840 458.9l3.7 -0.1l2.1 0.6M884.7 426.6l3.2 -0.7l3.2 -0.9M853.2 386.6l3.5 -1.9M839.3 372.7l1.9 -2l2.6 -2.8M858.3 449.2l2.7 -2.7M863.1 425.7l3.6 -1.5l2.7 -1.4M851.9 443.2l3.4 0.5l2.3 -0.2M876 419.2l2.7 -0.4l3.1 -0.4l3.8 -1.1M859.8 385.2l2.9 0.7l2.5 -0.8M850 385.2l2.5 -1.4M874.7 408.8l3.4 -1.8M849.8 434.9l3.9 1.1l2.8 -0.6l2.4 -0.5M846.6 376.2l3.1 -2.1l3.3 -2.1M883.7 416.6l2.5 0.4M846.5 446.4l3.4 0.3l2.7 -0.4M855.4 438.2l2.8 -0.7l2.8 -1.3M885.7 424.4l3.7 -1.1M874.9 425.3l2.2 -1.1M859.4 432.6l3.6 -0.5l2.4 -0.3M840.6 453.7l2 1l2.5 2.6M870.1 432.6l2.6 0.7M874.5 413.5l3.1 -1.2M875.5 405.9l3.4 -0.6l2.7 1.1l2 2M868.4 399.4l2.6 -2.7l2.5 -2.2M864.1 410.4l2.8 1.6l2 2.1M875 440.6l4 -0.4M877.7 418.2l2.4 -0.1l2.5 -0.2M847.7 371.1l2.8 -1.1l3 -1.9M862.2 423.9l2.2 0M854 441.4l2.2 2.3l3.3 0.9l2.2 1.4M880.9 429.7l1.7 1.8M874.5 422.1l2.8 -0.2l4 -0.1l3 0.2M865.3 416.6l2.5 -1.6M856 433.8l1.8 1.9l2.2 2.3l2.3 2.5M867.2 420.2l1.9 1.9M846.4 361.7l2.8 -2.9M859.4 391.5l1.8 -1.6l2.4 -1.6M857.2 428.2l3 -1.4M852.9 380.8l3.5 -1.7l3.2 -0.9M832 348.9l3.6 -0.2l3.3 -1.3l2.5 -1.6M841.8 364.6l2.1 -1.5l3.4 -1.4l2.9 -0.3M861.6 391.4l2.7 -2.8l2.3 -2.5l2.9 -1.1M847.3 380.2l3.3 -1.4M885.3 434.3l2.7 0.1l2.6 0.5M862.1 426.3l3.3 -1l2.3 0l3.3 1M857.8 440.3l2.2 -0.8l2.6 -0.6l2.6 -1.1M843.5 370.2l2.9 -1.7M874.3 409.4l3.2 0.9l2.2 1.4M850.6 437.4l2.1 2.2M867.4 422.8l3.3 0.6l2.8 0.4M877.2 414.3l1.9 -2l1.7 -1.7M864.9 409.6l1.7 1.7l2.2 2.4l3.1 2.2M860.2 402.7l1.9 -1.4M854.8 433.1l2.5 -0.5l2.7 -0.4M860.8 398.2l2.3 -1.2l2.4 -1.3l2.6 -0.5M848.1 451.5l1.7 1.5M862.4 417.6l2.7 1.9l2.5 2.2l3.6 0.4M880.5 432.2l2.4 0.2l2.3 0.1M872.4 428.1l2.2 1l2.4 1.2l3.1 -0.4M877.1 409.7l2 -1l2.4 -1M867.9 423.9l3.5 0.5l2.5 -0.2M863.7 437.1l3.3 -0.9M856 435.1l2.8 -1.2l3.2 -1.6l2.4 -1M884.9 437.5l2.6 -1.6M851.8 390.4l1.7 -1.8l2.5 -1.8l2.6 -0.7M883.8 432.1l1.8 1.9l2.5 1.7l3 1.7M830.3 356.2l2.7 -0.4l2.9 -0.3M851.5 443.9l3 0.8l2.5 1.5M871.4 418.4l2.9 -1.4l2.2 -1.3M858.5 419l3.6 -0.3l2.8 -0.3l2.9 -0.7M839.9 453.4l2.7 2.8l2.1 2.2M871.6 405l2.9 0.3l3.4 -2.1M866.9 420.2l2.1 0.8M862.5 387.1l3 -1.5M856.6 424.8l2.1 1.6l3.3 1.9M859.1 406.3l3.3 0.1l3.3 -0.6M845.7 449.1l2.2 1.3l2 2M856.2 385.7l3.2 -0.5M824.3 462.2l2.3 -1.1l2.7 -1.7l1.9 -1.3M876.5 408l3.3 -0.9M873.9 423l2.2 -0.2l2.3 -0.5" fill="none" stroke="#e8e832" stroke-width="0.7" opacity="0.2"/>
<path d="M818.9 364.5l3.2 -1.5l3.4 -1l3.7 -0.1l2.9 -0.1M829.9 363.4l3 -0.6l3.7 0.9l3 0.7l3 1.8M831 431.8l3.2 2.2l3.2 1l3 2.4l2.4 2.5M846.6 397.5l1.6 -1.7l2.5 -2.6l2.5 -2.7l1.6 -1.6M828.2 376.1l3.9 0.1l3.7 1.1l2.4 0.3l2.3 -0.2M822.4 360.1l3.8 -0.4l2.9 -0.7l3 0M830.7 367.5l3.5 -0.1l2.6 -0.5l3.3 -0.9l2 -1.3M833.6 440.6l2 2.1l3.2 2l2.4 1.5l2.4 0.5M845.5 422l3.3 1.5l2.6 1.3l3.4 1.9l2.7 0.5M853.3 409l3.8 -1l3.5 -1.9l2.2 -1.6l1.9 -1.6M843.3 411.4l3 -2.2l3.9 -0.7l3.1 0.5l2.9 1.4M856.2 410.4l3.3 1.2l2.3 -0.5l2.3 0l3.1 0.9M846.4 410.3l2.9 0.7l2.3 0.5l3.6 0l3.8 -0.2M856.8 410l1.9 1.8l2.5 2.7l3 0.5l2.2 0.6M840.6 412.6l2.7 -1.2l3.1 -1.1l2.4 0.2l2.5 -0.5M851.3 410l2.8 0.1l2.7 -0.1l2.6 1l2.7 -0.3M848.9 399.5l2.8 0l3.1 -0.1l2.9 -0.3l3.9 -0.6M837.8 423.6l2.6 0.6l3.6 1l2.6 1.8l2.6 2.3M830.6 438.1l2.3 0.7l2.6 0.8l2.5 -0.1l3 0.3M841 439.8l2.4 0.7l3.9 1M833 370l2.3 -1.1l2 -1.3M830.3 367.5l2.7 2.5l3.2 1.9l2.7 1l3.1 1.5M823.8 365.3l3.7 1.1l2.8 1.1l2.9 1.1l3.6 -0.3M845.1 437.4l1.9 1.8l2.5 1M839 435.2l3.1 1.3l3 0.9l3.1 1.4l3.6 1.7M842.3 436.5l3.3 -0.5l2.8 -1l3.4 0.5l3 0.2M833.5 433.2l2.9 0.8l2.6 1.2l3.3 1.3l3.5 1.5M845.8 438l2.4 1.9M841.2 405l2.6 -0.4l2.3 0.2l3.2 1.3l2.6 1.8M851.9 407.9l1.8 1.9l3 2.2l3.2 2.2l3.6 0.8M838.6 430.2l1.7 1.7l2.5 1.7l3.1 1.5l1.8 1.4M845 423.3l3.5 1.8l2.5 1.1l2.6 1.1l2.5 2M848.5 403.5l2.8 1.4l3.7 0.6M845.7 405.2l2.8 -1.7l2.3 -2.4l2.7 -2.1M841 403.6l2.2 0.8l2.5 0.8l1.8 1.4M830 368.2l3.7 0.7l3 0.1l3.2 0.7l2.3 0.3M847.1 400.7l3.3 0.4l3.7 -0.1l3.6 1.6l3.1 2.3M843.3 401.4l3.5 0.3l3.9 0.8l3.3 1.4l1.5 1.6M855.5 405.5l2.4 1.6l2.8 1.3l3.6 1.3M832.6 387.3l2.3 -0.6l3.3 -0.4l2.8 -0.2l2.9 0.2M843.9 386.3l2.5 -0.6l3.6 0.1l3.9 0.1l2.4 -1.4M833.4 442.8l1.9 1.2l3.3 1.5M831.1 442.2l2.3 0.6l3.2 1.3M832.9 374.9l1.9 1.6l2.7 0.5l2.1 1l2.5 1M842.1 379l2.8 2M825.8 374.2l4 0.3l3.1 0.4l2.2 0.8l3 1.5M838.1 377.2l3.2 1l3.8 0.9l3.9 0.5l2.9 -0.1M846 390.9l3.4 -0.1M839 396.7l2.8 2.5l2.7 2l3.9 0.8M839 396.7l2.4 0.6l3.5 1.7l3.3 1.9M842.1 389.1l2 -2l2.9 -2.6l3.1 -2.5l2.1 -2.2M842.1 389.1l3.1 -2l3.2 -2.1l2.2 -1.4l3 -1.2M835.5 436.8l2.2 2.3l3 1.9l3.3 2l2 1.2M830.3 440.6l2.3 0.5l3.3 -0.4l2.4 0.1l3.5 0.8M842.4 407.5l1.8 1.9l2.7 2M839.8 405.2l2.9 -1.6l3.7 0.1l3.2 0.5M841.8 404.7l2.4 2.5l3 1.4l2.2 1.9M845.4 405.2l3.8 -1l3.6 -1.1l3.1 -1M841.8 404.7l3.6 0.5l4 -0.2l2.4 -0.1M837.2 392.4l3.8 -0.8l3.6 -0.1l2.5 0.7l3.1 0.1M840.8 399.2l2.4 -0.4l3.1 -0.3l2.3 -1.2l4 -0.3M852.6 397l2.2 -0.5M832.4 367.9l2.5 -0.2l2 -1.1l3.3 -1.8l2.6 -1.3M835.1 374l3.6 0.5l2.8 -0.7l2.8 -0.5l3.8 0M830 371.2l2.6 1.5l2.5 1.3l2.4 1.1l3 1.6M840.5 376.7l2.2 2.3l2.6 2.5l2.8 1l2.5 0.7M841 432.7l2.1 2.1l2.7 2.2l2.8 1.3l3.2 2M830.8 435.5l3.5 -1l3.3 -1l3.4 -0.8l2.8 -1.3M843.8 431.4l3.2 -2l3.1 -1.3l2.3 0l3.3 -0.9M855.7 427.2l2.7 -1.3l3.6 -0.8M833.9 430.5l4 0.5l2.6 -0.2l3.2 -0.6M843.3 388.6l2.3 2.4l2.4 2.3l2.1 2.2M841.4 387.1l1.9 1.5l2 2.1l2 2.1l3 1.8M850.3 394.6l2.6 0.8l3.7 0.9l2.3 0.1M827.8 454.4l2.5 0.1l2.7 -1.1l2.6 -1.1M838 382.6l3.6 -0.3l2.7 -0.3l3.6 -0.8l3.8 -0.9M831.4 383.2l3.4 0.1l2.4 0l2.2 0l2.2 -0.5M841.6 382.8l2.2 -0.4l2.9 -0.3l3.7 -0.6M841.3 422.3l3.7 0.9l3 0.2M835 423.8l2.2 2.3l2.1 2.1l2.4 2.6l2.3 2.5M829.8 363.1l2.5 0.3l3.1 1.5M824.1 365.6l2.7 -1.1l3 -1.4M835.8 447.9l3.3 -1.2l3.2 -0.3M830.3 449.5l2 -1.1l2.3 -1.3l2.9 -0.9l2.6 -0.2M828.7 442.6l2.7 2.6l2.2 2.2l2.8 1.5M817.3 347.4l3.2 -1.1l3.5 -1.6M832.1 382.6l2.5 -1.7l2.7 -1.7l2.2 -2.4l2.8 -2.9M852.3 403.7l2.9 1.5l1.9 1.4l1.9 2.1M849.1 405l3.2 -1.3l2.6 0M844.1 425.8l3.3 0.2M839.1 429.2l3 -1.3l2.2 -1.8l2.4 -1.5M843.6 423.3l3.6 1.5l2.4 0.8M837.3 418.8l2.4 2.5l1.6 1.7l2.3 0.3l2.8 -0.2M846.4 423.1l2.7 0.5M840 420.2l3.3 1.2l3.2 -0.2l2.4 -0.3M847.3 417.2l2.4 1.4l3.2 0.5l2.3 0.6l2.7 1.2M857.9 420.9l3.2 2.1M844.4 417.8l2.7 2.8l1.6 1.7l2 2.1l2.6 2.4M821.8 352.6l2.6 -0.1l3.9 0.5l3.8 -0.1l3.3 1.4M838.7 384.8l3.6 -1.6l2 -1.1l3.7 -0.9l3.5 -0.8M843.3 386.6l4 0.4l3.4 0.5l2.1 0.9l3.9 0.5M834 382.1l2.8 0.8l3 1.9l3.5 1.8l3.5 1.5M846.8 388.1l2.6 1l2.9 0.7l2.7 0.8l2.1 1.5M851.8 408.1l3.2 1.2l2.2 0.7M848.5 408.6l3.3 -0.5M848.9 410.4l3.4 -1l2.8 -1.8M843.7 412.8l1.7 1.8l1.6 1.6l1.9 2.1l2.1 1.3M851 419.6l3.7 1.2l3 0.9M843.7 412.8l2.2 0.3l3.4 1.9l2.4 1.4l2.2 1.7M853.9 418.1l2.9 2l1.8 1.7l2.4 0.5l3.7 0.5M844.9 418.3l1.9 -1.2l2.9 -1.8l3.4 -0.7l2.6 -1.3M855.7 413.3l3.2 -0.9l2.4 -1.1M847.7 419l2.1 2.2l1.9 2l1.8 1.5l2.3 1.4M847.7 419l3.6 -0.8l1.6 -1.6l1.9 -2l2.8 -2.4M839.8 415.5l2.4 0l2.4 0.2l3.3 0.3l2.7 1M850.6 417l3.3 1.6l3.5 1.6l2.5 2.2l2.5 1.5M845.5 418.9l2.3 2.5l3.6 0.9l2.9 0.9l2.5 1.8M837.5 414.7l2.3 0.8l2.5 1.3l3.2 2.1l3.4 2M848.9 420.9l1.9 2l2.4 2.5l2.5 2.5l2.7 2.9M840.4 384.5l2.6 -1.7l2.4 -1.5M838.3 436.8l2.8 0.6l3.5 -0.1l3.9 -0.9M826.3 437.7l3.4 0.1l3 -0.2l3.1 -0.2l2.5 -0.6M838.3 436.8l2.3 -0.7l2.7 -1.7l2.4 -0.9M835 426.4l1.6 1.7l2.4 2l2.7 1M833.1 373.6l2.3 0.3l3.1 -0.8l3.4 -1.8l2.8 -1.3M851.4 406.7l2.7 -1.8M837.5 387.2l2.2 -2.3l2.3 -2.4M837.5 430.7l2.2 0.6l3.1 -0.3M847.6 404.8l3.9 0.4l3.8 0.8M841.9 400l2.8 0.7l2.8 0.7l3.5 1.7M851.8 398.2l2.3 0.2l2.3 0.1l2.8 0M833.2 366.5l2.7 -0.2M836.7 430l1.8 1.8l2.3 2.5l2.2 2.2M854.8 404.1l3.6 0.2l2.3 0.2l3.7 -0.6M843.2 436.9l2.3 1.3l2.7 -0.1l4 -0.2M843 433.5l2.3 -1.1M844.6 403.3l2.3 2.5M818.3 346.5l3.8 -0.3l3.2 -0.5l3.2 0M856.8 412.7l2.5 0.3l3.4 0.5M822.4 447.6l3.4 -0.2M851.7 398.1l3.3 0M834.5 439.9l2.7 -0.7l3.7 -0.5M830.6 374.3l3 -0.3M837.3 430.2l2.7 -1.3l3.5 -0.8l3.5 -1.1M830.3 436.2l2.5 1.6l2.9 2.6M829 374.4l3.3 0l2.7 -0.1M837.9 381l3.7 1.1l3.4 0.9M817.2 454.6l3 0.1l3.4 0M858.3 418.1l2.5 -1.2l2.2 -1.6l2.9 -0.9M851.7 409.2l2.3 0M856.1 408.9l3 1.2l2.5 -0.7M845.1 421.4l3.2 0.7l2.8 0.1l2.5 -0.5M825.8 438.7l2.3 1l2.8 1.5l2.7 1.9M854.8 420.6l2.8 -2.4M826.8 447.3l3.8 -1.1l2.8 -1.6M822.7 358.1l2.3 -2.4l1.7 -1.8l2.2 -2.3M835.9 375.5l2.4 -2.5l3 -2.1M831.2 442.8l2.2 0.2l2.3 -0.5l3.9 -0.4M834.4 429.4l2.9 0.6l2.5 0.1l3.3 1.2M850.4 399.2l3 2.5M851.9 395.4l2.8 -1.4M843.3 388.4l3.4 -0.9l2.8 -0.5l2.6 -0.1M837.7 444.3l2 -1.4M823.8 355.9l2.2 -0.8M821.2 457.4l3.2 -0.2l3.4 0.1l2.4 0.4M830.4 365.9l2.6 -1.1l1.9 -1.8M846.9 398.8l2.5 0.1l3.2 0.2M835.8 443.2l2.9 -0.3l2.1 -1.1M847.7 423.9l2.8 1.1l2.8 1.1M838.3 444.6l2.7 -0.6l2.5 0.1M843.1 401.7l2.1 -0.8l2.3 -1l3 -1.6M846.9 387.4l2.2 -0.2l3.9 0.3M848 404.7l3 1M854.8 426l2.6 -0.3M840.4 423.9l2.2 2.4l2.1 1.9M843.4 379.7l2.7 0M845.8 414.3l2.6 -1.9l2.3 -2.3M846.8 429l2.5 -0.3l3.9 -0.6M854.9 415.4l2.7 0.8l3.1 -0.4l3.8 0M850.5 398.4l3.4 -2l1.7 -1.5l3 -2.1M840.6 425.9l2.8 2.6l2.2 1.6l1.6 1.7M833.6 375.6l2.5 -2.6M856.7 412.9l3.2 0.4l3.5 -0.6M818.6 348.4l3 -1.6l3.4 -0.4l2.9 -0.2M839 424.6l2.9 1.2l2.5 1.1M838.8 429.2l2.3 0.5l2.2 1.3M826.2 369.5l2.8 -2.8M825.8 354.6l3.3 0.3l2.6 0.1l2.3 1.2M820.9 362l2.6 -1l2.7 -2.2l2.2 -2M845.6 398.1l3 -1.4M826.6 374l3.4 0.9l3 -0.7l3.5 -1.5M844.9 415l3.4 0.6M850.7 414.7l3.4 1.4l2.7 0.8M838.8 439.8l3.2 -0.1l3.1 -0.4l3.6 1.3M841.5 421.4l2.5 0.1l3.8 0.9l3.3 -0.2M844.9 435.5l3.7 0.9M836.9 387.2l2.7 1.6l3.4 2.1M833.2 368.2l1.9 -1.4l2.9 -2.4l2.4 -0.9M843.4 414.7l1.8 -1.9l2.4 -1.6l2.3 -2.4M825 363.4l3.7 -0.4l3.6 -0.7M858 415.9l2.1 -2.2M841.8 413.5l2 1.3l2 1.8l1.6 1.7M839.8 389.5l3.8 -0.9l2.2 -0.5l2.8 -1.8M844.7 397.7l3.4 1.8l3.2 2.1M854.4 417.7l2.5 2.3l3.5 1.7M853 402.3l2.2 -2.1M852.6 417.9l3.1 2.2l2.7 1.7M845 396.9l2 1.2l2.9 1.7l1.7 1.4M822.4 357.4l3.1 0.4l2.6 1l2 2.1M852.3 429.5l2.3 2.5M836.4 386l2.8 2.5l2.4 1.6M841.4 421.7l3.5 1.4l3.6 -0.1M837.7 400.3l3.7 -0.6l2.6 -1l2.1 -1M831.6 444.6l3.7 0.3l2.5 -0.1M841.4 423.1l2.1 2.2l2.3 1.5M852.4 413.6l3 0.8M818 354.3l2.8 0.3M829 365.7l3.2 0.4M824.2 353.6l3.3 1.5M852.4 406.2l2.1 -2.2l2.4 -2.4l2.9 -2.3M848.1 400.8l2.6 -2.8l2.9 -1.7M847.2 419.4l2.3 1M848.7 395.7l3.5 -1.1l2.3 0.1M834 374.3l2 -1.3l3.3 -1.2M844.9 386.2l2.2 -1.1l1.7 -1.8l2 -1.5M816.7 350.3l3.9 0.4l3.8 0.8l2.1 1.1M827.1 448.2l2.9 -2.1l2.4 -2.5M845.3 390.5l3.1 -0.4l2.8 0.4l3.4 0.4M841.8 379l3.6 0.2M844.1 413.1l4 -0.2l2.5 1M831.7 371.7l2.3 -2.4l2.7 -2.8l3.1 -1.6M830.1 377.9l3.4 -1.2l3.4 -0.9l3.3 -1.2M841.1 412.7l2.5 1l3.6 0.5l2.7 0M846.5 397.8l3.8 -1.1l3.8 -0.7M826.3 370.3l3.6 -0.7l2.8 -0.2M841.3 413.6l3.4 1.3l3.7 0.7M842.4 421.8l2.7 2.1l1.6 1.6M843.3 426.9l2.4 1.5M842 406.1l2.3 -0.5l2.8 -0.9M824 364.1l3 1.1l2.5 0.7l3.8 1M816.2 349.5l2.2 -1l3.4 -0.2M841.1 393.2l3.8 0.6l3.1 0.8l2.7 0.7M848.2 395.3l2.4 2.6M847.5 410.6l3.3 -2.3l1.7 -1.6M854.7 417.5l1.5 1.6l2.8 1.8l2.4 2.6M845.8 418.7l2.1 -1.9l2 -1.6M836.4 444.3l1.8 1.5l2 1.6M834.8 435.1l3 1.4l1.7 1.5M835.8 430.5l2.3 0.1l3.7 0M846.6 382.4l3.1 2.2M838.1 445.4l2.4 2.5M850.8 392.6l2.9 1.3l2.9 1M824.4 367.6l1.9 -1.4l2.7 -1.5M855 415.2l3.7 0.8M836.6 444.9l2.8 -0.1l3 0.1M832.5 440.4l3.5 -1l3.5 -0.7M818.5 456.8l3.7 -0.4l2.8 -0.1M835.8 445.1l2.3 1.5l2 1.3M838.7 428.9l3.2 2l2.5 1.8l2.7 1.9M840 409.9l2.5 0.1l2.8 1.3l2.9 -0.1M845.2 417.8l2.5 1.6l2.6 2.3l3 1.3M844.5 430.6l2.7 1l3.2 0.9M831.6 372.4l2.5 2.6l2.9 1.9M846.7 417.2l3.8 0.9l3.7 0.6l3.5 0.5M817.9 460.8l1.8 1.3l2.4 1.5M849.8 429.7l3.8 0.5l3 0.1M825.6 363.7l2.8 1.1l2.3 0.9M832.9 434.9l3.7 0.4l3.5 0.7M844.9 392l3.5 -1l3.3 -1.3l2.7 -1M842.8 416.4l3.3 0.8M836 370.3l3 -1.1M825.9 444l3.6 1.6l3.3 1.5l3.4 1.8M854.4 408.7l2.7 0.4l2.8 0.8M850.1 410.9l2.4 -1.4l2.5 -2.4l3 -2.1M839.1 385.3l2.7 0.5l3.5 -0.5l2.2 -0.7M838.4 421.4l3.5 -0.7l2.5 -1l3.2 -1M845.8 407.8l3.1 0.8M851.1 431.2l3.3 -0.1M833.5 369.6l2 -1.5M828.1 441.3l2.1 1.2M835.7 424l3.1 1.8l2.3 0.8l2.4 0.9M821.1 451.2l3.1 2.1l3.3 2l2.6 1.2M836.2 379.9l2.5 -2.4l3 -2.3M849.4 403.4l3.5 -1.5M847.8 426.5l3 0.8l2.5 2.3M833.1 440.4l2.9 -0.2l2.3 -0.8M844.3 400.6l3.5 -1.5l3.2 -0.3M844.8 388l2.6 -2.1l2.2 -0.6l2.2 -2.2M825.9 450.8l3.5 1.7l2.5 2.4M839.8 375.6l2 -1.6M850 407.6l2.3 -0.9l1.9 -1.8M829.3 447.8l2.9 -2.1l2.3 -0.7M826.1 357.8l2.7 1M819.5 351.7l2.8 -0.9l2.3 -0.2M837.2 429.6l1.9 1.6l2.8 2.8M833.8 441.5l2.9 0.7M838.9 439.1l2.8 2.2M839.8 385.1l2.9 0.5l3.6 1.6M825.9 446.3l2 2.1l2 1.1l2.5 1.1M846 432.9l2.6 1.5M850.7 398.3l3.7 0.2l2.8 -0.5M840.3 419.3l2.4 -0.5l2.8 -1.1l2.2 -0.7M829.6 366.9l2.7 0.4l3.4 0.7M819.4 353.4l2 1.7l1.7 1.8l2.9 1.9M836.6 372.3l2.9 0.7l2.2 0.6l3.4 0.1M819.4 353.3l3.1 1.4l2.8 0.2l3.7 1.1" fill="none" stroke="#e8e832" stroke-width="0.7" opacity="0.3"/>
<path d="M828.3 402.8l1.9 2l3 2.1M830.1 404.6l1.6 1.7l2.2 2.3M838.8 401.6l2.3 -0.9l2.4 -1.2M825.4 400.5l3.9 0l3.7 0.2l3.6 0.7l2.2 0.2M828.5 402.5l3.8 0.5l2.6 0.1l3.1 0.2l4 0.3M828.5 402.5l2 0.9l3 1.8l2.9 1.6l3.8 0.3M836.1 403.9l2.1 -0.7l2.8 -0.6l2.5 -2.7l3.1 -2.4M819.8 382l2 -1l2.8 -2l1.6 -1.7l2 -1.2M829.6 415.5l2.5 2.1M830.3 414.2l2.3 -1.9l3.6 -1.7l3.9 -0.9M837.9 414.3l1.7 1.6l1.6 1.7l1.6 1.6l2.7 2.8M829.3 415.8l3.4 0.1l3 -0.7l2.2 -0.9l2.7 -1.7M827.9 387.4l3.9 0.1l3.3 0.4l3.1 0.4M835.1 394.4l2.9 2.1l3.4 1l3.7 1.4l3.8 0.6M823.5 427.3l3 0.9l2.7 1l2.5 2.1l1.8 1.9M827.7 424.9l3.5 1.7l3 0.9l2.2 1.8l3.8 0.9M827.8 395.4l1.8 -1.9l2.5 -2.6M823 420.6l3.5 0.4l2.3 0.4l2.5 0.1l2.7 -0.2M834 421.3l2.3 0.2l3 0.4l2.5 0.5l3.2 0.9M830 406.9l3.5 -1.7l2.8 -1l2.3 -0.4l2.4 -0.2M830.1 388.5l3.9 -0.5l3.9 -0.4l2.7 1.1M819.5 361.5l1.7 1.5l3.3 2.2l1.9 1.5l3.6 1.5M825.5 399.1l2.3 0.8l2.8 0.8l2.8 -0.1l3.6 -0.5M837 400.1l2.7 -0.4l2.3 0.3l2.4 0.2l2.7 0.5M826.5 418.6l2.2 1l3.9 -0.8M822.9 417l3.6 1.6l3.2 1.2l2.7 -0.1l3.1 0.6M835.5 420.3l3.9 -0.2M837.9 403.5l3.2 1.4l2.3 1l2.5 1.1M832.8 401.8l2.5 1.4l2.6 0.3M830.4 398.7l2.8 0.2l3.1 1l3.8 1.1l3.2 0.4M834.4 390l3.1 0.2l3.2 -0.6M826.8 387.9l2.4 0.6l2 1l3.2 0.5l2.6 0.5M824.2 436l3.1 2.3l2.2 2.3l1.6 1.6M832.5 393.2l2.8 0.4l3.8 -0.7l3.4 -0.7l3.5 -1.3M828.5 397.7l2.6 0.7l2.8 -0.2l2.2 -1.2l2.9 -0.3M833.3 392.7l1.8 -1.6l2.5 -0.9l2.2 -0.5l2.3 -0.6M826.7 429.1l3.1 1.8l1.8 1.8l1.8 1.9l2.1 2.2M817.2 439.8l3.6 1.5l2.8 0l3.5 -0.1l3.2 -0.6M839.8 405.2l2.6 2.3l2.2 2.2l2.4 2.5M828.8 409.1l3 -0.8l2.7 -1.7l3.1 -1l2.2 -0.4M838.7 401.9l2 2l2.3 2.4l2 1.6M828.3 394.5l2.5 2.6l2.4 1.8l2.9 1.2l2.6 1.8M838.7 401.9l2.3 1.3l1.7 1.7l2.1 2.2M831.4 394.3l2.6 2.8l2.7 2.8l2.5 2.6l2.6 2.2M826 394.4l2.3 0.1l3.1 -0.2l3.4 -1.6l2.4 -0.3M827.8 400.2l3.3 0l3.1 0l3 -0.3l3.6 -0.7M827.6 387.3l2.2 -1.1l2.1 -1.3l2.8 -1.3l3.3 -1M830.4 418.7l3.6 1.1l2.4 0.6l2.1 0.8l2.8 1.1M824.4 415l3 1.7l2.5 2.6l2.2 2.3l2.9 2.2M832.1 409.9l3.5 0.4l3.6 0.9l2.7 1.1l3.4 0.8M826.6 424.4l3.1 1.5l2.3 1.6l3 1.2M819.3 366.2l2.5 -0.1l2.3 -0.5l4 0.2M831.1 405.5l2.8 -1.1l2.8 -1l3.3 0.3l3.8 1M816.5 436.4l2.7 1.3l3 1.1l3.6 1.1l2.9 2.7M822 387.7l3.2 -0.3l3 -2.1l1.9 -1.3l2 -1.4M834 422.5l2.6 2.8l2.7 2.9M828.1 418.1l3 2.2l2.9 2.2M825.5 417.9l2.6 0.2l3.2 -0.3l2.3 -0.2l3.9 -0.5M837.5 417.1l3.3 -1.5M835.7 397l2.5 0.3l2.6 1.1M828.1 396.8l2.9 0.3l2.3 -0.3l2.4 0.2M837.1 408.7l3.2 -0.6l2.3 -0.5l3.5 -1.6l3 -1M827.1 384.5l2.2 -1.3l2 -1.7l1.8 -1.5M829.7 417.4l2.9 0.5l3.1 0.4l3.2 0.8M833.7 422.7l3.3 0.4l2.2 0.3l2.6 1.1l2.3 1.3M826.2 426.7l3.8 1l3.3 0.7l3.3 0.9l2.5 -0.1M832.4 422.1l3.2 0.1M827 415.4l2.5 1.1l3.5 0.6l3.1 -0.8l3.6 -0.3M839.7 416l3.8 -0.6M829.3 415.6l2.3 0.1l2.4 1.2l3.3 1.9l2.7 1.4M836.2 411.3l2.1 2l3.4 1.1l2.8 1.3l2.8 1.5M833.8 409.6l2.4 1.7l2.5 2.3l3.4 1.8l2.3 2.4M822.3 421.9l2.6 2.4l1.8 1.6l2 1.8l3.2 1.8M831.9 429.5l3.2 0.1M838 406.2l3 0.3l2.3 0.6l2.8 1.3l2.4 0.2M836.7 411.5l2.6 -0.5l3 -0.2l2.9 -0.4l3.7 0M830.3 412.7l2.4 -1.3l4 0.1l3.1 0.3l3.9 1M837.5 414.7l2.1 2l2.8 1.3l2.5 0.3l2.8 0.7M823.8 411.6l3.1 0.4l3.4 0.7l3.9 0.4l3.3 1.6M827.4 398.2l3.5 -1.8l3.2 -0.7l2.9 -0.4l2.5 -0.4M827.9 386.6l3.6 -0.3l3.6 0.1l2.8 -0.3l2.5 -1.6M832.2 425.2l2.8 1.2l2.6 1.9l2.8 2.5M827.5 387.6l2.1 -1.9l2.6 -2M831.7 381.6l2.8 0.1M823.2 420.8l3.6 1.6l3.8 1.1l3.1 1.9M824.1 368.4l2.4 0.5M830 401.1l2.8 0.6l2.8 0l2.3 -0.3M832.2 410l3.6 -1.5M833.4 400.2l2.4 0.1l3.9 0.5M835.1 399.3l3.4 -2l3.8 -1M824.4 419.1l3.7 -0.5l2.2 -0.7l3.3 -1.3M820.3 445.5l3.7 0.2l2.3 -0.5l3 -1.3M832.9 387.2l2.2 -0.8l2.7 -0.4M833.9 385.7l2.5 -0.2l3.2 -1.5M824.2 420.6l2.2 0.3l3.7 -0.8l3.1 -0.8M824.5 423.6l2.8 -0.1l3 -0.4M832 386.4l3.1 -0.3l2.4 -0.8l3.1 -0.5M828.5 391.7l2.6 0.9M828.5 373.7l2.7 -0.4M830.5 428.5l2.5 0.1M819.8 366.4l2.2 1.7M816.8 442.7l2.1 -1.5l2.7 -1.1l2.5 -0.7M820.7 377.4l3.8 1.2l2.8 2l2.6 2.8M839.2 405.6l3.6 -0.6l2.2 0M817.7 360.3l2.6 -0.5M822 377.4l3.3 -1.7M829.4 411.6l3.5 -0.1l3 0.1M817.1 372.3l3.2 1.3l2.8 0.8l3.2 1.1M830.7 388l3.1 1.4l3.8 1.3l2.4 1.6M835.2 402.3l3.9 1M828.5 427.6l3.5 -0.8l3.6 -1.2M824.7 394.9l3 -1.3l2.9 -0.7l3.3 0.4M834.6 395.1l3.3 -0.9l3.3 -0.4M822 432.1l3.4 0.1l3.6 0.8M837.8 402.1l2.7 -1.3M830.6 384.1l2.3 -2.4l1.6 -1.6M834 420.2l3 0.7l3.5 1M834.3 428.7l2.7 -1.8l2.2 -1.1M838.1 400.2l3.8 -1M838.8 397.7l2.3 0.2M836.9 404.8l2.7 -1.4l2.4 -1M838 412l2.9 -1.4l3.8 -1.2M837.6 397.7l2.1 1.1l2.4 2.2M831.6 410.8l2.2 0.8M818.1 449.6l3.3 2M836.8 419l2.2 0.5l3.8 0.8l2.9 -1.2M828.3 384.5l1.9 1.6l3.7 0.6l2.7 1.1M829.7 403.4l3.7 0.2l3.4 0.4l3.9 -0.2M822.6 439.8l2.6 -0.8M821.1 440l3.3 0.3l2.9 1.6l3.1 1.5M828.4 400.8l2.8 0.3l3.3 0l2.6 0.7M840.3 397.6l2 -2.1M829.6 386l3 0.7l3.3 -0.1M819.6 371.9l2.3 0.2l2.3 0M819.6 364.4l3 1.4l2.5 2.7l2 2.1M826.6 433.4l3.8 1.4l3.2 1.8l2.3 0.9M834 423.9l2.9 1.9l2.6 2l2 1.6M830 401.1l3.6 0.3M824 424.2l2.5 1.3l2.8 0.8M833 415.3l3.4 0.6l3 -0.1M821.2 368.1l2.9 -0.8M821.3 441.9l1.8 -1.4l1.8 -1.3M823.4 371.2l2.5 -0.2M825.4 424.1l2.8 -0.2l3.1 -0.8l3.6 -0.5M827.8 438l2.1 1.5M831.7 412.4l2.6 -1.8l2.4 -2.5l2.1 -2.3M834.3 392.9l3.9 -0.1l3.2 0.4l2.6 1M835.5 386.7l3.1 1.7M832.5 419.4l1.8 1.4l2.6 1.3M822 438.7l3.3 -2.2l2.8 -1M820.9 366l3.7 0.9l2.7 -1l2.3 -1.2M820.5 365.6l3.2 -1l3 -1.5M832 383.9l2.1 -1.2M835.6 402.4l3.7 -1.5l2.1 -1M826.8 387.3l3.1 1l3 -0.1l3.4 0.5M830 420.4l2.8 -2.9l1.6 -1.6M828.7 392.4l3.2 1.4M826.3 402.7l2.2 -0.3l3.7 -0.4l3.1 -0.7M827.7 400.9l3.1 -0.3l2.9 0.9M837.2 409.6l3.2 0.9l3.6 1M829.4 393.9l2.1 -1.2l3.8 -0.1M825 386.6l3 -1.2l2.9 -1.8M826.3 429l2.6 -0.4l2.8 0.4l3.4 -1.3M828.9 403.6l3 0.4l2.2 0.6M833.6 413.1l3.6 -1.7l2.8 -0.3l3.8 -0.6M824.2 372.5l2.6 2.3M830.3 400.7l2.3 0.3M829.1 429.9l3 2.3M824.4 383.4l2.2 -1.1M830.3 404.8l2.4 -1.3l2.1 -1.1M834 406.4l3.2 0.8l2.6 1.2l2 2.1M828 392.4l2 1.5M834.3 416.3l2.3 0.6l3.9 0.7M824.6 375.8l3.5 -1.5l2.7 -1.6M831.7 417.3l1.6 1.7M824.3 430l3.1 -1.5M830.7 383.8l2.3 1M826.1 397.9l3.7 0l3.5 -0.2l3.2 -0.2M819 371.1l3.6 0.8l3.6 1M835.1 409.4l3.5 0.2M826.6 411.5l2.7 0.2l3.5 -1.8l2.1 -0.8M829.4 406.2l2.6 1l2.6 0l2.6 -0.1M832 404.7l2.2 -0.7l3.4 -0.1l1.9 -1.3M837 402.4l2.7 -0.1l2.5 -0.1l3.5 -1.1M832.3 388.1l2.2 -2.2l2.7 -1.8M818.7 434.4l2.1 1.8l2 2.1l2.5 2.4M823.5 373.8l1.9 -1.9l1.7 -1.8M827.4 415.9l3.3 -1.4l3.1 -2.1M831.4 418.8l1.9 1.2l2.2 1.9l2.7 2.1M830.5 406.8l2.7 -0.6l2.8 -0.2l2.2 0.6M838.7 408.3l2.5 -2.6l3 -2.5M817.9 361.3l2.3 -2.5l2.4 -2.1M827.3 418.5l1.9 2l2.1 2.2M832.3 398.7l2.8 -1.2l3.7 -1l2.4 -0.3M836.8 395.6l2.5 2.3l2.5 1.7l2.8 2.5M822.8 444.5l3.1 -0.4M825.8 439.9l3.2 0.7M826.3 381.5l3 -2.1l3.7 -0.6l3.1 -0.6M830.8 394.6l2.4 -1l2.9 -0.4l3.4 0.7M832.3 413.3l2.8 -2.9l1.6 -1.7l2.7 -2.8M820 373.4l3.9 -0.3l2.9 -0.5l2.6 -0.9M817.6 438.7l2.6 -0.1l3.6 -0.3M826.2 413.4l3.1 -0.7l2.2 0.1l3.3 0.3M837.6 402.8l3.5 -0.5M827.1 391.8l3.3 -0.8l2.5 -0.9M828.9 392.8l2.8 2.3M840.9 405.6l2.6 -0.7M833.4 393.5l2.2 -1.8l3.1 -2M836.2 388.3l3.6 1.2M824 441.6l3 0.9l2.2 0.3M828.6 391.5l3.9 -0.4M835.1 424.7l3.3 -0.6l2.4 -0.2l3.4 -0.2M840.4 399.4l3.5 -0.8M818.9 446.1l2.5 0.8M830.1 402.9l2.4 -2.6l2.5 -2.5M823.6 373l2.4 -2.6l1.8 -1.8M827.6 427.4l2.5 2.5M817.5 444.4l2 1.9l2.2 0.7M822.2 440.5l2.5 -2.6M825.4 413.8l3.8 -0.5l2.8 -1.4l2.5 -1.4M830.6 415.2l2.2 -2.4l1.9 -1.7l2.4 -0.9M827.7 395.1l2.5 -1.8l2.8 -2M831.6 418.6l2.3 -0.6l2.4 -0.5l2.7 0.4M826.2 436l2.9 1.1l3.4 -0.1l3.1 0.3M829.4 411.4l2 -2.2l1.8 -1.8l1.7 -1.8M839.6 395.6l2.2 0.2M840.1 414.1l2.8 1.8l2.4 1M823.9 435.1l2.8 -0.3l3.6 0.2M836.2 385.6l1.9 2M828.5 426.3l2.3 2.4l2.9 2.4l2.8 0.5M830.8 404.1l3.8 0.4l2.6 1l3.3 1.6M830.8 404.8l2.8 0.4l3.1 0.7M828.5 387.2l3.5 0l3.6 0.5M832.8 393.3l3.1 1.4" fill="none" stroke="#e8e832" stroke-width="0.7" opacity="0.4"/>
<path d="M819.4 402.7l2.7 -0.8l3.3 -1.3l3.6 -1.6l3.1 -1.1M822.2 399.4l3.2 1.6l2.9 1.8l1.8 1.8l2.5 2.1M817.3 396.9l2.2 0.9l2.7 1.6l3.2 1.1l3.1 2M824.6 405l3.1 -0.5l2.7 -0.2l2.6 0l3.1 -0.4M826.1 413.8l2.6 -1.3l3.2 -2.2M816.7 415.6l3.6 -1.4l3.6 -0.8l2.2 0.4l3.5 1.7M819 420.5l2.3 -0.5l3.6 -0.8l2.8 -2.2l2.6 -2.8M817.8 416.3l2.4 -0.1l2.7 0.2l3.8 0l2.6 -0.6M819.9 401.1l3.8 -0.3l3.8 -0.8M817.5 401.7l2.4 -0.6l2.4 -1.4l2.5 -2.3l3 -2M818 385.6l3.1 1.8l3.6 0.7l2.2 0.5l3.2 -0.1M821.4 397.6l2.5 0.6l3.8 1.2l2.4 1.3l2.7 1.1M816.4 413.5l1.9 1.5l2.2 2.2l2.1 2M824 401.6l2.1 -1.9l2.4 -2l2 -2.1l2.8 -2.9M817.4 418l2.3 0.3l1.8 1.6l3 2.6l2.1 1.9M821.6 416.4l1.9 1.6l2.8 1.7l2.4 1.2l3.7 1.2M819.4 416.2l2.2 0.2l2.4 -0.3l3 -0.7l2.3 0.2M823 403.6l2.7 1.4l2.9 1.5l2.4 0.5l2.8 2.6M820.1 422.3l2.6 -0.2l2.2 0.3l3.8 1.1l3.5 1.7M820 396l2.6 1.3l2 1.7l2.9 0.9M818 406.8l2.7 -0.3M816.7 435.2l2.3 0.8M821.7 413l2.6 0.6M824.3 409.1l2.1 1.2l2.4 1.4M816.2 439.7l2.1 -1.2l2 -2.1M822.5 389.9l1.7 -1.8M822.3 420.9l3.5 -0.4l3.6 -0.1M818.6 428.5l2.2 -0.6l2.2 -0.6M816.7 418.7l2.2 -1.3l3.2 -1.8l2 -1.1M816.6 434l2.2 1.5l3.2 1.1M818.6 419.3l2.4 0.9M815.9 375.1l2.7 0.8l3.1 0.9l3.3 1.4M817.6 428.6l3.1 -1.2M824.2 405.1l3.3 -2l3.5 -1.3M816.2 418.5l3.7 0.9l2.5 -0.2M823.2 412.9l2.3 -1.8M815.9 390.2l3.7 0.5l2.8 1.1M818.4 434.7l2.7 -2.2l2.6 -2.5M816.3 388.3l2.9 0.6M815.9 427.1l3.1 1.6M820.9 400.1l3.1 0.3l2.6 0.6M819.3 400.3l2.5 0.8M821.8 396.1l3.2 -0.9M817.4 394.8l3.2 -1.1l3.6 -0.8M823 408.2l2.3 1.3l2.7 1.4M819.4 410.2l3.2 2.2M818.5 421.6l2.3 2l3.3 1.3l2.9 1M820 422.4l2.4 0.1l2.3 1M825.9 399.8l2.3 -1.8M819.1 407.2l2.3 0.4l2.4 0.9l1.6 1.7M817.5 406.8l2.6 -1.2l3 -0.9l3.2 -1M820.2 401.3l3.3 -0.8l2.8 -1l2.2 -1.2M823.4 415.7l3.7 0.4l3.7 0.1M822.5 424.5l2.3 1.1M822.6 398.9l2.9 -1.7l3.2 -0.8l3.9 0.2M823.6 399.8l2.9 -0.1l3.8 0M822.3 409.8l3.4 1.5M822.8 408.1l2 -1.1l3.4 -1.9l3.2 -1.6M817.8 416.5l2.2 0.2l3.3 0.8M817 427.2l2.6 -1.4l3.3 -1.8l3.1 -1.8M817 372.2l2.7 0.6M815.9 410.3l1.9 1.9M816.8 379.6l2.8 -0.3l1.9 -1.1l2.6 -0.8M823.3 420.9l3.6 0.7l3.5 -0.2M817.5 406.9l1.7 1.5l2.7 1.9l2 2M822.7 394.3l3.5 -0.5l3 -1.3l3.3 -1.3M818.1 396.4l3.6 1.4l2.3 1M824.1 386.1l2.4 -0.7M828.3 404.6l2.4 2.6M822 384.1l2.2 0.7M823.7 395l3.7 0.6l2.2 0.4l2.7 2.2M817 409.9l2.6 -2.3l3.7 -0.9M822.4 412.3l3.5 -1.2M816.2 439.8l3.1 0.3M819.6 397.2l2.3 -1.8l2.4 -1.1l3.6 -0.7M820.4 375.1l2.4 0.9M815.9 404.6l3.6 -1.8l3.1 -0.6l2.5 0M827.4 409.9l2.3 -2.1M818.6 430.9l3.6 0l3.9 -0.2M817.5 389.5l3 -0.1M817.3 391l2.3 1.6l2.4 1.6M823.7 409.1l3.5 -1.3M821.6 405.5l2.8 -2.4l1.8 -1.9M815.8 437.2l2.4 0.5M819 395.2l2.2 -2.3M826.7 415.8l2.5 -1.5l1.9 -1.9M822.8 418.2l3.1 -1.4l3.4 -1.3l3.8 -0.9M822.2 407.9l2.4 1.5l3.4 1.5l2.3 1.9M815.9 414.6l2.9 -1.1M827.1 401.6l2.4 -0.4l2.9 -2.1M819.1 425.4l3.7 -0.9l3.1 -0.7l2.6 0M820.4 381.3l3.3 -1.4M817.4 428.1l2.3 0.4M820.7 391.6l3.3 1.8l3 1.6l3.6 1.1M816.7 424l3.9 -0.2M823 390.7l2.3 -0.6l3.4 -0.6l2.3 -0.1M822.8 397.8l2.2 -0.8l2.5 -0.8M824.8 402.9l3.3 1.9l1.8 1.8M817.2 420.2l1.9 1.5l2.9 2.5l2.2 2.3M824.1 407.7l1.9 1.2l2.5 0.3l3.9 0.3M822.8 410.6l3 1.4l2.6 1.9l2.5 1.4M822.7 401.3l2.7 0.2l3 -0.4M819.4 380l2.8 0.7l3.9 0.4l2.6 0.8M824.9 397.5l3.5 0.6l2.3 1M820.4 432.4l2.3 0.6M819.6 401.3l2.6 1.6l2.2 2M822 419.1l2.2 0.1M825.6 415.9l2.8 1.4M820.1 416.1l2.7 2.8M819.4 412.1l2.9 0.6M823 417.1l2.4 -0.9l3.5 0.1l2.9 0.6M821.3 410.4l3.3 -1l3.2 -1.4l2.7 -1.4M817.9 414.5l2.9 0.4l2.6 0.5l3.6 1.4M815.8 433.6l2.4 -0.1M818 428.5l3.3 0.5M819.1 417.3l2.1 -0.8l2.7 -1.7M821.6 405.3l3.7 0l3 -0.3l3.8 -0.1M818.3 408.8l3.6 0.9M823.9 394.2l2.8 -1.7M820.6 395.2l2.5 0.9l2.6 0.5l2.2 -0.5M822.7 407l2.7 0.9l2.5 0.6l3.4 0.8M817.6 405.6l2.5 1.5M826.5 402.1l3.7 1.2l3.9 0.5M815.8 415.3l3.7 1.2l3.8 0.6l2.3 0.4" fill="none" stroke="#e8e832" stroke-width="0.7" opacity="0.5"/>
<path d="M848 433.7Q884.8 443 912.6 446.4" fill="none" stroke="#e4e432" stroke-width="0.9" opacity="0.5"/>
<ellipse cx="916.4" cy="354.4" rx="3.6" ry="1.0" fill="#d4e04a" opacity="0.2" filter="url(#hblur1)"/>
<ellipse cx="916.4" cy="365.8" rx="3.6" ry="1.0" fill="#d4e04a" opacity="0.7" filter="url(#hblur1)"/>
<ellipse cx="916.4" cy="377.3" rx="3.6" ry="1.0" fill="#d4e04a" opacity="0.3" filter="url(#hblur1)"/>
<ellipse cx="916.4" cy="388.7" rx="3.6" ry="1.0" fill="#d4e04a" opacity="0.3" filter="url(#hblur1)"/>
<ellipse cx="916.4" cy="400.2" rx="3.6" ry="1.0" fill="#d4e04a" opacity="0.5" filter="url(#hblur1)"/>
<ellipse cx="916.4" cy="411.6" rx="3.6" ry="1.0" fill="#d4e04a" opacity="0.5" filter="url(#hblur1)"/>
<ellipse cx="916.4" cy="423.1" rx="3.6" ry="1.0" fill="#d4e04a" opacity="0.7" filter="url(#hblur1)"/>
<ellipse cx="916.4" cy="434.5" rx="3.6" ry="1.0" fill="#d4e04a" opacity="0.7" filter="url(#hblur1)"/>
<ellipse cx="916.4" cy="457.4" rx="3.6" ry="1.0" fill="#d4e04a" opacity="0.3" filter="url(#hblur1)"/>
</g>
<rect x="813.4" y="352.9" width="96.2" height="106.4" fill="none" stroke="#0a0a0a" stroke-width="1.1" stroke-dasharray="2 1.6"/>
<ellipse cx="916.6" cy="446.4" rx="3.3" ry="1.25" fill="#ecdc38"/>
<ellipse cx="916.6" cy="446.4" rx="5.4" ry="3.5" fill="none" stroke="#f6f6f6" stroke-width="1" stroke-dasharray="1.1 1.4"/>
<text x="925.8" y="450.2" font-size="11.5" fill="#f6f6f6" text-anchor="middle">8</text>
</g>
<g id="stiles" font-family="'Liberation Sans', 'DejaVu Sans', sans-serif">
<path d="M572.9 251.9L592.9 245.2L592.9 282.4L572.9 289.9Z" fill="#000"/>
<text transform="matrix(0.900 -0.302 0 1.300 582.9 267.4)" x="0" y="8.9" font-size="25" text-anchor="middle" fill="#e2e2e2" stroke="#e2e2e2" stroke-width="0.8">2</text>
<path d="M766.6 252.4L787.2 244.9L787.2 282.6L766.6 289.6Z" fill="#000"/>
<text transform="matrix(1.000 -0.364 0 1.150 776.9 267.4)" x="0" y="8.2" font-size="23" text-anchor="middle" fill="#cfcfcf" font-style="italic" stroke="#cfcfcf" stroke-width="0.5">2</text>
<path d="M573.1 389.4L593.4 381.8L593.4 419.6L573.1 426.6Z" fill="#000"/>
<text transform="matrix(0.900 -0.337 0 1.250 583.2 404.4)" x="0" y="9.2" font-size="26" text-anchor="middle" fill="#dadada" font-style="italic" stroke="#dadada" stroke-width="0.3">8</text>
<path d="M766.6 389.4L787.2 381.8L787.2 420.5L766.6 427Z" fill="#000"/>
<text transform="matrix(0.900 -0.332 0 1.250 776.9 404.7)" x="0" y="9.6" font-size="27" text-anchor="middle" fill="#ececec" font-style="italic" stroke="#ececec" stroke-width="0.8">8</text>
</g>
<g id="cbarg">
<rect x="954.8" y="279.3" width="10.8" height="119.7" fill="url(#cbar)" stroke="#2a2a2a" stroke-width="0.9"/>
<text x="959.2" y="267" font-size="14.4" text-anchor="middle">max</text>
<text x="959.8" y="418" font-size="14" text-anchor="middle">0</text>
</g>
<g id="wm">
<defs><filter id="wms" x="-10%" y="-30%" width="120%" height="170%">
<feGaussianBlur in="SourceAlpha" stdDeviation="1.0" result="b"/><feOffset in="b" dx="0.4" dy="0.7" result="o"/>
<feComponentTransfer in="o" result="s"><feFuncA type="linear" slope="0.6"/></feComponentTransfer>
<feMerge><feMergeNode in="s"/><feMergeNode in="SourceGraphic"/></feMerge></filter></defs>
<g filter="url(#wms)" opacity="0.62">
<rect x="9.7" y="453.8" width="3.4" height="16.6" rx="1.6" fill="#fff"/>
<path d="M23 458.8C17.6 459.6 15.4 462.2 16.6 465.4C18.2 469.6 27.4 470.8 33.6 466.2" fill="none" stroke="#fff" stroke-width="3" stroke-linecap="round"/>
<circle cx="27.6" cy="455.8" r="3.3" fill="none" stroke="#fff" stroke-width="2.3"/>
<circle cx="36.4" cy="455.8" r="3.3" fill="none" stroke="#fff" stroke-width="2.3"/>
<text x="48" y="469.4" font-family="'Liberation Sans', 'Noto Sans CJK SC', 'WenQuanYi Zen Hei', sans-serif" font-weight="bold" font-size="19.8" fill="#fff" textLength="79.5" lengthAdjust="spacingAndGlyphs">大数跨境</text>
</g></g>
</svg>
</body></html>
